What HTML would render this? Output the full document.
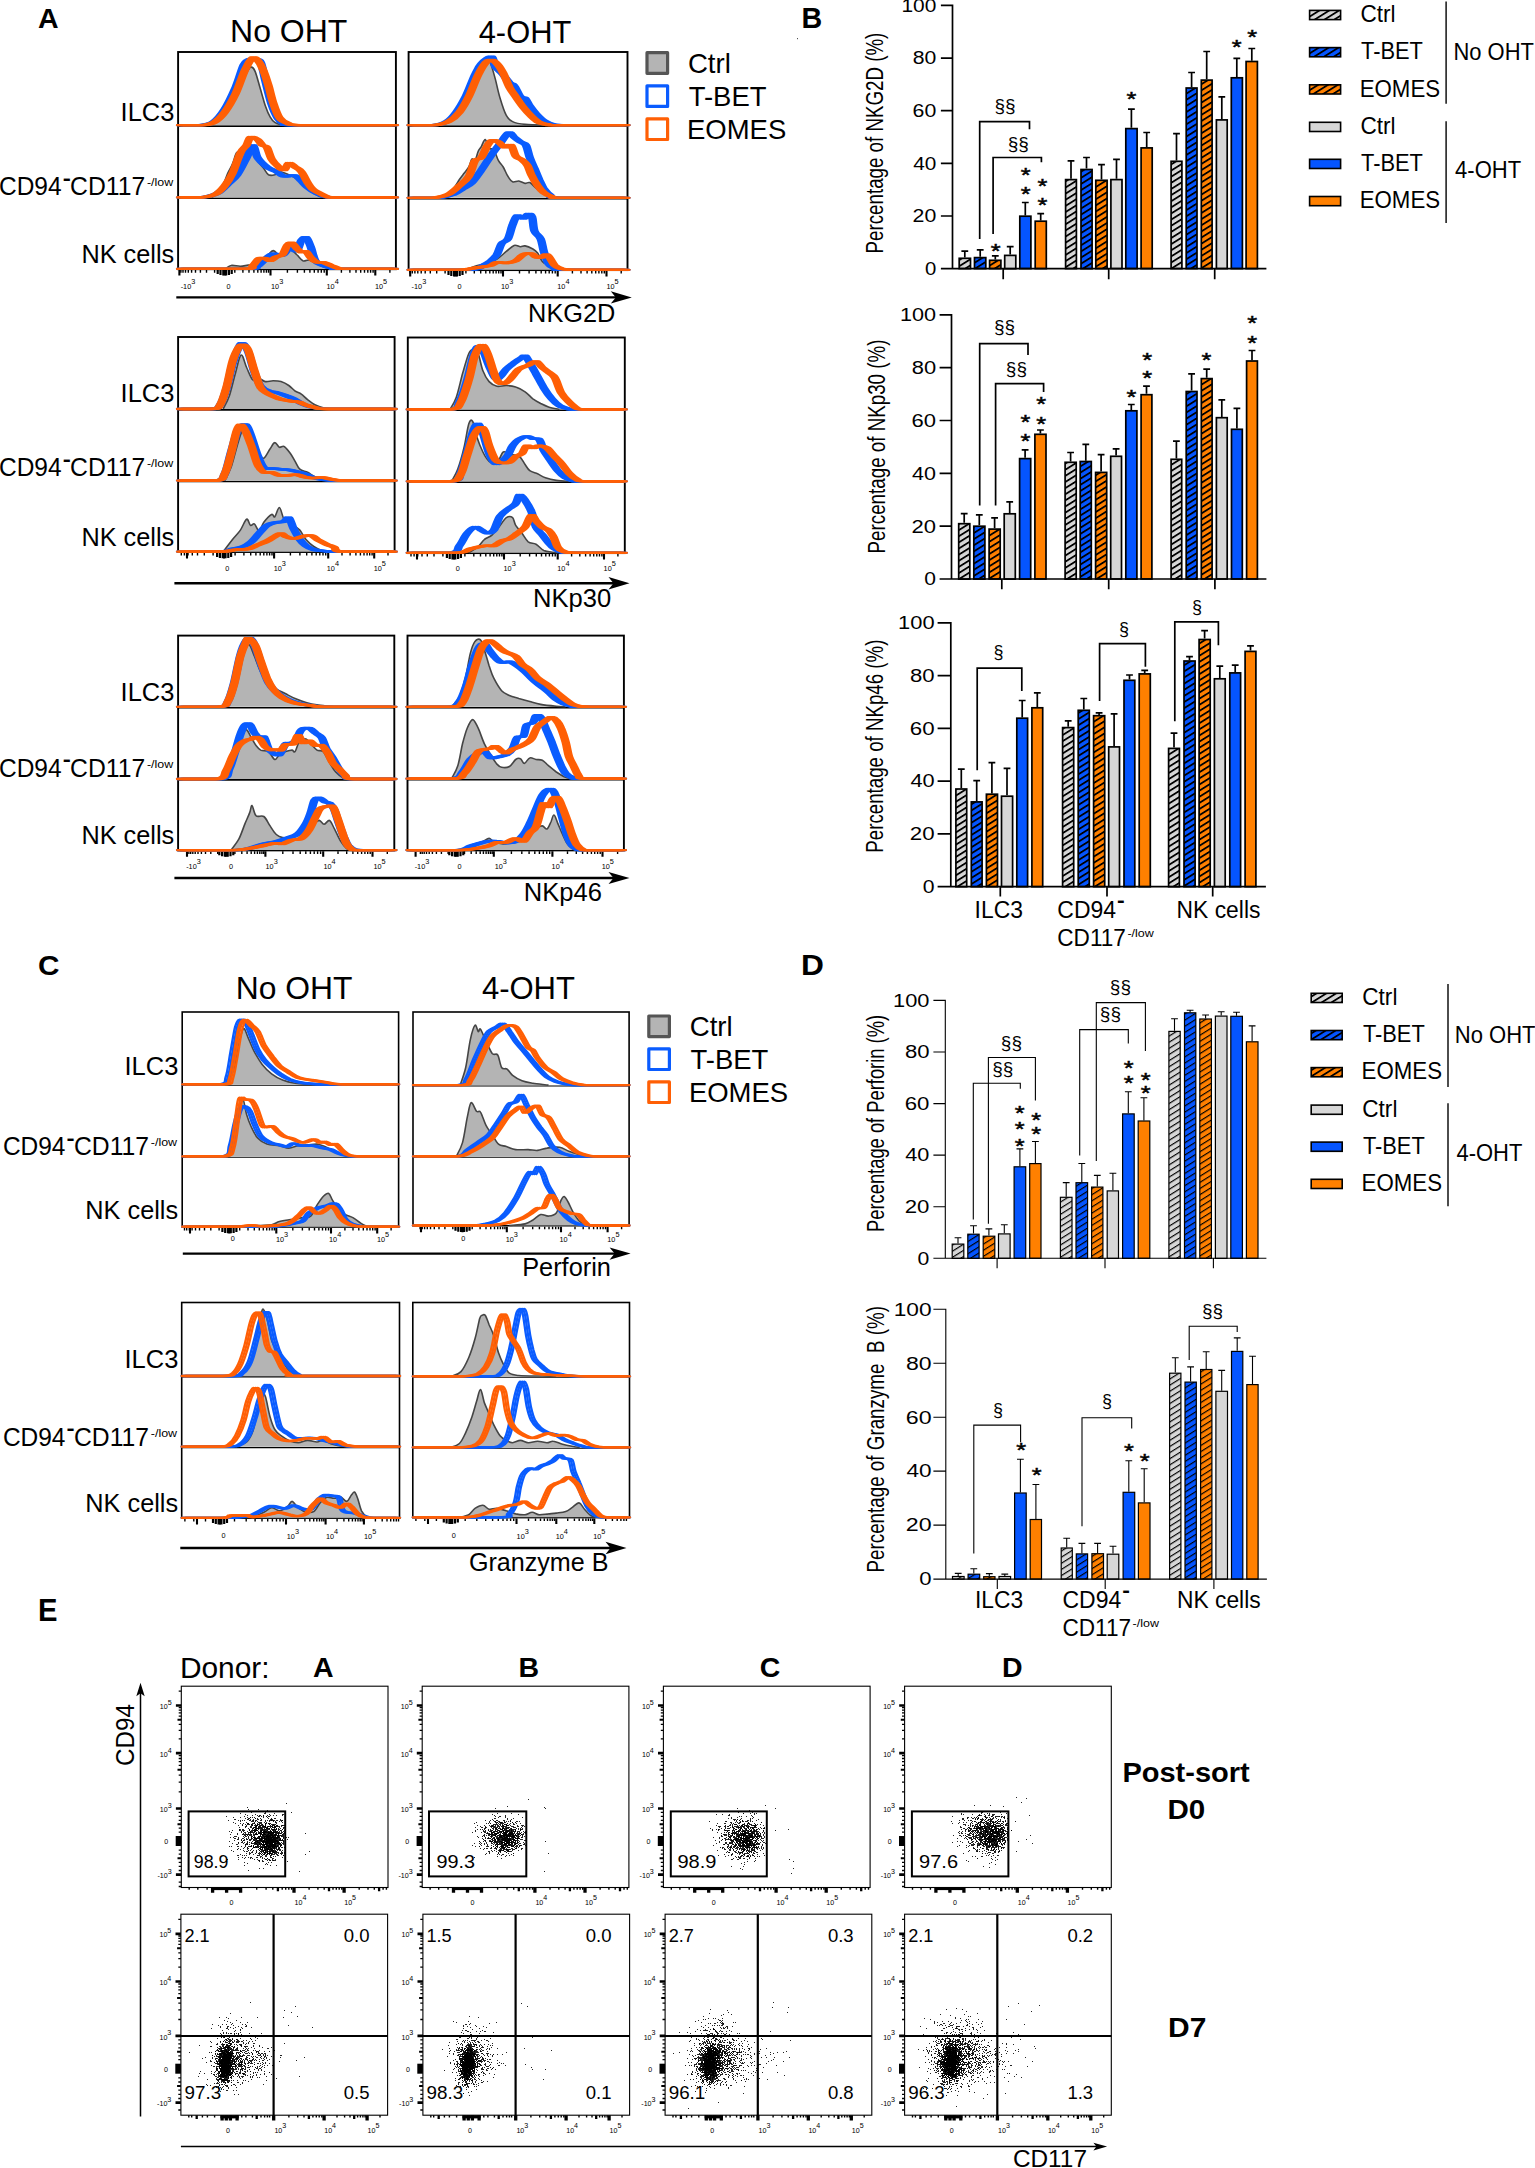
<!DOCTYPE html>
<html><head><meta charset="utf-8"><title>Figure</title>
<style>html,body{margin:0;padding:0;background:#fff}svg{display:block}text{font-family:'Liberation Sans', sans-serif;fill:#000}</style>
</head><body>
<svg width="1535" height="2168" viewBox="0 0 1535 2168">
<defs>
<pattern id="hB" patternUnits="userSpaceOnUse" width="5.2" height="5.2" patternTransform="rotate(-32)"><rect x="0" y="0" width="5.2" height="1.8" fill="#000"/></pattern>
<pattern id="hD" patternUnits="userSpaceOnUse" width="5.2" height="5.2" patternTransform="rotate(-32)"><rect x="0" y="0" width="5.2" height="1.15" fill="#000"/></pattern>
</defs>
<rect width="1535" height="2168" fill="#fff"/>
<text x="37.9" y="27.9" font-size="28.1" font-weight="bold" textLength="20.6" lengthAdjust="spacingAndGlyphs">A</text>
<text x="230.1" y="42.3" font-size="31.2" textLength="117.3" lengthAdjust="spacingAndGlyphs">No OHT</text>
<text x="478.7" y="42.6" font-size="31.2" textLength="92.6" lengthAdjust="spacingAndGlyphs">4-OHT</text>
<rect x="178.1" y="52" width="217.8" height="217.2" fill="#fff" stroke="#000" stroke-width="1.9"/>
<path d="M178.1 126.1L395.9 126.1" stroke="#000" stroke-width="1.5999999999999999" fill="none" />
<path d="M178.1 198.3L395.9 198.3" stroke="#000" stroke-width="1.5999999999999999" fill="none" />
<path d="M224.7 270.1v5.5M270.5 270.1v5.5M326.8 270.1v5.5M375.3 270.1v5.5M179.4 270.1v5.5" stroke="#000" stroke-width="2.1" fill="none"/>
<path d="M287.4 270.1v2.6M297.4 270.1v2.6M304.4 270.1v2.6M309.9 270.1v2.6M314.3 270.1v2.6M318.1 270.1v2.6M321.3 270.1v2.6M324.2 270.1v2.6M341.4 270.1v2.6M349.9 270.1v2.6M356 270.1v2.6M360.7 270.1v2.6M364.5 270.1v2.6M367.8 270.1v2.6M370.6 270.1v2.6M373.1 270.1v2.6M389.9 270.1v2.6M234.8 270.1v2.6M214.6 270.1v2.6M242.9 270.1v2.6M206.5 270.1v2.6M249 270.1v2.6M200.4 270.1v2.6M253.9 270.1v2.6M195.5 270.1v2.6M257.8 270.1v2.6M191.6 270.1v2.6M261.1 270.1v2.6M188.3 270.1v2.6M263.9 270.1v2.6M185.5 270.1v2.6M266.4 270.1v2.6M183 270.1v2.6M268.5 270.1v2.6M180.9 270.1v2.6" stroke="#000" stroke-width="1.4" fill="none"/>
<path d="M217.7 270.1v4.0M220.5 270.1v5.0M223.3 270.1v5.4M226.1 270.1v5.4M228.9 270.1v5.0M231.7 270.1v4.0" stroke="#000" stroke-width="2.2" fill="none"/>
<text x="180.7" y="289.3" font-size="7.3" fill="#222">-10<tspan dy="-5" font-size="7.3">3</tspan></text>
<text x="228.6" y="288.8" font-size="7.3" text-anchor="middle" fill="#222">0</text>
<text x="271" y="289.3" font-size="7.3" fill="#222">10<tspan dy="-5" font-size="7.3">3</tspan></text>
<text x="326.5" y="289.3" font-size="7.3" fill="#222">10<tspan dy="-5" font-size="7.3">4</tspan></text>
<text x="374.9" y="289.3" font-size="7.3" fill="#222">10<tspan dy="-5" font-size="7.3">5</tspan></text>
<path d="M206 125.2C207.8 124.3 213 123.5 216.9 120C220.8 116.6 225.5 110.4 229.4 104.4C233.3 98.4 237.2 89.8 240.4 84.1C243.5 78.4 246.3 72.9 248.2 70C250 67.1 250.1 66.6 251.3 66.9C252.5 67.1 253.8 68.2 255.2 71.6C256.6 75 258.2 81.5 259.9 87.2C261.6 92.9 263.7 101 265.4 106C267.1 110.9 268.5 114.2 270.1 116.9C271.6 119.7 272.7 121 274.8 122.4C276.8 123.8 281.3 124.7 282.6 125.2L282.6 125.2L206 125.2Z" fill="#b4b4b4" stroke="none"/>
<path d="M206 125.2C207.8 124.3 213 123.5 216.9 120C220.8 116.6 225.5 110.4 229.4 104.4C233.3 98.4 237.2 89.8 240.4 84.1C243.5 78.4 246.3 72.9 248.2 70C250 67.1 250.1 66.6 251.3 66.9C252.5 67.1 253.8 68.2 255.2 71.6C256.6 75 258.2 81.5 259.9 87.2C261.6 92.9 263.7 101 265.4 106C267.1 110.9 268.5 114.2 270.1 116.9C271.6 119.7 272.7 121 274.8 122.4C276.8 123.8 281.3 124.7 282.6 125.2" fill="none" stroke="#454545" stroke-width="1.6" stroke-linejoin="round"/>
<g fill="none" stroke="#0a5cff" stroke-width="2.3" stroke-linejoin="round" stroke-linecap="round"><path id="p1" d="M180.1 125.2C183.7 125.2 195.7 125.2 201.3 125.2C206.9 124.6 209.9 124.3 213.8 121.6C217.7 118.9 221.1 114.8 224.7 109.1C228.4 103.4 232.5 94.5 235.7 87.2C238.8 79.9 241.4 69.9 243.5 65.3C245.6 60.8 246.3 60.9 248.2 59.9C250 58.8 252.3 58.7 254.4 59.1C256.5 59.5 258.9 58.6 260.7 62.2C262.5 65.8 263.5 73.9 265.4 81C267.2 88 269.5 98.2 271.6 104.4C273.7 110.7 275.8 115.3 277.9 118.5C280 121.7 281.3 122.5 284.1 123.6C287 124.8 276.6 124.9 295.1 125.2C313.5 125.2 378.3 125.2 394.9 125.2"/><use href="#p1" x="-3.1"/><use href="#p1" x="-1.55"/><use href="#p1" x="1.55"/><use href="#p1" x="3.1"/></g>
<g fill="none" stroke="#ff5f05" stroke-width="2.3" stroke-linejoin="round" stroke-linecap="round"><path id="p2" d="M180.1 125.2C183.7 125.2 195.7 125.2 201.3 125.2C206.9 124.7 209.9 124.6 213.8 122.4C217.7 120.2 221.1 117.1 224.7 112.2C228.4 107.4 232.3 100.5 235.7 93.5C239.1 86.4 242.2 76 245 70C247.9 64 250.5 58.8 252.9 57.5C255.2 56.2 257.3 59.9 259.1 62.2C260.9 64.5 262.2 67.7 263.8 71.6C265.4 75.5 266.9 80.4 268.5 85.7C270.1 90.9 271.4 97.5 273.2 102.8C275 108.2 277.1 114.3 279.4 117.7C281.8 121.1 283.4 121.9 287.3 123.2C291.2 124.4 285 124.9 302.9 125.2C320.8 125.2 379.6 125.2 394.9 125.2"/><use href="#p2" x="-3.1"/><use href="#p2" x="-1.55"/><use href="#p2" x="1.55"/><use href="#p2" x="3.1"/></g>
<path d="M212.2 197.4C213.8 195.7 219 191.3 221.6 187.3C224.2 183.2 226 177.1 227.8 173.2C229.7 169.3 231.1 167.2 232.5 163.8C234 160.4 235.1 155 236.4 152.9C237.8 150.8 238.9 151.3 240.4 151.3C241.8 151.3 243.2 153.7 245 152.9C246.9 152.1 249.2 145.3 251.3 146.6C253.4 147.9 255.5 157 257.6 160.7C259.6 164.3 262 166.2 263.8 168.5C265.6 170.9 266.7 173.7 268.5 174.8C270.3 175.8 272.9 175.3 274.8 174.8C276.6 174.2 277.1 171.6 279.4 171.6C281.8 171.6 285.7 173.5 288.8 174.8C292 176.1 295.1 177.1 298.2 179.5C301.3 181.8 304.2 186.1 307.6 188.8C311 191.6 315.4 194.4 318.5 195.9C321.7 197.3 325 197.2 326.3 197.4L326.3 197.4L212.2 197.4Z" fill="#b4b4b4" stroke="none"/>
<path d="M212.2 197.4C213.8 195.7 219 191.3 221.6 187.3C224.2 183.2 226 177.1 227.8 173.2C229.7 169.3 231.1 167.2 232.5 163.8C234 160.4 235.1 155 236.4 152.9C237.8 150.8 238.9 151.3 240.4 151.3C241.8 151.3 243.2 153.7 245 152.9C246.9 152.1 249.2 145.3 251.3 146.6C253.4 147.9 255.5 157 257.6 160.7C259.6 164.3 262 166.2 263.8 168.5C265.6 170.9 266.7 173.7 268.5 174.8C270.3 175.8 272.9 175.3 274.8 174.8C276.6 174.2 277.1 171.6 279.4 171.6C281.8 171.6 285.7 173.5 288.8 174.8C292 176.1 295.1 177.1 298.2 179.5C301.3 181.8 304.2 186.1 307.6 188.8C311 191.6 315.4 194.4 318.5 195.9C321.7 197.3 325 197.2 326.3 197.4" fill="none" stroke="#454545" stroke-width="1.6" stroke-linejoin="round"/>
<g fill="none" stroke="#0a5cff" stroke-width="2.3" stroke-linejoin="round" stroke-linecap="round"><path id="p3" d="M180.1 197.4C183.7 197.4 195.1 197.4 201.3 197.4C207.4 196.8 212.5 195.7 216.9 193.5C221.3 191.3 224.5 187.3 227.8 184.1C231.2 181 234.1 179.2 237.2 174.8C240.4 170.3 244 162.5 246.6 157.6C249.2 152.6 251 145.1 252.9 145.1C254.7 145.1 255.2 153.9 257.6 157.6C259.9 161.2 263.8 164.6 266.9 167C270.1 169.3 273.5 170.1 276.3 171.6C279.2 173.2 281 175.7 284.1 176.3C287.3 177 292.2 174.8 295.1 175.6C297.9 176.3 299.2 179.1 301.3 181C303.4 183 305 185.2 307.6 187.3C310.2 189.4 313.8 191.9 317 193.5C320.1 195.1 323.2 196.3 326.3 197C329.5 197.4 324.3 197.4 335.7 197.4C347.2 197.4 385.1 197.4 394.9 197.4"/><use href="#p3" x="-3.1"/><use href="#p3" x="-1.55"/><use href="#p3" x="1.55"/><use href="#p3" x="3.1"/></g>
<g fill="none" stroke="#ff5f05" stroke-width="2.3" stroke-linejoin="round" stroke-linecap="round"><path id="p4" d="M180.1 197.4C183.7 197.4 195.4 197.4 201.3 197.4C207.1 196.9 211.4 196.3 215.3 194.3C219.2 192.4 221.9 189.2 224.7 185.7C227.6 182.2 229.9 178.7 232.5 173.2C235.1 167.7 238 157.6 240.4 152.9C242.7 148.2 244.9 147.7 246.6 145.1C248.3 142.5 248.7 138.2 250.5 137.2C252.3 136.3 255.6 138.3 257.6 139.6C259.5 140.9 260.7 143.8 262.2 145.1C263.8 146.4 265.4 145.1 266.9 147.4C268.5 149.8 269.8 156 271.6 159.1C273.5 162.3 275.8 164.3 277.9 166.2C280 168 282.3 170.6 284.1 170.1C286 169.6 287 163.6 288.8 163C290.6 162.5 293 165.5 295.1 167C297.2 168.4 299.2 169 301.3 171.6C303.4 174.2 305.8 179.7 307.6 182.6C309.4 185.5 310.2 187 312.3 188.8C314.4 190.7 317.5 192.2 320.1 193.5C322.7 194.9 325.3 196.3 327.9 197C330.5 197.4 324.6 197.4 335.7 197.4C346.9 197.4 385.1 197.4 394.9 197.4"/><use href="#p4" x="-3.1"/><use href="#p4" x="-1.55"/><use href="#p4" x="1.55"/><use href="#p4" x="3.1"/></g>
<path d="M225.5 268.9C226.4 268.3 228.5 265.9 231 265.5C233.5 265 237.5 266.3 240.4 266.2C243.2 266.2 245.3 265.5 248.2 265.1C251 264.7 254.4 265.4 257.6 263.9C260.7 262.4 264.3 258.3 266.9 256.1C269.5 253.9 271.1 250.6 273.2 250.6C275.3 250.6 277.6 255.3 279.4 256.1C281.3 256.9 282.3 256.3 284.1 255.3C286 254.2 288.3 249.9 290.4 249.8C292.5 249.7 294.6 252.7 296.6 254.5C298.7 256.3 300.8 259.8 302.9 260.8C305 261.7 306.8 259.5 309.1 260C311.5 260.5 314.1 262.6 317 263.9C319.8 265.2 323.7 267 326.3 267.8C329 268.6 331.6 268.7 332.6 268.9L332.6 268.9L225.5 268.9Z" fill="#b4b4b4" stroke="none"/>
<path d="M225.5 268.9C226.4 268.3 228.5 265.9 231 265.5C233.5 265 237.5 266.3 240.4 266.2C243.2 266.2 245.3 265.5 248.2 265.1C251 264.7 254.4 265.4 257.6 263.9C260.7 262.4 264.3 258.3 266.9 256.1C269.5 253.9 271.1 250.6 273.2 250.6C275.3 250.6 277.6 255.3 279.4 256.1C281.3 256.9 282.3 256.3 284.1 255.3C286 254.2 288.3 249.9 290.4 249.8C292.5 249.7 294.6 252.7 296.6 254.5C298.7 256.3 300.8 259.8 302.9 260.8C305 261.7 306.8 259.5 309.1 260C311.5 260.5 314.1 262.6 317 263.9C319.8 265.2 323.7 267 326.3 267.8C329 268.6 331.6 268.7 332.6 268.9" fill="none" stroke="#454545" stroke-width="1.6" stroke-linejoin="round"/>
<g fill="none" stroke="#0a5cff" stroke-width="2.3" stroke-linejoin="round" stroke-linecap="round"><path id="p5" d="M180.1 268.9C191.5 268.9 235.3 268.9 248.2 268.9C261.1 268.4 254.4 268.1 257.6 266.2C260.7 264.4 264.3 259.7 266.9 257.6C269.5 255.5 270.6 254.1 273.2 253.7C275.8 253.3 279.7 256.5 282.6 255.3C285.4 254.1 288 247.3 290.4 246.7C292.7 246 294.8 252.4 296.6 251.4C298.5 250.3 299.8 242.8 301.3 240.4C302.9 238.1 304.5 236.3 306 237.3C307.6 238.4 309.1 242.8 310.7 246.7C312.3 250.6 313.3 257.6 315.4 260.8C317.5 263.9 320.4 264.2 323.2 265.5C326.1 266.7 330 267.7 332.6 268.3C335.2 268.8 328.5 268.8 338.9 268.9C349.2 268.9 385.6 268.9 394.9 268.9"/><use href="#p5" x="-3.1"/><use href="#p5" x="-1.55"/><use href="#p5" x="1.55"/><use href="#p5" x="3.1"/></g>
<g fill="none" stroke="#ff5f05" stroke-width="2.3" stroke-linejoin="round" stroke-linecap="round"><path id="p6" d="M180.1 268.9C190.9 268.9 232.9 268.9 245 268.9C257.2 268.3 250.5 267.2 252.9 265.5C255.2 263.7 257 259.6 259.1 258.4C261.2 257.2 263.5 258 265.4 258.4C267.2 258.8 268.2 261 270.1 260.8C271.9 260.5 274.2 257.9 276.3 256.9C278.4 255.8 280.7 256.5 282.6 254.5C284.4 252.6 285.7 247.1 287.3 245.1C288.8 243.2 290.4 242.3 292 242.8C293.5 243.3 295.1 246.7 296.6 248.3C298.2 249.8 299.8 251.6 301.3 252.2C302.9 252.7 304.5 250.5 306 251.4C307.6 252.3 308.9 255.8 310.7 257.6C312.5 259.5 314.9 261.5 317 262.3C319.1 263.1 320.9 261.8 323.2 262.3C325.6 262.8 328.4 264.4 331 265.5C333.6 266.5 336.5 268 338.9 268.6C341.2 268.9 335.8 268.8 345.1 268.9C354.5 268.9 386.6 268.9 394.9 268.9"/><use href="#p6" x="-3.1"/><use href="#p6" x="-1.55"/><use href="#p6" x="1.55"/><use href="#p6" x="3.1"/></g>
<rect x="408.6" y="52" width="218.9" height="218.1" fill="#fff" stroke="#000" stroke-width="1.9"/>
<path d="M408.6 126.1L627.5 126.1" stroke="#000" stroke-width="1.5999999999999999" fill="none" />
<path d="M408.6 198.7L627.5 198.7" stroke="#000" stroke-width="1.5999999999999999" fill="none" />
<path d="M455.5 271v5.5M503 271v5.5M557.7 271v5.5M606.5 271v5.5M410.2 271v5.5" stroke="#000" stroke-width="2.1" fill="none"/>
<path d="M519.5 271v2.6M529.1 271v2.6M535.9 271v2.6M541.2 271v2.6M545.6 271v2.6M549.2 271v2.6M552.4 271v2.6M555.2 271v2.6M572.4 271v2.6M581 271v2.6M587.1 271v2.6M591.8 271v2.6M595.7 271v2.6M598.9 271v2.6M601.8 271v2.6M604.3 271v2.6M621.2 271v2.6M465.9 271v2.6M445.1 271v2.6M474.3 271v2.6M436.7 271v2.6M480.7 271v2.6M430.3 271v2.6M485.8 271v2.6M425.2 271v2.6M489.8 271v2.6M421.2 271v2.6M493.2 271v2.6M417.8 271v2.6M496.1 271v2.6M414.9 271v2.6M498.7 271v2.6M412.3 271v2.6M501 271v2.6M410 271v2.6" stroke="#000" stroke-width="1.4" fill="none"/>
<path d="M448.5 271v4.0M451.3 271v5.0M454.1 271v5.4M456.9 271v5.4M459.7 271v5.0M462.5 271v4.0" stroke="#000" stroke-width="2.2" fill="none"/>
<text x="411.6" y="289.3" font-size="7.3" fill="#222">-10<tspan dy="-5" font-size="7.3">3</tspan></text>
<text x="459.6" y="288.8" font-size="7.3" text-anchor="middle" fill="#222">0</text>
<text x="501" y="289.3" font-size="7.3" fill="#222">10<tspan dy="-5" font-size="7.3">3</tspan></text>
<text x="557.3" y="289.3" font-size="7.3" fill="#222">10<tspan dy="-5" font-size="7.3">4</tspan></text>
<text x="606.4" y="289.3" font-size="7.3" fill="#222">10<tspan dy="-5" font-size="7.3">5</tspan></text>
<path d="M439.1 125.2C441.2 124.1 447.7 122.2 451.6 118.5C455.5 114.8 459.4 108.3 462.5 102.8C465.7 97.4 467.8 91.9 470.4 85.7C473 79.4 475.6 69.9 478.2 65.3C480.8 60.8 483.9 58.6 486 58.3C488.1 58 489.1 60.2 490.7 63.8C492.2 67.3 493.8 73.7 495.4 79.4C496.9 85.1 498.2 92.2 500.1 98.2C501.9 104.2 504.2 111.4 506.3 115.4C508.4 119.3 509.4 120.1 512.6 121.6C515.7 123.1 519.1 123.8 525.1 124.4C531.1 125 544.6 125.1 548.5 125.2L548.5 125.2L439.1 125.2Z" fill="#b4b4b4" stroke="none"/>
<path d="M439.1 125.2C441.2 124.1 447.7 122.2 451.6 118.5C455.5 114.8 459.4 108.3 462.5 102.8C465.7 97.4 467.8 91.9 470.4 85.7C473 79.4 475.6 69.9 478.2 65.3C480.8 60.8 483.9 58.6 486 58.3C488.1 58 489.1 60.2 490.7 63.8C492.2 67.3 493.8 73.7 495.4 79.4C496.9 85.1 498.2 92.2 500.1 98.2C501.9 104.2 504.2 111.4 506.3 115.4C508.4 119.3 509.4 120.1 512.6 121.6C515.7 123.1 519.1 123.8 525.1 124.4C531.1 125 544.6 125.1 548.5 125.2" fill="none" stroke="#454545" stroke-width="1.6" stroke-linejoin="round"/>
<g fill="none" stroke="#0a5cff" stroke-width="2.3" stroke-linejoin="round" stroke-linecap="round"><path id="p7" d="M410.6 125.2C414.6 125.2 428.3 125.2 434.4 125.2C440.4 124.6 443.3 123.8 446.9 121.6C450.6 119.4 453.2 116.4 456.3 112.2C459.4 108.1 462.5 102.8 465.7 96.6C468.8 90.3 472.4 80.2 475 74.7C477.7 69.2 478.6 66.8 481.3 63.8C484 60.8 489.1 56.2 491.5 56.7C493.8 57.2 493.7 64.2 495.4 66.9C497.1 69.6 499.3 70.5 501.6 73.1C504 75.7 507.4 80.4 509.4 82.5C511.5 84.6 512.3 83.3 514.1 85.7C516 88 518.6 94.5 520.4 96.6C522.2 98.7 523.5 96.6 525.1 98.2C526.6 99.7 527.9 103.4 529.8 106C531.6 108.6 533.7 111.3 536 113.8C538.4 116.3 541 119 543.8 120.8C546.7 122.7 549.8 124 553.2 124.7C556.6 125.2 552 125.1 564.2 125.2C576.4 125.2 616.1 125.2 626.5 125.2"/><use href="#p7" x="-3.1"/><use href="#p7" x="-1.55"/><use href="#p7" x="1.55"/><use href="#p7" x="3.1"/></g>
<g fill="none" stroke="#ff5f05" stroke-width="2.3" stroke-linejoin="round" stroke-linecap="round"><path id="p8" d="M410.6 125.2C414.6 125.2 428.1 125.2 434.4 125.2C440.7 124.6 444.3 123.8 448.5 121.6C452.6 119.4 456 116.4 459.4 112.2C462.8 108.1 465.7 102.8 468.8 96.6C471.9 90.3 475.3 80.4 478.2 74.7C481 69 483.8 64.7 486 62.2C488.2 59.7 489.5 59.5 491.5 59.9C493.4 60.2 495.8 62.3 497.7 64.5C499.7 66.8 501.2 69.4 503.2 73.1C505.1 76.9 507.4 83.3 509.4 87.2C511.5 91.1 513.4 93.2 515.7 96.6C518 100 520.9 104.3 523.5 107.5C526.1 110.8 528.7 113.7 531.3 116.1C533.9 118.6 536.3 121 539.1 122.4C542 123.8 545.7 124.3 548.5 124.7C551.4 125.2 543.4 125.1 556.3 125.2C569.3 125.2 614.8 125.2 626.5 125.2"/><use href="#p8" x="-3.1"/><use href="#p8" x="-1.55"/><use href="#p8" x="1.55"/><use href="#p8" x="3.1"/></g>
<path d="M443.8 197.8C445.3 196.3 450.6 191.9 453.2 188.8C455.8 185.8 457.6 182.1 459.4 179.5C461.2 176.9 462.5 175.3 464.1 173.2C465.7 171.1 467.5 169.3 468.8 167C470.1 164.6 470.9 160.2 471.9 159.1C473 158.1 474 162 475 160.7C476.1 159.4 477.1 153.7 478.2 151.3C479.2 149 480.1 148.6 481.3 146.6C482.5 144.7 483.9 139.3 485.2 139.6C486.5 139.9 487.7 146.5 489.1 148.2C490.6 149.9 492.2 147.7 493.8 149.8C495.4 151.8 496.9 157.8 498.5 160.7C500.1 163.6 501.6 164.3 503.2 167C504.8 169.6 506.3 173.9 507.9 176.3C509.4 178.8 510.7 181 512.6 181.8C514.4 182.6 516.7 180.8 518.8 181C520.9 181.3 523.3 183.1 525.1 183.4C526.9 183.6 527.9 181.8 529.8 182.6C531.6 183.4 533.7 186.2 536 188.1C538.4 189.9 541 192 543.8 193.5C546.7 195.1 551.7 196.8 553.2 197.4L553.2 197.8L443.8 197.8Z" fill="#b4b4b4" stroke="none"/>
<path d="M443.8 197.8C445.3 196.3 450.6 191.9 453.2 188.8C455.8 185.8 457.6 182.1 459.4 179.5C461.2 176.9 462.5 175.3 464.1 173.2C465.7 171.1 467.5 169.3 468.8 167C470.1 164.6 470.9 160.2 471.9 159.1C473 158.1 474 162 475 160.7C476.1 159.4 477.1 153.7 478.2 151.3C479.2 149 480.1 148.6 481.3 146.6C482.5 144.7 483.9 139.3 485.2 139.6C486.5 139.9 487.7 146.5 489.1 148.2C490.6 149.9 492.2 147.7 493.8 149.8C495.4 151.8 496.9 157.8 498.5 160.7C500.1 163.6 501.6 164.3 503.2 167C504.8 169.6 506.3 173.9 507.9 176.3C509.4 178.8 510.7 181 512.6 181.8C514.4 182.6 516.7 180.8 518.8 181C520.9 181.3 523.3 183.1 525.1 183.4C526.9 183.6 527.9 181.8 529.8 182.6C531.6 183.4 533.7 186.2 536 188.1C538.4 189.9 541 192 543.8 193.5C546.7 195.1 551.7 196.8 553.2 197.4" fill="none" stroke="#454545" stroke-width="1.6" stroke-linejoin="round"/>
<g fill="none" stroke="#0a5cff" stroke-width="2.3" stroke-linejoin="round" stroke-linecap="round"><path id="p9" d="M410.6 197.8C415.3 197.8 432 197.8 439.1 197.8C446.2 197.2 449.2 195.8 453.2 194.3C457.1 192.8 459.4 190.8 462.5 188.8C465.7 186.9 468.8 185.7 471.9 182.6C475 179.5 478.2 174.5 481.3 170.1C484.4 165.6 487.6 160.4 490.7 156C493.8 151.6 497.1 147.4 500.1 143.5C503.1 139.6 506.3 133.6 508.7 132.6C511 131.5 512.2 135.7 514.1 137.2C516.1 138.8 518.4 140.6 520.4 141.9C522.3 143.2 524.3 142.5 525.9 145.1C527.4 147.7 528.3 153.7 529.8 157.6C531.2 161.5 532.9 164.9 534.5 168.5C536 172.2 537.6 176.1 539.1 179.5C540.7 182.8 542 186.2 543.8 188.8C545.7 191.4 547.7 193.6 550.1 195.1C552.4 196.6 545.2 197.3 557.9 197.8C570.6 197.8 615.1 197.8 626.5 197.8"/><use href="#p9" x="-3.1"/><use href="#p9" x="-1.55"/><use href="#p9" x="1.55"/><use href="#p9" x="3.1"/></g>
<g fill="none" stroke="#ff5f05" stroke-width="2.3" stroke-linejoin="round" stroke-linecap="round"><path id="p10" d="M410.6 197.8C414.6 197.8 428.1 197.8 434.4 197.8C440.7 197.2 444.3 196.3 448.5 194.3C452.6 192.3 456 188.7 459.4 185.7C462.8 182.7 466.2 180.5 468.8 176.3C471.4 172.2 473 163.8 475 160.7C477.1 157.6 479.2 160.2 481.3 157.6C483.4 155 485.7 147.9 487.6 145.1C489.4 142.2 490.4 140.9 492.2 140.4C494.1 139.9 496.4 140.8 498.5 141.9C500.6 143.1 502.7 146.9 504.8 147.4C506.8 147.9 509.2 143.6 511 145.1C512.8 146.5 513.9 153.5 515.7 156C517.5 158.5 520 158.4 522 159.9C523.9 161.5 525.9 162.9 527.4 165.4C529 167.9 529.6 171.4 531.3 174.8C533 178.2 535.5 182.7 537.6 185.7C539.7 188.7 541.5 190.9 543.8 192.7C546.2 194.6 549.1 195.8 551.7 196.7C554.3 197.5 547 197.6 559.5 197.8C571.9 197.8 615.3 197.8 626.5 197.8"/><use href="#p10" x="-3.1"/><use href="#p10" x="-1.55"/><use href="#p10" x="1.55"/><use href="#p10" x="3.1"/></g>
<path d="M465.7 269.8C467.2 269.2 471.4 267.4 475 266.2C478.7 265.1 483.9 264.3 487.6 263.1C491.2 261.9 493.8 261.2 496.9 259.2C500.1 257.2 503.5 253.7 506.3 251.4C509.2 249.1 511.8 246.2 514.1 245.4C516.5 244.7 518.6 246.6 520.4 246.7C522.2 246.8 523 245.5 525.1 245.9C527.2 246.3 530.8 247.9 532.9 249C535 250.2 536 250.9 537.6 252.9C539.1 255 540.7 259.7 542.3 261.5C543.8 263.4 545.1 263.5 547 263.9C548.8 264.3 551.1 263.4 553.2 263.9C555.3 264.4 557.4 266 559.5 267C561.6 268 564.7 269.4 565.7 269.8L565.7 269.8L465.7 269.8Z" fill="#b4b4b4" stroke="none"/>
<path d="M465.7 269.8C467.2 269.2 471.4 267.4 475 266.2C478.7 265.1 483.9 264.3 487.6 263.1C491.2 261.9 493.8 261.2 496.9 259.2C500.1 257.2 503.5 253.7 506.3 251.4C509.2 249.1 511.8 246.2 514.1 245.4C516.5 244.7 518.6 246.6 520.4 246.7C522.2 246.8 523 245.5 525.1 245.9C527.2 246.3 530.8 247.9 532.9 249C535 250.2 536 250.9 537.6 252.9C539.1 255 540.7 259.7 542.3 261.5C543.8 263.4 545.1 263.5 547 263.9C548.8 264.3 551.1 263.4 553.2 263.9C555.3 264.4 557.4 266 559.5 267C561.6 268 564.7 269.4 565.7 269.8" fill="none" stroke="#454545" stroke-width="1.6" stroke-linejoin="round"/>
<g fill="none" stroke="#0a5cff" stroke-width="2.3" stroke-linejoin="round" stroke-linecap="round"><path id="p11" d="M410.6 269.8C420.6 269.8 458.3 269.8 470.4 269.8C482.4 269.1 479.5 267 482.9 265.5C486.3 263.9 488.3 262.6 490.7 260.8C493 258.9 495.1 257.4 496.9 254.5C498.8 251.6 499.8 246.2 501.6 243.6C503.5 241 506.1 242 507.9 238.9C509.7 235.7 511 228.7 512.6 224.8C514.1 220.9 515.4 216.5 517.3 215.4C519.1 214.4 521.7 218.8 523.5 218.5C525.3 218.3 526.8 214.1 528.2 213.9C529.6 213.6 531.1 214.1 532.1 217C533.2 219.8 533 227.4 534.5 231.1C535.9 234.7 539.1 235.5 540.7 238.9C542.3 242.3 542.5 247.2 543.8 251.4C545.1 255.5 546.7 261 548.5 263.9C550.4 266.8 552.4 267.6 554.8 268.6C557.1 269.6 550.7 269.6 562.6 269.8C574.6 269.8 615.8 269.8 626.5 269.8"/><use href="#p11" x="-3.1"/><use href="#p11" x="-1.55"/><use href="#p11" x="1.55"/><use href="#p11" x="3.1"/></g>
<g fill="none" stroke="#ff5f05" stroke-width="2.3" stroke-linejoin="round" stroke-linecap="round"><path id="p12" d="M410.6 269.8C418.7 269.8 449.5 269.8 459.4 269.8C469.4 269.6 466.7 269 470.4 268.6C474 268.1 477.9 267.5 481.3 267C484.7 266.5 488.1 266.2 490.7 265.5C493.3 264.7 494.3 262.7 496.9 262.3C499.5 261.9 503.2 263.4 506.3 263.1C509.4 262.8 512.8 262.2 515.7 260.8C518.6 259.3 520.9 255.7 523.5 254.5C526.1 253.3 529.2 253.3 531.3 253.7C533.4 254.1 534.5 256.2 536 256.9C537.6 257.5 539 258 540.7 257.6C542.4 257.2 544.6 254.4 546.2 254.5C547.7 254.6 548.7 256.6 550.1 258.4C551.5 260.2 553 263.8 554.8 265.5C556.6 267.1 558.2 267.8 561 268.6C563.9 269.3 561.1 269.6 572 269.8C582.9 269.8 617.4 269.8 626.5 269.8"/><use href="#p12" x="-3.1"/><use href="#p12" x="-1.55"/><use href="#p12" x="1.55"/><use href="#p12" x="3.1"/></g>
<rect x="178.1" y="337" width="216.5" height="215" fill="#fff" stroke="#000" stroke-width="1.9"/>
<path d="M178.1 409.9L394.7 409.9" stroke="#000" stroke-width="1.5999999999999999" fill="none" />
<path d="M178.1 481.5L394.7 481.5" stroke="#000" stroke-width="1.5999999999999999" fill="none" />
<path d="M224.1 552.9v5.5M274.1 552.9v5.5M328.2 552.9v5.5M374.2 552.9v5.5M187 552.9v5.5" stroke="#000" stroke-width="2.1" fill="none"/>
<path d="M290.4 552.9v2.6M299.9 552.9v2.6M306.7 552.9v2.6M311.9 552.9v2.6M316.2 552.9v2.6M319.8 552.9v2.6M323 552.9v2.6M325.7 552.9v2.6M342 552.9v2.6M350.1 552.9v2.6M355.9 552.9v2.6M360.4 552.9v2.6M364 552.9v2.6M367.1 552.9v2.6M369.7 552.9v2.6M372.1 552.9v2.6M388 552.9v2.6M235.1 552.9v2.6M213.1 552.9v2.6M243.9 552.9v2.6M204.3 552.9v2.6M250.7 552.9v2.6M197.5 552.9v2.6M255.9 552.9v2.6M192.3 552.9v2.6M260.2 552.9v2.6M188 552.9v2.6M263.8 552.9v2.6M184.4 552.9v2.6M266.9 552.9v2.6M181.3 552.9v2.6M269.6 552.9v2.6M272 552.9v2.6" stroke="#000" stroke-width="1.4" fill="none"/>
<path d="M217.1 552.9v4.0M219.9 552.9v5.0M222.7 552.9v5.4M225.5 552.9v5.4M228.3 552.9v5.0M231.1 552.9v4.0" stroke="#000" stroke-width="2.2" fill="none"/>
<text x="227.2" y="570.5" font-size="7.3" text-anchor="middle" fill="#222">0</text>
<text x="273.7" y="571" font-size="7.3" fill="#222">10<tspan dy="-5" font-size="7.3">3</tspan></text>
<text x="326.8" y="571" font-size="7.3" fill="#222">10<tspan dy="-5" font-size="7.3">4</tspan></text>
<text x="373.7" y="571" font-size="7.3" fill="#222">10<tspan dy="-5" font-size="7.3">5</tspan></text>
<path d="M223.2 409C224.2 406.7 227.3 401.8 229.4 395.7C231.5 389.5 233.7 379 235.7 372.2C237.6 365.4 239.3 355.8 241.1 355C243 354.2 244.7 363.4 246.6 367.5C248.6 371.7 250.8 378.2 252.9 380C254.9 381.9 257 378.2 259.1 378.5C261.2 378.7 263 381.2 265.4 381.6C267.7 382 270.6 380.8 273.2 380.8C275.8 380.8 278.4 380.8 281 381.6C283.6 382.4 286.5 383.9 288.8 385.5C291.2 387.1 293 389.5 295.1 391C297.2 392.4 299.2 392.7 301.3 394.1C303.4 395.5 305.2 397.8 307.6 399.6C309.9 401.4 312.8 403.7 315.4 405C318 406.4 320.4 407.2 323.2 407.9C326.1 408.5 331 408.8 332.6 409L332.6 409L223.2 409Z" fill="#b4b4b4" stroke="none"/>
<path d="M223.2 409C224.2 406.7 227.3 401.8 229.4 395.7C231.5 389.5 233.7 379 235.7 372.2C237.6 365.4 239.3 355.8 241.1 355C243 354.2 244.7 363.4 246.6 367.5C248.6 371.7 250.8 378.2 252.9 380C254.9 381.9 257 378.2 259.1 378.5C261.2 378.7 263 381.2 265.4 381.6C267.7 382 270.6 380.8 273.2 380.8C275.8 380.8 278.4 380.8 281 381.6C283.6 382.4 286.5 383.9 288.8 385.5C291.2 387.1 293 389.5 295.1 391C297.2 392.4 299.2 392.7 301.3 394.1C303.4 395.5 305.2 397.8 307.6 399.6C309.9 401.4 312.8 403.7 315.4 405C318 406.4 320.4 407.2 323.2 407.9C326.1 408.5 331 408.8 332.6 409" fill="none" stroke="#454545" stroke-width="1.6" stroke-linejoin="round"/>
<g fill="none" stroke="#0a5cff" stroke-width="2.3" stroke-linejoin="round" stroke-linecap="round"><path id="p13" d="M180.1 409C185.5 409 205.6 409 212.2 409C218.9 408.3 217.7 408.3 220 405C222.4 401.8 224.2 396.2 226.3 389.4C228.4 382.6 230.5 371.4 232.5 364.4C234.6 357.4 237.1 350.7 238.8 347.2C240.5 343.7 241.1 342.5 242.7 343.3C244.3 344.1 246.2 347.1 248.2 351.9C250.1 356.7 252.3 366.5 254.4 372.2C256.5 377.9 258.3 383.2 260.7 386.3C263 389.4 265.9 389.9 268.5 391C271.1 392 273.5 391.8 276.3 392.5C279.2 393.3 282.8 394.6 285.7 395.7C288.6 396.7 290.9 397.5 293.5 398.8C296.1 400.1 298.5 402.1 301.3 403.5C304.2 404.8 307.6 406.1 310.7 406.9C313.8 407.8 316.4 408.3 320.1 408.6C323.7 409 320.3 408.9 332.6 409C344.9 409 383.5 409 393.7 409"/><use href="#p13" x="-3.1"/><use href="#p13" x="-1.55"/><use href="#p13" x="1.55"/><use href="#p13" x="3.1"/></g>
<g fill="none" stroke="#ff5f05" stroke-width="2.3" stroke-linejoin="round" stroke-linecap="round"><path id="p14" d="M180.1 409C185.5 409 205.6 409 212.2 409C218.9 408.3 217.7 408.6 220 405C222.4 401.5 224.2 395.1 226.3 387.8C228.4 380.6 230.5 368 232.5 361.3C234.6 354.5 237 349.9 238.8 347.2C240.6 344.5 241.9 344.3 243.5 344.9C245 345.4 246.3 346 248.2 350.3C250 354.6 252.3 364.4 254.4 370.7C256.5 376.9 258.3 383.9 260.7 387.8C263 391.8 265.4 392.3 268.5 394.1C271.6 395.9 275.8 397.6 279.4 398.8C283.1 400 287.3 400.6 290.4 401.1C293.5 401.7 295.6 401.3 298.2 401.9C300.8 402.6 303.2 404.1 306 405C308.9 406 312 407.1 315.4 407.7C318.8 408.4 313.3 408.7 326.3 409C339.4 409 382.5 409 393.7 409"/><use href="#p14" x="-3.1"/><use href="#p14" x="-1.55"/><use href="#p14" x="1.55"/><use href="#p14" x="3.1"/></g>
<path d="M224.7 480.6C225.8 478.4 228.9 473.4 231 467.6C233.1 461.8 235.3 452 237.2 445.7C239.2 439.4 240.9 432.4 242.7 430.1C244.5 427.7 246.5 430.1 248.2 431.6C249.9 433.2 251 435.8 252.9 439.4C254.7 443.1 257.3 450.4 259.1 453.5C260.9 456.6 262 459 263.8 458.2C265.6 457.4 268.2 451.4 270.1 448.8C271.9 446.2 273.2 442.8 274.8 442.6C276.3 442.3 277.9 446.6 279.4 447.3C281 447.9 282.3 445.4 284.1 446.5C286 447.5 288.6 451 290.4 453.5C292.2 456 293.5 458.7 295.1 461.3C296.6 463.9 297.7 467.3 299.8 469.1C301.9 471 305 471 307.6 472.3C310.2 473.6 312.3 475.7 315.4 477C318.5 478.2 322.4 479.2 326.3 479.8C330.3 480.4 336.8 480.4 338.9 480.6L338.9 480.6L224.7 480.6Z" fill="#b4b4b4" stroke="none"/>
<path d="M224.7 480.6C225.8 478.4 228.9 473.4 231 467.6C233.1 461.8 235.3 452 237.2 445.7C239.2 439.4 240.9 432.4 242.7 430.1C244.5 427.7 246.5 430.1 248.2 431.6C249.9 433.2 251 435.8 252.9 439.4C254.7 443.1 257.3 450.4 259.1 453.5C260.9 456.6 262 459 263.8 458.2C265.6 457.4 268.2 451.4 270.1 448.8C271.9 446.2 273.2 442.8 274.8 442.6C276.3 442.3 277.9 446.6 279.4 447.3C281 447.9 282.3 445.4 284.1 446.5C286 447.5 288.6 451 290.4 453.5C292.2 456 293.5 458.7 295.1 461.3C296.6 463.9 297.7 467.3 299.8 469.1C301.9 471 305 471 307.6 472.3C310.2 473.6 312.3 475.7 315.4 477C318.5 478.2 322.4 479.2 326.3 479.8C330.3 480.4 336.8 480.4 338.9 480.6" fill="none" stroke="#454545" stroke-width="1.6" stroke-linejoin="round"/>
<g fill="none" stroke="#0a5cff" stroke-width="2.3" stroke-linejoin="round" stroke-linecap="round"><path id="p15" d="M180.1 480.6C186.3 480.6 209.5 480.6 216.9 480.6C224.3 479.4 222.4 478.6 224.7 473.8C227.1 469.1 228.9 459 231 452C233.1 444.9 235.4 436.1 237.2 431.6C239.1 427.2 240.4 426.4 241.9 425.4C243.5 424.3 245 423.5 246.6 425.4C248.2 427.2 249.5 431.4 251.3 436.3C253.1 441.3 255.5 449.9 257.6 455.1C259.6 460.3 261.5 465.4 263.8 467.6C266.2 469.8 269 468.1 271.6 468.4C274.2 468.6 276.6 468.9 279.4 469.1C282.3 469.4 286 469.5 288.8 469.9C291.7 470.3 294 470.8 296.6 471.5C299.2 472.1 301.6 472.8 304.5 473.8C307.3 474.9 310.2 476.7 313.8 477.7C317.5 478.8 321.7 479.6 326.3 480.1C331 480.6 330.8 480.5 342 480.6C353.2 480.6 385.1 480.6 393.7 480.6"/><use href="#p15" x="-3.1"/><use href="#p15" x="-1.55"/><use href="#p15" x="1.55"/><use href="#p15" x="3.1"/></g>
<g fill="none" stroke="#ff5f05" stroke-width="2.3" stroke-linejoin="round" stroke-linecap="round"><path id="p16" d="M180.1 480.6C186.3 480.6 209.5 480.6 216.9 480.6C224.3 479.4 222.4 478.3 224.7 473.8C227.1 469.3 229 460.6 231 453.5C232.9 446.5 234.9 436.4 236.4 431.6C238 426.8 238.9 424.9 240.4 424.6C241.8 424.3 243.2 426.5 245 430.1C246.9 433.6 249.2 440 251.3 445.7C253.4 451.4 255.5 460 257.6 464.5C259.6 468.9 261.5 471 263.8 472.3C266.2 473.6 269 471.8 271.6 472.3C274.2 472.8 276.6 474.9 279.4 475.4C282.3 475.9 286 475.5 288.8 475.4C291.7 475.3 294 474.4 296.6 474.6C299.2 474.9 301.9 476.4 304.5 477C307.1 477.6 309.4 478.2 312.3 478.2C315.1 478.3 318.3 477.1 321.7 477.3C325 477.5 328.7 478.8 332.6 479.3C336.5 479.9 334.9 480.4 345.1 480.6C355.3 480.6 385.6 480.6 393.7 480.6"/><use href="#p16" x="-3.1"/><use href="#p16" x="-1.55"/><use href="#p16" x="1.55"/><use href="#p16" x="3.1"/></g>
<path d="M223.2 551.7C224.7 549.7 229.7 543.1 232.5 539.5C235.4 535.9 238 533.5 240.4 530.1C242.7 526.7 244.9 520 246.6 519.2C248.3 518.4 249.2 524.7 250.5 525.4C251.8 526.2 253 523 254.4 523.9C255.9 524.8 257.6 531.2 259.1 530.9C260.7 530.6 261.7 525 263.8 522.3C265.9 519.6 269.8 515.4 271.6 514.5C273.5 513.6 273.5 518 274.8 516.8C276.1 515.7 277.9 507.1 279.4 507.5C281 507.8 282.3 517.1 284.1 519.2C286 521.3 288.6 518.8 290.4 520C292.2 521.1 293.5 524.5 295.1 526.2C296.6 527.9 297.9 527.9 299.8 530.1C301.6 532.3 303.7 536.8 306 539.5C308.4 542.2 311.2 544.7 313.8 546.5C316.4 548.4 319.3 549.6 321.7 550.5C324 551.3 326.9 551.5 327.9 551.7L327.9 551.7L223.2 551.7Z" fill="#b4b4b4" stroke="none"/>
<path d="M223.2 551.7C224.7 549.7 229.7 543.1 232.5 539.5C235.4 535.9 238 533.5 240.4 530.1C242.7 526.7 244.9 520 246.6 519.2C248.3 518.4 249.2 524.7 250.5 525.4C251.8 526.2 253 523 254.4 523.9C255.9 524.8 257.6 531.2 259.1 530.9C260.7 530.6 261.7 525 263.8 522.3C265.9 519.6 269.8 515.4 271.6 514.5C273.5 513.6 273.5 518 274.8 516.8C276.1 515.7 277.9 507.1 279.4 507.5C281 507.8 282.3 517.1 284.1 519.2C286 521.3 288.6 518.8 290.4 520C292.2 521.1 293.5 524.5 295.1 526.2C296.6 527.9 297.9 527.9 299.8 530.1C301.6 532.3 303.7 536.8 306 539.5C308.4 542.2 311.2 544.7 313.8 546.5C316.4 548.4 319.3 549.6 321.7 550.5C324 551.3 326.9 551.5 327.9 551.7" fill="none" stroke="#454545" stroke-width="1.6" stroke-linejoin="round"/>
<g fill="none" stroke="#0a5cff" stroke-width="2.3" stroke-linejoin="round" stroke-linecap="round"><path id="p17" d="M180.1 551.7C187 551.7 212.9 551.7 221.6 551.7C230.3 551.2 228.9 549.7 232.5 548.9C236.2 548 240.4 547.7 243.5 546.5C246.6 545.4 248.7 544.1 251.3 541.9C253.9 539.6 256.5 536 259.1 533.3C261.7 530.5 264.1 527.3 266.9 525.4C269.8 523.6 273.5 523 276.3 522.3C279.2 521.7 282 522.3 284.1 521.5C286.2 520.7 287.3 516.4 288.8 517.6C290.4 518.8 291.7 524.9 293.5 528.6C295.3 532.2 297.7 536.6 299.8 539.5C301.9 542.4 303.7 544.1 306 545.8C308.4 547.5 310.5 548.8 313.8 549.7C317.2 550.6 322.7 550.9 326.3 551.2C330 551.6 324.5 551.6 335.7 551.7C346.9 551.7 384 551.7 393.7 551.7"/><use href="#p17" x="-3.1"/><use href="#p17" x="-1.55"/><use href="#p17" x="1.55"/><use href="#p17" x="3.1"/></g>
<g fill="none" stroke="#ff5f05" stroke-width="2.3" stroke-linejoin="round" stroke-linecap="round"><path id="p18" d="M180.1 551.7C187 551.7 212.3 551.7 221.6 551.7C230.9 551.4 231.2 550.1 235.7 549.7C240.1 549.2 244.5 549.7 248.2 548.9C251.8 548.1 254.4 546.3 257.6 545C260.7 543.7 264.1 542.5 266.9 541.1C269.8 539.6 272.4 537.7 274.8 536.4C277.1 535.1 279.2 533.3 281 533.3C282.8 533.3 283.6 535.5 285.7 536.4C287.8 537.3 290.6 538.7 293.5 538.7C296.4 538.7 299.9 536.9 302.9 536.4C305.9 535.9 308.9 534.9 311.5 535.6C314.1 536.2 316.1 538.9 318.5 540.3C321 541.7 323.7 543 326.3 544.2C329 545.4 331.6 546.1 334.2 547.3C336.8 548.6 332.1 551 342 551.7C351.9 551.7 385.1 551.7 393.7 551.7"/><use href="#p18" x="-3.1"/><use href="#p18" x="-1.55"/><use href="#p18" x="1.55"/><use href="#p18" x="3.1"/></g>
<rect x="407.8" y="337.5" width="217" height="215.6" fill="#fff" stroke="#000" stroke-width="1.9"/>
<path d="M407.8 410.3L624.8 410.3" stroke="#000" stroke-width="1.5999999999999999" fill="none" />
<path d="M407.8 482.2L624.8 482.2" stroke="#000" stroke-width="1.5999999999999999" fill="none" />
<path d="M453.9 554v5.5M504 554v5.5M557.7 554v5.5M604 554v5.5M417 554v5.5" stroke="#000" stroke-width="2.1" fill="none"/>
<path d="M520.2 554v2.6M529.6 554v2.6M536.3 554v2.6M541.5 554v2.6M545.8 554v2.6M549.4 554v2.6M552.5 554v2.6M555.2 554v2.6M571.6 554v2.6M579.8 554v2.6M585.6 554v2.6M590.1 554v2.6M593.7 554v2.6M596.8 554v2.6M599.5 554v2.6M601.9 554v2.6M617.9 554v2.6M464.9 554v2.6M442.9 554v2.6M473.8 554v2.6M434 554v2.6M480.5 554v2.6M427.3 554v2.6M485.8 554v2.6M422 554v2.6M490.1 554v2.6M417.7 554v2.6M493.7 554v2.6M414.1 554v2.6M496.8 554v2.6M411 554v2.6M499.5 554v2.6M501.9 554v2.6" stroke="#000" stroke-width="1.4" fill="none"/>
<path d="M446.9 554v4.0M449.7 554v5.0M452.5 554v5.4M455.3 554v5.4M458.1 554v5.0M460.9 554v4.0" stroke="#000" stroke-width="2.2" fill="none"/>
<text x="457.7" y="570.5" font-size="7.3" text-anchor="middle" fill="#222">0</text>
<text x="503.5" y="571" font-size="7.3" fill="#222">10<tspan dy="-5" font-size="7.3">3</tspan></text>
<text x="557.3" y="571" font-size="7.3" fill="#222">10<tspan dy="-5" font-size="7.3">4</tspan></text>
<text x="603.6" y="571" font-size="7.3" fill="#222">10<tspan dy="-5" font-size="7.3">5</tspan></text>
<path d="M450 409.4C451.1 407.4 454.2 403.2 456.3 397.2C458.4 391.3 460.5 381.1 462.5 373.8C464.6 366.5 467 357.5 468.8 353.5C470.6 349.4 471.9 349.5 473.5 349.5C475 349.5 476.6 349.9 478.2 353.5C479.7 357 481 366 482.9 370.7C484.7 375.3 486.8 379 489.1 381.6C491.5 384.2 494.1 385.6 496.9 386.3C499.8 386.9 503.2 385.4 506.3 385.5C509.4 385.6 512.6 386 515.7 387.1C518.8 388.1 522.2 389.8 525.1 391.8C527.9 393.7 530.3 396.8 532.9 398.8C535.5 400.7 538.1 402.1 540.7 403.5C543.3 404.8 545.4 405.9 548.5 406.9C551.7 407.9 557.7 409 559.5 409.4L559.5 409.4L450 409.4Z" fill="#b4b4b4" stroke="none"/>
<path d="M450 409.4C451.1 407.4 454.2 403.2 456.3 397.2C458.4 391.3 460.5 381.1 462.5 373.8C464.6 366.5 467 357.5 468.8 353.5C470.6 349.4 471.9 349.5 473.5 349.5C475 349.5 476.6 349.9 478.2 353.5C479.7 357 481 366 482.9 370.7C484.7 375.3 486.8 379 489.1 381.6C491.5 384.2 494.1 385.6 496.9 386.3C499.8 386.9 503.2 385.4 506.3 385.5C509.4 385.6 512.6 386 515.7 387.1C518.8 388.1 522.2 389.8 525.1 391.8C527.9 393.7 530.3 396.8 532.9 398.8C535.5 400.7 538.1 402.1 540.7 403.5C543.3 404.8 545.4 405.9 548.5 406.9C551.7 407.9 557.7 409 559.5 409.4" fill="none" stroke="#454545" stroke-width="1.6" stroke-linejoin="round"/>
<g fill="none" stroke="#0a5cff" stroke-width="2.3" stroke-linejoin="round" stroke-linecap="round"><path id="p19" d="M409.8 409.4C416.8 409.4 443.3 409.4 451.6 409.4C459.9 408.2 456.8 406.8 459.4 401.9C462 397 464.9 387.8 467.2 380C469.6 372.2 471.7 360.6 473.5 355C475.3 349.4 476.6 347.2 478.2 346.4C479.7 345.6 481 347.1 482.9 350.3C484.7 353.6 487 361.3 489.1 366C491.2 370.7 493.5 376.6 495.4 378.5C497.2 380.3 498.2 378.5 500.1 376.9C501.9 375.3 504 371.4 506.3 369.1C508.7 366.7 511.5 364.8 514.1 362.8C516.7 360.9 520.1 358.5 522 357.4C523.8 356.2 523.8 354.9 525.1 355.8C526.4 356.7 527.9 359.8 529.8 362.8C531.6 365.8 533.7 369.6 536 373.8C538.4 377.9 541.2 383.7 543.8 387.8C546.4 392 549.1 395.8 551.7 398.8C554.3 401.8 556.6 404.1 559.5 405.8C562.3 407.5 566.2 408.4 568.9 409C571.5 409.4 565.9 409.3 575.1 409.4C584.3 409.4 615.7 409.4 623.8 409.4"/><use href="#p19" x="-3.1"/><use href="#p19" x="-1.55"/><use href="#p19" x="1.55"/><use href="#p19" x="3.1"/></g>
<g fill="none" stroke="#ff5f05" stroke-width="2.3" stroke-linejoin="round" stroke-linecap="round"><path id="p20" d="M409.8 409.4C416.8 409.4 443.1 409.4 451.6 409.4C460.1 408.2 458.1 406.8 461 401.9C463.8 397 466.4 387.8 468.8 380C471.1 372.2 472.8 360.9 475 355C477.3 349.2 480 345.1 482.1 344.9C484.2 344.6 485.9 349.7 487.6 353.5C489.2 357.2 490.7 363.1 492.2 367.5C493.8 372 495.1 377.3 496.9 380C498.8 382.8 501.1 383.9 503.2 383.9C505.3 383.9 506.8 382.5 509.4 380C512 377.6 515.7 371.6 518.8 369.1C522 366.6 525.3 366.5 528.2 365.2C531.1 363.9 533.7 360.9 536 361.3C538.4 361.7 540.2 365.7 542.3 367.5C544.4 369.3 546.4 370.5 548.5 372.2C550.6 373.9 552.7 374.3 554.8 377.7C556.9 381.1 558.7 388.5 561 392.5C563.4 396.6 566.2 399.3 568.9 401.9C571.5 404.5 574.1 406.9 576.7 408.2C579.3 409.4 576.6 409.2 584.5 409.4C592.3 409.4 617.3 409.4 623.8 409.4"/><use href="#p20" x="-3.1"/><use href="#p20" x="-1.55"/><use href="#p20" x="1.55"/><use href="#p20" x="3.1"/></g>
<path d="M451.6 481.3C452.6 479.3 455.8 474.8 457.8 469.1C459.9 463.5 462.3 454.8 464.1 447.3C465.9 439.7 467.4 428.1 468.8 423.8C470.2 419.5 471.4 419.4 472.7 421.5C474 423.5 474.9 431.2 476.6 436.3C478.3 441.4 480.8 447.8 482.9 452C484.9 456.1 486.8 459.5 489.1 461.3C491.5 463.2 494.6 464.5 496.9 462.9C499.3 461.3 501.1 453.4 503.2 452C505.3 450.5 507.4 453.8 509.4 454.3C511.5 454.8 513.9 454.6 515.7 455.1C517.5 455.6 518.8 455.9 520.4 457.4C522 459 523.5 462.2 525.1 464.5C526.6 466.7 527.7 469.1 529.8 470.7C531.9 472.3 535 472.7 537.6 473.8C540.2 475 542.3 476.7 545.4 477.7C548.5 478.8 552.4 479.8 556.3 480.4C560.3 481 566.8 481.2 568.9 481.3L568.9 481.3L451.6 481.3Z" fill="#b4b4b4" stroke="none"/>
<path d="M451.6 481.3C452.6 479.3 455.8 474.8 457.8 469.1C459.9 463.5 462.3 454.8 464.1 447.3C465.9 439.7 467.4 428.1 468.8 423.8C470.2 419.5 471.4 419.4 472.7 421.5C474 423.5 474.9 431.2 476.6 436.3C478.3 441.4 480.8 447.8 482.9 452C484.9 456.1 486.8 459.5 489.1 461.3C491.5 463.2 494.6 464.5 496.9 462.9C499.3 461.3 501.1 453.4 503.2 452C505.3 450.5 507.4 453.8 509.4 454.3C511.5 454.8 513.9 454.6 515.7 455.1C517.5 455.6 518.8 455.9 520.4 457.4C522 459 523.5 462.2 525.1 464.5C526.6 466.7 527.7 469.1 529.8 470.7C531.9 472.3 535 472.7 537.6 473.8C540.2 475 542.3 476.7 545.4 477.7C548.5 478.8 552.4 479.8 556.3 480.4C560.3 481 566.8 481.2 568.9 481.3" fill="none" stroke="#454545" stroke-width="1.6" stroke-linejoin="round"/>
<g fill="none" stroke="#0a5cff" stroke-width="2.3" stroke-linejoin="round" stroke-linecap="round"><path id="p21" d="M409.8 481.3C417 481.3 444.6 481.3 453.2 481.3C461.7 479.8 458.6 477.2 461 472.3C463.3 467.4 465.1 459 467.2 452C469.3 444.9 471.7 434.8 473.5 430.1C475.3 425.4 476.6 423.3 478.2 423.8C479.7 424.3 481 428.2 482.9 433.2C484.7 438.1 487 448.4 489.1 453.5C491.2 458.6 493.3 462.4 495.4 463.7C497.5 465 499.5 462.8 501.6 461.3C503.7 459.9 506.1 457.7 507.9 455.1C509.7 452.5 510.7 448.3 512.6 445.7C514.4 443.1 516.5 441 518.8 439.4C521.2 437.9 524.3 436.4 526.6 436.3C529 436.2 530.8 438.1 532.9 438.7C535 439.2 537.3 437.5 539.1 439.4C541 441.4 542 447 543.8 450.4C545.7 453.8 547.7 456.4 550.1 459.8C552.4 463.2 555.3 467.7 557.9 470.7C560.5 473.7 563.1 476.1 565.7 477.7C568.3 479.4 571.2 480.3 573.5 480.9C575.9 481.3 571.4 481.3 579.8 481.3C588.2 481.3 616.5 481.3 623.8 481.3"/><use href="#p21" x="-3.1"/><use href="#p21" x="-1.55"/><use href="#p21" x="1.55"/><use href="#p21" x="3.1"/></g>
<g fill="none" stroke="#ff5f05" stroke-width="2.3" stroke-linejoin="round" stroke-linecap="round"><path id="p22" d="M409.8 481.3C416.8 481.3 443.1 481.3 451.6 481.3C460.1 480.1 458.4 478.2 461 473.8C463.6 469.5 465.1 461.3 467.2 455.1C469.3 448.8 471.4 440.9 473.5 436.3C475.6 431.8 477.9 428.8 479.7 427.7C481.6 426.7 482.9 427.1 484.4 430.1C486 433.1 487.3 440.7 489.1 445.7C490.9 450.6 493.3 456.9 495.4 459.8C497.5 462.6 499.3 462.5 501.6 462.9C504 463.3 507.1 463.2 509.4 462.1C511.8 461.1 513.6 458.1 515.7 456.6C517.8 455.2 520.1 455.3 522 453.5C523.8 451.7 524.8 446.6 526.6 445.7C528.5 444.8 530.8 448 532.9 448C535 448 536.8 445.7 539.1 445.7C541.5 445.7 544.4 446.2 547 448C549.6 449.9 552.4 454.2 554.8 456.6C557.1 459.1 558.7 460.2 561 462.9C563.4 465.6 566.2 470.3 568.9 473.1C571.5 475.8 574.1 477.9 576.7 479.3C579.3 480.7 576.6 481 584.5 481.3C592.3 481.3 617.3 481.3 623.8 481.3"/><use href="#p22" x="-3.1"/><use href="#p22" x="-1.55"/><use href="#p22" x="1.55"/><use href="#p22" x="3.1"/></g>
<path d="M468.8 552.8C470.4 551.8 475.6 548.8 478.2 546.5C480.8 544.3 482.1 541.5 484.4 539.5C486.8 537.6 489.6 537.2 492.2 534.8C494.9 532.5 497.7 528.3 500.1 525.4C502.4 522.6 504.2 518.9 506.3 517.6C508.4 516.3 511 516.3 512.6 517.6C514.1 518.9 514.1 522.8 515.7 525.4C517.3 528 519.9 530.5 522 533.3C524 536 525.9 540 528.2 541.9C530.6 543.7 533.4 542.8 536 544.2C538.6 545.6 541 549.1 543.8 550.5C546.7 551.8 550.9 551.9 553.2 552.3C555.6 552.7 557.1 552.7 557.9 552.8L557.9 552.8L468.8 552.8Z" fill="#b4b4b4" stroke="none"/>
<path d="M468.8 552.8C470.4 551.8 475.6 548.8 478.2 546.5C480.8 544.3 482.1 541.5 484.4 539.5C486.8 537.6 489.6 537.2 492.2 534.8C494.9 532.5 497.7 528.3 500.1 525.4C502.4 522.6 504.2 518.9 506.3 517.6C508.4 516.3 511 516.3 512.6 517.6C514.1 518.9 514.1 522.8 515.7 525.4C517.3 528 519.9 530.5 522 533.3C524 536 525.9 540 528.2 541.9C530.6 543.7 533.4 542.8 536 544.2C538.6 545.6 541 549.1 543.8 550.5C546.7 551.8 550.9 551.9 553.2 552.3C555.6 552.7 557.1 552.7 557.9 552.8" fill="none" stroke="#454545" stroke-width="1.6" stroke-linejoin="round"/>
<g fill="none" stroke="#0a5cff" stroke-width="2.3" stroke-linejoin="round" stroke-linecap="round"><path id="p23" d="M409.8 552.8C416.8 552.8 443.3 552.8 451.6 552.8C459.9 551.6 456.8 549 459.4 545.8C462 542.5 464.6 536.4 467.2 533.3C469.8 530.1 472.7 527.5 475 527C477.4 526.5 479.2 529.1 481.3 530.1C483.4 531.2 485.5 533.3 487.6 533.3C489.6 533.3 491.7 533 493.8 530.1C495.9 527.3 497.5 519.7 500.1 516.1C502.7 512.4 506.8 510.3 509.4 508.2C512 506.2 514 505.8 515.7 503.5C517.4 501.3 518 495.5 519.6 494.9C521.2 494.4 523.1 497.7 525.1 500.4C527 503.2 529.5 506.9 531.3 511.4C533.2 515.8 534.2 523.1 536 527C537.8 530.9 540.2 532.2 542.3 534.8C544.4 537.4 546.4 540.3 548.5 542.6C550.6 545 552.4 547.3 554.8 548.9C557.1 550.5 559.7 551.7 562.6 552.3C565.5 552.8 561.8 552.7 572 552.8C582.2 552.8 615.2 552.8 623.8 552.8"/><use href="#p23" x="-3.1"/><use href="#p23" x="-1.55"/><use href="#p23" x="1.55"/><use href="#p23" x="3.1"/></g>
<g fill="none" stroke="#ff5f05" stroke-width="2.3" stroke-linejoin="round" stroke-linecap="round"><path id="p24" d="M409.8 552.8C417.8 552.8 447.8 552.8 457.8 552.8C467.9 552.1 465.9 550.1 470.4 548.9C474.8 547.7 480.5 546.3 484.4 545.8C488.3 545.2 490.9 546.5 493.8 545.8C496.7 545 499 542.2 501.6 541.1C504.2 539.9 506.8 540 509.4 538.7C512 537.4 514.7 535.2 517.3 533.3C519.9 531.3 522.7 530 525.1 527C527.4 524 529.5 516.3 531.3 515.3C533.2 514.2 534.2 518.8 536 520.7C537.8 522.7 540.2 525.4 542.3 527C544.4 528.6 546.7 528.6 548.5 530.1C550.4 531.7 551.7 533.5 553.2 536.4C554.8 539.2 556.1 544.8 557.9 547.3C559.7 549.9 561.3 550.8 564.2 551.7C567 552.6 565.2 552.6 575.1 552.8C585.1 552.8 615.7 552.8 623.8 552.8"/><use href="#p24" x="-3.1"/><use href="#p24" x="-1.55"/><use href="#p24" x="1.55"/><use href="#p24" x="3.1"/></g>
<rect x="178.1" y="635.6" width="216.2" height="214.8" fill="#fff" stroke="#000" stroke-width="1.9"/>
<path d="M178.1 707.7L394.4 707.7" stroke="#000" stroke-width="1.5999999999999999" fill="none" />
<path d="M178.1 779.9L394.4 779.9" stroke="#000" stroke-width="1.5999999999999999" fill="none" />
<path d="M226.3 851.3v5.5M265.4 851.3v5.5M323.2 851.3v5.5M372.5 851.3v5.5M187 851.3v5.5" stroke="#000" stroke-width="2.1" fill="none"/>
<path d="M282.8 851.3v2.6M293 851.3v2.6M300.2 851.3v2.6M305.8 851.3v2.6M310.4 851.3v2.6M314.2 851.3v2.6M317.6 851.3v2.6M320.6 851.3v2.6M338 851.3v2.6M346.7 851.3v2.6M352.9 851.3v2.6M357.7 851.3v2.6M361.6 851.3v2.6M364.9 851.3v2.6M367.7 851.3v2.6M370.2 851.3v2.6M387.3 851.3v2.6M234.9 851.3v2.6M217.7 851.3v2.6M241.8 851.3v2.6M210.8 851.3v2.6M247.1 851.3v2.6M205.5 851.3v2.6M251.2 851.3v2.6M201.4 851.3v2.6M254.6 851.3v2.6M198 851.3v2.6M257.4 851.3v2.6M195.2 851.3v2.6M259.8 851.3v2.6M192.8 851.3v2.6M261.9 851.3v2.6M190.7 851.3v2.6M263.7 851.3v2.6M188.9 851.3v2.6" stroke="#000" stroke-width="1.4" fill="none"/>
<path d="M219.3 851.3v4.0M222.1 851.3v5.0M224.9 851.3v5.4M227.7 851.3v5.4M230.5 851.3v5.0M233.3 851.3v4.0" stroke="#000" stroke-width="2.2" fill="none"/>
<text x="186.2" y="869" font-size="7.3" fill="#222">-10<tspan dy="-5" font-size="7.3">3</tspan></text>
<text x="231" y="868.5" font-size="7.3" text-anchor="middle" fill="#222">0</text>
<text x="265.5" y="869" font-size="7.3" fill="#222">10<tspan dy="-5" font-size="7.3">3</tspan></text>
<text x="323.4" y="869" font-size="7.3" fill="#222">10<tspan dy="-5" font-size="7.3">4</tspan></text>
<text x="373.4" y="869" font-size="7.3" fill="#222">10<tspan dy="-5" font-size="7.3">5</tspan></text>
<path d="M224.7 706.8C226 704.1 229.9 697.8 232.5 690.7C235.1 683.6 238 671.4 240.4 664.1C242.7 656.8 245 650 246.6 646.9C248.2 643.8 248.4 643.8 249.7 645.3C251 646.9 252.6 651.8 254.4 656.3C256.3 660.7 258.3 667.5 260.7 671.9C263 676.3 265.9 680 268.5 682.8C271.1 685.7 273.5 687.3 276.3 689.1C279.2 690.9 282.6 692.2 285.7 693.8C288.8 695.4 291.7 697.1 295.1 698.5C298.5 699.9 302.1 701.3 306 702.4C309.9 703.5 313.8 704.3 318.5 705.1C323.2 705.8 331.6 706.5 334.2 706.8L334.2 706.8L224.7 706.8Z" fill="#b4b4b4" stroke="none"/>
<path d="M224.7 706.8C226 704.1 229.9 697.8 232.5 690.7C235.1 683.6 238 671.4 240.4 664.1C242.7 656.8 245 650 246.6 646.9C248.2 643.8 248.4 643.8 249.7 645.3C251 646.9 252.6 651.8 254.4 656.3C256.3 660.7 258.3 667.5 260.7 671.9C263 676.3 265.9 680 268.5 682.8C271.1 685.7 273.5 687.3 276.3 689.1C279.2 690.9 282.6 692.2 285.7 693.8C288.8 695.4 291.7 697.1 295.1 698.5C298.5 699.9 302.1 701.3 306 702.4C309.9 703.5 313.8 704.3 318.5 705.1C323.2 705.8 331.6 706.5 334.2 706.8" fill="none" stroke="#454545" stroke-width="1.6" stroke-linejoin="round"/>
<g fill="none" stroke="#0a5cff" stroke-width="2.3" stroke-linejoin="round" stroke-linecap="round"><path id="p25" d="M180.1 706.8C186.8 706.8 212.1 706.8 220 706.8C228 705.9 225.5 705.6 227.8 701.6C230.2 697.6 232 690.7 234.1 682.8C236.2 675 238.3 661.9 240.4 654.7C242.4 647.5 244.8 642.5 246.6 639.9C248.4 637.2 249.7 637.6 251.3 639.1C252.9 640.5 254.2 643.8 256 648.5C257.8 653.1 260.2 661.5 262.2 667.2C264.3 672.9 266.2 678.7 268.5 682.8C270.8 687 273.5 689.6 276.3 692.2C279.2 694.8 282 696.7 285.7 698.5C289.3 700.3 294 702 298.2 703.2C302.4 704.3 306 704.9 310.7 705.5C315.4 706.1 312.6 706.6 326.3 706.8C340.1 706.8 382.2 706.8 393.4 706.8"/><use href="#p25" x="-3.1"/><use href="#p25" x="-1.55"/><use href="#p25" x="1.55"/><use href="#p25" x="3.1"/></g>
<g fill="none" stroke="#ff5f05" stroke-width="2.3" stroke-linejoin="round" stroke-linecap="round"><path id="p26" d="M180.1 706.8C186.8 706.8 212.1 706.8 220 706.8C228 705.9 225.5 705.3 227.8 701.6C230.2 697.9 232 692 234.1 684.4C236.2 676.9 238.3 663.6 240.4 656.3C242.4 649 245.2 643.6 246.6 640.6C248 637.6 247.5 637.5 249 638.3C250.4 639.1 253.3 641.5 255.2 645.3C257.2 649.1 258.7 655.5 260.7 661C262.6 666.4 264.9 673.5 266.9 678.2C269 682.8 270.6 685.8 273.2 689.1C275.8 692.4 278.9 695.4 282.6 697.7C286.2 700 290.4 701.9 295.1 703.2C299.8 704.5 305.5 704.9 310.7 705.5C315.9 706.1 312.6 706.6 326.3 706.8C340.1 706.8 382.2 706.8 393.4 706.8"/><use href="#p26" x="-3.1"/><use href="#p26" x="-1.55"/><use href="#p26" x="1.55"/><use href="#p26" x="3.1"/></g>
<path d="M226.3 779C227.3 776.3 230.5 768.4 232.5 762.6C234.6 756.7 237 748.8 238.8 743.8C240.6 738.9 242.2 735.2 243.5 732.9C244.8 730.5 245.3 729 246.6 729.8C247.9 730.5 249.7 735 251.3 737.6C252.9 740.2 254.4 743.3 256 745.4C257.6 747.5 258.6 749 260.7 750.1C262.8 751.1 266.2 750.1 268.5 751.6C270.8 753.2 272.9 758.9 274.8 759.5C276.6 760 277.6 756.1 279.4 754.8C281.3 753.5 283.6 752.4 285.7 751.6C287.8 750.9 290.4 750.1 292 750.1C293.5 750.1 293.8 753.2 295.1 751.6C296.4 750.1 297.9 742.8 299.8 740.7C301.6 738.6 304.2 738.6 306 739.1C307.8 739.7 308.9 742 310.7 743.8C312.5 745.6 314.9 748.8 317 750.1C319.1 751.4 321.1 749.6 323.2 751.6C325.3 753.7 327.4 759.2 329.5 762.6C331.6 766 333.4 769.4 335.7 772C338.1 774.6 341.2 777 343.5 778.2C345.9 779 348.8 778.9 349.8 779L349.8 779L226.3 779Z" fill="#b4b4b4" stroke="none"/>
<path d="M226.3 779C227.3 776.3 230.5 768.4 232.5 762.6C234.6 756.7 237 748.8 238.8 743.8C240.6 738.9 242.2 735.2 243.5 732.9C244.8 730.5 245.3 729 246.6 729.8C247.9 730.5 249.7 735 251.3 737.6C252.9 740.2 254.4 743.3 256 745.4C257.6 747.5 258.6 749 260.7 750.1C262.8 751.1 266.2 750.1 268.5 751.6C270.8 753.2 272.9 758.9 274.8 759.5C276.6 760 277.6 756.1 279.4 754.8C281.3 753.5 283.6 752.4 285.7 751.6C287.8 750.9 290.4 750.1 292 750.1C293.5 750.1 293.8 753.2 295.1 751.6C296.4 750.1 297.9 742.8 299.8 740.7C301.6 738.6 304.2 738.6 306 739.1C307.8 739.7 308.9 742 310.7 743.8C312.5 745.6 314.9 748.8 317 750.1C319.1 751.4 321.1 749.6 323.2 751.6C325.3 753.7 327.4 759.2 329.5 762.6C331.6 766 333.4 769.4 335.7 772C338.1 774.6 341.2 777 343.5 778.2C345.9 779 348.8 778.9 349.8 779" fill="none" stroke="#454545" stroke-width="1.6" stroke-linejoin="round"/>
<g fill="none" stroke="#0a5cff" stroke-width="2.3" stroke-linejoin="round" stroke-linecap="round"><path id="p27" d="M180.1 779C187 779 213.4 779 221.6 779C229.8 777.3 227.1 773.7 229.4 768.8C231.8 764 233.8 755.8 235.7 750.1C237.5 744.3 238.8 738.6 240.4 734.4C241.9 730.3 243.5 726.8 245 725.1C246.6 723.4 248.2 723 249.7 724.3C251.3 725.6 252.9 730.7 254.4 732.9C256 735.1 257.6 736.9 259.1 737.6C260.7 738.2 262.2 735 263.8 736.8C265.4 738.6 266.9 745.8 268.5 748.5C270.1 751.3 271.4 752.2 273.2 753.2C275 754.2 277.4 756.3 279.4 754.8C281.5 753.2 283.6 745.8 285.7 743.8C287.8 741.9 290.1 743.8 292 743C293.8 742.3 295.1 741.3 296.6 739.1C298.2 736.9 299.2 731.6 301.3 729.8C303.4 727.9 306.8 727.7 309.1 728.2C311.5 728.7 313.3 731.3 315.4 732.9C317.5 734.4 319.8 735 321.7 737.6C323.5 740.2 324.5 745.1 326.3 748.5C328.2 751.9 330.5 754.5 332.6 757.9C334.7 761.3 336.8 765.8 338.9 768.8C340.9 771.8 343 774.2 345.1 775.9C347.2 777.6 343.3 778.5 351.4 779C359.4 779 386.4 779 393.4 779"/><use href="#p27" x="-3.1"/><use href="#p27" x="-1.55"/><use href="#p27" x="1.55"/><use href="#p27" x="3.1"/></g>
<g fill="none" stroke="#ff5f05" stroke-width="2.3" stroke-linejoin="round" stroke-linecap="round"><path id="p28" d="M180.1 779C186.5 779 210.8 779 218.5 779C226.2 777.6 223.9 774.2 226.3 770.4C228.6 766.6 230.5 760.5 232.5 756.3C234.6 752.2 236.7 748 238.8 745.4C240.9 742.8 243 741.7 245 740.7C247.1 739.7 249.5 739.8 251.3 739.1C253.1 738.5 254.4 736.7 256 736.8C257.6 736.9 259.1 738.2 260.7 739.9C262.2 741.6 263.5 745.3 265.4 747C267.2 748.6 269.8 749.7 271.6 750.1C273.5 750.5 274.8 749.3 276.3 749.3C277.9 749.3 279.4 750.9 281 750.1C282.6 749.3 283.6 745.6 285.7 744.6C287.8 743.6 291.4 745.4 293.5 743.8C295.6 742.3 296.6 735.4 298.2 735.2C299.8 735.1 301.1 742.1 302.9 743C304.7 744 307.1 740.3 309.1 740.7C311.2 741.1 313.3 744.6 315.4 745.4C317.5 746.2 319.6 744.1 321.7 745.4C323.7 746.7 326.1 750.3 327.9 753.2C329.7 756.1 330.8 760 332.6 762.6C334.4 765.2 336.8 766.8 338.9 768.8C340.9 770.9 343 773.4 345.1 775.1C347.2 776.8 343.3 778.4 351.4 779C359.4 779 386.4 779 393.4 779"/><use href="#p28" x="-3.1"/><use href="#p28" x="-1.55"/><use href="#p28" x="1.55"/><use href="#p28" x="3.1"/></g>
<path d="M231 850.1C232.3 848.3 236.4 843.6 238.8 839.2C241.1 834.8 243.2 828 245 823.6C246.9 819.1 248.6 815.6 249.7 812.6C250.9 809.6 251 805.1 252.1 805.6C253.1 806.1 254 813.9 256 815.7C257.9 817.6 261.5 814.8 263.8 816.5C266.2 818.2 268 822.9 270.1 825.9C272.1 828.9 274.2 832.6 276.3 834.5C278.4 836.5 280 837.1 282.6 837.6C285.2 838.2 289.1 838.2 292 837.6C294.8 837.1 297.2 836.1 299.8 834.5C302.4 832.9 305.2 830.1 307.6 828.3C309.9 826.4 311.9 824.9 313.8 823.6C315.8 822.3 317.6 820.3 319.3 820.4C321 820.6 322.3 824.3 324 824.3C325.7 824.3 327.8 819.8 329.5 820.4C331.2 821.1 332.3 824.9 334.2 828.3C336 831.6 338.3 837.4 340.4 840.8C342.5 844.1 344.8 847 346.7 848.6C348.5 850.1 350.6 849.9 351.4 850.1L351.4 850.1L231 850.1Z" fill="#b4b4b4" stroke="none"/>
<path d="M231 850.1C232.3 848.3 236.4 843.6 238.8 839.2C241.1 834.8 243.2 828 245 823.6C246.9 819.1 248.6 815.6 249.7 812.6C250.9 809.6 251 805.1 252.1 805.6C253.1 806.1 254 813.9 256 815.7C257.9 817.6 261.5 814.8 263.8 816.5C266.2 818.2 268 822.9 270.1 825.9C272.1 828.9 274.2 832.6 276.3 834.5C278.4 836.5 280 837.1 282.6 837.6C285.2 838.2 289.1 838.2 292 837.6C294.8 837.1 297.2 836.1 299.8 834.5C302.4 832.9 305.2 830.1 307.6 828.3C309.9 826.4 311.9 824.9 313.8 823.6C315.8 822.3 317.6 820.3 319.3 820.4C321 820.6 322.3 824.3 324 824.3C325.7 824.3 327.8 819.8 329.5 820.4C331.2 821.1 332.3 824.9 334.2 828.3C336 831.6 338.3 837.4 340.4 840.8C342.5 844.1 344.8 847 346.7 848.6C348.5 850.1 350.6 849.9 351.4 850.1" fill="none" stroke="#454545" stroke-width="1.6" stroke-linejoin="round"/>
<g fill="none" stroke="#0a5cff" stroke-width="2.3" stroke-linejoin="round" stroke-linecap="round"><path id="p29" d="M180.1 850.1C189.4 850.1 223.8 850.1 235.7 850.1C247.5 849.7 246.6 848.8 251.3 847.8C256 846.8 259.6 844.9 263.8 843.9C268 842.8 272.1 842.6 276.3 841.5C280.5 840.5 285.2 838.9 288.8 837.6C292.5 836.3 295.3 836.1 298.2 833.7C301.1 831.4 303.9 827.1 306 823.6C308.1 820 309.3 816.5 310.7 812.6C312.1 808.7 313.2 802.6 314.6 800.1C316.1 797.6 317.6 797.5 319.3 797.8C321 798 323.1 800.8 324.8 801.7C326.5 802.6 327.9 801.9 329.5 803.2C331 804.5 332.6 806.1 334.2 809.5C335.7 812.9 337.3 819.1 338.9 823.6C340.4 828 342 832.4 343.5 836.1C345.1 839.7 346.4 843.2 348.2 845.5C350.1 847.7 352.4 849 354.5 849.8C356.6 850.1 354.3 850.1 360.7 850.1C367.2 850.1 387.9 850.1 393.4 850.1"/><use href="#p29" x="-3.1"/><use href="#p29" x="-1.55"/><use href="#p29" x="1.55"/><use href="#p29" x="3.1"/></g>
<g fill="none" stroke="#ff5f05" stroke-width="2.3" stroke-linejoin="round" stroke-linecap="round"><path id="p30" d="M180.1 850.1C188.9 850.1 221.2 850.1 232.5 850.1C243.9 849.9 243 849.4 248.2 848.6C253.4 847.8 259.1 846.4 263.8 845.5C268.5 844.5 273.2 843.4 276.3 843.1C279.4 842.8 280 844.4 282.6 843.9C285.2 843.4 288.8 840.9 292 840C295.1 839.1 298.5 840.1 301.3 838.4C304.2 836.7 306.8 833.3 309.1 829.8C311.5 826.3 313.6 820.8 315.4 817.3C317.2 813.8 318.3 810.5 320.1 808.7C321.9 806.9 324.3 806.8 326.3 806.4C328.4 806 330.8 804.5 332.6 806.4C334.4 808.2 335.7 813.1 337.3 817.3C338.9 821.5 340.4 826.9 342 831.4C343.5 835.8 345.1 841 346.7 843.9C348.2 846.8 349.5 847.8 351.4 848.9C353.2 849.9 350.6 849.9 357.6 850.1C364.6 850.1 387.4 850.1 393.4 850.1"/><use href="#p30" x="-3.1"/><use href="#p30" x="-1.55"/><use href="#p30" x="1.55"/><use href="#p30" x="3.1"/></g>
<rect x="407.5" y="635.6" width="216.4" height="214.8" fill="#fff" stroke="#000" stroke-width="1.9"/>
<path d="M407.5 707.7L623.9 707.7" stroke="#000" stroke-width="1.5999999999999999" fill="none" />
<path d="M407.5 779.6L623.9 779.6" stroke="#000" stroke-width="1.5999999999999999" fill="none" />
<path d="M456.3 851.3v5.5M493.8 851.3v5.5M552.4 851.3v5.5M602.5 851.3v5.5M415.6 851.3v5.5" stroke="#000" stroke-width="2.1" fill="none"/>
<path d="M511.4 851.3v2.6M521.8 851.3v2.6M529.1 851.3v2.6M534.8 851.3v2.6M539.4 851.3v2.6M543.3 851.3v2.6M546.7 851.3v2.6M549.7 851.3v2.6M567.5 851.3v2.6M576.3 851.3v2.6M582.6 851.3v2.6M587.4 851.3v2.6M591.4 851.3v2.6M594.7 851.3v2.6M597.6 851.3v2.6M600.2 851.3v2.6M617.6 851.3v2.6M464.5 851.3v2.6M448.1 851.3v2.6M471.2 851.3v2.6M441.4 851.3v2.6M476.2 851.3v2.6M436.4 851.3v2.6M480.2 851.3v2.6M432.4 851.3v2.6M483.4 851.3v2.6M429.2 851.3v2.6M486.1 851.3v2.6M426.5 851.3v2.6M488.4 851.3v2.6M424.2 851.3v2.6M490.4 851.3v2.6M422.2 851.3v2.6M492.2 851.3v2.6M420.4 851.3v2.6" stroke="#000" stroke-width="1.4" fill="none"/>
<path d="M449.3 851.3v4.0M452.1 851.3v5.0M454.9 851.3v5.4M457.7 851.3v5.4M460.5 851.3v5.0M463.3 851.3v4.0" stroke="#000" stroke-width="2.2" fill="none"/>
<text x="414.7" y="869" font-size="7.3" fill="#222">-10<tspan dy="-5" font-size="7.3">3</tspan></text>
<text x="459.6" y="868.5" font-size="7.3" text-anchor="middle" fill="#222">0</text>
<text x="494.7" y="869" font-size="7.3" fill="#222">10<tspan dy="-5" font-size="7.3">3</tspan></text>
<text x="551.6" y="869" font-size="7.3" fill="#222">10<tspan dy="-5" font-size="7.3">4</tspan></text>
<text x="601.7" y="869" font-size="7.3" fill="#222">10<tspan dy="-5" font-size="7.3">5</tspan></text>
<path d="M451.6 706.8C452.9 705.1 457.1 701.9 459.4 696.9C461.8 691.9 463.8 683.9 465.7 676.6C467.5 669.3 468.8 659 470.4 653.1C471.9 647.3 473.4 643.6 475 641.4C476.7 639.2 479 638.4 480.5 639.9C482.1 641.3 483 645.7 484.4 650C485.9 654.3 487.6 661 489.1 665.7C490.7 670.3 491.7 674 493.8 678.2C495.9 682.3 499 687.8 501.6 690.7C504.2 693.5 506.6 694.1 509.4 695.4C512.3 696.7 515.4 697.4 518.8 698.5C522.2 699.5 526.1 700.6 529.8 701.6C533.4 702.6 536.3 703.6 540.7 704.4C545.1 705.2 552.2 705.9 556.3 706.3C560.5 706.7 564.2 706.7 565.7 706.8L565.7 706.8L451.6 706.8Z" fill="#b4b4b4" stroke="none"/>
<path d="M451.6 706.8C452.9 705.1 457.1 701.9 459.4 696.9C461.8 691.9 463.8 683.9 465.7 676.6C467.5 669.3 468.8 659 470.4 653.1C471.9 647.3 473.4 643.6 475 641.4C476.7 639.2 479 638.4 480.5 639.9C482.1 641.3 483 645.7 484.4 650C485.9 654.3 487.6 661 489.1 665.7C490.7 670.3 491.7 674 493.8 678.2C495.9 682.3 499 687.8 501.6 690.7C504.2 693.5 506.6 694.1 509.4 695.4C512.3 696.7 515.4 697.4 518.8 698.5C522.2 699.5 526.1 700.6 529.8 701.6C533.4 702.6 536.3 703.6 540.7 704.4C545.1 705.2 552.2 705.9 556.3 706.3C560.5 706.7 564.2 706.7 565.7 706.8" fill="none" stroke="#454545" stroke-width="1.6" stroke-linejoin="round"/>
<g fill="none" stroke="#0a5cff" stroke-width="2.3" stroke-linejoin="round" stroke-linecap="round"><path id="p31" d="M409.5 706.8C416.3 706.8 441.7 706.8 450 706.8C458.3 705.9 456.8 704.8 459.4 701.6C462 698.4 463.6 693.5 465.7 687.5C467.8 681.5 469.8 672.2 471.9 665.7C474 659.1 476.1 652.1 478.2 648.5C480.3 644.8 482.6 643.5 484.4 643.8C486.3 644 487.3 647.7 489.1 650C490.9 652.4 493.3 655.7 495.4 657.8C497.5 659.9 499.3 661.9 501.6 662.5C504 663.2 506.8 661.2 509.4 661.7C512 662.3 514.7 664 517.3 665.7C519.9 667.3 522.5 669.6 525.1 671.9C527.7 674.2 530.3 677.4 532.9 679.7C535.5 682.1 538.1 683.9 540.7 686C543.3 688.1 545.9 690 548.5 692.2C551.1 694.4 553.7 697.3 556.3 699.3C559 701.2 561.6 702.8 564.2 704C566.8 705.1 569.4 705.8 572 706.3C574.6 706.8 571.3 706.7 579.8 706.8C588.3 706.8 615.7 706.8 622.9 706.8"/><use href="#p31" x="-3.1"/><use href="#p31" x="-1.55"/><use href="#p31" x="1.55"/><use href="#p31" x="3.1"/></g>
<g fill="none" stroke="#ff5f05" stroke-width="2.3" stroke-linejoin="round" stroke-linecap="round"><path id="p32" d="M409.5 706.8C416.8 706.8 444.3 706.8 453.2 706.8C462 706 459.9 705.6 462.5 702.4C465.1 699.2 466.7 693.4 468.8 687.5C470.9 681.7 473 673.7 475 667.2C477.1 660.7 479.1 652.9 481.3 648.5C483.5 644 486.3 641.5 488.3 640.6C490.4 639.7 491.9 641.7 493.8 643C495.8 644.3 498 646.9 500.1 648.5C502.1 650 503.7 651.1 506.3 652.4C508.9 653.7 513.1 654.3 515.7 656.3C518.3 658.2 519.6 661.9 522 664.1C524.3 666.3 527.2 667.2 529.8 669.6C532.4 671.9 534.7 675.7 537.6 678.2C540.5 680.6 543.8 682.1 547 684.4C550.1 686.8 553.5 689.9 556.3 692.2C559.2 694.6 561.6 696.5 564.2 698.5C566.8 700.4 569.4 702.7 572 704C574.6 705.3 577.2 705.8 579.8 706.3C582.4 706.8 580.4 706.7 587.6 706.8C594.8 706.8 617 706.8 622.9 706.8"/><use href="#p32" x="-3.1"/><use href="#p32" x="-1.55"/><use href="#p32" x="1.55"/><use href="#p32" x="3.1"/></g>
<path d="M451.6 778.7C452.6 776.5 456 771.5 457.8 765.7C459.7 759.9 461 750.1 462.5 743.8C464.1 737.6 465.5 732.2 467.2 728.2C468.9 724.2 470.9 719.6 472.7 719.6C474.5 719.6 476.2 724.2 478.2 728.2C480.1 732.2 482.3 739.4 484.4 743.8C486.5 748.3 488.6 751.4 490.7 754.8C492.8 758.2 495.1 762.1 496.9 764.1C498.8 766.2 499.5 766.9 501.6 767.3C503.7 767.7 507.1 767.8 509.4 766.5C511.8 765.2 513.9 760.8 515.7 759.5C517.5 758.2 519 758 520.4 758.7C521.8 759.3 522.7 763.5 524.3 763.4C525.9 763.2 527.8 758.5 529.8 757.9C531.7 757.2 533.9 759.1 536 759.5C538.1 759.8 540.2 759.2 542.3 760.2C544.4 761.3 546.2 763.8 548.5 765.7C550.9 767.7 553.7 770.1 556.3 772C559 773.8 561.6 775.5 564.2 776.7C566.8 777.8 570.7 778.4 572 778.7L572 778.7L451.6 778.7Z" fill="#b4b4b4" stroke="none"/>
<path d="M451.6 778.7C452.6 776.5 456 771.5 457.8 765.7C459.7 759.9 461 750.1 462.5 743.8C464.1 737.6 465.5 732.2 467.2 728.2C468.9 724.2 470.9 719.6 472.7 719.6C474.5 719.6 476.2 724.2 478.2 728.2C480.1 732.2 482.3 739.4 484.4 743.8C486.5 748.3 488.6 751.4 490.7 754.8C492.8 758.2 495.1 762.1 496.9 764.1C498.8 766.2 499.5 766.9 501.6 767.3C503.7 767.7 507.1 767.8 509.4 766.5C511.8 765.2 513.9 760.8 515.7 759.5C517.5 758.2 519 758 520.4 758.7C521.8 759.3 522.7 763.5 524.3 763.4C525.9 763.2 527.8 758.5 529.8 757.9C531.7 757.2 533.9 759.1 536 759.5C538.1 759.8 540.2 759.2 542.3 760.2C544.4 761.3 546.2 763.8 548.5 765.7C550.9 767.7 553.7 770.1 556.3 772C559 773.8 561.6 775.5 564.2 776.7C566.8 777.8 570.7 778.4 572 778.7" fill="none" stroke="#454545" stroke-width="1.6" stroke-linejoin="round"/>
<g fill="none" stroke="#0a5cff" stroke-width="2.3" stroke-linejoin="round" stroke-linecap="round"><path id="p33" d="M409.5 778.7C416.8 778.7 444.3 778.7 453.2 778.7C462 777.6 459.7 775.2 462.5 772C465.4 768.8 467.8 762.6 470.4 759.5C473 756.3 475.8 754.5 478.2 753.2C480.5 751.9 482.3 750.9 484.4 751.6C486.5 752.4 488.6 757 490.7 757.9C492.8 758.8 494.3 757.6 496.9 757.1C499.5 756.6 503.7 756.2 506.3 754.8C508.9 753.3 510.7 751.4 512.6 748.5C514.4 745.6 515.4 739.7 517.3 737.6C519.1 735.5 522 738.1 523.5 736C525.1 733.9 525.1 727.3 526.6 725.1C528.2 722.8 531.3 724.3 532.9 722.7C534.5 721.2 534.7 716.6 536 715.7C537.3 714.8 538.9 714.6 540.7 717.2C542.5 719.9 545.1 727.1 547 731.3C548.8 735.5 550.1 738.4 551.7 742.3C553.2 746.2 554.8 750.9 556.3 754.8C557.9 758.7 559.5 762.6 561 765.7C562.6 768.8 563.9 771.6 565.7 773.5C567.6 775.5 569.9 776.6 572 777.4C574.1 778.3 569.8 778.5 578.2 778.7C586.7 778.7 615.4 778.7 622.9 778.7"/><use href="#p33" x="-3.1"/><use href="#p33" x="-1.55"/><use href="#p33" x="1.55"/><use href="#p33" x="3.1"/></g>
<g fill="none" stroke="#ff5f05" stroke-width="2.3" stroke-linejoin="round" stroke-linecap="round"><path id="p34" d="M409.5 778.7C417 778.7 445.6 778.7 454.7 778.7C463.8 777.8 461.2 776.2 464.1 773.5C467 770.8 469.6 766.2 471.9 762.6C474.3 758.9 476.1 753.9 478.2 751.6C480.3 749.4 482.3 749.8 484.4 749.3C486.5 748.8 488.9 749 490.7 748.5C492.5 748 493.5 745.8 495.4 746.2C497.2 746.6 499.8 749.7 501.6 750.9C503.5 752 504.5 753.5 506.3 753.2C508.1 752.9 510.5 750.3 512.6 749.3C514.7 748.3 516.7 747.9 518.8 747C520.9 746 523 745.1 525.1 743.8C527.2 742.5 529.2 742 531.3 739.1C533.4 736.3 535.5 729.5 537.6 726.6C539.7 723.8 541.6 723.5 543.8 721.9C546.1 720.4 548.8 717.5 550.9 717.2C553 717 554.7 718.5 556.3 720.4C558 722.2 559.5 724.5 561 728.2C562.6 731.8 564.4 737.6 565.7 742.3C567 747 567.6 752.4 568.9 756.3C570.2 760.2 572 762.6 573.5 765.7C575.1 768.8 576.4 772.9 578.2 775.1C580.1 777.3 577 778.1 584.5 778.7C591.9 778.7 616.5 778.7 622.9 778.7"/><use href="#p34" x="-3.1"/><use href="#p34" x="-1.55"/><use href="#p34" x="1.55"/><use href="#p34" x="3.1"/></g>
<path d="M462.5 850.1C464.4 849.6 470.1 848.4 473.5 847C476.9 845.6 480.3 843 482.9 841.5C485.5 840.1 487.3 838.4 489.1 838.4C490.9 838.4 491.5 840.6 493.8 841.5C496.2 842.5 500.1 843.9 503.2 843.9C506.3 843.9 509.7 842.3 512.6 841.5C515.4 840.8 517.8 840.4 520.4 839.2C523 838 525.6 836.3 528.2 834.5C530.8 832.7 533.7 829.7 536 828.3C538.4 826.8 540.5 825.8 542.3 825.9C544.1 826 545.5 829.7 547 829C548.4 828.4 549.7 824.3 550.9 822C552 819.7 552.8 814.7 554 815C555.2 815.2 556.5 820.3 557.9 823.6C559.3 826.8 561 831.1 562.6 834.5C564.2 837.9 565.5 841.4 567.3 843.9C569.1 846.4 571.7 848.3 573.5 849.4C575.4 850.1 577.5 850 578.2 850.1L578.2 850.1L462.5 850.1Z" fill="#b4b4b4" stroke="none"/>
<path d="M462.5 850.1C464.4 849.6 470.1 848.4 473.5 847C476.9 845.6 480.3 843 482.9 841.5C485.5 840.1 487.3 838.4 489.1 838.4C490.9 838.4 491.5 840.6 493.8 841.5C496.2 842.5 500.1 843.9 503.2 843.9C506.3 843.9 509.7 842.3 512.6 841.5C515.4 840.8 517.8 840.4 520.4 839.2C523 838 525.6 836.3 528.2 834.5C530.8 832.7 533.7 829.7 536 828.3C538.4 826.8 540.5 825.8 542.3 825.9C544.1 826 545.5 829.7 547 829C548.4 828.4 549.7 824.3 550.9 822C552 819.7 552.8 814.7 554 815C555.2 815.2 556.5 820.3 557.9 823.6C559.3 826.8 561 831.1 562.6 834.5C564.2 837.9 565.5 841.4 567.3 843.9C569.1 846.4 571.7 848.3 573.5 849.4C575.4 850.1 577.5 850 578.2 850.1" fill="none" stroke="#454545" stroke-width="1.6" stroke-linejoin="round"/>
<g fill="none" stroke="#0a5cff" stroke-width="2.3" stroke-linejoin="round" stroke-linecap="round"><path id="p35" d="M409.5 850.1C417.6 850.1 447.7 850.1 457.8 850.1C468 849.5 466.2 847.5 470.4 846.2C474.5 844.9 479 843.2 482.9 842.3C486.8 841.4 489.9 840.6 493.8 840.8C497.7 840.9 502.7 843 506.3 843.1C510 843.2 512.8 843 515.7 841.5C518.6 840.1 521.2 837.5 523.5 834.5C525.9 831.5 527.7 827.7 529.8 823.6C531.9 819.4 533.9 814.2 536 809.5C538.1 804.8 540.2 798.8 542.3 795.4C544.4 792 546.7 789.9 548.5 789.2C550.4 788.4 551.7 788.6 553.2 790.7C554.8 792.8 556.3 797 557.9 801.7C559.5 806.4 561 813.1 562.6 818.9C564.2 824.6 565.7 831.6 567.3 836.1C568.9 840.5 570.2 843.2 572 845.5C573.8 847.7 576.4 849 578.2 849.8C580.1 850.1 575.5 850.1 582.9 850.1C590.4 850.1 616.2 850.1 622.9 850.1"/><use href="#p35" x="-3.1"/><use href="#p35" x="-1.55"/><use href="#p35" x="1.55"/><use href="#p35" x="3.1"/></g>
<g fill="none" stroke="#ff5f05" stroke-width="2.3" stroke-linejoin="round" stroke-linecap="round"><path id="p36" d="M409.5 850.1C417.6 850.1 446.9 850.1 457.8 850.1C468.8 849.9 470.1 849.2 475 848.6C480 847.9 483.9 847.3 487.6 846.2C491.2 845.2 493.8 843 496.9 842.3C500.1 841.7 503.2 843 506.3 842.3C509.4 841.7 512.8 838.5 515.7 838.4C518.6 838.3 521.2 842.5 523.5 841.5C525.9 840.6 527.7 835.4 529.8 832.9C531.9 830.5 534.2 830.3 536 826.7C537.8 823 539.4 815 540.7 811.1C542 807.1 542.5 803.9 543.8 803.2C545.1 802.6 547 807.9 548.5 807.1C550.1 806.4 551.7 800.1 553.2 798.5C554.8 797 556.3 796.2 557.9 797.8C559.5 799.3 561 804.1 562.6 807.9C564.2 811.7 565.7 816 567.3 820.4C568.9 824.9 570.4 830.5 572 834.5C573.5 838.5 574.8 842.1 576.7 844.7C578.5 847.2 581.1 848.9 582.9 849.8C584.8 850.1 581 850.1 587.6 850.1C594.3 850.1 617 850.1 622.9 850.1"/><use href="#p36" x="-3.1"/><use href="#p36" x="-1.55"/><use href="#p36" x="1.55"/><use href="#p36" x="3.1"/></g>
<text x="120.6" y="120.7" font-size="25.0" textLength="53.8" lengthAdjust="spacingAndGlyphs">ILC3</text>
<text x="-1" y="194.9" font-size="25.0" textLength="62.6" lengthAdjust="spacingAndGlyphs">CD94</text>
<text x="62.7" y="184.6" font-size="20.8" font-weight="bold" textLength="8.1" lengthAdjust="spacingAndGlyphs">-</text>
<text x="70.1" y="194.9" font-size="25.0" textLength="75.1" lengthAdjust="spacingAndGlyphs">CD117</text>
<text x="146.9" y="186.1" font-size="11.4" textLength="26.3" lengthAdjust="spacingAndGlyphs">-/low</text>
<text x="81.4" y="262.7" font-size="25.0" textLength="92.8" lengthAdjust="spacingAndGlyphs">NK cells</text>
<text x="120.6" y="402" font-size="25.0" textLength="53.8" lengthAdjust="spacingAndGlyphs">ILC3</text>
<text x="-1" y="476" font-size="25.0" textLength="62.6" lengthAdjust="spacingAndGlyphs">CD94</text>
<text x="62.7" y="465.7" font-size="20.8" font-weight="bold" textLength="8.1" lengthAdjust="spacingAndGlyphs">-</text>
<text x="70.1" y="476" font-size="25.0" textLength="75.1" lengthAdjust="spacingAndGlyphs">CD117</text>
<text x="146.9" y="467.2" font-size="11.4" textLength="26.3" lengthAdjust="spacingAndGlyphs">-/low</text>
<text x="81.4" y="545.9" font-size="25.0" textLength="92.8" lengthAdjust="spacingAndGlyphs">NK cells</text>
<text x="120.6" y="701.4" font-size="25.0" textLength="53.8" lengthAdjust="spacingAndGlyphs">ILC3</text>
<text x="-1" y="776.6" font-size="25.0" textLength="62.6" lengthAdjust="spacingAndGlyphs">CD94</text>
<text x="62.7" y="766.3" font-size="20.8" font-weight="bold" textLength="8.1" lengthAdjust="spacingAndGlyphs">-</text>
<text x="70.1" y="776.6" font-size="25.0" textLength="75.1" lengthAdjust="spacingAndGlyphs">CD117</text>
<text x="146.9" y="767.8" font-size="11.4" textLength="26.3" lengthAdjust="spacingAndGlyphs">-/low</text>
<text x="81.4" y="843.7" font-size="25.0" textLength="92.8" lengthAdjust="spacingAndGlyphs">NK cells</text>
<path d="M176.3 297.4L616.8 297.4" stroke="#000" stroke-width="2.4" fill="none" />
<path d="M631.8 297.4L610.8 291.2L615.8 297.4L610.8 303.5Z" fill="#000"/>
<text x="528.1" y="322.2" font-size="26.4" textLength="87.3" lengthAdjust="spacingAndGlyphs">NKG2D</text>
<path d="M174.4 583.2L614.5 583.2" stroke="#000" stroke-width="2.4" fill="none" />
<path d="M629.5 583.2L608.5 577.1L613.5 583.2L608.5 589.4Z" fill="#000"/>
<text x="533.1" y="607" font-size="26.4" textLength="78.2" lengthAdjust="spacingAndGlyphs">NKp30</text>
<path d="M174.4 878L614.5 878" stroke="#000" stroke-width="2.4" fill="none" />
<path d="M629.5 878L608.5 871.9L613.5 878L608.5 884.1Z" fill="#000"/>
<text x="523.8" y="901.4" font-size="26.4" textLength="78.2" lengthAdjust="spacingAndGlyphs">NKp46</text>
<rect x="647" y="52.7" width="20.6" height="20.6" fill="#b4b4b4" stroke="#555" stroke-width="3.2" stroke-linejoin="round"/>
<text x="687.9" y="73" font-size="28.1" textLength="42.9" lengthAdjust="spacingAndGlyphs">Ctrl</text>
<rect x="647" y="85.8" width="20.6" height="20.6" fill="#fff" stroke="#0a5cff" stroke-width="3.2" stroke-linejoin="round"/>
<text x="688.7" y="106" font-size="28.1" textLength="77.8" lengthAdjust="spacingAndGlyphs">T-BET</text>
<rect x="647" y="118.9" width="20.6" height="20.6" fill="#fff" stroke="#ff5f05" stroke-width="3.2" stroke-linejoin="round"/>
<text x="687" y="139.2" font-size="28.1" textLength="99.3" lengthAdjust="spacingAndGlyphs">EOMES</text>
<rect x="797" y="38" width="1" height="1.2" fill="#555"/>
<text x="37.9" y="975.2" font-size="28.1" font-weight="bold" textLength="21.5" lengthAdjust="spacingAndGlyphs">C</text>
<text x="235.8" y="999.4" font-size="31.2" textLength="116.7" lengthAdjust="spacingAndGlyphs">No OHT</text>
<text x="481.9" y="999.3" font-size="31.2" textLength="93.1" lengthAdjust="spacingAndGlyphs">4-OHT</text>
<rect x="182.2" y="1012" width="216.4" height="215" fill="#fff" stroke="#000" stroke-width="1.6"/>
<path d="M182.2 1085.2L398.6 1085.2" stroke="#000" stroke-width="1.1" fill="none" />
<path d="M182.2 1157.2L398.6 1157.2" stroke="#000" stroke-width="1.1" fill="none" />
<path d="M229.4 1227.9v5.5M276.3 1227.9v5.5M331 1227.9v5.5M377.2 1227.9v5.5M190 1227.9v5.5" stroke="#000" stroke-width="2.1" fill="none"/>
<path d="M292.8 1227.9v2.6M302.4 1227.9v2.6M309.2 1227.9v2.6M314.5 1227.9v2.6M318.9 1227.9v2.6M322.5 1227.9v2.6M325.7 1227.9v2.6M328.5 1227.9v2.6M344.9 1227.9v2.6M353 1227.9v2.6M358.8 1227.9v2.6M363.3 1227.9v2.6M367 1227.9v2.6M370 1227.9v2.6M372.7 1227.9v2.6M375.1 1227.9v2.6M391.1 1227.9v2.6M239.7 1227.9v2.6M219.1 1227.9v2.6M248 1227.9v2.6M210.8 1227.9v2.6M254.3 1227.9v2.6M204.5 1227.9v2.6M259.3 1227.9v2.6M199.5 1227.9v2.6M263.3 1227.9v2.6M195.5 1227.9v2.6M266.7 1227.9v2.6M192.1 1227.9v2.6M269.5 1227.9v2.6M189.3 1227.9v2.6M272.1 1227.9v2.6M186.7 1227.9v2.6M274.3 1227.9v2.6M184.5 1227.9v2.6" stroke="#000" stroke-width="1.4" fill="none"/>
<path d="M222.4 1227.9v4.0M225.2 1227.9v5.0M228 1227.9v5.4M230.8 1227.9v5.4M233.6 1227.9v5.0M236.4 1227.9v4.0" stroke="#000" stroke-width="2.2" fill="none"/>
<text x="232.9" y="1241.1" font-size="7.3" text-anchor="middle" fill="#222">0</text>
<text x="275.9" y="1241.6" font-size="7.3" fill="#222">10<tspan dy="-5" font-size="7.3">3</tspan></text>
<text x="329" y="1241.6" font-size="7.3" fill="#222">10<tspan dy="-5" font-size="7.3">4</tspan></text>
<text x="376.9" y="1241.6" font-size="7.3" fill="#222">10<tspan dy="-5" font-size="7.3">5</tspan></text>
<path d="M227.8 1084.3C228.9 1081.5 232.3 1074.2 234.1 1067.5C235.9 1060.8 237.2 1050.6 238.8 1044.1C240.4 1037.6 241.9 1029.5 243.5 1028.5C245 1027.4 246.3 1033.9 248.2 1037.8C250 1041.7 252.1 1047.5 254.4 1051.9C256.8 1056.3 259.4 1060.8 262.2 1064.4C265.1 1068.1 268.2 1071.2 271.6 1073.8C275 1076.4 278.7 1078.5 282.6 1080C286.5 1081.6 290.4 1082.5 295.1 1083.2C299.8 1083.9 308.1 1084.1 310.7 1084.3L310.7 1084.3L227.8 1084.3Z" fill="#b4b4b4" stroke="none"/>
<path d="M227.8 1084.3C228.9 1081.5 232.3 1074.2 234.1 1067.5C235.9 1060.8 237.2 1050.6 238.8 1044.1C240.4 1037.6 241.9 1029.5 243.5 1028.5C245 1027.4 246.3 1033.9 248.2 1037.8C250 1041.7 252.1 1047.5 254.4 1051.9C256.8 1056.3 259.4 1060.8 262.2 1064.4C265.1 1068.1 268.2 1071.2 271.6 1073.8C275 1076.4 278.7 1078.5 282.6 1080C286.5 1081.6 290.4 1082.5 295.1 1083.2C299.8 1083.9 308.1 1084.1 310.7 1084.3" fill="none" stroke="#454545" stroke-width="1.6" stroke-linejoin="round"/>
<g fill="none" stroke="#0a5cff" stroke-width="2.3" stroke-linejoin="round" stroke-linecap="round"><path id="p37" d="M184.2 1084.3C190.4 1084.3 214.3 1084.3 221.6 1084.3C228.9 1083 226 1082.3 227.8 1076.9C229.7 1071.5 231 1060.2 232.5 1051.9C234.1 1043.6 235.8 1032.2 237.2 1026.9C238.7 1021.5 239.6 1020.4 241.1 1019.9C242.7 1019.3 244.9 1021.3 246.6 1023.8C248.3 1026.2 249.5 1030.3 251.3 1034.7C253.1 1039.1 255.5 1046.2 257.6 1050.3C259.6 1054.5 261.5 1056.9 263.8 1059.7C266.2 1062.6 269 1065.2 271.6 1067.5C274.2 1069.9 276.6 1071.8 279.4 1073.8C282.3 1075.7 285.4 1077.8 288.8 1079.3C292.2 1080.7 295.6 1081.6 299.8 1082.4C303.9 1083.2 308.1 1083.6 313.8 1084C319.6 1084.3 320.3 1084.2 334.2 1084.3C348 1084.3 386.6 1084.3 397.1 1084.3"/><use href="#p37" x="-2.1"/><use href="#p37" x="2.1"/></g>
<g fill="none" stroke="#ff5f05" stroke-width="2.3" stroke-linejoin="round" stroke-linecap="round"><path id="p38" d="M184.2 1084.3C190.9 1084.3 216.9 1084.3 224.7 1084.3C232.5 1083.3 229.2 1083.4 231 1078.5C232.8 1073.6 234.1 1063.4 235.7 1055C237.2 1046.7 238.8 1034.3 240.4 1028.5C241.9 1022.6 243.2 1020.4 245 1019.9C246.9 1019.3 249.2 1023.4 251.3 1025.3C253.4 1027.3 255.5 1028.2 257.6 1031.6C259.6 1035 261.5 1041.5 263.8 1045.7C266.2 1049.8 269 1053.2 271.6 1056.6C274.2 1060 276.6 1063.4 279.4 1066C282.3 1068.6 285.7 1070.3 288.8 1072.2C292 1074.2 294.6 1076.4 298.2 1077.7C301.9 1079 306 1079.3 310.7 1080C315.4 1080.8 321.1 1081.7 326.3 1082.4C331.6 1083.1 330.2 1084 342 1084.3C353.8 1084.3 387.9 1084.3 397.1 1084.3"/><use href="#p38" x="-2.1"/><use href="#p38" x="2.1"/></g>
<path d="M227.8 1156.3C228.9 1153.5 232.3 1146.4 234.1 1139.5C235.9 1132.5 237.4 1121.2 238.8 1114.4C240.2 1107.7 241.4 1098.8 242.7 1098.8C244 1098.8 245.2 1109.8 246.6 1114.4C248 1119.1 249.5 1123 251.3 1127C253.1 1130.9 254.9 1135 257.6 1137.9C260.2 1140.8 263.3 1142.8 266.9 1144.1C270.6 1145.5 275.8 1145.1 279.4 1145.7C283.1 1146.4 285.7 1148.1 288.8 1148.1C292 1148.1 295.1 1146.2 298.2 1145.7C301.3 1145.2 304.5 1145.2 307.6 1144.9C310.7 1144.7 314.1 1143.9 317 1144.1C319.8 1144.4 322.2 1145.5 324.8 1146.5C327.4 1147.5 330 1149.1 332.6 1150.4C335.2 1151.7 337.6 1153.3 340.4 1154.3C343.3 1155.3 348.2 1156 349.8 1156.3L349.8 1156.3L227.8 1156.3Z" fill="#b4b4b4" stroke="none"/>
<path d="M227.8 1156.3C228.9 1153.5 232.3 1146.4 234.1 1139.5C235.9 1132.5 237.4 1121.2 238.8 1114.4C240.2 1107.7 241.4 1098.8 242.7 1098.8C244 1098.8 245.2 1109.8 246.6 1114.4C248 1119.1 249.5 1123 251.3 1127C253.1 1130.9 254.9 1135 257.6 1137.9C260.2 1140.8 263.3 1142.8 266.9 1144.1C270.6 1145.5 275.8 1145.1 279.4 1145.7C283.1 1146.4 285.7 1148.1 288.8 1148.1C292 1148.1 295.1 1146.2 298.2 1145.7C301.3 1145.2 304.5 1145.2 307.6 1144.9C310.7 1144.7 314.1 1143.9 317 1144.1C319.8 1144.4 322.2 1145.5 324.8 1146.5C327.4 1147.5 330 1149.1 332.6 1150.4C335.2 1151.7 337.6 1153.3 340.4 1154.3C343.3 1155.3 348.2 1156 349.8 1156.3" fill="none" stroke="#454545" stroke-width="1.6" stroke-linejoin="round"/>
<g fill="none" stroke="#0a5cff" stroke-width="2.3" stroke-linejoin="round" stroke-linecap="round"><path id="p39" d="M184.2 1156.3C190.9 1156.3 216.9 1156.3 224.7 1156.3C232.5 1154.6 229.2 1151.1 231 1145.7C232.8 1140.3 234.1 1130.1 235.7 1123.8C237.2 1117.6 238.8 1111.1 240.4 1108.2C241.9 1105.3 243.5 1106.1 245 1106.6C246.6 1107.1 248.2 1108.5 249.7 1111.3C251.3 1114.2 252.6 1119.7 254.4 1123.8C256.3 1128 258.1 1133.2 260.7 1136.3C263.3 1139.5 266.9 1141.2 270.1 1142.6C273.2 1144 276.6 1144.3 279.4 1144.9C282.3 1145.6 284.9 1146.8 287.3 1146.5C289.6 1146.2 291.2 1143.5 293.5 1143.4C295.9 1143.2 298.2 1145.3 301.3 1145.7C304.5 1146.1 308.6 1145.3 312.3 1145.7C315.9 1146.1 320.1 1147.4 323.2 1148.1C326.3 1148.7 328.4 1148.7 331 1149.6C333.6 1150.5 336 1152.5 338.9 1153.5C341.7 1154.6 345.1 1155.4 348.2 1155.9C351.4 1156.3 349.5 1156.3 357.6 1156.3C365.8 1156.3 390.5 1156.3 397.1 1156.3"/><use href="#p39" x="-2.1"/><use href="#p39" x="2.1"/></g>
<g fill="none" stroke="#ff5f05" stroke-width="2.3" stroke-linejoin="round" stroke-linecap="round"><path id="p40" d="M184.2 1156.3C190.9 1156.3 216.7 1156.3 224.7 1156.3C232.8 1154.8 230.5 1153.7 232.5 1147.3C234.6 1140.8 235.9 1125.6 237.2 1117.6C238.5 1109.5 239.1 1101.8 240.4 1098.8C241.7 1095.8 243.2 1099.3 245 1099.6C246.9 1099.9 249.5 1098.9 251.3 1100.4C253.1 1101.8 254.2 1104 256 1108.2C257.8 1112.4 260.4 1122.3 262.2 1125.4C264.1 1128.5 265.2 1126.8 266.9 1127C268.6 1127.1 270.6 1125.4 272.4 1126.2C274.2 1127 275.9 1129.9 277.9 1131.6C279.8 1133.3 281.8 1135.2 284.1 1136.3C286.5 1137.5 288.8 1137.6 292 1138.7C295.1 1139.7 299.2 1142.5 302.9 1142.6C306.5 1142.7 311 1139.5 313.8 1139.5C316.7 1139.5 318.3 1142.2 320.1 1142.6C321.9 1143 323 1141.4 324.8 1141.8C326.6 1142.2 329.2 1144.5 331 1144.9C332.9 1145.3 333.9 1143.2 335.7 1144.1C337.6 1145.1 339.9 1148.6 342 1150.4C344.1 1152.2 345.6 1153.8 348.2 1154.8C350.8 1155.8 349.5 1156.1 357.6 1156.3C365.8 1156.3 390.5 1156.3 397.1 1156.3"/><use href="#p40" x="-2.1"/><use href="#p40" x="2.1"/></g>
<path d="M232.5 1226.7C236.7 1226.5 251 1225.8 257.6 1225.5C264.1 1225.1 268 1225.3 271.6 1224.7C275.3 1224 276.1 1222.5 279.4 1221.5C282.8 1220.6 288 1219.8 292 1219.2C295.9 1218.5 299.8 1218.2 302.9 1217.6C306 1217.1 308.4 1218.2 310.7 1216.1C313.1 1214 314.9 1208.4 317 1205.1C319.1 1201.9 321.3 1198.5 323.2 1196.5C325.2 1194.6 327.1 1192.7 328.7 1193.4C330.3 1194.1 330.9 1197.7 332.6 1200.4C334.3 1203.2 336.8 1207.5 338.9 1209.8C340.9 1212.2 342.8 1213.2 345.1 1214.5C347.5 1215.8 350.3 1216.2 352.9 1217.6C355.5 1219.1 358.4 1221.6 360.7 1223.1C363.1 1224.6 366 1226.1 367 1226.7L367 1226.7L232.5 1226.7Z" fill="#b4b4b4" stroke="none"/>
<path d="M232.5 1226.7C236.7 1226.5 251 1225.8 257.6 1225.5C264.1 1225.1 268 1225.3 271.6 1224.7C275.3 1224 276.1 1222.5 279.4 1221.5C282.8 1220.6 288 1219.8 292 1219.2C295.9 1218.5 299.8 1218.2 302.9 1217.6C306 1217.1 308.4 1218.2 310.7 1216.1C313.1 1214 314.9 1208.4 317 1205.1C319.1 1201.9 321.3 1198.5 323.2 1196.5C325.2 1194.6 327.1 1192.7 328.7 1193.4C330.3 1194.1 330.9 1197.7 332.6 1200.4C334.3 1203.2 336.8 1207.5 338.9 1209.8C340.9 1212.2 342.8 1213.2 345.1 1214.5C347.5 1215.8 350.3 1216.2 352.9 1217.6C355.5 1219.1 358.4 1221.6 360.7 1223.1C363.1 1224.6 366 1226.1 367 1226.7" fill="none" stroke="#454545" stroke-width="1.6" stroke-linejoin="round"/>
<g fill="none" stroke="#0a5cff" stroke-width="2.3" stroke-linejoin="round" stroke-linecap="round"><path id="p41" d="M184.2 1226.7C198 1226.7 250.5 1226.7 266.9 1226.7C283.3 1226.5 277.9 1226 282.6 1225.5C287.3 1224.9 291.7 1223.9 295.1 1223.1C298.5 1222.3 300.6 1222.5 302.9 1220.8C305.2 1219.1 306.8 1215 309.1 1212.9C311.5 1210.9 314.1 1209.4 317 1208.3C319.8 1207.1 323.4 1206.7 326.3 1205.9C329.3 1205.1 332.6 1202.9 334.9 1203.6C337.3 1204.2 338.7 1207.2 340.4 1209.8C342.1 1212.4 343.3 1216.9 345.1 1219.2C346.9 1221.5 348.8 1222.7 351.4 1223.9C354 1225 357.1 1225.6 360.7 1226.1C364.4 1226.5 367.2 1226.6 373.3 1226.7C379.3 1226.7 393.1 1226.7 397.1 1226.7"/><use href="#p41" x="-2.1"/><use href="#p41" x="2.1"/></g>
<g fill="none" stroke="#ff5f05" stroke-width="2.3" stroke-linejoin="round" stroke-linecap="round"><path id="p42" d="M184.2 1226.7C192.3 1226.7 222.7 1226.7 232.5 1226.7C242.4 1226.6 240.4 1226.5 243.5 1226.2C246.6 1226 248.4 1225.1 251.3 1225.1C254.2 1225.1 256.5 1226.2 260.7 1226.2C264.9 1226.3 271.6 1226 276.3 1225.5C281 1224.9 285.2 1224.7 288.8 1223.1C292.5 1221.5 295.6 1218.3 298.2 1216.1C300.8 1213.9 302.6 1211.2 304.5 1209.8C306.3 1208.4 307.6 1207.2 309.1 1207.5C310.7 1207.7 312.3 1210.3 313.8 1211.4C315.4 1212.4 316.7 1213.9 318.5 1213.7C320.4 1213.6 322.7 1211.9 324.8 1210.6C326.9 1209.3 329.2 1206 331 1205.9C332.9 1205.8 334.2 1207.9 335.7 1209.8C337.3 1211.8 338.6 1215.4 340.4 1217.6C342.2 1219.8 344.3 1221.8 346.7 1223.1C349 1224.5 351.1 1225.2 354.5 1225.8C357.9 1226.4 359.9 1226.5 367 1226.7C374.1 1226.7 392.1 1226.7 397.1 1226.7"/><use href="#p42" x="-2.1"/><use href="#p42" x="2.1"/></g>
<rect x="413" y="1012" width="216.1" height="213.7" fill="#fff" stroke="#000" stroke-width="1.6"/>
<path d="M413 1086L629 1086" stroke="#000" stroke-width="1.1" fill="none" />
<path d="M413 1157.2L629 1157.2" stroke="#000" stroke-width="1.1" fill="none" />
<path d="M462.5 1226.7v5.5M506.8 1226.7v5.5M561 1226.7v5.5M607.6 1226.7v5.5M421 1226.7v5.5" stroke="#000" stroke-width="2.1" fill="none"/>
<path d="M523.1 1226.7v2.6M532.7 1226.7v2.6M539.4 1226.7v2.6M544.7 1226.7v2.6M549 1226.7v2.6M552.6 1226.7v2.6M555.7 1226.7v2.6M558.5 1226.7v2.6M575 1226.7v2.6M583.2 1226.7v2.6M589.1 1226.7v2.6M593.6 1226.7v2.6M597.3 1226.7v2.6M600.4 1226.7v2.6M603.1 1226.7v2.6M605.5 1226.7v2.6M621.6 1226.7v2.6M472.2 1226.7v2.6M452.8 1226.7v2.6M480.1 1226.7v2.6M444.9 1226.7v2.6M486 1226.7v2.6M439 1226.7v2.6M490.7 1226.7v2.6M434.3 1226.7v2.6M494.5 1226.7v2.6M430.5 1226.7v2.6M497.7 1226.7v2.6M427.3 1226.7v2.6M500.4 1226.7v2.6M424.6 1226.7v2.6M502.8 1226.7v2.6M422.2 1226.7v2.6M504.9 1226.7v2.6M420.1 1226.7v2.6" stroke="#000" stroke-width="1.4" fill="none"/>
<path d="M455.5 1226.7v4.0M458.3 1226.7v5.0M461.1 1226.7v5.4M463.9 1226.7v5.4M466.7 1226.7v5.0M469.5 1226.7v4.0" stroke="#000" stroke-width="2.2" fill="none"/>
<text x="463.3" y="1241.1" font-size="7.3" text-anchor="middle" fill="#222">0</text>
<text x="505.7" y="1241.6" font-size="7.3" fill="#222">10<tspan dy="-5" font-size="7.3">3</tspan></text>
<text x="559.5" y="1241.6" font-size="7.3" fill="#222">10<tspan dy="-5" font-size="7.3">4</tspan></text>
<text x="607.3" y="1241.6" font-size="7.3" fill="#222">10<tspan dy="-5" font-size="7.3">5</tspan></text>
<path d="M460.2 1085.1C461.1 1082.1 464 1075.1 465.7 1067.5C467.4 1059.9 468.8 1046.4 470.4 1039.4C471.9 1032.4 473.7 1026.6 475 1025.3C476.3 1024 477.3 1030.9 478.2 1031.6C479.1 1032.2 479.2 1027.7 480.5 1029.2C481.8 1030.8 484 1036.9 486 1041C487.9 1045 490.3 1051.1 492.2 1053.5C494.2 1055.8 496.2 1052.7 497.7 1055C499.3 1057.4 500.1 1065.2 501.6 1067.5C503.2 1069.9 505.3 1067.8 507.1 1069.1C508.9 1070.4 510.1 1073.4 512.6 1075.4C515 1077.3 518.6 1079.5 522 1080.8C525.3 1082.1 528.5 1082.5 532.9 1083.2C537.3 1083.9 545.9 1084.7 548.5 1085.1L548.5 1085.1L460.2 1085.1Z" fill="#b4b4b4" stroke="none"/>
<path d="M460.2 1085.1C461.1 1082.1 464 1075.1 465.7 1067.5C467.4 1059.9 468.8 1046.4 470.4 1039.4C471.9 1032.4 473.7 1026.6 475 1025.3C476.3 1024 477.3 1030.9 478.2 1031.6C479.1 1032.2 479.2 1027.7 480.5 1029.2C481.8 1030.8 484 1036.9 486 1041C487.9 1045 490.3 1051.1 492.2 1053.5C494.2 1055.8 496.2 1052.7 497.7 1055C499.3 1057.4 500.1 1065.2 501.6 1067.5C503.2 1069.9 505.3 1067.8 507.1 1069.1C508.9 1070.4 510.1 1073.4 512.6 1075.4C515 1077.3 518.6 1079.5 522 1080.8C525.3 1082.1 528.5 1082.5 532.9 1083.2C537.3 1083.9 545.9 1084.7 548.5 1085.1" fill="none" stroke="#454545" stroke-width="1.6" stroke-linejoin="round"/>
<g fill="none" stroke="#0a5cff" stroke-width="2.3" stroke-linejoin="round" stroke-linecap="round"><path id="p43" d="M415 1085.1C422.4 1085.1 450.7 1085.1 459.4 1085.1C468.1 1084 464.6 1082.7 467.2 1078.5C469.8 1074.3 472.4 1065.7 475 1059.7C477.7 1053.7 480.5 1047.2 482.9 1042.5C485.2 1037.8 486.8 1034.2 489.1 1031.6C491.5 1029 494.6 1028.2 496.9 1026.9C499.3 1025.6 501.1 1023 503.2 1023.8C505.3 1024.5 507.4 1028.7 509.4 1031.6C511.5 1034.4 513.4 1037.8 515.7 1041C518 1044.1 520.9 1047.2 523.5 1050.3C526.1 1053.5 528.7 1056.6 531.3 1059.7C533.9 1062.8 536.5 1066.2 539.1 1069.1C541.8 1072 544.1 1074.8 547 1076.9C549.8 1079 553.2 1080.4 556.3 1081.6C559.5 1082.8 562.3 1083.4 565.7 1084C569.1 1084.5 566.4 1084.9 576.7 1085.1C587 1085.1 619.1 1085.1 627.5 1085.1"/><use href="#p43" x="-2.1"/><use href="#p43" x="2.1"/></g>
<g fill="none" stroke="#ff5f05" stroke-width="2.3" stroke-linejoin="round" stroke-linecap="round"><path id="p44" d="M415 1085.1C422.9 1085.1 453.3 1085.1 462.5 1085.1C471.8 1084.2 467.8 1083.5 470.4 1080C473 1076.6 475.6 1069.9 478.2 1064.4C480.8 1058.9 483.6 1051.9 486 1047.2C488.3 1042.5 489.9 1039.1 492.2 1036.3C494.6 1033.4 497.5 1031.8 500.1 1030C502.7 1028.2 505.3 1025.8 507.9 1025.3C510.5 1024.8 513.4 1025.1 515.7 1026.9C518 1028.7 519.9 1032.9 522 1036.3C524 1039.7 526.4 1044.9 528.2 1047.2C530 1049.6 531.3 1048.5 532.9 1050.3C534.5 1052.2 535.5 1055.3 537.6 1058.2C539.7 1061 542.8 1065.2 545.4 1067.5C548 1069.9 550.6 1070.4 553.2 1072.2C555.8 1074.1 558.2 1076.8 561 1078.5C563.9 1080.2 567 1081.3 570.4 1082.4C573.8 1083.4 578 1084.3 581.4 1084.7C584.8 1085.1 583 1085 590.7 1085.1C598.4 1085.1 621.4 1085.1 627.5 1085.1"/><use href="#p44" x="-2.1"/><use href="#p44" x="2.1"/></g>
<path d="M456.3 1156.3C457.3 1154.1 460.7 1149 462.5 1142.6C464.4 1136.1 465.8 1124.2 467.2 1117.6C468.7 1110.9 469.6 1103.8 471.1 1102.7C472.7 1101.7 475 1109.8 476.6 1111.3C478.2 1112.9 479 1109.8 480.5 1112.1C482.1 1114.4 484 1121.6 486 1125.4C487.9 1129.2 490.2 1131.6 492.2 1134.8C494.3 1137.9 496.2 1142.2 498.5 1144.1C500.8 1146.1 503.5 1145.6 506.3 1146.5C509.2 1147.4 512 1149.1 515.7 1149.6C519.3 1150.1 524.6 1149.5 528.2 1149.6C531.9 1149.8 534.5 1150.7 537.6 1150.4C540.7 1150.1 543.3 1148.6 547 1148.1C550.6 1147.5 555.8 1146.8 559.5 1147.3C563.1 1147.8 565.7 1150 568.9 1151.2C572 1152.4 575.1 1153.5 578.2 1154.3C581.4 1155.2 586.1 1156 587.6 1156.3L587.6 1156.3L456.3 1156.3Z" fill="#b4b4b4" stroke="none"/>
<path d="M456.3 1156.3C457.3 1154.1 460.7 1149 462.5 1142.6C464.4 1136.1 465.8 1124.2 467.2 1117.6C468.7 1110.9 469.6 1103.8 471.1 1102.7C472.7 1101.7 475 1109.8 476.6 1111.3C478.2 1112.9 479 1109.8 480.5 1112.1C482.1 1114.4 484 1121.6 486 1125.4C487.9 1129.2 490.2 1131.6 492.2 1134.8C494.3 1137.9 496.2 1142.2 498.5 1144.1C500.8 1146.1 503.5 1145.6 506.3 1146.5C509.2 1147.4 512 1149.1 515.7 1149.6C519.3 1150.1 524.6 1149.5 528.2 1149.6C531.9 1149.8 534.5 1150.7 537.6 1150.4C540.7 1150.1 543.3 1148.6 547 1148.1C550.6 1147.5 555.8 1146.8 559.5 1147.3C563.1 1147.8 565.7 1150 568.9 1151.2C572 1152.4 575.1 1153.5 578.2 1154.3C581.4 1155.2 586.1 1156 587.6 1156.3" fill="none" stroke="#454545" stroke-width="1.6" stroke-linejoin="round"/>
<g fill="none" stroke="#0a5cff" stroke-width="2.3" stroke-linejoin="round" stroke-linecap="round"><path id="p45" d="M415 1156.3C422.1 1156.3 449.1 1156.3 457.8 1156.3C466.6 1155.4 463.8 1152.7 467.2 1150.4C470.6 1148.1 474.5 1145.2 478.2 1142.6C481.8 1140 486 1137.9 489.1 1134.8C492.2 1131.6 494.6 1127.2 496.9 1123.8C499.3 1120.4 501.1 1117.7 503.2 1114.4C505.3 1111.2 507.4 1106.4 509.4 1104.3C511.5 1102.2 513.7 1103.5 515.7 1101.9C517.7 1100.4 519.3 1094.4 521.2 1094.9C523 1095.4 524.7 1101.3 526.6 1105.1C528.6 1108.8 530.8 1113.9 532.9 1117.6C535 1121.2 537.1 1124.1 539.1 1127C541.2 1129.8 543.3 1131.6 545.4 1134.8C547.5 1137.9 549.3 1142.8 551.7 1145.7C554 1148.6 556.6 1150.4 559.5 1152C562.3 1153.5 565.5 1154.4 568.9 1155.1C572.2 1155.8 570 1156.1 579.8 1156.3C589.6 1156.3 619.6 1156.3 627.5 1156.3"/><use href="#p45" x="-2.1"/><use href="#p45" x="2.1"/></g>
<g fill="none" stroke="#ff5f05" stroke-width="2.3" stroke-linejoin="round" stroke-linecap="round"><path id="p46" d="M415 1156.3C422.1 1156.3 448.6 1156.3 457.8 1156.3C467.1 1155.6 466.4 1153.7 470.4 1152C474.3 1150.2 477.7 1148.1 481.3 1145.7C484.9 1143.4 489.1 1141 492.2 1137.9C495.4 1134.8 497.5 1130.6 500.1 1127C502.7 1123.3 505.3 1118.9 507.9 1116C510.5 1113.1 513.5 1111.3 515.7 1109.8C517.9 1108.2 519.6 1106.1 521.2 1106.6C522.7 1107.1 523.4 1112.6 525.1 1112.9C526.8 1113.1 529.2 1109.4 531.3 1108.2C533.4 1107 535.8 1104.8 537.6 1105.8C539.4 1106.9 540.5 1112.5 542.3 1114.4C544.1 1116.4 546.4 1115.2 548.5 1117.6C550.6 1119.9 552.7 1124.9 554.8 1128.5C556.9 1132.2 558.7 1136.6 561 1139.5C563.4 1142.3 566.2 1143.6 568.9 1145.7C571.5 1147.8 573.8 1150.4 576.7 1152C579.5 1153.5 582.9 1154.4 586.1 1155.1C589.2 1155.8 588.5 1156.1 595.4 1156.3C602.4 1156.3 622.2 1156.3 627.5 1156.3"/><use href="#p46" x="-2.1"/><use href="#p46" x="2.1"/></g>
<path d="M509.4 1225.5C512 1225.2 521.2 1224.8 525.1 1223.9C529 1223 530.3 1221.5 532.9 1220C535.5 1218.4 538.1 1215.2 540.7 1214.5C543.3 1213.9 545.9 1216.3 548.5 1216.1C551.1 1215.8 554.3 1215.5 556.3 1212.9C558.4 1210.3 559.7 1203.2 561 1200.4C562.3 1197.7 563 1196.3 564.2 1196.5C565.3 1196.8 566.5 1199.3 568.1 1202C569.6 1204.7 571.6 1209.7 573.5 1212.9C575.5 1216.2 577.5 1219.5 579.8 1221.5C582.1 1223.6 586.3 1224.8 587.6 1225.5L587.6 1225.5L509.4 1225.5Z" fill="#b4b4b4" stroke="none"/>
<path d="M509.4 1225.5C512 1225.2 521.2 1224.8 525.1 1223.9C529 1223 530.3 1221.5 532.9 1220C535.5 1218.4 538.1 1215.2 540.7 1214.5C543.3 1213.9 545.9 1216.3 548.5 1216.1C551.1 1215.8 554.3 1215.5 556.3 1212.9C558.4 1210.3 559.7 1203.2 561 1200.4C562.3 1197.7 563 1196.3 564.2 1196.5C565.3 1196.8 566.5 1199.3 568.1 1202C569.6 1204.7 571.6 1209.7 573.5 1212.9C575.5 1216.2 577.5 1219.5 579.8 1221.5C582.1 1223.6 586.3 1224.8 587.6 1225.5" fill="none" stroke="#454545" stroke-width="1.6" stroke-linejoin="round"/>
<g fill="none" stroke="#0a5cff" stroke-width="2.3" stroke-linejoin="round" stroke-linecap="round"><path id="p47" d="M415 1225.5C424.2 1225.5 458.5 1225.5 470.4 1225.5C482.2 1225.2 481.6 1224.7 486 1223.9C490.4 1223.1 493.5 1222.6 496.9 1220.8C500.3 1218.9 503.2 1216.6 506.3 1212.9C509.4 1209.3 512.8 1203.8 515.7 1198.9C518.6 1193.9 521.2 1187.7 523.5 1183.2C525.9 1178.8 527.9 1173.9 529.8 1172.3C531.6 1170.7 533 1174.8 534.5 1173.9C535.9 1172.9 536.9 1166.8 538.4 1166.8C539.8 1166.8 541.6 1170.9 543.1 1173.9C544.5 1176.9 545.3 1181.2 547 1184.8C548.7 1188.4 551.1 1191.8 553.2 1195.7C555.3 1199.7 557.4 1204.9 559.5 1208.3C561.6 1211.6 563.4 1213.7 565.7 1216.1C568.1 1218.4 570.7 1220.8 573.5 1222.3C576.4 1223.8 580.1 1224.6 582.9 1225.1C585.8 1225.5 583.3 1225.4 590.7 1225.5C598.2 1225.5 621.4 1225.5 627.5 1225.5"/><use href="#p47" x="-2.1"/><use href="#p47" x="2.1"/></g>
<g fill="none" stroke="#ff5f05" stroke-width="2.3" stroke-linejoin="round" stroke-linecap="round"><path id="p48" d="M415 1225.5C425.5 1225.5 464.5 1225.5 478.2 1225.5C491.8 1225.3 491.7 1225.2 496.9 1224.7C502.1 1224.1 505.3 1223.4 509.4 1222.3C513.6 1221.3 518.3 1220 522 1218.4C525.6 1216.9 528.7 1214.6 531.3 1212.9C533.9 1211.2 535.5 1209.2 537.6 1208.3C539.7 1207.3 542.1 1209 543.8 1207.5C545.5 1205.9 546.6 1201 547.7 1198.9C548.9 1196.8 549.7 1195 550.9 1195C552 1195 553.4 1196.7 554.8 1198.9C556.2 1201.1 557.7 1206.2 559.5 1208.3C561.3 1210.3 563.6 1210.5 565.7 1211.4C567.8 1212.3 569.9 1213.2 572 1213.7C574.1 1214.2 576.4 1213.5 578.2 1214.5C580.1 1215.5 581.4 1218.3 582.9 1220C584.5 1221.7 585.8 1223.8 587.6 1224.7C589.4 1225.5 587.2 1225.3 593.9 1225.5C600.5 1225.5 621.9 1225.5 627.5 1225.5"/><use href="#p48" x="-2.1"/><use href="#p48" x="2.1"/></g>
<rect x="181.7" y="1302.5" width="217.8" height="215.6" fill="#fff" stroke="#000" stroke-width="1.6"/>
<path d="M181.7 1376.9L399.5 1376.9" stroke="#000" stroke-width="1.1" fill="none" />
<path d="M181.7 1447.6L399.5 1447.6" stroke="#000" stroke-width="1.1" fill="none" />
<path d="M220 1519v5.5M286 1519v5.5M325.6 1519v5.5M363.9 1519v5.5M197 1519v5.5" stroke="#000" stroke-width="2.1" fill="none"/>
<path d="M297.9 1519v2.6M304.9 1519v2.6M309.8 1519v2.6M313.7 1519v2.6M316.8 1519v2.6M319.5 1519v2.6M321.8 1519v2.6M323.8 1519v2.6M337.1 1519v2.6M343.9 1519v2.6M348.7 1519v2.6M352.4 1519v2.6M355.4 1519v2.6M358 1519v2.6M360.2 1519v2.6M362.1 1519v2.6M375.4 1519v2.6M382.2 1519v2.6M387 1519v2.6M390.7 1519v2.6M393.7 1519v2.6M396.3 1519v2.6M398.5 1519v2.6M234.5 1519v2.6M205.5 1519v2.6M246.2 1519v2.6M193.8 1519v2.6M255.1 1519v2.6M184.9 1519v2.6M262 1519v2.6M267.7 1519v2.6M272.4 1519v2.6M276.5 1519v2.6M280 1519v2.6M283.2 1519v2.6" stroke="#000" stroke-width="1.4" fill="none"/>
<path d="M213 1519v4.0M215.8 1519v5.0M218.6 1519v5.4M221.4 1519v5.4M224.2 1519v5.0M227 1519v4.0" stroke="#000" stroke-width="2.2" fill="none"/>
<text x="223.5" y="1538" font-size="7.3" text-anchor="middle" fill="#222">0</text>
<text x="286.8" y="1538.5" font-size="7.3" fill="#222">10<tspan dy="-5" font-size="7.3">3</tspan></text>
<text x="325.9" y="1538.5" font-size="7.3" fill="#222">10<tspan dy="-5" font-size="7.3">4</tspan></text>
<text x="364" y="1538.5" font-size="7.3" fill="#222">10<tspan dy="-5" font-size="7.3">5</tspan></text>
<path d="M237.2 1376C238.8 1375 244 1373.6 246.6 1370C249.2 1366.5 251 1361.2 252.9 1354.4C254.7 1347.6 256.1 1336.4 257.6 1329.4C259 1322.4 260.4 1315.5 261.5 1312.2C262.5 1308.9 262.8 1308.3 263.8 1309.9C264.9 1311.4 266.4 1316.5 267.7 1321.6C269 1326.7 270.2 1335.7 271.6 1340.3C273.1 1345 274.9 1347.4 276.3 1349.7C277.7 1352.1 278.9 1352.1 280.2 1354.4C281.5 1356.8 282.4 1360.9 284.1 1363.8C285.8 1366.7 288 1369.6 290.4 1371.6C292.7 1373.6 296.9 1375.3 298.2 1376L298.2 1376L237.2 1376Z" fill="#b4b4b4" stroke="none"/>
<path d="M237.2 1376C238.8 1375 244 1373.6 246.6 1370C249.2 1366.5 251 1361.2 252.9 1354.4C254.7 1347.6 256.1 1336.4 257.6 1329.4C259 1322.4 260.4 1315.5 261.5 1312.2C262.5 1308.9 262.8 1308.3 263.8 1309.9C264.9 1311.4 266.4 1316.5 267.7 1321.6C269 1326.7 270.2 1335.7 271.6 1340.3C273.1 1345 274.9 1347.4 276.3 1349.7C277.7 1352.1 278.9 1352.1 280.2 1354.4C281.5 1356.8 282.4 1360.9 284.1 1363.8C285.8 1366.7 288 1369.6 290.4 1371.6C292.7 1373.6 296.9 1375.3 298.2 1376" fill="none" stroke="#454545" stroke-width="1.6" stroke-linejoin="round"/>
<g fill="none" stroke="#0a5cff" stroke-width="2.3" stroke-linejoin="round" stroke-linecap="round"><path id="p49" d="M183.7 1376C191.9 1376 222.8 1376 232.5 1376C242.2 1375.5 239.1 1375.5 241.9 1373.2C244.8 1370.9 247.4 1367.7 249.7 1362.2C252.1 1356.8 254.2 1347.1 256 1340.3C257.8 1333.6 259.4 1326 260.7 1321.6C262 1317.1 262.6 1315.2 263.8 1313.8C265 1312.3 266.5 1311.2 267.7 1313C268.9 1314.8 269.7 1319.9 270.8 1324.7C272 1329.5 273.3 1337 274.8 1341.9C276.2 1346.9 277.6 1351 279.4 1354.4C281.3 1357.8 283.6 1359.6 285.7 1362.2C287.8 1364.8 289.9 1368 292 1370C294 1372.1 295.1 1373.7 298.2 1374.7C301.3 1375.7 294.1 1375.8 310.7 1376C327.3 1376 383.5 1376 398 1376"/><use href="#p49" x="-2.1"/><use href="#p49" x="2.1"/></g>
<g fill="none" stroke="#ff5f05" stroke-width="2.3" stroke-linejoin="round" stroke-linecap="round"><path id="p50" d="M183.7 1376C190.6 1376 216.3 1376 224.7 1376C233.1 1375.5 231.5 1375.2 234.1 1373.2C236.7 1371.1 238.3 1368.5 240.4 1363.8C242.4 1359.1 244.8 1351.5 246.6 1345C248.4 1338.5 249.9 1329.8 251.3 1324.7C252.7 1319.6 253.8 1316.4 255.2 1314.5C256.6 1312.7 258.5 1311.3 259.9 1313.8C261.3 1316.2 262.6 1324.2 263.8 1329.4C265 1334.6 265.9 1341.4 266.9 1345C268 1348.7 268.9 1350.1 270.1 1351.3C271.2 1352.5 272.7 1350.8 274 1352.1C275.3 1353.4 276.4 1356.4 277.9 1359.1C279.3 1361.8 280.7 1366 282.6 1368.5C284.4 1371 286.2 1372.7 288.8 1374C291.4 1375.2 280 1375.6 298.2 1376C316.4 1376 381.4 1376 398 1376"/><use href="#p50" x="-2.1"/><use href="#p50" x="2.1"/></g>
<path d="M235.7 1446.7C237.5 1445.9 243.7 1444.6 246.6 1442C249.5 1439.4 251 1436.2 252.9 1431C254.7 1425.8 256 1416.7 257.6 1410.7C259.1 1404.7 260.9 1397.4 262.2 1395.1C263.5 1392.7 264.1 1393 265.4 1396.6C266.7 1400.3 268.5 1411.5 270.1 1417C271.6 1422.4 272.9 1426.3 274.8 1429.5C276.6 1432.6 278.7 1433.9 281 1435.7C283.4 1437.5 286 1439.2 288.8 1440.4C291.7 1441.6 295.1 1442.7 298.2 1442.7C301.3 1442.7 304.5 1440.5 307.6 1440.4C310.7 1440.3 314.4 1442 317 1442C319.6 1442 320.6 1440 323.2 1440.4C325.8 1440.8 329.5 1443.3 332.6 1444.3C335.7 1445.3 338.9 1446 342 1446.3C345.1 1446.7 349.8 1446.6 351.4 1446.7L351.4 1446.7L235.7 1446.7Z" fill="#b4b4b4" stroke="none"/>
<path d="M235.7 1446.7C237.5 1445.9 243.7 1444.6 246.6 1442C249.5 1439.4 251 1436.2 252.9 1431C254.7 1425.8 256 1416.7 257.6 1410.7C259.1 1404.7 260.9 1397.4 262.2 1395.1C263.5 1392.7 264.1 1393 265.4 1396.6C266.7 1400.3 268.5 1411.5 270.1 1417C271.6 1422.4 272.9 1426.3 274.8 1429.5C276.6 1432.6 278.7 1433.9 281 1435.7C283.4 1437.5 286 1439.2 288.8 1440.4C291.7 1441.6 295.1 1442.7 298.2 1442.7C301.3 1442.7 304.5 1440.5 307.6 1440.4C310.7 1440.3 314.4 1442 317 1442C319.6 1442 320.6 1440 323.2 1440.4C325.8 1440.8 329.5 1443.3 332.6 1444.3C335.7 1445.3 338.9 1446 342 1446.3C345.1 1446.7 349.8 1446.6 351.4 1446.7" fill="none" stroke="#454545" stroke-width="1.6" stroke-linejoin="round"/>
<g fill="none" stroke="#0a5cff" stroke-width="2.3" stroke-linejoin="round" stroke-linecap="round"><path id="p51" d="M183.7 1446.7C191.3 1446.7 220 1446.7 229.4 1446.7C238.9 1446.3 237.2 1446.1 240.4 1444.3C243.5 1442.5 245.8 1440 248.2 1435.7C250.5 1431.4 252.6 1424.2 254.4 1418.5C256.3 1412.8 257.6 1406.3 259.1 1401.3C260.7 1396.4 262.5 1391.5 263.8 1388.8C265.1 1386.1 265.8 1384.9 266.9 1384.9C268.1 1384.9 269.5 1385 270.8 1388.8C272.1 1392.6 273.3 1401.3 274.8 1407.6C276.2 1413.8 277.9 1422.4 279.4 1426.3C281 1430.2 282.6 1429.7 284.1 1431C285.7 1432.3 287 1433 288.8 1434.1C290.6 1435.3 292.5 1437.4 295.1 1438.1C297.7 1438.7 301.3 1438.1 304.5 1438.1C307.6 1438.1 310.7 1437.7 313.8 1438.1C317 1438.4 320.1 1439.6 323.2 1440.4C326.3 1441.2 329.5 1442 332.6 1442.7C335.7 1443.5 338.3 1444.4 342 1445.1C345.6 1445.7 345.2 1446.4 354.5 1446.7C363.8 1446.7 390.8 1446.7 398 1446.7"/><use href="#p51" x="-2.1"/><use href="#p51" x="2.1"/></g>
<g fill="none" stroke="#ff5f05" stroke-width="2.3" stroke-linejoin="round" stroke-linecap="round"><path id="p52" d="M183.7 1446.7C190 1446.7 213.7 1446.7 221.6 1446.7C229.5 1446.1 228.4 1445.4 231 1443.5C233.6 1441.7 235.1 1439.6 237.2 1435.7C239.3 1431.8 241.7 1425.8 243.5 1420.1C245.3 1414.3 246.7 1406 248.2 1401.3C249.6 1396.6 250.9 1394.2 252.1 1391.9C253.3 1389.7 254 1388 255.2 1388C256.4 1388 257.8 1388.2 259.1 1391.9C260.4 1395.7 261.7 1404.7 263 1410.7C264.3 1416.7 265.2 1424 266.9 1427.9C268.6 1431.8 271.1 1432.3 273.2 1434.1C275.3 1436 276.8 1437.7 279.4 1438.8C282 1440 285.7 1441 288.8 1441.2C292 1441.4 295.1 1440.6 298.2 1440.1C301.3 1439.6 304.5 1438.3 307.6 1438.1C310.7 1437.8 314.2 1439 317 1438.8C319.7 1438.7 321.7 1436.4 324 1437C326.3 1437.5 328.7 1441.3 331 1442C333.4 1442.7 335.7 1440.7 338.1 1441.2C340.4 1441.7 342.4 1443.9 345.1 1444.8C347.8 1445.6 351.1 1446 354.5 1446.3C357.9 1446.7 358.2 1446.6 365.4 1446.7C372.7 1446.7 392.6 1446.7 398 1446.7"/><use href="#p52" x="-2.1"/><use href="#p52" x="2.1"/></g>
<path d="M251.3 1517.8C253.4 1516.9 260.4 1514 263.8 1512.3C267.2 1510.6 269 1507.9 271.6 1507.6C274.2 1507.4 276.8 1510.9 279.4 1510.8C282 1510.6 285.2 1508.4 287.3 1506.9C289.3 1505.3 290.4 1501.5 292 1501.4C293.5 1501.2 294.6 1504.4 296.6 1506.1C298.7 1507.8 301.6 1510.6 304.5 1511.5C307.3 1512.5 311.2 1513 313.8 1511.5C316.4 1510.1 318 1505.3 320.1 1502.9C322.2 1500.6 324 1498.3 326.3 1497.5C328.7 1496.7 331.8 1498.4 334.2 1498.3C336.5 1498.1 338.3 1496.2 340.4 1496.7C342.5 1497.2 344.8 1501.6 346.7 1501.4C348.5 1501.1 350.1 1496.7 351.4 1495.1C352.7 1493.6 353.4 1491.5 354.5 1492C355.5 1492.5 356.4 1495.1 357.6 1498.3C358.8 1501.4 360 1507.6 361.5 1510.8C363.1 1513.9 365.3 1515.8 367 1517C368.7 1517.8 370.9 1517.7 371.7 1517.8L371.7 1517.8L251.3 1517.8Z" fill="#b4b4b4" stroke="none"/>
<path d="M251.3 1517.8C253.4 1516.9 260.4 1514 263.8 1512.3C267.2 1510.6 269 1507.9 271.6 1507.6C274.2 1507.4 276.8 1510.9 279.4 1510.8C282 1510.6 285.2 1508.4 287.3 1506.9C289.3 1505.3 290.4 1501.5 292 1501.4C293.5 1501.2 294.6 1504.4 296.6 1506.1C298.7 1507.8 301.6 1510.6 304.5 1511.5C307.3 1512.5 311.2 1513 313.8 1511.5C316.4 1510.1 318 1505.3 320.1 1502.9C322.2 1500.6 324 1498.3 326.3 1497.5C328.7 1496.7 331.8 1498.4 334.2 1498.3C336.5 1498.1 338.3 1496.2 340.4 1496.7C342.5 1497.2 344.8 1501.6 346.7 1501.4C348.5 1501.1 350.1 1496.7 351.4 1495.1C352.7 1493.6 353.4 1491.5 354.5 1492C355.5 1492.5 356.4 1495.1 357.6 1498.3C358.8 1501.4 360 1507.6 361.5 1510.8C363.1 1513.9 365.3 1515.8 367 1517C368.7 1517.8 370.9 1517.7 371.7 1517.8" fill="none" stroke="#454545" stroke-width="1.6" stroke-linejoin="round"/>
<g fill="none" stroke="#0a5cff" stroke-width="2.3" stroke-linejoin="round" stroke-linecap="round"><path id="p53" d="M183.7 1517.8C191.1 1517.8 218.4 1517.8 227.8 1517.8C237.3 1517.7 236.4 1517.4 240.4 1517C244.3 1516.6 247.9 1516.5 251.3 1515.5C254.7 1514.4 257.6 1512.3 260.7 1510.8C263.8 1509.2 266.9 1506.6 270.1 1506.1C273.2 1505.5 276.8 1507.2 279.4 1507.6C282 1508 283.4 1508.8 285.7 1508.4C288 1508 290.9 1505.3 293.5 1505.3C296.1 1505.3 298.5 1507.8 301.3 1508.4C304.2 1509.1 307.8 1510.6 310.7 1509.2C313.6 1507.8 316.2 1502.2 318.5 1499.8C320.9 1497.5 322.4 1495.8 324.8 1495.1C327.1 1494.5 330.3 1495.5 332.6 1495.9C334.9 1496.3 337.3 1495.3 338.9 1497.5C340.4 1499.7 340.7 1506.7 342 1509.2C343.3 1511.7 344.6 1511.7 346.7 1512.3C348.8 1513 351.9 1512.6 354.5 1513.1C357.1 1513.6 359.4 1514.7 362.3 1515.5C365.2 1516.2 365.7 1517.4 371.7 1517.8C377.6 1517.8 393.6 1517.8 398 1517.8"/><use href="#p53" x="-2.1"/><use href="#p53" x="2.1"/></g>
<g fill="none" stroke="#ff5f05" stroke-width="2.3" stroke-linejoin="round" stroke-linecap="round"><path id="p54" d="M183.7 1517.8C190.3 1517.8 215.3 1517.8 223.2 1517.8C231 1517.4 228.1 1515.8 231 1515.5C233.8 1515.1 237.8 1515.5 240.4 1515.5C243 1515.4 244.5 1514.9 246.6 1515.1C248.7 1515.4 250 1517 252.9 1517C255.7 1517.1 260.7 1516 263.8 1515.5C266.9 1514.9 269 1514.4 271.6 1513.9C274.2 1513.4 276.6 1512.2 279.4 1512.3C282.3 1512.5 285.7 1514 288.8 1514.7C292 1515.3 295.3 1516.4 298.2 1516.2C301.1 1516.1 303.7 1515.6 306 1513.9C308.4 1512.2 310.5 1508.2 312.3 1506.1C314.1 1504 315.5 1502.7 317 1501.4C318.4 1500.1 319.3 1498 320.9 1498.3C322.4 1498.5 324.1 1501.8 326.3 1502.9C328.6 1504.1 331.8 1504.5 334.2 1505.3C336.5 1506.1 338.3 1507.9 340.4 1507.6C342.5 1507.4 344.8 1503.9 346.7 1503.7C348.5 1503.6 349.5 1505.2 351.4 1506.9C353.2 1508.5 355.5 1512.2 357.6 1513.9C359.7 1515.6 361.5 1516.4 363.9 1517C366.2 1517.7 366 1517.7 371.7 1517.8C377.4 1517.8 393.6 1517.8 398 1517.8"/><use href="#p54" x="-2.1"/><use href="#p54" x="2.1"/></g>
<rect x="412.8" y="1302.5" width="216.7" height="215.1" fill="#fff" stroke="#000" stroke-width="1.6"/>
<path d="M412.8 1377.2L629.5 1377.2" stroke="#000" stroke-width="1.1" fill="none" />
<path d="M412.8 1448.3L629.5 1448.3" stroke="#000" stroke-width="1.1" fill="none" />
<path d="M450.8 1518.5v5.5M516.5 1518.5v5.5M556.3 1518.5v5.5M594.3 1518.5v5.5M428 1518.5v5.5" stroke="#000" stroke-width="2.1" fill="none"/>
<path d="M528.5 1518.5v2.6M535.5 1518.5v2.6M540.5 1518.5v2.6M544.3 1518.5v2.6M547.5 1518.5v2.6M550.1 1518.5v2.6M552.4 1518.5v2.6M554.5 1518.5v2.6M567.7 1518.5v2.6M574.4 1518.5v2.6M579.2 1518.5v2.6M582.9 1518.5v2.6M585.9 1518.5v2.6M588.4 1518.5v2.6M590.6 1518.5v2.6M592.6 1518.5v2.6M605.7 1518.5v2.6M612.4 1518.5v2.6M617.2 1518.5v2.6M620.9 1518.5v2.6M623.9 1518.5v2.6M626.4 1518.5v2.6M465.2 1518.5v2.6M436.4 1518.5v2.6M476.8 1518.5v2.6M424.8 1518.5v2.6M485.7 1518.5v2.6M415.9 1518.5v2.6M492.6 1518.5v2.6M498.3 1518.5v2.6M503 1518.5v2.6M507 1518.5v2.6M510.6 1518.5v2.6M513.7 1518.5v2.6" stroke="#000" stroke-width="1.4" fill="none"/>
<path d="M443.8 1518.5v4.0M446.6 1518.5v5.0M449.4 1518.5v5.4M452.2 1518.5v5.4M455 1518.5v5.0M457.8 1518.5v4.0" stroke="#000" stroke-width="2.2" fill="none"/>
<text x="453.9" y="1538" font-size="7.3" text-anchor="middle" fill="#222">0</text>
<text x="516.6" y="1538.5" font-size="7.3" fill="#222">10<tspan dy="-5" font-size="7.3">3</tspan></text>
<text x="555.7" y="1538.5" font-size="7.3" fill="#222">10<tspan dy="-5" font-size="7.3">4</tspan></text>
<text x="593.2" y="1538.5" font-size="7.3" fill="#222">10<tspan dy="-5" font-size="7.3">5</tspan></text>
<path d="M451.6 1376.3C453.2 1375.5 458.1 1374.7 461 1371.6C463.8 1368.5 466.4 1363 468.8 1357.5C471.1 1352.1 473.2 1345.3 475 1338.8C476.9 1332.3 478.6 1322.4 479.7 1318.5C480.9 1314.5 481.2 1315.8 482.1 1315.3C483 1314.8 484 1313.8 485.2 1315.3C486.4 1316.9 487.7 1321.3 489.1 1324.7C490.6 1328.1 492.2 1331 493.8 1335.7C495.4 1340.3 496.9 1348.2 498.5 1352.8C500.1 1357.5 501.4 1360.4 503.2 1363.8C505 1367.2 506.8 1371.2 509.4 1373.2C512 1375.1 513.6 1375.1 518.8 1375.5C524 1376 534.5 1375.9 540.7 1376C547 1376.1 553.7 1376.2 556.3 1376.3L556.3 1376.3L451.6 1376.3Z" fill="#b4b4b4" stroke="none"/>
<path d="M451.6 1376.3C453.2 1375.5 458.1 1374.7 461 1371.6C463.8 1368.5 466.4 1363 468.8 1357.5C471.1 1352.1 473.2 1345.3 475 1338.8C476.9 1332.3 478.6 1322.4 479.7 1318.5C480.9 1314.5 481.2 1315.8 482.1 1315.3C483 1314.8 484 1313.8 485.2 1315.3C486.4 1316.9 487.7 1321.3 489.1 1324.7C490.6 1328.1 492.2 1331 493.8 1335.7C495.4 1340.3 496.9 1348.2 498.5 1352.8C500.1 1357.5 501.4 1360.4 503.2 1363.8C505 1367.2 506.8 1371.2 509.4 1373.2C512 1375.1 513.6 1375.1 518.8 1375.5C524 1376 534.5 1375.9 540.7 1376C547 1376.1 553.7 1376.2 556.3 1376.3" fill="none" stroke="#454545" stroke-width="1.6" stroke-linejoin="round"/>
<g fill="none" stroke="#0a5cff" stroke-width="2.3" stroke-linejoin="round" stroke-linecap="round"><path id="p55" d="M414.8 1376.3C426.9 1376.3 473.3 1376.3 487.6 1376.3C501.8 1375.9 496.9 1375.8 500.1 1374C503.2 1372.1 504.5 1369.4 506.3 1365.4C508.1 1361.3 509.4 1356.2 511 1349.7C512.6 1343.2 514.4 1332.5 515.7 1326.3C517 1320 517.7 1315.1 518.8 1312.2C520 1309.3 521.7 1308.6 522.7 1309.1C523.8 1309.6 524.2 1310.9 525.1 1315.3C526 1319.8 527.2 1329.9 528.2 1335.7C529.2 1341.4 530.3 1345.8 531.3 1349.7C532.4 1353.6 532.9 1356.5 534.5 1359.1C536 1361.7 538.4 1363.3 540.7 1365.4C543.1 1367.4 545.4 1370.2 548.5 1371.6C551.7 1373 555.6 1373.2 559.5 1374C563.4 1374.7 567.3 1375.6 572 1376C576.7 1376.3 578.3 1376.2 587.6 1376.3C597 1376.3 621.3 1376.3 628 1376.3"/><use href="#p55" x="-2.1"/><use href="#p55" x="2.1"/></g>
<g fill="none" stroke="#ff5f05" stroke-width="2.3" stroke-linejoin="round" stroke-linecap="round"><path id="p56" d="M414.8 1376.3C422.8 1376.3 452 1376.3 462.5 1376.3C473.1 1375.9 474.3 1375.5 478.2 1374C482.1 1372.4 483.6 1370.4 486 1366.9C488.3 1363.4 490.4 1358.8 492.2 1352.8C494.1 1346.9 495.5 1336.8 496.9 1331C498.4 1325.1 499.7 1320.4 500.8 1317.7C502 1314.9 502.9 1313.9 504 1314.5C505 1315.2 506.2 1318.3 507.1 1321.6C508 1324.8 508.3 1330.7 509.4 1334.1C510.6 1337.5 512.6 1339.3 514.1 1341.9C515.7 1344.5 517.3 1346.3 518.8 1349.7C520.4 1353.1 522 1359 523.5 1362.2C525.1 1365.5 526.4 1367.4 528.2 1369.3C530 1371.1 531.3 1372.3 534.5 1373.2C537.6 1374.1 542 1374.3 547 1374.7C551.9 1375.1 557.4 1375.3 564.2 1375.5C570.9 1375.8 577 1376.2 587.6 1376.3C598.3 1376.3 621.3 1376.3 628 1376.3"/><use href="#p56" x="-2.1"/><use href="#p56" x="2.1"/></g>
<path d="M450 1447.4C451.6 1446.8 456.8 1446 459.4 1443.5C462 1441.1 463.6 1437 465.7 1432.6C467.8 1428.2 470.1 1422.2 471.9 1417C473.7 1411.7 475.2 1405.9 476.6 1401.3C478 1396.8 479.2 1389.3 480.5 1389.6C481.8 1389.9 483 1398.8 484.4 1402.9C485.9 1406.9 487.6 1410.2 489.1 1413.8C490.7 1417.5 492 1421.1 493.8 1424.8C495.6 1428.4 498 1433.1 500.1 1435.7C502.1 1438.3 504.2 1439.2 506.3 1440.4C508.4 1441.6 510.2 1442.7 512.6 1442.7C514.9 1442.7 517.8 1440.4 520.4 1440.4C523 1440.4 525.3 1442.6 528.2 1442.7C531.1 1442.9 534.5 1441.2 537.6 1441.2C540.7 1441.2 544.4 1442.7 547 1442.7C549.6 1442.7 550.6 1440.9 553.2 1441.2C555.8 1441.4 559.5 1443.5 562.6 1444.3C565.7 1445.2 569.1 1445.8 572 1446.3C574.8 1446.9 578.5 1447.3 579.8 1447.4L579.8 1447.4L450 1447.4Z" fill="#b4b4b4" stroke="none"/>
<path d="M450 1447.4C451.6 1446.8 456.8 1446 459.4 1443.5C462 1441.1 463.6 1437 465.7 1432.6C467.8 1428.2 470.1 1422.2 471.9 1417C473.7 1411.7 475.2 1405.9 476.6 1401.3C478 1396.8 479.2 1389.3 480.5 1389.6C481.8 1389.9 483 1398.8 484.4 1402.9C485.9 1406.9 487.6 1410.2 489.1 1413.8C490.7 1417.5 492 1421.1 493.8 1424.8C495.6 1428.4 498 1433.1 500.1 1435.7C502.1 1438.3 504.2 1439.2 506.3 1440.4C508.4 1441.6 510.2 1442.7 512.6 1442.7C514.9 1442.7 517.8 1440.4 520.4 1440.4C523 1440.4 525.3 1442.6 528.2 1442.7C531.1 1442.9 534.5 1441.2 537.6 1441.2C540.7 1441.2 544.4 1442.7 547 1442.7C549.6 1442.7 550.6 1440.9 553.2 1441.2C555.8 1441.4 559.5 1443.5 562.6 1444.3C565.7 1445.2 569.1 1445.8 572 1446.3C574.8 1446.9 578.5 1447.3 579.8 1447.4" fill="none" stroke="#454545" stroke-width="1.6" stroke-linejoin="round"/>
<g fill="none" stroke="#0a5cff" stroke-width="2.3" stroke-linejoin="round" stroke-linecap="round"><path id="p57" d="M414.8 1447.4C426.9 1447.4 473.1 1447.4 487.6 1447.4C502 1447 498.2 1447 501.6 1445.1C505 1443.1 506.1 1440.4 507.9 1435.7C509.7 1431 511.1 1423.5 512.6 1417C514 1410.4 515.3 1401.8 516.5 1396.6C517.7 1391.4 518.6 1388.2 519.6 1385.7C520.6 1383.2 521.7 1381.3 522.7 1381.8C523.8 1382.3 524.8 1384.5 525.9 1388.8C526.9 1393.1 527.8 1402.4 529 1407.6C530.2 1412.8 531.2 1416.7 532.9 1420.1C534.6 1423.5 536.8 1425.8 539.1 1427.9C541.5 1430 544.1 1431.4 547 1432.6C549.8 1433.8 553.5 1433.8 556.3 1434.9C559.2 1436.1 561.6 1438.3 564.2 1439.6C566.8 1440.9 569.1 1441.7 572 1442.7C574.8 1443.8 578.2 1445.1 581.4 1445.9C584.5 1446.7 583 1447.2 590.7 1447.4C598.5 1447.4 621.8 1447.4 628 1447.4"/><use href="#p57" x="-2.1"/><use href="#p57" x="2.1"/></g>
<g fill="none" stroke="#ff5f05" stroke-width="2.3" stroke-linejoin="round" stroke-linecap="round"><path id="p58" d="M414.8 1447.4C422.3 1447.4 449.6 1447.4 459.4 1447.4C469.2 1447.2 469.8 1447 473.5 1445.9C477.1 1444.7 479 1443.7 481.3 1440.4C483.6 1437.1 485.7 1431.8 487.6 1426.3C489.4 1420.9 490.8 1413.6 492.2 1407.6C493.7 1401.6 494.9 1393.9 496.2 1390.4C497.5 1386.9 498.8 1386.2 500.1 1386.5C501.4 1386.7 502.8 1387.9 504 1391.9C505.1 1396 505.9 1405.5 507.1 1410.7C508.3 1415.9 509.3 1419.8 511 1423.2C512.7 1426.6 514.9 1428.9 517.3 1431C519.6 1433.1 522.5 1434.5 525.1 1435.7C527.7 1436.9 530.3 1438.1 532.9 1438.1C535.5 1438.1 538.1 1436.5 540.7 1435.7C543.3 1434.9 545.9 1433.4 548.5 1433.4C551.1 1433.4 554 1435.5 556.3 1435.7C558.7 1436 560.3 1434.8 562.6 1434.9C564.9 1435.1 568.1 1435.7 570.4 1436.5C572.8 1437.3 574.6 1439 576.7 1439.6C578.8 1440.3 580.8 1439.6 582.9 1440.4C585 1441.2 586.8 1443.3 589.2 1444.3C591.5 1445.4 594.1 1446.1 597 1446.7C599.9 1447.2 601.2 1447.3 606.4 1447.4C611.5 1447.4 624.4 1447.4 628 1447.4"/><use href="#p58" x="-2.1"/><use href="#p58" x="2.1"/></g>
<path d="M459.4 1517.3C461 1516.9 466.2 1516.2 468.8 1514.7C471.4 1513.2 472.7 1510 475 1508.4C477.4 1506.9 480.5 1505.2 482.9 1505.3C485.2 1505.4 486.8 1508.7 489.1 1509.2C491.5 1509.7 494.1 1508.2 496.9 1508.4C499.8 1508.7 503.2 1509.8 506.3 1510.8C509.4 1511.7 512.6 1513.2 515.7 1513.9C518.8 1514.5 522.3 1514.9 525.1 1514.7C527.8 1514.4 529.8 1512.3 532.1 1512.3C534.5 1512.3 536.4 1514.4 539.1 1514.7C541.9 1514.9 545.7 1514.1 548.5 1513.9C551.4 1513.6 553.5 1513.5 556.3 1513.1C559.2 1512.7 563.1 1512.5 565.7 1511.5C568.3 1510.6 569.8 1509.1 572 1507.6C574.2 1506.2 576.9 1502.7 579 1502.9C581.1 1503.2 582.5 1507.1 584.5 1509.2C586.4 1511.3 588.7 1514.1 590.7 1515.5C592.8 1516.8 596 1517 597 1517.3L597 1517.3L459.4 1517.3Z" fill="#b4b4b4" stroke="none"/>
<path d="M459.4 1517.3C461 1516.9 466.2 1516.2 468.8 1514.7C471.4 1513.2 472.7 1510 475 1508.4C477.4 1506.9 480.5 1505.2 482.9 1505.3C485.2 1505.4 486.8 1508.7 489.1 1509.2C491.5 1509.7 494.1 1508.2 496.9 1508.4C499.8 1508.7 503.2 1509.8 506.3 1510.8C509.4 1511.7 512.6 1513.2 515.7 1513.9C518.8 1514.5 522.3 1514.9 525.1 1514.7C527.8 1514.4 529.8 1512.3 532.1 1512.3C534.5 1512.3 536.4 1514.4 539.1 1514.7C541.9 1514.9 545.7 1514.1 548.5 1513.9C551.4 1513.6 553.5 1513.5 556.3 1513.1C559.2 1512.7 563.1 1512.5 565.7 1511.5C568.3 1510.6 569.8 1509.1 572 1507.6C574.2 1506.2 576.9 1502.7 579 1502.9C581.1 1503.2 582.5 1507.1 584.5 1509.2C586.4 1511.3 588.7 1514.1 590.7 1515.5C592.8 1516.8 596 1517 597 1517.3" fill="none" stroke="#454545" stroke-width="1.6" stroke-linejoin="round"/>
<g fill="none" stroke="#0a5cff" stroke-width="2.3" stroke-linejoin="round" stroke-linecap="round"><path id="p59" d="M414.8 1517.3C429 1517.3 484.3 1517.3 500.1 1517.3C515.8 1516.8 506.8 1516.3 509.4 1513.9C512 1511.5 514.1 1507.4 515.7 1502.9C517.3 1498.5 517.8 1491.7 518.8 1487.3C519.9 1482.9 520.9 1479 522 1476.4C523 1473.8 523.8 1473 525.1 1471.7C526.4 1470.4 527.9 1468.9 529.8 1468.5C531.6 1468.2 534.2 1469.7 536 1469.3C537.8 1468.9 538.9 1467.1 540.7 1466.2C542.5 1465.3 544.9 1464.8 547 1463.9C549.1 1462.9 551.1 1462.2 553.2 1460.7C555.3 1459.3 557.7 1455.6 559.5 1455.3C561.3 1454.9 562.3 1457.6 564.2 1458.4C566 1459.2 568.9 1457.7 570.4 1459.9C572 1462.2 572.2 1467.9 573.5 1471.7C574.8 1475.5 576.7 1478.7 578.2 1482.6C579.8 1486.5 581.4 1491.2 582.9 1495.1C584.5 1499 585.8 1502.9 587.6 1506.1C589.4 1509.2 591.5 1512 593.9 1513.9C596.2 1515.8 596 1516.8 601.7 1517.3C607.4 1517.3 623.6 1517.3 628 1517.3"/><use href="#p59" x="-2.1"/><use href="#p59" x="2.1"/></g>
<g fill="none" stroke="#ff5f05" stroke-width="2.3" stroke-linejoin="round" stroke-linecap="round"><path id="p60" d="M414.8 1517.3C422.8 1517.3 452 1517.3 462.5 1517.3C473.1 1517 473.5 1516.4 478.2 1515.5C482.9 1514.5 487 1512.7 490.7 1511.5C494.3 1510.4 496.9 1509.5 500.1 1508.4C503.2 1507.4 506.6 1505.9 509.4 1505.3C512.3 1504.6 514.8 1505.2 517.3 1504.5C519.7 1503.9 522.2 1501.2 524.3 1501.4C526.4 1501.5 527.8 1504.1 529.8 1505.3C531.7 1506.5 534.2 1508.2 536 1508.4C537.8 1508.7 539.1 1508.8 540.7 1506.9C542.3 1504.9 543.8 1499.9 545.4 1496.7C547 1493.4 548.3 1489.5 550.1 1487.3C551.9 1485.1 554.3 1484.4 556.3 1483.4C558.4 1482.4 560.6 1482.1 562.6 1481.1C564.6 1480 566.2 1477.3 568.1 1477.1C569.9 1477 571.9 1478.8 573.5 1480.3C575.2 1481.7 576.7 1483.3 578.2 1485.7C579.8 1488.2 581.4 1492.3 582.9 1495.1C584.5 1498 585.8 1500.6 587.6 1502.9C589.4 1505.3 591.8 1507.1 593.9 1509.2C596 1511.3 598 1514.1 600.1 1515.5C602.2 1516.8 601.7 1517 606.4 1517.3C611 1517.3 624.4 1517.3 628 1517.3"/><use href="#p60" x="-2.1"/><use href="#p60" x="2.1"/></g>
<text x="124.5" y="1074.7" font-size="25.0" textLength="53.8" lengthAdjust="spacingAndGlyphs">ILC3</text>
<text x="2.9" y="1155" font-size="25.0" textLength="62.6" lengthAdjust="spacingAndGlyphs">CD94</text>
<text x="66.6" y="1144.7" font-size="20.8" font-weight="bold" textLength="8.1" lengthAdjust="spacingAndGlyphs">-</text>
<text x="74" y="1155" font-size="25.0" textLength="75.1" lengthAdjust="spacingAndGlyphs">CD117</text>
<text x="150.8" y="1146.2" font-size="11.4" textLength="26.3" lengthAdjust="spacingAndGlyphs">-/low</text>
<text x="85.3" y="1218.8" font-size="25.0" textLength="92.8" lengthAdjust="spacingAndGlyphs">NK cells</text>
<text x="124.5" y="1367.8" font-size="25.0" textLength="53.8" lengthAdjust="spacingAndGlyphs">ILC3</text>
<text x="2.9" y="1445.7" font-size="25.0" textLength="62.6" lengthAdjust="spacingAndGlyphs">CD94</text>
<text x="66.6" y="1435.4" font-size="20.8" font-weight="bold" textLength="8.1" lengthAdjust="spacingAndGlyphs">-</text>
<text x="74" y="1445.7" font-size="25.0" textLength="75.1" lengthAdjust="spacingAndGlyphs">CD117</text>
<text x="150.8" y="1436.9" font-size="11.4" textLength="26.3" lengthAdjust="spacingAndGlyphs">-/low</text>
<text x="85.3" y="1511.9" font-size="25.0" textLength="92.8" lengthAdjust="spacingAndGlyphs">NK cells</text>
<path d="M182.8 1253.6L615.6 1253.6" stroke="#000" stroke-width="2.4" fill="none" />
<path d="M630.6 1253.6L609.6 1247.4L614.6 1253.6L609.6 1259.8Z" fill="#000"/>
<text x="522.2" y="1275.5" font-size="26.4" textLength="88.7" lengthAdjust="spacingAndGlyphs">Perforin</text>
<path d="M180.3 1548L611.5 1548" stroke="#000" stroke-width="2.4" fill="none" />
<path d="M626.5 1548L605.5 1541.8L610.5 1548L605.5 1554.2Z" fill="#000"/>
<text x="468.9" y="1571.4" font-size="26.4" textLength="139.6" lengthAdjust="spacingAndGlyphs">Granzyme B</text>
<rect x="648.8" y="1016" width="20.6" height="20.6" fill="#b4b4b4" stroke="#555" stroke-width="3.2" stroke-linejoin="round"/>
<text x="689.8" y="1036.3" font-size="28.1" textLength="42.9" lengthAdjust="spacingAndGlyphs">Ctrl</text>
<rect x="648.8" y="1048.9" width="20.6" height="20.6" fill="#fff" stroke="#0a5cff" stroke-width="3.2" stroke-linejoin="round"/>
<text x="690.6" y="1069.1" font-size="28.1" textLength="77.8" lengthAdjust="spacingAndGlyphs">T-BET</text>
<rect x="648.8" y="1081.9" width="20.6" height="20.6" fill="#fff" stroke="#ff5f05" stroke-width="3.2" stroke-linejoin="round"/>
<text x="688.9" y="1102.1" font-size="28.1" textLength="99.3" lengthAdjust="spacingAndGlyphs">EOMES</text>
<path d="M964.8 257.5V251.1M961.4 251.1h6.8M980.2 256.7V249.8M976.8 249.8h6.8M995.3 259.5V255.8M991.9 255.8h6.8M1010.2 254.5V246.6M1006.8 246.6h6.8M1025.3 215.4V202.5M1021.9 202.5h6.8M1040.7 220.4V213.7M1037.3 213.7h6.8M1071 178.8V160.9M1067.6 160.9h6.8M1086.5 168.6V157.5M1083.1 157.5h6.8M1101.5 179.5V164.6M1098.1 164.6h6.8M1116.5 178.8V159.4M1113.1 159.4h6.8M1131.4 127.8V109.2M1128 109.2h6.8M1146.7 147.1V132.5M1143.3 132.5h6.8M1176.5 160.4V133.7M1173.1 133.7h6.8M1191.6 87.2V72.5M1188.2 72.5h6.8M1206.7 79.2V51.5M1203.3 51.5h6.8M1221.8 119.1V96.8M1218.4 96.8h6.8M1236.8 77V58.4M1233.4 58.4h6.8M1251.8 60.7V48.5M1248.4 48.5h6.8" stroke="#000" stroke-width="1.7" fill="none"/>
<rect x="959.2" y="258.3" width="11.3" height="10.3" fill="#d7d7d7"/>
<rect x="959.2" y="258.3" width="11.3" height="10.3" fill="url(#hB)"/>
<rect x="959.2" y="258.3" width="11.3" height="10.3" fill="none" stroke="#000" stroke-width="1.70"/>
<rect x="974.5" y="257.6" width="11.3" height="11" fill="#0555ff"/>
<rect x="974.5" y="257.6" width="11.3" height="11" fill="url(#hB)"/>
<rect x="974.5" y="257.6" width="11.3" height="11" fill="none" stroke="#000" stroke-width="1.70"/>
<rect x="989.6" y="260.3" width="11.3" height="8.3" fill="#ff8000"/>
<rect x="989.6" y="260.3" width="11.3" height="8.3" fill="url(#hB)"/>
<rect x="989.6" y="260.3" width="11.3" height="8.3" fill="none" stroke="#000" stroke-width="1.70"/>
<rect x="1004.7" y="255.4" width="11.1" height="13.3" fill="#d7d7d7"/>
<rect x="1004.7" y="255.4" width="11.1" height="13.3" fill="none" stroke="#000" stroke-width="1.70"/>
<rect x="1019.8" y="216.2" width="11.1" height="52.4" fill="#0555ff"/>
<rect x="1019.8" y="216.2" width="11.1" height="52.4" fill="none" stroke="#000" stroke-width="1.70"/>
<rect x="1035.2" y="221.2" width="11.1" height="47.4" fill="#ff8000"/>
<rect x="1035.2" y="221.2" width="11.1" height="47.4" fill="none" stroke="#000" stroke-width="1.70"/>
<rect x="1065.6" y="179.6" width="10.8" height="89" fill="#d7d7d7"/>
<rect x="1065.6" y="179.6" width="10.8" height="89" fill="url(#hB)"/>
<rect x="1065.6" y="179.6" width="10.8" height="89" fill="none" stroke="#000" stroke-width="1.70"/>
<rect x="1081" y="169.5" width="11.1" height="99.2" fill="#0555ff"/>
<rect x="1081" y="169.5" width="11.1" height="99.2" fill="url(#hB)"/>
<rect x="1081" y="169.5" width="11.1" height="99.2" fill="none" stroke="#000" stroke-width="1.70"/>
<rect x="1095.8" y="180.3" width="11.3" height="88.3" fill="#ff8000"/>
<rect x="1095.8" y="180.3" width="11.3" height="88.3" fill="url(#hB)"/>
<rect x="1095.8" y="180.3" width="11.3" height="88.3" fill="none" stroke="#000" stroke-width="1.70"/>
<rect x="1110.9" y="179.6" width="11.1" height="89" fill="#d7d7d7"/>
<rect x="1110.9" y="179.6" width="11.1" height="89" fill="none" stroke="#000" stroke-width="1.70"/>
<rect x="1125.8" y="128.6" width="11.3" height="140" fill="#0555ff"/>
<rect x="1125.8" y="128.6" width="11.3" height="140" fill="none" stroke="#000" stroke-width="1.70"/>
<rect x="1141.1" y="147.9" width="11.1" height="120.7" fill="#ff8000"/>
<rect x="1141.1" y="147.9" width="11.1" height="120.7" fill="none" stroke="#000" stroke-width="1.70"/>
<rect x="1171.1" y="161.3" width="10.8" height="107.3" fill="#d7d7d7"/>
<rect x="1171.1" y="161.3" width="10.8" height="107.3" fill="url(#hB)"/>
<rect x="1171.1" y="161.3" width="10.8" height="107.3" fill="none" stroke="#000" stroke-width="1.70"/>
<rect x="1186.2" y="88" width="10.8" height="180.6" fill="#0555ff"/>
<rect x="1186.2" y="88" width="10.8" height="180.6" fill="url(#hB)"/>
<rect x="1186.2" y="88" width="10.8" height="180.6" fill="none" stroke="#000" stroke-width="1.70"/>
<rect x="1201.3" y="80.1" width="10.8" height="188.6" fill="#ff8000"/>
<rect x="1201.3" y="80.1" width="10.8" height="188.6" fill="url(#hB)"/>
<rect x="1201.3" y="80.1" width="10.8" height="188.6" fill="none" stroke="#000" stroke-width="1.70"/>
<rect x="1216.4" y="119.9" width="10.8" height="148.7" fill="#d7d7d7"/>
<rect x="1216.4" y="119.9" width="10.8" height="148.7" fill="none" stroke="#000" stroke-width="1.70"/>
<rect x="1231.3" y="77.8" width="11.1" height="190.8" fill="#0555ff"/>
<rect x="1231.3" y="77.8" width="11.1" height="190.8" fill="none" stroke="#000" stroke-width="1.70"/>
<rect x="1246.1" y="61.5" width="11.3" height="207.1" fill="#ff8000"/>
<rect x="1246.1" y="61.5" width="11.3" height="207.1" fill="none" stroke="#000" stroke-width="1.70"/>
<path d="M952.5 4.6V268.6M940.9 268.6H1266.4M940.9 5.4H952.5M940.9 58.1H952.5M940.9 110.7H952.5M940.9 163.4H952.5M940.9 216H952.5M1003.2 268.6V279.3M1108.7 268.6V279.3M1214.7 268.6V279.3" stroke="#000" stroke-width="1.7" fill="none"/>
<text x="901.4" y="11.7" font-size="18.0" textLength="34.9" lengthAdjust="spacingAndGlyphs">100</text>
<text x="912.7" y="64.4" font-size="18.0" textLength="23.6" lengthAdjust="spacingAndGlyphs">80</text>
<text x="912.6" y="117" font-size="18.0" textLength="23.7" lengthAdjust="spacingAndGlyphs">60</text>
<text x="913.2" y="169.7" font-size="18.0" textLength="23.1" lengthAdjust="spacingAndGlyphs">40</text>
<text x="912.6" y="222.3" font-size="18.0" textLength="23.7" lengthAdjust="spacingAndGlyphs">20</text>
<text x="925" y="274.9" font-size="18.0" textLength="11.3" lengthAdjust="spacingAndGlyphs">0</text>
<text transform="translate(883.2 253.4) rotate(-90)" font-size="23.5" textLength="220.7" lengthAdjust="spacingAndGlyphs">Percentage of NKG2D (%)</text>
<path d="M979.7 238.9V121.6H1029.5V129.2" stroke="#000" stroke-width="1.7" fill="none"/>
<text x="1005" y="112.1" font-size="17.8" text-anchor="middle" textLength="21.1" lengthAdjust="spacingAndGlyphs">§§</text>
<path d="M993.1 234V157.5H1041.4V162.2" stroke="#000" stroke-width="1.7" fill="none"/>
<text x="1018.3" y="150.4" font-size="17.8" text-anchor="middle" textLength="21.1" lengthAdjust="spacingAndGlyphs">§§</text>
<text transform="translate(995.6 257.7) scale(1.3 1)" text-anchor="middle" font-family="'DejaVu Sans', 'Liberation Sans', sans-serif" font-size="19.5" stroke="#000" stroke-width="0.45">*</text>
<text transform="translate(1025.8 181.7) scale(1.3 1)" text-anchor="middle" font-family="'DejaVu Sans', 'Liberation Sans', sans-serif" font-size="19.5" stroke="#000" stroke-width="0.45">*</text>
<text transform="translate(1025.8 201.2) scale(1.3 1)" text-anchor="middle" font-family="'DejaVu Sans', 'Liberation Sans', sans-serif" font-size="19.5" stroke="#000" stroke-width="0.45">*</text>
<text transform="translate(1042.4 192.8) scale(1.3 1)" text-anchor="middle" font-family="'DejaVu Sans', 'Liberation Sans', sans-serif" font-size="19.5" stroke="#000" stroke-width="0.45">*</text>
<text transform="translate(1042.4 211.9) scale(1.3 1)" text-anchor="middle" font-family="'DejaVu Sans', 'Liberation Sans', sans-serif" font-size="19.5" stroke="#000" stroke-width="0.45">*</text>
<text transform="translate(1131.5 106.2) scale(1.3 1)" text-anchor="middle" font-family="'DejaVu Sans', 'Liberation Sans', sans-serif" font-size="19.5" stroke="#000" stroke-width="0.45">*</text>
<text transform="translate(1236.7 54.2) scale(1.3 1)" text-anchor="middle" font-family="'DejaVu Sans', 'Liberation Sans', sans-serif" font-size="19.5" stroke="#000" stroke-width="0.45">*</text>
<text transform="translate(1252.1 44) scale(1.3 1)" text-anchor="middle" font-family="'DejaVu Sans', 'Liberation Sans', sans-serif" font-size="19.5" stroke="#000" stroke-width="0.45">*</text>
<path d="M964.2 522.8V513.7M960.8 513.7h6.8M979.3 525.3V514.9M975.9 514.9h6.8M994.6 528.3V517.9M991.2 517.9h6.8M1009.7 512.9V501.8M1006.3 501.8h6.8M1025.1 457.7V449.8M1021.7 449.8h6.8M1040.4 433.4V430M1037 430h6.8M1070.6 461.4V452.5M1067.2 452.5h6.8M1085.8 460.7V444.3M1082.4 444.3h6.8M1101.1 471.6V454.7M1097.7 454.7h6.8M1116.1 455.5V448.8M1112.7 448.8h6.8M1131.3 409.9V404.5M1127.9 404.5h6.8M1146.5 393.8V386.2M1143.1 386.2h6.8M1176.4 458.5V441.1M1173 441.1h6.8M1191.6 390.6V373.8M1188.2 373.8h6.8M1206.7 377.7V369.1M1203.3 369.1h6.8M1221.8 416.9V399.8M1218.4 399.8h6.8M1236.9 428.5V408.4M1233.5 408.4h6.8M1252 360.2V350.5M1248.6 350.5h6.8" stroke="#000" stroke-width="1.7" fill="none"/>
<rect x="958.7" y="523.7" width="11.1" height="55.4" fill="#d7d7d7"/>
<rect x="958.7" y="523.7" width="11.1" height="55.4" fill="url(#hB)"/>
<rect x="958.7" y="523.7" width="11.1" height="55.4" fill="none" stroke="#000" stroke-width="1.70"/>
<rect x="973.8" y="526.2" width="11.1" height="52.9" fill="#0555ff"/>
<rect x="973.8" y="526.2" width="11.1" height="52.9" fill="url(#hB)"/>
<rect x="973.8" y="526.2" width="11.1" height="52.9" fill="none" stroke="#000" stroke-width="1.70"/>
<rect x="989.1" y="529.1" width="11.1" height="49.9" fill="#ff8000"/>
<rect x="989.1" y="529.1" width="11.1" height="49.9" fill="url(#hB)"/>
<rect x="989.1" y="529.1" width="11.1" height="49.9" fill="none" stroke="#000" stroke-width="1.70"/>
<rect x="1004.2" y="513.8" width="11.1" height="65.3" fill="#d7d7d7"/>
<rect x="1004.2" y="513.8" width="11.1" height="65.3" fill="none" stroke="#000" stroke-width="1.70"/>
<rect x="1019.6" y="458.6" width="11.1" height="120.5" fill="#0555ff"/>
<rect x="1019.6" y="458.6" width="11.1" height="120.5" fill="none" stroke="#000" stroke-width="1.70"/>
<rect x="1034.9" y="434.3" width="11.1" height="144.7" fill="#ff8000"/>
<rect x="1034.9" y="434.3" width="11.1" height="144.7" fill="none" stroke="#000" stroke-width="1.70"/>
<rect x="1065.1" y="462.3" width="11.1" height="116.8" fill="#d7d7d7"/>
<rect x="1065.1" y="462.3" width="11.1" height="116.8" fill="url(#hB)"/>
<rect x="1065.1" y="462.3" width="11.1" height="116.8" fill="none" stroke="#000" stroke-width="1.70"/>
<rect x="1080.2" y="461.5" width="11.1" height="117.5" fill="#0555ff"/>
<rect x="1080.2" y="461.5" width="11.1" height="117.5" fill="url(#hB)"/>
<rect x="1080.2" y="461.5" width="11.1" height="117.5" fill="none" stroke="#000" stroke-width="1.70"/>
<rect x="1095.6" y="472.4" width="11.1" height="106.6" fill="#ff8000"/>
<rect x="1095.6" y="472.4" width="11.1" height="106.6" fill="url(#hB)"/>
<rect x="1095.6" y="472.4" width="11.1" height="106.6" fill="none" stroke="#000" stroke-width="1.70"/>
<rect x="1110.7" y="456.3" width="10.8" height="122.7" fill="#d7d7d7"/>
<rect x="1110.7" y="456.3" width="10.8" height="122.7" fill="none" stroke="#000" stroke-width="1.70"/>
<rect x="1125.8" y="410.8" width="11.1" height="168.3" fill="#0555ff"/>
<rect x="1125.8" y="410.8" width="11.1" height="168.3" fill="none" stroke="#000" stroke-width="1.70"/>
<rect x="1141.1" y="394.7" width="10.8" height="184.3" fill="#ff8000"/>
<rect x="1141.1" y="394.7" width="10.8" height="184.3" fill="none" stroke="#000" stroke-width="1.70"/>
<rect x="1171.1" y="459.3" width="10.6" height="119.7" fill="#d7d7d7"/>
<rect x="1171.1" y="459.3" width="10.6" height="119.7" fill="url(#hB)"/>
<rect x="1171.1" y="459.3" width="10.6" height="119.7" fill="none" stroke="#000" stroke-width="1.70"/>
<rect x="1186.2" y="391.5" width="10.8" height="187.6" fill="#0555ff"/>
<rect x="1186.2" y="391.5" width="10.8" height="187.6" fill="url(#hB)"/>
<rect x="1186.2" y="391.5" width="10.8" height="187.6" fill="none" stroke="#000" stroke-width="1.70"/>
<rect x="1201.3" y="378.6" width="10.8" height="200.4" fill="#ff8000"/>
<rect x="1201.3" y="378.6" width="10.8" height="200.4" fill="url(#hB)"/>
<rect x="1201.3" y="378.6" width="10.8" height="200.4" fill="none" stroke="#000" stroke-width="1.70"/>
<rect x="1216.4" y="417.7" width="10.8" height="161.3" fill="#d7d7d7"/>
<rect x="1216.4" y="417.7" width="10.8" height="161.3" fill="none" stroke="#000" stroke-width="1.70"/>
<rect x="1231.5" y="429.3" width="10.8" height="149.7" fill="#0555ff"/>
<rect x="1231.5" y="429.3" width="10.8" height="149.7" fill="none" stroke="#000" stroke-width="1.70"/>
<rect x="1246.6" y="361" width="10.8" height="218" fill="#ff8000"/>
<rect x="1246.6" y="361" width="10.8" height="218" fill="none" stroke="#000" stroke-width="1.70"/>
<path d="M951.5 314V579M939.6 579H1266.4M939.6 314.9H951.5M939.6 367.7H951.5M939.6 420.5H951.5M939.6 473.4H951.5M939.6 526.2H951.5M1001.8 579V589.2M1108.7 579V589.2M1214.9 579V589.2" stroke="#000" stroke-width="1.7" fill="none"/>
<text x="900" y="321.2" font-size="18.0" textLength="36.1" lengthAdjust="spacingAndGlyphs">100</text>
<text x="911.7" y="374" font-size="18.0" textLength="24.4" lengthAdjust="spacingAndGlyphs">80</text>
<text x="911.5" y="426.8" font-size="18.0" textLength="24.5" lengthAdjust="spacingAndGlyphs">60</text>
<text x="912.1" y="479.7" font-size="18.0" textLength="23.9" lengthAdjust="spacingAndGlyphs">40</text>
<text x="911.5" y="532.5" font-size="18.0" textLength="24.5" lengthAdjust="spacingAndGlyphs">20</text>
<text x="924.3" y="585.3" font-size="18.0" textLength="11.7" lengthAdjust="spacingAndGlyphs">0</text>
<text transform="translate(885 553.4) rotate(-90)" font-size="23.5" textLength="213.8" lengthAdjust="spacingAndGlyphs">Percentage of NKp30 (%)</text>
<path d="M979.7 505.5V343.6H1028V355" stroke="#000" stroke-width="1.7" fill="none"/>
<text x="1004.5" y="332.8" font-size="17.8" text-anchor="middle" textLength="21.1" lengthAdjust="spacingAndGlyphs">§§</text>
<path d="M995.6 505.5V383.7H1043.6V392.1" stroke="#000" stroke-width="1.7" fill="none"/>
<text x="1016.4" y="374.9" font-size="17.8" text-anchor="middle" textLength="21.1" lengthAdjust="spacingAndGlyphs">§§</text>
<text transform="translate(1025.5 428.9) scale(1.3 1)" text-anchor="middle" font-family="'DejaVu Sans', 'Liberation Sans', sans-serif" font-size="19.5" stroke="#000" stroke-width="0.45">*</text>
<text transform="translate(1025.5 447.5) scale(1.3 1)" text-anchor="middle" font-family="'DejaVu Sans', 'Liberation Sans', sans-serif" font-size="19.5" stroke="#000" stroke-width="0.45">*</text>
<text transform="translate(1041.1 411.1) scale(1.3 1)" text-anchor="middle" font-family="'DejaVu Sans', 'Liberation Sans', sans-serif" font-size="19.5" stroke="#000" stroke-width="0.45">*</text>
<text transform="translate(1041.1 431.4) scale(1.3 1)" text-anchor="middle" font-family="'DejaVu Sans', 'Liberation Sans', sans-serif" font-size="19.5" stroke="#000" stroke-width="0.45">*</text>
<text transform="translate(1131.5 404.2) scale(1.3 1)" text-anchor="middle" font-family="'DejaVu Sans', 'Liberation Sans', sans-serif" font-size="19.5" stroke="#000" stroke-width="0.45">*</text>
<text transform="translate(1147.1 366.5) scale(1.3 1)" text-anchor="middle" font-family="'DejaVu Sans', 'Liberation Sans', sans-serif" font-size="19.5" stroke="#000" stroke-width="0.45">*</text>
<text transform="translate(1147.1 385.1) scale(1.3 1)" text-anchor="middle" font-family="'DejaVu Sans', 'Liberation Sans', sans-serif" font-size="19.5" stroke="#000" stroke-width="0.45">*</text>
<text transform="translate(1206.5 367) scale(1.3 1)" text-anchor="middle" font-family="'DejaVu Sans', 'Liberation Sans', sans-serif" font-size="19.5" stroke="#000" stroke-width="0.45">*</text>
<text transform="translate(1252.1 330.4) scale(1.3 1)" text-anchor="middle" font-family="'DejaVu Sans', 'Liberation Sans', sans-serif" font-size="19.5" stroke="#000" stroke-width="0.45">*</text>
<text transform="translate(1252.1 349.7) scale(1.3 1)" text-anchor="middle" font-family="'DejaVu Sans', 'Liberation Sans', sans-serif" font-size="19.5" stroke="#000" stroke-width="0.45">*</text>
<path d="M961.3 788.2V769.1M957.9 769.1h6.8M976.7 801V780.7M973.3 780.7h6.8M991.9 793.4V762.7M988.5 762.7h6.8M1007 795.3V768.4M1003.6 768.4h6.8M1022.2 717.4V700.5M1018.8 700.5h6.8M1037.3 707V692.8M1033.9 692.8h6.8M1068.2 726.8V720.8M1064.8 720.8h6.8M1083.8 709.4V698.5M1080.4 698.5h6.8M1099.1 714.9V712.9M1095.7 712.9h6.8M1114.1 746.1V713.9M1110.7 713.9h6.8M1129.5 679.5V675M1126.1 675h6.8M1144.7 673V670.3M1141.3 670.3h6.8M1174 747.6V733.2M1170.6 733.2h6.8M1189.5 660.2V656.7M1186.1 656.7h6.8M1204.6 638.6V630.7M1201.2 630.7h6.8M1219.8 678V666.1M1216.4 666.1h6.8M1235.2 672V665.1M1231.8 665.1h6.8M1250.5 650.5V645.8M1247.1 645.8h6.8" stroke="#000" stroke-width="1.7" fill="none"/>
<rect x="955.9" y="789" width="10.8" height="97.7" fill="#d7d7d7"/>
<rect x="955.9" y="789" width="10.8" height="97.7" fill="url(#hB)"/>
<rect x="955.9" y="789" width="10.8" height="97.7" fill="none" stroke="#000" stroke-width="1.70"/>
<rect x="971.3" y="801.9" width="10.8" height="84.8" fill="#0555ff"/>
<rect x="971.3" y="801.9" width="10.8" height="84.8" fill="url(#hB)"/>
<rect x="971.3" y="801.9" width="10.8" height="84.8" fill="none" stroke="#000" stroke-width="1.70"/>
<rect x="986.4" y="794.2" width="11.1" height="92.5" fill="#ff8000"/>
<rect x="986.4" y="794.2" width="11.1" height="92.5" fill="url(#hB)"/>
<rect x="986.4" y="794.2" width="11.1" height="92.5" fill="none" stroke="#000" stroke-width="1.70"/>
<rect x="1001.5" y="796.2" width="11.1" height="90.5" fill="#d7d7d7"/>
<rect x="1001.5" y="796.2" width="11.1" height="90.5" fill="none" stroke="#000" stroke-width="1.70"/>
<rect x="1016.8" y="718.2" width="10.8" height="168.5" fill="#0555ff"/>
<rect x="1016.8" y="718.2" width="10.8" height="168.5" fill="none" stroke="#000" stroke-width="1.70"/>
<rect x="1031.9" y="707.8" width="10.8" height="178.9" fill="#ff8000"/>
<rect x="1031.9" y="707.8" width="10.8" height="178.9" fill="none" stroke="#000" stroke-width="1.70"/>
<rect x="1062.6" y="727.6" width="11.1" height="159.1" fill="#d7d7d7"/>
<rect x="1062.6" y="727.6" width="11.1" height="159.1" fill="url(#hB)"/>
<rect x="1062.6" y="727.6" width="11.1" height="159.1" fill="none" stroke="#000" stroke-width="1.70"/>
<rect x="1078.2" y="710.3" width="11.1" height="176.4" fill="#0555ff"/>
<rect x="1078.2" y="710.3" width="11.1" height="176.4" fill="url(#hB)"/>
<rect x="1078.2" y="710.3" width="11.1" height="176.4" fill="none" stroke="#000" stroke-width="1.70"/>
<rect x="1093.6" y="715.7" width="11.1" height="171" fill="#ff8000"/>
<rect x="1093.6" y="715.7" width="11.1" height="171" fill="url(#hB)"/>
<rect x="1093.6" y="715.7" width="11.1" height="171" fill="none" stroke="#000" stroke-width="1.70"/>
<rect x="1108.7" y="746.9" width="10.8" height="139.8" fill="#d7d7d7"/>
<rect x="1108.7" y="746.9" width="10.8" height="139.8" fill="none" stroke="#000" stroke-width="1.70"/>
<rect x="1124" y="680.3" width="10.8" height="206.4" fill="#0555ff"/>
<rect x="1124" y="680.3" width="10.8" height="206.4" fill="none" stroke="#000" stroke-width="1.70"/>
<rect x="1139.2" y="673.9" width="11.1" height="212.8" fill="#ff8000"/>
<rect x="1139.2" y="673.9" width="11.1" height="212.8" fill="none" stroke="#000" stroke-width="1.70"/>
<rect x="1168.6" y="748.4" width="10.8" height="138.3" fill="#d7d7d7"/>
<rect x="1168.6" y="748.4" width="10.8" height="138.3" fill="url(#hB)"/>
<rect x="1168.6" y="748.4" width="10.8" height="138.3" fill="none" stroke="#000" stroke-width="1.70"/>
<rect x="1184" y="661" width="11.1" height="225.7" fill="#0555ff"/>
<rect x="1184" y="661" width="11.1" height="225.7" fill="url(#hB)"/>
<rect x="1184" y="661" width="11.1" height="225.7" fill="none" stroke="#000" stroke-width="1.70"/>
<rect x="1199.1" y="639.5" width="11.1" height="247.2" fill="#ff8000"/>
<rect x="1199.1" y="639.5" width="11.1" height="247.2" fill="url(#hB)"/>
<rect x="1199.1" y="639.5" width="11.1" height="247.2" fill="none" stroke="#000" stroke-width="1.70"/>
<rect x="1214.4" y="678.8" width="10.8" height="207.9" fill="#d7d7d7"/>
<rect x="1214.4" y="678.8" width="10.8" height="207.9" fill="none" stroke="#000" stroke-width="1.70"/>
<rect x="1229.8" y="672.9" width="10.8" height="213.8" fill="#0555ff"/>
<rect x="1229.8" y="672.9" width="10.8" height="213.8" fill="none" stroke="#000" stroke-width="1.70"/>
<rect x="1245.1" y="651.4" width="10.8" height="235.3" fill="#ff8000"/>
<rect x="1245.1" y="651.4" width="10.8" height="235.3" fill="none" stroke="#000" stroke-width="1.70"/>
<path d="M950.8 621.9V886.7M937.6 886.7H1265.9M937.6 622.8H950.8M937.6 675.6H950.8M937.6 728.3H950.8M937.6 781.1H950.8M937.6 833.9H950.8M1000.3 886.7V896.6M1107 886.7V896.6M1212.7 886.7V896.6" stroke="#000" stroke-width="1.7" fill="none"/>
<text x="898.1" y="629.1" font-size="18.0" textLength="36.5" lengthAdjust="spacingAndGlyphs">100</text>
<text x="910" y="681.9" font-size="18.0" textLength="24.6" lengthAdjust="spacingAndGlyphs">80</text>
<text x="909.8" y="734.6" font-size="18.0" textLength="24.8" lengthAdjust="spacingAndGlyphs">60</text>
<text x="910.5" y="787.4" font-size="18.0" textLength="24.2" lengthAdjust="spacingAndGlyphs">40</text>
<text x="909.8" y="840.2" font-size="18.0" textLength="24.8" lengthAdjust="spacingAndGlyphs">20</text>
<text x="922.8" y="893" font-size="18.0" textLength="11.8" lengthAdjust="spacingAndGlyphs">0</text>
<text transform="translate(883.2 852.7) rotate(-90)" font-size="23.5" textLength="213.1" lengthAdjust="spacingAndGlyphs">Percentage of NKp46 (%)</text>
<path d="M977.2 770.3V668.1H1021.8V691.1" stroke="#000" stroke-width="1.7" fill="none"/>
<text x="998.5" y="658.3" font-size="17.8" text-anchor="middle" textLength="10" lengthAdjust="spacingAndGlyphs">§</text>
<path d="M1099.6 701V643.6H1145.4V666.8" stroke="#000" stroke-width="1.7" fill="none"/>
<text x="1124.1" y="634.8" font-size="17.8" text-anchor="middle" textLength="10" lengthAdjust="spacingAndGlyphs">§</text>
<path d="M1174.8 721.3V621.8H1218.4V645.3" stroke="#000" stroke-width="1.7" fill="none"/>
<text x="1197.1" y="612.5" font-size="17.8" text-anchor="middle" textLength="10" lengthAdjust="spacingAndGlyphs">§</text>
<text x="974.6" y="917.7" font-size="24.2" textLength="48.3" lengthAdjust="spacingAndGlyphs">ILC3</text>
<text x="1057.3" y="917.7" font-size="24.2" textLength="58.7" lengthAdjust="spacingAndGlyphs">CD94</text>
<text x="1117" y="907.1" font-size="20.8" font-weight="bold" textLength="7.7" lengthAdjust="spacingAndGlyphs">-</text>
<text x="1057.3" y="945.9" font-size="24.2" textLength="68.6" lengthAdjust="spacingAndGlyphs">CD117</text>
<text x="1127.4" y="936.6" font-size="11.2" textLength="26.4" lengthAdjust="spacingAndGlyphs">-/low</text>
<text x="1176.6" y="917.7" font-size="24.2" textLength="83.8" lengthAdjust="spacingAndGlyphs">NK cells</text>
<path d="M958 1243.5V1237.8M954.6 1237.8h6.8M973.5 1233.6V1225.7M970.1 1225.7h6.8M988.9 1235.6V1228.9M985.5 1228.9h6.8M1004.3 1233.3V1224.7M1000.9 1224.7h6.8M1019.9 1166.2V1148.9M1016.5 1148.9h6.8M1035.4 1163V1141.5M1032 1141.5h6.8M1066.2 1196.7V1182.6M1062.8 1182.6h6.8M1081.8 1182.1V1163.5M1078.4 1163.5h6.8M1097.3 1186.5V1175.4M1093.9 1175.4h6.8M1112.9 1190.3V1173.2M1109.5 1173.2h6.8M1128.3 1113.3V1091.7M1124.9 1091.7h6.8M1143.9 1120.4V1097.7M1140.5 1097.7h6.8M1174.5 1030.8V1018.7M1171.1 1018.7h6.8M1190.1 1012.2V1010.3M1186.7 1010.3h6.8M1205.6 1018.4V1015M1202.2 1015h6.8M1221.2 1015.5V1011.7M1217.8 1011.7h6.8M1236.5 1015.7V1012.2M1233.1 1012.2h6.8M1252.1 1041.2V1025.9M1248.7 1025.9h6.8" stroke="#000" stroke-width="1.1" fill="none"/>
<rect x="952.2" y="1244.1" width="11.6" height="14.3" fill="#d7d7d7"/>
<rect x="952.2" y="1244.1" width="11.6" height="14.3" fill="url(#hD)"/>
<rect x="952.2" y="1244.1" width="11.6" height="14.3" fill="none" stroke="#000" stroke-width="1.20"/>
<rect x="967.8" y="1234.2" width="11.3" height="24.2" fill="#0555ff"/>
<rect x="967.8" y="1234.2" width="11.3" height="24.2" fill="url(#hD)"/>
<rect x="967.8" y="1234.2" width="11.3" height="24.2" fill="none" stroke="#000" stroke-width="1.20"/>
<rect x="983.2" y="1236.2" width="11.6" height="22.2" fill="#ff8000"/>
<rect x="983.2" y="1236.2" width="11.6" height="22.2" fill="url(#hD)"/>
<rect x="983.2" y="1236.2" width="11.6" height="22.2" fill="none" stroke="#000" stroke-width="1.20"/>
<rect x="998.5" y="1233.9" width="11.6" height="24.4" fill="#d7d7d7"/>
<rect x="998.5" y="1233.9" width="11.6" height="24.4" fill="none" stroke="#000" stroke-width="1.20"/>
<rect x="1014.1" y="1166.8" width="11.6" height="91.5" fill="#0555ff"/>
<rect x="1014.1" y="1166.8" width="11.6" height="91.5" fill="none" stroke="#000" stroke-width="1.20"/>
<rect x="1029.7" y="1163.6" width="11.3" height="94.7" fill="#ff8000"/>
<rect x="1029.7" y="1163.6" width="11.3" height="94.7" fill="none" stroke="#000" stroke-width="1.20"/>
<rect x="1060.4" y="1197.3" width="11.6" height="61" fill="#d7d7d7"/>
<rect x="1060.4" y="1197.3" width="11.6" height="61" fill="url(#hD)"/>
<rect x="1060.4" y="1197.3" width="11.6" height="61" fill="none" stroke="#000" stroke-width="1.20"/>
<rect x="1076" y="1182.7" width="11.6" height="75.7" fill="#0555ff"/>
<rect x="1076" y="1182.7" width="11.6" height="75.7" fill="url(#hD)"/>
<rect x="1076" y="1182.7" width="11.6" height="75.7" fill="none" stroke="#000" stroke-width="1.20"/>
<rect x="1091.6" y="1187.1" width="11.3" height="71.2" fill="#ff8000"/>
<rect x="1091.6" y="1187.1" width="11.3" height="71.2" fill="url(#hD)"/>
<rect x="1091.6" y="1187.1" width="11.3" height="71.2" fill="none" stroke="#000" stroke-width="1.20"/>
<rect x="1107.2" y="1190.9" width="11.3" height="67.5" fill="#d7d7d7"/>
<rect x="1107.2" y="1190.9" width="11.3" height="67.5" fill="none" stroke="#000" stroke-width="1.20"/>
<rect x="1122.6" y="1113.9" width="11.6" height="144.5" fill="#0555ff"/>
<rect x="1122.6" y="1113.9" width="11.6" height="144.5" fill="none" stroke="#000" stroke-width="1.20"/>
<rect x="1138.2" y="1121" width="11.6" height="137.3" fill="#ff8000"/>
<rect x="1138.2" y="1121" width="11.6" height="137.3" fill="none" stroke="#000" stroke-width="1.20"/>
<rect x="1168.9" y="1031.4" width="11.3" height="226.9" fill="#d7d7d7"/>
<rect x="1168.9" y="1031.4" width="11.3" height="226.9" fill="url(#hD)"/>
<rect x="1168.9" y="1031.4" width="11.3" height="226.9" fill="none" stroke="#000" stroke-width="1.20"/>
<rect x="1184.5" y="1012.8" width="11.3" height="245.5" fill="#0555ff"/>
<rect x="1184.5" y="1012.8" width="11.3" height="245.5" fill="url(#hD)"/>
<rect x="1184.5" y="1012.8" width="11.3" height="245.5" fill="none" stroke="#000" stroke-width="1.20"/>
<rect x="1199.8" y="1019" width="11.6" height="239.3" fill="#ff8000"/>
<rect x="1199.8" y="1019" width="11.6" height="239.3" fill="url(#hD)"/>
<rect x="1199.8" y="1019" width="11.6" height="239.3" fill="none" stroke="#000" stroke-width="1.20"/>
<rect x="1215.4" y="1016.1" width="11.6" height="242.3" fill="#d7d7d7"/>
<rect x="1215.4" y="1016.1" width="11.6" height="242.3" fill="none" stroke="#000" stroke-width="1.20"/>
<rect x="1230.8" y="1016.3" width="11.6" height="242" fill="#0555ff"/>
<rect x="1230.8" y="1016.3" width="11.6" height="242" fill="none" stroke="#000" stroke-width="1.20"/>
<rect x="1246.4" y="1041.8" width="11.6" height="216.5" fill="#ff8000"/>
<rect x="1246.4" y="1041.8" width="11.6" height="216.5" fill="none" stroke="#000" stroke-width="1.20"/>
<path d="M945.3 999.8V1258.3M933.4 1258.3H1266.4M933.4 1000.4H945.3M933.4 1052H945.3M933.4 1103.6H945.3M933.4 1155.1H945.3M933.4 1206.7H945.3M997.1 1258.3V1268.2M1105 1258.3V1268.2M1213.4 1258.3V1268.2" stroke="#000" stroke-width="1.1" fill="none"/>
<text x="893" y="1006.7" font-size="18.0" textLength="36.4" lengthAdjust="spacingAndGlyphs">100</text>
<text x="904.9" y="1058.3" font-size="18.0" textLength="24.6" lengthAdjust="spacingAndGlyphs">80</text>
<text x="904.7" y="1109.9" font-size="18.0" textLength="24.7" lengthAdjust="spacingAndGlyphs">60</text>
<text x="905.3" y="1161.4" font-size="18.0" textLength="24.1" lengthAdjust="spacingAndGlyphs">40</text>
<text x="904.7" y="1213" font-size="18.0" textLength="24.7" lengthAdjust="spacingAndGlyphs">20</text>
<text x="917.6" y="1264.6" font-size="18.0" textLength="11.8" lengthAdjust="spacingAndGlyphs">0</text>
<text transform="translate(884.3 1232) rotate(-90)" font-size="23.5" textLength="217.1" lengthAdjust="spacingAndGlyphs">Percentage of Perforin (%)</text>
<path d="M973.3 1219.5V1083.3H1020.3V1088.7" stroke="#000" stroke-width="1.1" fill="none"/>
<text x="1002.7" y="1074.5" font-size="17.8" text-anchor="middle" textLength="21.1" lengthAdjust="spacingAndGlyphs">§§</text>
<path d="M988.4 1223.7V1057.5H1035.4V1100.4" stroke="#000" stroke-width="1.1" fill="none"/>
<text x="1011.4" y="1048.5" font-size="17.8" text-anchor="middle" textLength="21.1" lengthAdjust="spacingAndGlyphs">§§</text>
<path d="M1079.7 1155.6V1029.6H1128.3V1043.4" stroke="#000" stroke-width="1.1" fill="none"/>
<text x="1110.4" y="1020.1" font-size="17.8" text-anchor="middle" textLength="21.1" lengthAdjust="spacingAndGlyphs">§§</text>
<path d="M1096.3 1161V1002.6H1145.4V1051.1" stroke="#000" stroke-width="1.1" fill="none"/>
<text x="1120.4" y="993.3" font-size="17.8" text-anchor="middle" textLength="21.1" lengthAdjust="spacingAndGlyphs">§§</text>
<text transform="translate(1019.6 1120.4) scale(1.3 1)" text-anchor="middle" font-family="'DejaVu Sans', 'Liberation Sans', sans-serif" font-size="19.5" stroke="#000" stroke-width="0.45">*</text>
<text transform="translate(1019.6 1136) scale(1.3 1)" text-anchor="middle" font-family="'DejaVu Sans', 'Liberation Sans', sans-serif" font-size="19.5" stroke="#000" stroke-width="0.45">*</text>
<text transform="translate(1019.6 1152.6) scale(1.3 1)" text-anchor="middle" font-family="'DejaVu Sans', 'Liberation Sans', sans-serif" font-size="19.5" stroke="#000" stroke-width="0.45">*</text>
<text transform="translate(1036.2 1126.8) scale(1.3 1)" text-anchor="middle" font-family="'DejaVu Sans', 'Liberation Sans', sans-serif" font-size="19.5" stroke="#000" stroke-width="0.45">*</text>
<text transform="translate(1036.2 1140.9) scale(1.3 1)" text-anchor="middle" font-family="'DejaVu Sans', 'Liberation Sans', sans-serif" font-size="19.5" stroke="#000" stroke-width="0.45">*</text>
<text transform="translate(1128.8 1075.3) scale(1.3 1)" text-anchor="middle" font-family="'DejaVu Sans', 'Liberation Sans', sans-serif" font-size="19.5" stroke="#000" stroke-width="0.45">*</text>
<text transform="translate(1128.8 1089.9) scale(1.3 1)" text-anchor="middle" font-family="'DejaVu Sans', 'Liberation Sans', sans-serif" font-size="19.5" stroke="#000" stroke-width="0.45">*</text>
<text transform="translate(1145.6 1086.5) scale(1.3 1)" text-anchor="middle" font-family="'DejaVu Sans', 'Liberation Sans', sans-serif" font-size="19.5" stroke="#000" stroke-width="0.45">*</text>
<text transform="translate(1145.6 1099.6) scale(1.3 1)" text-anchor="middle" font-family="'DejaVu Sans', 'Liberation Sans', sans-serif" font-size="19.5" stroke="#000" stroke-width="0.45">*</text>
<path d="M958.2 1575.9V1573.4M954.8 1573.4h6.8M973.8 1573.6V1568.7M970.4 1568.7h6.8M989.3 1576.1V1573.6M985.9 1573.6h6.8M1004.8 1575.9V1574.1M1001.4 1574.1h6.8M1020.4 1492.4V1459.3M1017 1459.3h6.8M1035.9 1518.9V1484.5M1032.5 1484.5h6.8M1066.7 1547.4V1538.2M1063.3 1538.2h6.8M1081.9 1553.3V1543.4M1078.5 1543.4h6.8M1097.6 1553.1V1543.4M1094.2 1543.4h6.8M1113 1553.6V1546.2M1109.6 1546.2h6.8M1128.8 1491.7V1460.7M1125.4 1460.7h6.8M1144.2 1502.3V1468.7M1140.8 1468.7h6.8M1175.3 1372.6V1357.7M1171.9 1357.7h6.8M1190.6 1381.5V1366.9M1187.2 1366.9h6.8M1206.2 1368.9V1351.8M1202.8 1351.8h6.8M1221.7 1390.7V1370.4M1218.3 1370.4h6.8M1237.2 1350.8V1337.9M1233.8 1337.9h6.8M1252.5 1384V1356.3M1249.1 1356.3h6.8" stroke="#000" stroke-width="1.1" fill="none"/>
<rect x="952.5" y="1576.5" width="11.6" height="2.6" fill="#d7d7d7"/>
<rect x="952.5" y="1576.5" width="11.6" height="2.6" fill="url(#hD)"/>
<rect x="952.5" y="1576.5" width="11.6" height="2.6" fill="none" stroke="#000" stroke-width="1.20"/>
<rect x="968.1" y="1574.2" width="11.6" height="4.8" fill="#0555ff"/>
<rect x="968.1" y="1574.2" width="11.6" height="4.8" fill="url(#hD)"/>
<rect x="968.1" y="1574.2" width="11.6" height="4.8" fill="none" stroke="#000" stroke-width="1.20"/>
<rect x="983.7" y="1576.7" width="11.3" height="2.4" fill="#ff8000"/>
<rect x="983.7" y="1576.7" width="11.3" height="2.4" fill="url(#hD)"/>
<rect x="983.7" y="1576.7" width="11.3" height="2.4" fill="none" stroke="#000" stroke-width="1.20"/>
<rect x="999" y="1576.5" width="11.6" height="2.6" fill="#d7d7d7"/>
<rect x="999" y="1576.5" width="11.6" height="2.6" fill="none" stroke="#000" stroke-width="1.20"/>
<rect x="1014.6" y="1493" width="11.6" height="86.1" fill="#0555ff"/>
<rect x="1014.6" y="1493" width="11.6" height="86.1" fill="none" stroke="#000" stroke-width="1.20"/>
<rect x="1030.2" y="1519.5" width="11.3" height="59.6" fill="#ff8000"/>
<rect x="1030.2" y="1519.5" width="11.3" height="59.6" fill="none" stroke="#000" stroke-width="1.20"/>
<rect x="1061.2" y="1548" width="11.1" height="31.1" fill="#d7d7d7"/>
<rect x="1061.2" y="1548" width="11.1" height="31.1" fill="url(#hD)"/>
<rect x="1061.2" y="1548" width="11.1" height="31.1" fill="none" stroke="#000" stroke-width="1.20"/>
<rect x="1076.3" y="1553.9" width="11.3" height="25.1" fill="#0555ff"/>
<rect x="1076.3" y="1553.9" width="11.3" height="25.1" fill="url(#hD)"/>
<rect x="1076.3" y="1553.9" width="11.3" height="25.1" fill="none" stroke="#000" stroke-width="1.20"/>
<rect x="1091.9" y="1553.7" width="11.6" height="25.4" fill="#ff8000"/>
<rect x="1091.9" y="1553.7" width="11.6" height="25.4" fill="url(#hD)"/>
<rect x="1091.9" y="1553.7" width="11.6" height="25.4" fill="none" stroke="#000" stroke-width="1.20"/>
<rect x="1107.2" y="1554.2" width="11.6" height="24.9" fill="#d7d7d7"/>
<rect x="1107.2" y="1554.2" width="11.6" height="24.9" fill="none" stroke="#000" stroke-width="1.20"/>
<rect x="1123.1" y="1492.3" width="11.6" height="86.8" fill="#0555ff"/>
<rect x="1123.1" y="1492.3" width="11.6" height="86.8" fill="none" stroke="#000" stroke-width="1.20"/>
<rect x="1138.4" y="1502.9" width="11.6" height="76.2" fill="#ff8000"/>
<rect x="1138.4" y="1502.9" width="11.6" height="76.2" fill="none" stroke="#000" stroke-width="1.20"/>
<rect x="1169.6" y="1373.2" width="11.3" height="205.9" fill="#d7d7d7"/>
<rect x="1169.6" y="1373.2" width="11.3" height="205.9" fill="url(#hD)"/>
<rect x="1169.6" y="1373.2" width="11.3" height="205.9" fill="none" stroke="#000" stroke-width="1.20"/>
<rect x="1185" y="1382.1" width="11.3" height="197" fill="#0555ff"/>
<rect x="1185" y="1382.1" width="11.3" height="197" fill="url(#hD)"/>
<rect x="1185" y="1382.1" width="11.3" height="197" fill="none" stroke="#000" stroke-width="1.20"/>
<rect x="1200.6" y="1369.5" width="11.3" height="209.6" fill="#ff8000"/>
<rect x="1200.6" y="1369.5" width="11.3" height="209.6" fill="url(#hD)"/>
<rect x="1200.6" y="1369.5" width="11.3" height="209.6" fill="none" stroke="#000" stroke-width="1.20"/>
<rect x="1215.9" y="1391.3" width="11.6" height="187.8" fill="#d7d7d7"/>
<rect x="1215.9" y="1391.3" width="11.6" height="187.8" fill="none" stroke="#000" stroke-width="1.20"/>
<rect x="1231.5" y="1351.4" width="11.3" height="227.7" fill="#0555ff"/>
<rect x="1231.5" y="1351.4" width="11.3" height="227.7" fill="none" stroke="#000" stroke-width="1.20"/>
<rect x="1246.8" y="1384.6" width="11.3" height="194.5" fill="#ff8000"/>
<rect x="1246.8" y="1384.6" width="11.3" height="194.5" fill="none" stroke="#000" stroke-width="1.20"/>
<path d="M945.8 1308.7V1579.1M933.4 1579.1H1266.9M933.4 1309.2H945.8M933.4 1363.2H945.8M933.4 1417.2H945.8M933.4 1471.1H945.8M933.4 1525.1H945.8M997.3 1579.1V1589M1105.2 1579.1V1589M1213.9 1579.1V1589" stroke="#000" stroke-width="1.1" fill="none"/>
<text x="893.7" y="1315.5" font-size="18.0" textLength="37.9" lengthAdjust="spacingAndGlyphs">100</text>
<text x="906" y="1369.5" font-size="18.0" textLength="25.6" lengthAdjust="spacingAndGlyphs">80</text>
<text x="905.8" y="1423.5" font-size="18.0" textLength="25.8" lengthAdjust="spacingAndGlyphs">60</text>
<text x="906.5" y="1477.4" font-size="18.0" textLength="25.1" lengthAdjust="spacingAndGlyphs">40</text>
<text x="905.8" y="1531.4" font-size="18.0" textLength="25.8" lengthAdjust="spacingAndGlyphs">20</text>
<text x="919.2" y="1585.4" font-size="18.0" textLength="12.3" lengthAdjust="spacingAndGlyphs">0</text>
<text transform="translate(883.6 1572.5) rotate(-90)" font-size="23.5" textLength="266.4" lengthAdjust="spacingAndGlyphs">Percentage of Granzyme  B (%)</text>
<path d="M973.8 1553.6V1425.1H1020.6V1442.2" stroke="#000" stroke-width="1.1" fill="none"/>
<text x="998" y="1415.6" font-size="17.8" text-anchor="middle" textLength="10" lengthAdjust="spacingAndGlyphs">§</text>
<path d="M1082 1526.3V1417.7H1131.7V1428.6" stroke="#000" stroke-width="1.1" fill="none"/>
<text x="1107" y="1407.4" font-size="17.8" text-anchor="middle" textLength="10" lengthAdjust="spacingAndGlyphs">§</text>
<path d="M1189.2 1360V1326.3H1237.2V1332" stroke="#000" stroke-width="1.1" fill="none"/>
<text x="1212.5" y="1317.3" font-size="17.8" text-anchor="middle" textLength="21.1" lengthAdjust="spacingAndGlyphs">§§</text>
<text transform="translate(1021.3 1456.5) scale(1.3 1)" text-anchor="middle" font-family="'DejaVu Sans', 'Liberation Sans', sans-serif" font-size="19.5" stroke="#000" stroke-width="0.45">*</text>
<text transform="translate(1036.7 1482) scale(1.3 1)" text-anchor="middle" font-family="'DejaVu Sans', 'Liberation Sans', sans-serif" font-size="19.5" stroke="#000" stroke-width="0.45">*</text>
<text transform="translate(1129 1457.7) scale(1.3 1)" text-anchor="middle" font-family="'DejaVu Sans', 'Liberation Sans', sans-serif" font-size="19.5" stroke="#000" stroke-width="0.45">*</text>
<text transform="translate(1144.6 1467.9) scale(1.3 1)" text-anchor="middle" font-family="'DejaVu Sans', 'Liberation Sans', sans-serif" font-size="19.5" stroke="#000" stroke-width="0.45">*</text>
<text x="975" y="1607.5" font-size="24.2" textLength="48.1" lengthAdjust="spacingAndGlyphs">ILC3</text>
<text x="1062.5" y="1607.5" font-size="24.2" textLength="58.7" lengthAdjust="spacingAndGlyphs">CD94</text>
<text x="1122.2" y="1596.9" font-size="20.8" font-weight="bold" textLength="7.7" lengthAdjust="spacingAndGlyphs">-</text>
<text x="1062.5" y="1635.9" font-size="24.2" textLength="68.6" lengthAdjust="spacingAndGlyphs">CD117</text>
<text x="1132.6" y="1626.6" font-size="11.2" textLength="26.4" lengthAdjust="spacingAndGlyphs">-/low</text>
<text x="1177" y="1607.5" font-size="24.2" textLength="83.6" lengthAdjust="spacingAndGlyphs">NK cells</text>
<text x="801.6" y="28.1" font-size="28.6" font-weight="bold" textLength="20.7" lengthAdjust="spacingAndGlyphs">B</text>
<text x="801.1" y="974.5" font-size="28.6" font-weight="bold" textLength="22.9" lengthAdjust="spacingAndGlyphs">D</text>
<rect x="1309.6" y="10.4" width="31" height="9.2" fill="#d7d7d7"/>
<rect x="1309.6" y="10.4" width="31" height="9.2" fill="url(#hB)"/>
<rect x="1309.6" y="10.4" width="31" height="9.2" fill="none" stroke="#000" stroke-width="1.6"/>
<text x="1360.4" y="22.1" font-size="23.2" textLength="35.1" lengthAdjust="spacingAndGlyphs">Ctrl</text>
<rect x="1309.6" y="47.6" width="31" height="9.2" fill="#0555ff"/>
<rect x="1309.6" y="47.6" width="31" height="9.2" fill="url(#hB)"/>
<rect x="1309.6" y="47.6" width="31" height="9.2" fill="none" stroke="#000" stroke-width="1.6"/>
<text x="1361" y="59.3" font-size="23.2" textLength="61.9" lengthAdjust="spacingAndGlyphs">T-BET</text>
<rect x="1309.6" y="84.8" width="31" height="9.2" fill="#ff8000"/>
<rect x="1309.6" y="84.8" width="31" height="9.2" fill="url(#hB)"/>
<rect x="1309.6" y="84.8" width="31" height="9.2" fill="none" stroke="#000" stroke-width="1.6"/>
<text x="1359.7" y="96.5" font-size="23.2" textLength="80.4" lengthAdjust="spacingAndGlyphs">EOMES</text>
<rect x="1309.6" y="122.3" width="31" height="9.2" fill="#d7d7d7"/>
<rect x="1309.6" y="122.3" width="31" height="9.2" fill="none" stroke="#000" stroke-width="1.6"/>
<text x="1360.4" y="134" font-size="23.2" textLength="35.1" lengthAdjust="spacingAndGlyphs">Ctrl</text>
<rect x="1309.6" y="159.3" width="31" height="9.2" fill="#0555ff"/>
<rect x="1309.6" y="159.3" width="31" height="9.2" fill="none" stroke="#000" stroke-width="1.6"/>
<text x="1361" y="171" font-size="23.2" textLength="61.9" lengthAdjust="spacingAndGlyphs">T-BET</text>
<rect x="1309.6" y="196.5" width="31" height="9.2" fill="#ff8000"/>
<rect x="1309.6" y="196.5" width="31" height="9.2" fill="none" stroke="#000" stroke-width="1.6"/>
<text x="1359.7" y="208.2" font-size="23.2" textLength="80.4" lengthAdjust="spacingAndGlyphs">EOMES</text>
<path d="M1446.1 1.6L1446.1 103.8" stroke="#000" stroke-width="1.4" fill="none" />
<path d="M1446.1 121.3L1446.1 223.1" stroke="#000" stroke-width="1.4" fill="none" />
<text x="1453.4" y="59.9" font-size="23.2" textLength="80.5" lengthAdjust="spacingAndGlyphs">No OHT</text>
<text x="1455.1" y="178.4" font-size="23.2" textLength="66" lengthAdjust="spacingAndGlyphs">4-OHT</text>
<rect x="1311.2" y="993.3" width="31" height="9.2" fill="#d7d7d7"/>
<rect x="1311.2" y="993.3" width="31" height="9.2" fill="url(#hB)"/>
<rect x="1311.2" y="993.3" width="31" height="9.2" fill="none" stroke="#000" stroke-width="1.6"/>
<text x="1362.3" y="1005" font-size="23.2" textLength="35.1" lengthAdjust="spacingAndGlyphs">Ctrl</text>
<rect x="1311.2" y="1030.5" width="31" height="9.2" fill="#0555ff"/>
<rect x="1311.2" y="1030.5" width="31" height="9.2" fill="url(#hB)"/>
<rect x="1311.2" y="1030.5" width="31" height="9.2" fill="none" stroke="#000" stroke-width="1.6"/>
<text x="1362.9" y="1042.2" font-size="23.2" textLength="61.9" lengthAdjust="spacingAndGlyphs">T-BET</text>
<rect x="1311.2" y="1067.6" width="31" height="9.2" fill="#ff8000"/>
<rect x="1311.2" y="1067.6" width="31" height="9.2" fill="url(#hB)"/>
<rect x="1311.2" y="1067.6" width="31" height="9.2" fill="none" stroke="#000" stroke-width="1.6"/>
<text x="1361.6" y="1079.3" font-size="23.2" textLength="80.4" lengthAdjust="spacingAndGlyphs">EOMES</text>
<rect x="1311.2" y="1105.1" width="31" height="9.2" fill="#d7d7d7"/>
<rect x="1311.2" y="1105.1" width="31" height="9.2" fill="none" stroke="#000" stroke-width="1.6"/>
<text x="1362.3" y="1116.8" font-size="23.2" textLength="35.1" lengthAdjust="spacingAndGlyphs">Ctrl</text>
<rect x="1311.2" y="1142.1" width="31" height="9.2" fill="#0555ff"/>
<rect x="1311.2" y="1142.1" width="31" height="9.2" fill="none" stroke="#000" stroke-width="1.6"/>
<text x="1362.9" y="1153.8" font-size="23.2" textLength="61.9" lengthAdjust="spacingAndGlyphs">T-BET</text>
<rect x="1311.2" y="1179.3" width="31" height="9.2" fill="#ff8000"/>
<rect x="1311.2" y="1179.3" width="31" height="9.2" fill="none" stroke="#000" stroke-width="1.6"/>
<text x="1361.6" y="1191" font-size="23.2" textLength="80.4" lengthAdjust="spacingAndGlyphs">EOMES</text>
<path d="M1448 984L1448 1087" stroke="#000" stroke-width="1.4" fill="none" />
<path d="M1448 1103.3L1448 1206.2" stroke="#000" stroke-width="1.4" fill="none" />
<text x="1454.8" y="1042.6" font-size="23.2" textLength="80.7" lengthAdjust="spacingAndGlyphs">No OHT</text>
<text x="1456.5" y="1160.9" font-size="23.2" textLength="65.8" lengthAdjust="spacingAndGlyphs">4-OHT</text>
<text x="37.9" y="1620.6" font-size="31.2" font-weight="bold" textLength="19.5" lengthAdjust="spacingAndGlyphs">E</text>
<text x="179.9" y="1677.5" font-size="28.7" textLength="89.7" lengthAdjust="spacingAndGlyphs">Donor:</text>
<text x="323.2" y="1677" font-size="28.5" text-anchor="middle" font-weight="bold">A</text>
<text x="528.7" y="1677" font-size="28.5" text-anchor="middle" font-weight="bold">B</text>
<text x="770" y="1677" font-size="28.5" text-anchor="middle" font-weight="bold">C</text>
<text x="1012.4" y="1677" font-size="28.5" text-anchor="middle" font-weight="bold">D</text>
<text x="1122.4" y="1782.3" font-size="28.1" font-weight="bold" textLength="127.4" lengthAdjust="spacingAndGlyphs">Post-sort</text>
<text x="1167.5" y="1819.2" font-size="28.1" font-weight="bold" textLength="37.8" lengthAdjust="spacingAndGlyphs">D0</text>
<text x="1168" y="2036.7" font-size="28.1" font-weight="bold" textLength="38.3" lengthAdjust="spacingAndGlyphs">D7</text>
<path d="M140.5 2116.5L140.5 1692.3" stroke="#000" stroke-width="1.5" fill="none" />
<path d="M140.5 1682.8L136.3 1696.3L140.5 1693.3L144.7 1696.3Z" fill="#000"/>
<text transform="translate(133.6 1766) rotate(-90)" font-size="26.4" textLength="62" lengthAdjust="spacingAndGlyphs">CD94</text>
<path d="M180.9 2146.6L1097.4 2146.6" stroke="#000" stroke-width="1.5" fill="none" />
<path d="M1107.1 2146.6L1093.4 2142.8L1096.4 2146.6L1093.4 2150.4Z" fill="#000"/>
<text x="1012.9" y="2167.3" font-size="24.1" textLength="74.1" lengthAdjust="spacingAndGlyphs">CD117</text>
<rect x="181.3" y="1686.2" width="206.7" height="201.3" fill="#fff" stroke="#000" stroke-width="1.1"/>
<path d="M181.3 1705.5h-5.4M181.3 1753.1h-5.4M181.3 1808.5h-5.4M181.3 1874.6h-5.4" stroke="#000" stroke-width="2.7" fill="none"/>
<rect x="175.7" y="1836" width="5.6" height="10" fill="#000"/>
<path d="M181.3 1791.8h-2.6M181.3 1782.1h-2.6M181.3 1775.1h-2.6M181.3 1765.4h-2.6M181.3 1761.7h-2.6M181.3 1758.5h-2.6M181.3 1755.6h-2.6M181.3 1738.8h-2.6M181.3 1730.4h-2.6M181.3 1724.4h-2.6M181.3 1716.1h-2.6M181.3 1712.9h-2.6M181.3 1710.1h-2.6M181.3 1707.7h-2.6M181.3 1691.2h-2.6M181.3 1832.1h-2.6M181.3 1828.1h-2.6M181.3 1820.3h-2.6M181.3 1816.4h-2.6M181.3 1812.4h-2.6M181.3 1850.1h-2.6M181.3 1854.2h-2.6M181.3 1862.3h-2.6M181.3 1866.4h-2.6M181.3 1870.5h-2.6M181.3 1882.1h-2.6M181.3 1886.5h-2.6" stroke="#000" stroke-width="1.3" fill="none"/>
<path d="M181.3 1769.8h-3.8M181.3 1719.8h-3.8M181.3 1824.2h-3.8M181.3 1858.3h-3.8" stroke="#000" stroke-width="2" fill="none"/>
<text x="171.7" y="1709.1" font-size="7.1" text-anchor="end" fill="#222">10<tspan dy="-4.2">5</tspan></text>
<text x="171.7" y="1756.7" font-size="7.1" text-anchor="end" fill="#222">10<tspan dy="-4.2">4</tspan></text>
<text x="171.7" y="1812.1" font-size="7.1" text-anchor="end" fill="#222">10<tspan dy="-4.2">3</tspan></text>
<text x="168.3" y="1843.8" font-size="7.1" text-anchor="end" fill="#222">0</text>
<text x="171.7" y="1878.2" font-size="7.1" text-anchor="end" fill="#222">-10<tspan dy="-4.2">3</tspan></text>
<rect x="212.6" y="1887.5" width="28" height="2.6" fill="#000"/>
<path d="M212.6 1887.5v5.3M226.6 1887.5v5.3M240.6 1887.5v5.3M294 1887.5v5.3M344.1 1887.5v5.3" stroke="#000" stroke-width="3.3" fill="none"/>
<path d="M277.9 1887.5v3.8M329 1887.5v3.8M379.1 1887.5v3.8" stroke="#000" stroke-width="2.3" fill="none"/>
<path d="M189.2 1887.5v2.3M197.8 1887.5v2.3M207.1 1887.5v2.3M256.7 1887.5v2.3M266.1 1887.5v2.3M272.8 1887.5v2.3M282.2 1887.5v2.3M285.7 1887.5v2.3M288.8 1887.5v2.3M291.6 1887.5v2.3M309.1 1887.5v2.3M317.9 1887.5v2.3M324.2 1887.5v2.3M333 1887.5v2.3M336.3 1887.5v2.3M339.2 1887.5v2.3M341.8 1887.5v2.3M359.2 1887.5v2.3M368 1887.5v2.3M374.3 1887.5v2.3M383.1 1887.5v2.3M386.4 1887.5v2.3" stroke="#000" stroke-width="1.4" fill="none"/>
<text x="231.6" y="1904.8" font-size="7.1" text-anchor="middle" fill="#222">0</text>
<text x="294.5" y="1905.3" font-size="7.1" fill="#222">10<tspan dy="-5" font-size="7.1">4</tspan></text>
<text x="344.2" y="1905.3" font-size="7.1" fill="#222">10<tspan dy="-5" font-size="7.1">5</tspan></text>
<path d="M268 1845.5h1m-4 -5h1m10 2h1m-16 7h1m-1 -20h1m10 11h1m-1 4h1m0 6h1m-6 -10h1m-2 -6h1m-3 9h1m4 8h1m-2 -16h1m-8 13h1m15 -5h1m-6 -7h1m-9 2h1m-4 6h1m-4 -20h1m4 25h1m6 -5h1m1 1h1m1 -1h1m-1 -17h1m-13 27h1m8 -8h1m-7 -8h1m-2 11h1m-4 -8h1m15 -9h1m-13 14h1m5 -4h1m-4 1h1m4 2h1m-7 -6h1m-1 5h1m-5 0h1m3 2h1m14 -4h1m-15 -1h1m5 -9h1m-1 19h1m-8 -5h1m7 -17h1m-6 21h1m2 -9h1m1 -3h1m-2 0h1m-5 8h1m1 -13h1m3 13h1m-8 -14h1m-6 21h1m-7 0h1m12 -9h1m3 7h1m-11 -2h1m11 -11h1m-19 11h1m9 -2h1m-1 2h1m-5 -1h1m-8 2h1m9 -9h1m10 -1h1m-12 -8h1m-9 6h1m8 9h1m-10 -10h1m3 -1h1m-3 9h1m2 -18h1m-9 9h1m15 10h1m2 -1h1m-3 5h1m5 -24h1m-17 21h1m7 0h1m-2 0h1m-9 -8h1m0 -4h1m7 -14h1m5 22h1m-21 7h1m17 4h1m-6 -12h1m9 5h1m-4 0h1m-15 -3h1m4 1h1m1 -2h1m-5 4h1m-3 -6h1m3 1h1m1 7h1m-1 -16h1m-8 14h1m-2 7h1m1 -9h1m11 0h1m0 2h1m-11 0h1m3 0h1m3 -9h1m-10 10h1m-6 -5h1m10 -2h1m-4 0h1m-8 -4h1m3 -11h1m4 14h1m6 3h1m-12 -15h1m-11 14h1m0 -8h1m9 9h1m7 6h1m-15 -15h1m8 -5h1m-5 10h1m4 4h1m-6 -22h1m-8 23h1m6 -5h1m0 -4h1m3 8h1m-7 -7h1m-2 6h1m15 -5h1m-8 -15h1m-4 36h1m0 -11h1m-2 -14h1m-3 24h1m4 -17h1m-4 6h1m5 -6h1m-2 -5h1m-13 12h1m-1 1h1m11 0h1m-9 -1h1m-11 9h1m1 -26h1m7 9h1m-1 -9h1m1 9h1m-6 14h1m-1 -17h1m4 9h1m-7 -3h1m0 1h1m1 1h1m-11 -8h1m4 10h1m9 -3h1m-13 -1h1m6 5h1m10 -12h1m-3 7h1m-9 -1h1m4 -14h1m-4 16h1m5 -7h1m-16 8h1m7 13h1m1 -12h1m-2 -2h1m-6 2h1m0 4h1m6 -14h1m2 2h1m-17 5h1m1 -15h1m2 21h1m5 -19h1m1 10h1m-4 14h1m-7 -11h1m-4 -16h1m9 34h1m1 -17h1m-8 -27h1m6 40h1m-9 -21h1m2 6h1m2 -1h1m-10 13h1m11 -10h1m-5 4h1m-12 2h1m10 -8h1m-3 -16h1m6 12h1m-10 10h1m8 -12h1m-7 14h1m-5 -4h1m5 -6h1m0 -10h1m-7 19h1m4 4h1m3 -10h1m4 -17h1m-8 20h1m-6 4h1m-1 -22h1m1 8h1m-3 1h1m5 17h1m-21 4h1m16 -27h1m-14 15h1m13 -3h1m2 -4h1m-4 -4h1m-3 5h1m-2 9h1m-2 3h1m4 -10h1m-8 5h1m3 -4h1m-5 -3h1m-3 6h1m0 5h1m14 -30h1m-14 16h1m-9 13h1m5 -6h1m-6 -14h1m2 19h1m-9 -8h1m17 -18h1m8 10h1m-10 5h1m-5 0h1m-11 13h1m9 -2h1m1 -3h1m3 -2h1m-7 -5h1m-5 -1h1m-5 10h1m13 -6h1m-7 -13h1m-5 14h1m7 3h1m-8 -6h1m-1 2h1m4 -2h1m-5 -11h1m-14 16h1m16 -20h1m-4 13h1m0 0h1m-1 9h1m1 -4h1m-9 -15h1m9 19h1m-1 -12h1m8 19h1m-14 -18h1m-8 17h1m5 -13h1m-11 -13h1m9 15h1m-5 -5h1m6 9h1m1 -5h1m-5 11h1m-7 -15h1m4 9h1m6 -14h1m0 10h1m-13 -6h1m3 22h1m-4 -12h1m9 -4h1m-6 9h1m-2 -13h1m9 7h1m-1 -4h1m-12 -7h1m-1 10h1m-5 -15h1m-3 11h1m4 13h1m1 -12h1m-3 -17h1m3 13h1m-10 -3h1m-5 12h1m1 2h1m9 4h1m-2 -9h1m-4 3h1m-2 -14h1m9 13h1m-3 -18h1m5 4h1m-11 12h1m-9 -10h1m8 11h1m-6 5h1m0 5h1m7 -15h1m-2 4h1m-11 9h1m5 -13h1m2 3h1m1 -1h1m-5 9h1m-4 10h1m-2 -26h1m9 13h1m-13 -10h1m5 3h1m-2 7h1m-10 7h1m-2 -13h1m5 7h1m-3 -16h1m5 0h1m1 6h1m-7 -9h1m2 20h1m-3 -3h1m12 6h1m-2 -13h1m-8 13h1m-5 -9h1m-2 -9h1m6 15h1m-1 -12h1m-10 8h1m4 -15h1m-6 6h1m8 10h1m-9 -8h1m-2 -1h1m6 14h1m-19 -6h1m19 7h1m0 -5h1m-15 -5h1m-4 11h1m3 -2h1m5 -7h1m6 -2h1m-10 5h1m8 -9h1m-10 8h1m5 -14h1m-2 29h1m1 -32h1m-8 12h1m4 -4h1m-6 8h1m1 3h1m-7 0h1m16 -14h1m-3 0h1m-10 7h1m-2 -3h1m2 17h1m6 -22h1m-17 2h1m9 -7h1m-12 13h1m4 0h1m1 1h1m-6 1h1m16 -2h1m-16 -11h1m6 11h1m4 2h1m-16 18h1m8 -20h1m-8 14h1m-4 -14h1m2 6h1m8 -12h1m-19 8h1m12 5h1m-5 -15h1m10 2h1m-3 7h1m-9 -10h1m-2 4h1m3 2h1m1 1h1m1 -14h1m1 5h1m-7 20h1m-7 -20h1m10 13h1m1 -6h1m-17 -3h1m8 10h1m1 -1h1m9 11h1m-10 -11h1m-2 -6h1m-4 -9h1m-4 6h1m5 27h1m7 -19h1m-12 12h1m0 -12h1m-7 5h1m2 4h1m-3 1h1m2 -12h1m0 -11h1m12 10h1m-21 11h1m0 -16h1m12 7h1m0 -14h1m-2 1h1m1 2h1m-8 15h1m3 8h1m-11 -17h1m6 18h1m7 -6h1m-19 -12h1m2 8h1m10 8h1m-11 -4h1m10 -7h1m-5 -3h1m-3 4h1m4 -7h1m-4 -1h1m4 -10h1m-6 22h1m-13 -8h1m12 2h1m7 14h1m-20 -25h1m5 15h1m2 0h1m9 -13h1m-9 -1h1m0 13h1m-6 -6h1m5 9h1m-8 -3h1m2 -2h1m11 3h1m-5 -15h1m1 21h1m-16 -5h1m2 -6h1m-1 -6h1m0 17h1m3 -14h1m-9 21h1m15 -11h1m-17 -3h1m-7 18h1m14 -16h1m-6 -9h1m2 -1h1m0 -1h1m-1 5h1m0 14h1m-3 -10h1m-4 4h1m3 -15h1m-5 2h1m2 1h1m-4 7h1m3 -5h1m-6 9h1m8 -5h1m-2 8h1m-11 4h1m13 -7h1m-18 -4h1m10 -2h1m-5 16h1m-2 -19h1m-6 2h1m11 -6h1m-14 10h1m3 2h1m6 4h1m1 -23h1m-4 8h1m-3 1h1m-16 17h1m17 -24h1m7 8h1m-17 1h1m-3 9h1m14 -8h1m-6 -11h1m-8 11h1m-10 1h1m5 3h1m2 10h1m8 -13h1m-10 3h1m0 8h1m7 -4h1m-14 -8h1m-1 7h1m4 2h1m-5 2h1m8 -12h1m-8 27h1m4 -20h1m3 0h1m-3 1h1m-1 2h1m-12 -14h1m6 -3h1m2 0h1m-3 11h1m-15 3h1m15 -17h1m-9 18h1m-1 4h1m7 -21h1m-1 20h1m-5 -7h1m7 -12h1m-18 22h1m4 -12h1m-14 -1h1m16 -3h1m-7 23h1m11 -12h1m-15 -10h1m2 11h1m-4 -6h1m19 -2h1m-4 -5h1m-4 2h1m-12 6h1m1 -7h1m3 5h1m-3 13h1m6 -20h1m-12 10h1m-13 -4h1m20 6h1m-7 -4h1m-24 -17h1m18 3h1m2 18h1m-16 -13h1m29 13h1m-37 -2h1m38 -15h1m-19 0h1m-36 10h1m28 -9h1m-22 10h1m16 3h1m-1 -7h1m1 4h1m-3 5h1m5 -4h1m9 11h1m-8 -19h1m-2 -1h1m-26 25h1m12 -19h1m6 -8h1m-5 14h1m10 -10h1m-8 23h1m-9 -23h1m20 23h1m1 -10h1m-15 -5h1m14 8h1m3 -22h1m-12 17h1m-14 -16h1m2 1h1m-3 3h1m2 -12h1m6 23h1m5 -4h1m-3 -14h1m-27 19h1m27 -23h1m-1 4h1m5 25h1m-18 -18h1m-1 -16h1m12 17h1m-15 -17h1m19 27h1m-14 -9h1m-13 -16h1m23 16h1m-8 7h1m-14 2h1m2 2h1m9 -12h1m-2 15h1m-31 -17h1m8 -1h1m18 13h1m1 -3h1m-16 -1h1m-1 3h1m25 -6h1m-6 -1h1m-24 5h1m22 -11h1m-22 1h1m26 10h1m-16 11h1m3 3h1m-15 -11h1m-8 4h1m10 -7h1m7 -19h1m-24 16h1m9 -2h1m-28 12h1m23 -7h1m20 -21h1m-19 34h1m-4 -6h1m12 -14h1m-17 0h1m3 15h1m28 -33h1m-22 18h1m-7 18h1m-3 -21h1m13 8h1m7 7h1m-30 -1h1m18 -2h1m12 9h1m-29 -16h1m11 16h1m-8 -16h1m-20 10h1m23 -13h1m17 17h1m-4 -16h1m-16 0h1m15 5h1m-21 -12h1m13 1h1m-2 26h1m-21 -35h1m7 -8h1m-3 24h1m25 19h1m-18 -5h1m-4 -10h1m4 12h1m-13 -9h1m-4 -23h1m3 24h1m4 -8h1m-7 -7h1m11 1h1m2 14h1m-14 -7h1m-14 5h1m32 -2h1m-11 1h1m-10 11h1m-30 -18h1m10 -2h1m7 -5h1m18 -9h1m-15 39h1m-1 -26h1m17 12h1m-24 -3h1m7 4h1m-10 -2h1m15 1h1m-6 -18h1m16 7h1m-48 -9h1m9 26h1m29 -15h1m-4 12h1m-12 -3h1m0 -10h1m0 3h1m0 8h1m15 -16h1m-23 27h1m3 -25h1m21 13h1m-26 -9h1m22 -1h1m-31 -6h1m18 17h1m0 -16h1m-23 6h1m16 -3h1m1 -1h1m-12 12h1m9 -2h1m0 -11h1m-2 5h1m12 10h1m-4 -9h1m-14 -21h1m3 17h1m-10 0h1m-6 29h1m28 -15h1m-3 -1h1m1 -10h1m-19 17h1m1 -28h1m2 30h1m2 -20h1m-10 16h1m11 4h1m-33 -25h1m7 26h1m35 -37h1m0 41h1m-12 -4h1m-15 -19h1m-4 -18h1m6 41h1m-12 -19h1m29 4h1m-11 5h1m-3 6h1m-16 -15h1m15 -5h1m4 -7h1m-16 16h1m-14 4h1m5 -23h1m-7 -14h1m3 35h1m-1 1h1m10 -7h1m-3 15h1m1 -10h1m1 -7h1m-14 -9h1m29 11h1m-56 -20h1m33 9h1m-18 9h1m6 -8h1m7 34h1m-13 -26h1m27 -4h1m-11 -1h1m-22 11h1m19 -6h1m-1 -3h1m6 11h1m-16 -5h1m0 -12h1m4 5h1m-11 5h1m7 2h1m8 1h1m-13 5h1m-13 -23h1m20 1h1m-17 19h1m-5 5h1m2 1h1m31 -13h1m-23 7h1m-13 -6h1m30 4h1m-11 -12h1m-21 15h1m2 -21h1m3 3h1m12 18h1m-3 -2h1m12 3h1m-1 0h1m4 -6h1m-31 11h1m5 -3h1m10 -19h1m-1 14h1m-5 -10h1m-18 5h1m0 -3h1m23 -2h1m-27 5h1m8 21h1m8 -33h1m-31 22h1m21 -11h1m-5 -1h1m10 -8h1m-8 19h1m9 -11h1m-2 -22h1m-9 50h1m18 -18h1m-21 2h1m-5 -10h1m9 -3h1m-7 7h1m4 12h1m-6 -26h1m4 7h1m10 0h1m-15 -8h1m-26 15h1m30 1h1m-2 -10h1m-32 -10h1m23 14h1m2 21h1m-3 -14h1m-21 -10h1m35 9h1m-5 8h1m-16 -17h1m-8 24h1m14 -14h1m-20 -4h1m22 12h1m-5 -1h1m-3 11h1m20 -20h1m-41 -9h1m22 14h1m-17 -8h1m1 -3h1m6 0h1m4 4h1m0 -9h1m-4 8h1m-7 4h1m0 -9h1m5 13h1m18 -7h1m-18 -24h1m0 39h1m10 -5h1m1 -14h1m-6 -19h1m-4 6h1m-2 0h1m4 14h1m6 -1h1m-22 11h1m-29 -6h1m9 11h1m38 -19h1m-36 -10h1m24 0h1m-7 18h1m-18 -8h1m-4 24h1m22 -12h1m-22 -22h1m34 22h1m-12 -8h1m-33 -12h1m34 11h1m-12 -2h1m9 30h1m-15 -14h1m9 -20h1m4 0h1m-45 20h1m20 -18h1m20 1h1m9 14h1m-43 -1h1m18 -9h1m21 -4h1m-26 5h1m-4 -5h1m-7 4h1m18 -13h1m-12 0h1m-18 7h1m30 19h1m-11 -17h1m-4 17h1m6 -1h1m-10 2h1m-5 -4h1m16 16h1m-23 -37h1m14 2h1m-2 3h1m-11 7h1m10 -1h1m-20 24h1m32 -15h1m-35 4h1m-2 -33h1m21 12h1m-10 20h1m16 11h1m-24 -41h1m24 26h1m-21 -18h1m4 34h1m13 -8h1m10 -27h1m-38 -4h1m9 3h1m-14 3h1m18 17h1m2 -15h1m1 2h1m0 15h1m-29 -14h1m27 12h1m-16 7h1m13 8h1m15 -16h1m-27 -2h1m-8 -8h1m14 28h1m6 -24h1m-18 3h1m2 -13h1m-6 17h1m-6 -6h1m16 9h1m16 -11h1m-25 -14h1m22 19h1m-22 8h1m11 -11h1m-28 20h1m20 -16h1m13 -13h1m-16 14h1m-2 4h1m-11 -25h1m5 6h1m2 12h1m-4 0h1m-3 0h1m12 3h1m-28 -2h1m26 -8h1m-5 11h1m-20 -18h1m12 9h1m-10 -11h1m3 3h1m1 10h1m4 13h1m-16 -24h1m35 10h1m-22 28h1m13 -32h1m-15 9h1m17 -5h1m-13 14h1m13 -27h1m-44 9h1m2 -4h1m7 8h1m9 1h1m-7 3h1m0 1h1m1 2h1m6 -8h1m-4 -2h1m-2 5h1m-7 -13h1m-9 22h1m11 -28h1m1 17h1m-24 13h1m4 -4h1m11 2h1m23 -10h1m2 -23h1m-22 36h1m21 -27h1m-19 -7h1m14 36h1m-30 -3h1m-8 -13h1m-7 16h1m30 -9h1m1 -3h1m-5 10h1m-7 -29h1m18 21h1m-2 -7h1m-34 -6h1m16 11h1m8 7h1m-15 11h1m-2 -8h1m3 -16h1m1 3h1m11 -14h1m-7 16h1m-18 -12h1m12 16h1m-14 -16h1m33 14h1m-39 11h1m12 -2h1m0 9h1m-1 -28h1m-11 15h1m11 -10h1m-3 6h1m-21 1h1m11 -3h1m10 2h1m10 -8h1m-16 -9h1m3 10h1m-4 11h1m7 -3h1m-10 -8h1m4 20h1m9 -17h1m-24 -10h1m6 -3h1m-14 4h1m33 4h1m-14 2h1m-3 1h1m-12 5h1m-20 -15h1m44 15h1m-51 -4h1m34 -4h1m-1 34h1m-16 -14h1m22 4h1m-14 -6h1m5 -6h1m-3 -1h1m-1 -7h1m-16 -4h1m-3 -13h1m24 15h1m-11 5h1m20 -6h1m-11 -11h1m-7 21h1m1 -27h1m14 33h1m-28 -19h1m-16 6h1m7 -7h1m23 10h1m-19 -7h1m5 18h1m-30 3h1m25 -25h1m6 16h1m0 -5h1m7 6h1m-28 7h1m9 -14h1m-21 21h1m10 -33h1m17 30h1m0 -31h1m-16 9h1m5 -5h1m9 24h1m-12 2h1m23 0h1m-30 -6h1m-3 -10h1m11 3h1m-5 15h1m-8 -19h1m14 2h1m-10 -10h1m15 16h1m-7 -26h1m-17 6h1m2 9h1m4 15h1m19 -9h1m-33 -16h1m14 22h1m1 -2h1m-12 -32h1m-3 41h1m11 -14h1m19 -11h1m-14 18h1m-15 -22h1m13 18h1m-16 -12h1m-2 -11h1m27 7h1m-41 15h1m40 -7h1m-32 -3h1m8 -6h1m21 28h1m-24 -22h1m6 18h1m1 5h1m-4 -11h1m-9 12h1m-31 -13h1m11 -1h1m29 22h1m-17 -19h1m11 -7h1m31 35h1m5 -38h1m-36 32h1m16 -4h1m-12 4h1m-4 -41h1m-15 44h1" stroke="#000" stroke-width="1.0" fill="none" opacity="0.86"/>
<path d="M269 1839.5h1m6 4h1m-5 -1h1m0 2h1m-9 -6h1m7 -2h1m-8 18h1m-1 -18h1m6 6h1m-7 9h1m4 -21h1m-14 10h1m13 0h1m0 8h1m-4 -17h1m-5 1h1m9 -7h1m0 19h1m-7 -9h1m3 6h1m2 3h1m-19 8h1m-3 -14h1m9 11h1m3 -10h1m-3 10h1m4 -9h1m1 -3h1m-10 2h1m7 -8h1m-2 16h1m-6 -2h1m1 -4h1m7 1h1m-12 6h1m9 -28h1m-9 22h1m-2 -5h1m-5 4h1m-13 -2h1m14 9h1m-10 -8h1m14 -20h1m-3 9h1m-6 14h1m-1 10h1m15 -23h1m-15 16h1m-11 -15h1m2 0h1m13 2h1m-5 19h1m0 -13h1m-7 -2h1m8 -5h1m-1 7h1m-8 3h1m-15 -2h1m14 -4h1m-3 15h1m7 1h1m-19 -18h1m2 8h1m3 1h1m5 5h1m-7 1h1m7 -3h1m-5 -14h1m3 4h1m-15 5h1m-5 4h1m16 -7h1m-3 -1h1m1 6h1m-3 -18h1m-5 13h1m3 21h1m7 -20h1m-16 2h1m4 -1h1m4 1h1m9 7h1m-13 -4h1m-4 1h1m1 -9h1m-11 1h1m5 -3h1m-6 -2h1m16 14h1m-23 -9h1m7 4h1m6 1h1m-4 -7h1m-2 7h1m-1 -10h1m2 7h1m-14 4h1m4 -21h1m3 9h1m4 11h1m-4 3h1m5 -13h1m-9 17h1m0 11h1m0 0h1m4 -20h1m-4 9h1m2 -5h1m-7 2h1m0 -16h1m-5 16h1m2 -15h1m6 3h1m-3 13h1m-2 -20h1m-8 4h1m6 15h1m-11 -8h1m5 3h1m-7 1h1m6 -7h1m-2 1h1m-5 6h1m5 -11h1m0 14h1m-4 -4h1m-4 -10h1m-3 10h1m8 -3h1m2 3h1m-11 2h1m5 7h1m0 -11h1m2 -6h1m-8 8h1m-5 3h1m0 11h1m4 -17h1m2 -1h1m2 3h1m-8 3h1m-4 15h1m-2 -17h1m10 -10h1m-2 6h1m-8 -4h1m0 10h1m-6 0h1m8 -3h1m-10 -1h1m7 17h1m10 -31h1m-14 19h1m-2 3h1m-1 -14h1m-5 13h1m6 -6h1m-2 -3h1m-8 9h1m5 -6h1m3 -5h1m-16 18h1m13 -14h1m-13 2h1m1 -9h1m14 11h1m-13 -7h1m-4 -3h1m-2 7h1m5 0h1m8 -3h1m-9 10h1m-2 -4h1m-4 1h1m3 -1h1m-3 -6h1m-3 4h1m5 -5h1m-7 23h1m4 -10h1m1 -3h1m-3 -3h1m7 -12h1m-6 7h1m-5 1h1m-5 7h1m2 2h1m4 -9h1m-3 -5h1m-12 20h1m9 -14h1m-2 -1h1m3 -1h1m-7 8h1m0 7h1m9 -13h1m-9 0h1m11 -6h1m-20 12h1m8 -17h1m-8 8h1m3 1h1m-1 6h1m-8 17h1m6 -17h1m-3 -11h1m-5 1h1m3 4h1m-4 1h1m4 8h1m-5 -9h1m-1 3h1m5 -1h1m3 -14h1m-4 18h1m1 -7h1m-7 17h1m-6 -18h1m7 9h1m-5 -8h1m-1 0h1m3 -5h1m-9 16h1m9 2h1m-10 9h1m0 -11h1m1 -3h1m13 -5h1m-23 11h1m16 -10h1m-2 5h1m-4 -1h1m1 1h1m-5 -1h1m-4 -3h1m7 -8h1m-6 2h1m0 1h1m-8 4h1m2 -15h1m1 13h1m-7 -3h1m-1 11h1m-1 -3h1m1 -2h1m0 1h1m6 3h1m-7 -5h1m0 -13h1m-5 14h1m15 -22h1m-7 40h1m-3 -22h1m1 5h1m-3 -6h1m-16 5h1m6 -1h1m11 14h1m-3 -3h1m-10 -16h1m-7 -1h1m5 1h1m10 3h1m-11 4h1m4 -7h1m-10 0h1m9 5h1m-16 0h1m10 -1h1m4 5h1m-8 -6h1m10 14h1m-3 -7h1m-11 -1h1m-2 -6h1m12 -4h1m-3 8h1m2 1h1m-7 -5h1m-12 3h1m5 5h1m3 -18h1m-3 4h1m-1 11h1m-6 8h1m3 -17h1m2 -3h1m1 7h1m-5 8h1m-1 -13h1m0 23h1m-10 -33h1m3 4h1m-1 11h1m14 8h1m-2 3h1m-10 -9h1m-5 -11h1m-5 22h1m16 -6h1m-8 -2h1m2 -15h1m-10 8h1m2 -1h1m3 5h1m-8 5h1m6 -14h1m-14 15h1m4 -7h1m4 -3h1m-1 -17h1m-12 23h1m3 10h1m4 -7h1m6 1h1m-10 -18h1m-3 17h1m5 -6h1m3 -5h1m-5 14h1m-2 -19h1m5 22h1m-4 -4h1m0 -2h1m-3 1h1m-1 -3h1m-6 -3h1m11 -3h1m-6 7h1m-6 -12h1m3 11h1m-12 6h1m3 -15h1m-5 14h1m-1 -12h1m5 -11h1m6 5h1m-9 20h1m4 -22h1m-8 17h1m-2 -20h1m6 8h1m5 8h1m-2 -5h1m-16 2h1m11 -6h1m-2 19h1m8 2h1m-13 -5h1m-8 -1h1m8 5h1m0 1h1m3 -5h1m-14 -5h1m1 6h1m-1 -7h1m6 -8h1m-6 10h1m11 -5h1m-12 9h1m-2 -14h1m12 10h1m-5 6h1m6 -11h1m-12 3h1m-5 2h1m7 9h1m-13 -26h1m8 23h1m-15 -3h1m10 -3h1m-4 -3h1m-9 -3h1m3 5h1m2 3h1m-2 -13h1m-1 -8h1m-2 15h1m3 -10h1m-3 17h1m4 1h1m0 -14h1m-7 6h1m-3 -10h1m3 20h1m9 -8h1m-5 -1h1m2 -7h1m-2 0h1m-10 -3h1m-1 2h1m3 9h1m-5 -8h1m-2 4h1m0 10h1m9 -6h1m-5 -11h1m1 9h1m0 -2h1m-9 -2h1m9 3h1m0 8h1m-11 -12h1m9 8h1m-10 -6h1m-13 9h1m11 -7h1m0 -2h1m3 15h1m-11 -4h1m10 2h1m-11 -15h1m12 -1h1m4 12h1m-19 3h1m-1 -12h1m-3 12h1m6 -15h1m-9 12h1m16 -4h1m-15 -4h1m-2 -12h1m-5 11h1m12 0h1m-9 5h1m4 -10h1m-2 3h1m4 -2h1m-5 11h1m-7 4h1m5 -6h1m4 4h1m-11 -9h1m16 6h1m-18 -5h1m12 -3h1m-10 7h1m0 -1h1m-15 5h1m7 -10h1m4 14h1m-4 -16h1m14 -1h1m-13 14h1m0 -9h1m-12 -14h1m9 -2h1m-9 12h1m7 10h1m-1 0h1m-2 -9h1m2 22h1m1 -11h1m-1 -15h1m-2 1h1m-4 10h1m6 9h1m-6 -6h1m0 2h1m7 5h1m-14 -16h1m1 9h1m11 -7h1m-12 0h1m-1 2h1m-2 0h1m1 7h1m-6 -8h1m1 -4h1m-5 0h1m-3 -2h1m6 10h1m-1 -5h1m5 -11h1m-2 8h1m-2 17h1m-10 -4h1m-2 -4h1m9 -18h1m-12 23h1m12 -12h1m-8 3h1m1 3h1m0 -3h1m4 0h1m-9 -3h1m3 4h1m-5 3h1m-9 -11h1m8 3h1m-5 10h1m-7 6h1m9 -5h1m3 -23h1m1 18h1m-7 6h1m-3 -8h1m4 0h1m3 -5h1m-7 4h1m-4 -4h1m-2 1h1m6 2h1m0 8h1m-7 2h1m2 -6h1m-4 4h1m4 -15h1m-2 20h1m-9 -16h1m5 14h1m3 -9h1m-12 -2h1m2 15h1m6 -19h1m-13 12h1m16 -10h1m-15 14h1m7 -19h1m-4 0h1m1 7h1m-2 -8h1m-7 7h1m0 -1h1m2 -2h1m-4 11h1m-3 -4h1m9 6h1m-1 -11h1m-2 2h1m-2 2h1m5 -7h1m-16 7h1m1 8h1m1 -16h1m-4 14h1m11 -9h1m-2 2h1m-4 6h1m-6 -5h1m9 -21h1m-6 26h1m-2 -1h1m-13 16h1m2 -12h1m12 -8h1m-8 -4h1m0 15h1m-5 -14h1m4 -1h1m-34 -4h1m24 4h1m-5 -11h1m23 24h1m-34 -11h1m-17 -17h1m26 17h1m-11 19h1m-16 -39h1m25 28h1m-11 10h1m9 -14h1m8 -9h1m-23 0h1m28 16h1m-14 -6h1m-11 -17h1m14 14h1m-32 2h1m9 7h1m19 12h1m-15 -24h1m19 -11h1m-21 4h1m-10 4h1m1 12h1m8 -8h1m-5 12h1m-2 -5h1m5 -3h1m0 4h1m20 -26h1m-1 18h1m-35 5h1m21 -16h1m13 24h1m-18 -15h1m-9 9h1m-2 -15h1m2 -3h1m1 8h1m-2 3h1m9 -1h1m-3 22h1m-12 -34h1m2 15h1m18 -12h1m-28 -2h1m-5 15h1m13 -9h1m-3 17h1m-9 -16h1m1 6h1m1 -20h1m-9 15h1m4 23h1m-4 -5h1m19 -3h1m-7 -35h1m-9 27h1m11 10h1m-14 -5h1m7 -10h1m14 8h1m-6 -1h1m-14 -8h1m-20 -19h1m19 25h1m5 -14h1m9 -13h1m-7 5h1m-6 7h1m-22 24h1m-1 -21h1m40 -9h1m-20 23h1m-10 -14h1m5 8h1m-4 -3h1m2 -10h1m-17 10h1m1 -17h1m6 29h1m5 -7h1m18 -8h1m-5 0h1m-25 -9h1m20 9h1m-29 23h1m7 -30h1m-6 21h1m-1 -14h1m22 -5h1m-13 14h1m-17 -4h1m27 8h1m-17 -7h1m-16 -7h1m38 4h1m-27 5h1m6 -10h1m-1 17h1m1 -2h1m10 -19h1m7 -1h1m-34 27h1m19 -9h1m-10 -10h1m-22 -3h1m16 -2h1m12 -4h1m8 25h1m-23 3h1m14 -26h1m-10 9h1m-28 1h1m34 19h1m-18 -18h1m18 -12h1m-7 34h1m-1 -14h1m-16 -2h1m7 -5h1m-4 -10h1m2 22h1m4 -14h1m10 -14h1m-22 21h1m23 -13h1m-20 -7h1m-12 9h1m-5 33h1m16 -21h1m24 -7h1m-36 -5h1m5 13h1m13 -13h1m-5 7h1m-21 12h1m25 -10h1m-14 -3h1m-3 -9h1m-19 -6h1m16 -5h1m12 -3h1m-5 34h1m1 -17h1m-16 -5h1m18 13h1m-20 7h1m4 -11h1m6 0h1m-8 4h1m2 -9h1m-18 1h1m6 -2h1m3 -12h1m9 -5h1m-35 19h1m10 6h1m26 -3h1m-3 2h1m-15 -3h1m11 8h1m-4 -4h1m12 -3h1m-11 -11h1m10 23h1m-37 2h1m-4 0h1m24 -5h1m-2 -1h1m-14 27h1m25 -16h1m-14 -38h1m-28 22h1m14 -9h1m17 29h1m-3 -27h1m-7 7h1m28 -1h1m-22 3h1m-23 17h1m18 -21h1m-6 -3h1m-5 5h1m-6 19h1m18 -12h1m3 5h1m-23 -4h1m15 18h1m-9 -21h1m15 -3h1m-17 -3h1m-15 -5h1m28 -8h1m-44 26h1m22 -11h1m-17 -19h1m15 22h1m17 -22h1m-17 7h1m-10 36h1m21 -37h1m-8 25h1m-6 -26h1m-3 2h1m7 24h1m-23 -12h1m20 3h1m-18 -8h1m25 20h1m1 -39h1m-31 35h1m22 -7h1m-2 -20h1m-39 36h1m10 -20h1m16 -13h1m-4 17h1m12 7h1m-8 -23h1m4 5h1m0 15h1m-7 -9h1m-1 -11h1m6 -1h1m2 7h1m-22 15h1m13 -23h1m15 0h1m-31 14h1m-14 1h1m2 -6h1m19 4h1m5 -21h1m17 28h1m-21 -23h1m-5 2h1m-12 19h1m18 -11h1m17 5h1m-27 7h1m-11 -9h1m27 -14h1m-14 18h1m-17 0h1m16 -10h1m7 10h1m-22 -7h1m4 21h1m-24 -10h1m40 -3h1m-11 -7h1m10 -4h1m-23 -8h1m11 10h1m0 8h1m-21 5h1m11 -14h1m25 11h1m-33 -10h1m18 0h1m0 -12h1m-25 28h1m24 -4h1m-15 -12h1m21 -12h1m-24 27h1m7 -12h1m-18 -6h1m8 31h1m5 -24h1m-20 23h1m8 -12h1m16 7h1m-16 -19h1m-7 -5h1m25 16h1m-23 0h1m21 14h1m-6 -32h1m-6 5h1m5 12h1m-24 -8h1m13 5h1m-29 -5h1m3 1h1m24 17h1m9 -16h1m-10 -5h1m-23 -8h1m18 26h1m-16 -26h1m18 0h1m6 7h1m-12 22h1m-6 -13h1m-13 21h1m1 -24h1m13 -18h1m12 0h1m-18 21h1m3 -11h1m16 -4h1m-29 4h1m18 -1h1m-3 5h1m-7 23h1m-10 -19h1m1 -18h1m11 0h1m-10 19h1m-6 10h1m23 -13h1m-11 -11h1m-10 18h1m-4 -13h1m2 -5h1m17 22h1m-11 -3h1m0 15h1m-17 -15h1m18 -9h1m-9 1h1m-23 6h1m34 2h1m-34 10h1m35 -11h1m-29 5h1m-7 -14h1m-5 25h1m15 -36h1m21 2h1m-20 16h1m13 7h1m-28 -1h1m16 -20h1m16 7h1m-42 21h1m21 -13h1m3 -16h1m2 5h1m-8 8h1m24 -9h1m-17 3h1m-1 8h1m1 -7h1m-33 8h1m18 0h1m-15 -12h1m-2 25h1m11 -25h1m13 -7h1m-10 21h1m1 -25h1m6 23h1m-21 -19h1m30 6h1m-16 -3h1m-20 7h1m22 10h1m-33 -7h1m10 8h1m18 -28h1m-6 7h1m-3 -7h1m14 33h1m-15 -9h1m-2 4h1m-15 -30h1m13 18h1m18 4h1m-6 4h1m9 1h1m-32 -12h1m12 26h1m0 -32h1m8 15h1m-29 -15h1m-4 12h1m38 0h1m-19 1h1m-24 5h1m13 1h1m10 11h1m-1 -1h1m-26 -22h1m40 -2h1m-16 11h1m-12 -18h1m11 28h1m-2 -11h1m-4 -13h1m7 27h1m-37 -13h1m9 -8h1m39 8h1m-14 -4h1m-6 -19h1m-6 34h1m6 -31h1m0 8h1m-31 -7h1m20 24h1m10 1h1m-31 -5h1m11 -2h1m-9 0h1m12 14h1m16 3h1m-16 13h1m2 -52h1m-1 21h1m-3 0h1m-1 15h1m4 -20h1m-9 -1h1m7 23h1m8 -6h1m2 -12h1m-39 0h1m20 2h1m-6 -1h1m11 -19h1m-17 12h1m20 4h1m-20 -19h1m-5 28h1m-21 -26h1m32 21h1m-20 -4h1m-4 -18h1m36 9h1m-32 -8h1m22 43h1m-14 -15h1m10 -2h1m8 -15h1m-21 -1h1m8 10h1m-20 16h1m14 -30h1m-13 27h1m14 -15h1m-37 -5h1m15 -21h1m5 50h1m-3 -44h1m0 5h1m6 24h1m2 0h1m-19 -17h1m13 13h1m-4 1h1m22 -8h1m-17 8h1m-9 -16h1m15 7h1m-7 -3h1m-11 -1h1m10 4h1m-11 -2h1m16 5h1m-13 5h1m20 17h1m-8 -6h1m-22 -16h1m3 12h1m4 -4h1m-13 -17h1m-4 -8h1m6 20h1m10 1h1m-5 9h1m-12 -3h1m16 -6h1m13 -24h1m-8 16h1m-10 -1h1m6 0h1m-24 9h1m5 1h1m4 -3h1m12 1h1m-13 11h1m11 3h1m-7 -24h1m-6 23h1m-3 -12h1m6 14h1m-24 -7h1m16 2h1m-9 -17h1m19 5h1m-20 10h1m16 -8h1m4 -2h1m-36 -7h1m40 26h1m-40 -21h1m16 9h1m-24 5h1m31 -14h1m8 10h1m-22 1h1m-12 -3h1m4 -17h1m-2 -1h1m16 10h1m-16 -1h1m7 13h1m17 -2h1m-30 -25h1m1 1h1m28 11h1m-13 3h1m-2 -3h1m-20 -11h1m12 24h1m-14 -2h1m26 -11h1m-24 8h1m3 -9h1m5 -15h1m-13 -3h1m5 32h1m17 -26h1m0 19h1m-16 -1h1m7 0h1m-7 0h1m3 -1h1m-13 11h1m9 -8h1m-19 -14h1m11 2h1m15 4h1m-20 -4h1m10 -9h1m-1 35h1m-7 -11h1m4 0h1m-13 -11h1m-14 2h1m20 13h1m-23 -25h1m14 9h1m7 -13h1m-1 11h1m12 14h1m-24 -6h1m-2 3h1m-4 -3h1m11 -4h1m-11 6h1m2 10h1m-4 -2h1m4 -13h1m3 7h1m9 6h1m8 -1h1m-9 -2h1m-2 -3h1m-7 0h1m-1 -9h1m-15 10h1m15 -5h1m14 -14h1m-30 9h1m7 0h1m17 19h1m-19 -1h1m18 -21h1m-10 19h1m34 8h1m-20 -51h1m-5 31h1m8 -22h1m17 39h1" stroke="#000" stroke-width="1.0" fill="none" opacity="0.86"/>
<rect x="188.6" y="1811.4" width="96.6" height="65" fill="none" stroke="#000" stroke-width="2"/>
<text x="193.8" y="1867.6" font-size="17.8" textLength="34.6" lengthAdjust="spacingAndGlyphs" font-family="'DejaVu Sans', 'Liberation Sans', sans-serif">98.9</text>
<rect x="422.2" y="1686.2" width="206.7" height="201.3" fill="#fff" stroke="#000" stroke-width="1.1"/>
<path d="M422.2 1705.5h-5.4M422.2 1753.1h-5.4M422.2 1808.5h-5.4M422.2 1874.6h-5.4" stroke="#000" stroke-width="2.7" fill="none"/>
<rect x="416.6" y="1836" width="5.6" height="10" fill="#000"/>
<path d="M422.2 1791.8h-2.6M422.2 1782.1h-2.6M422.2 1775.1h-2.6M422.2 1765.4h-2.6M422.2 1761.7h-2.6M422.2 1758.5h-2.6M422.2 1755.6h-2.6M422.2 1738.8h-2.6M422.2 1730.4h-2.6M422.2 1724.4h-2.6M422.2 1716.1h-2.6M422.2 1712.9h-2.6M422.2 1710.1h-2.6M422.2 1707.7h-2.6M422.2 1691.2h-2.6M422.2 1832.1h-2.6M422.2 1828.1h-2.6M422.2 1820.3h-2.6M422.2 1816.4h-2.6M422.2 1812.4h-2.6M422.2 1850.1h-2.6M422.2 1854.2h-2.6M422.2 1862.3h-2.6M422.2 1866.4h-2.6M422.2 1870.5h-2.6M422.2 1882.1h-2.6M422.2 1886.5h-2.6" stroke="#000" stroke-width="1.3" fill="none"/>
<path d="M422.2 1769.8h-3.8M422.2 1719.8h-3.8M422.2 1824.2h-3.8M422.2 1858.3h-3.8" stroke="#000" stroke-width="2" fill="none"/>
<text x="412.6" y="1709.1" font-size="7.1" text-anchor="end" fill="#222">10<tspan dy="-4.2">5</tspan></text>
<text x="412.6" y="1756.7" font-size="7.1" text-anchor="end" fill="#222">10<tspan dy="-4.2">4</tspan></text>
<text x="412.6" y="1812.1" font-size="7.1" text-anchor="end" fill="#222">10<tspan dy="-4.2">3</tspan></text>
<text x="409.2" y="1843.8" font-size="7.1" text-anchor="end" fill="#222">0</text>
<text x="412.6" y="1878.2" font-size="7.1" text-anchor="end" fill="#222">-10<tspan dy="-4.2">3</tspan></text>
<rect x="453.5" y="1887.5" width="28" height="2.6" fill="#000"/>
<path d="M453.5 1887.5v5.3M467.5 1887.5v5.3M481.5 1887.5v5.3M534.9 1887.5v5.3M585 1887.5v5.3" stroke="#000" stroke-width="3.3" fill="none"/>
<path d="M518.8 1887.5v3.8M569.9 1887.5v3.8M620 1887.5v3.8" stroke="#000" stroke-width="2.3" fill="none"/>
<path d="M430.1 1887.5v2.3M438.7 1887.5v2.3M448 1887.5v2.3M497.6 1887.5v2.3M507 1887.5v2.3M513.7 1887.5v2.3M523.1 1887.5v2.3M526.6 1887.5v2.3M529.7 1887.5v2.3M532.5 1887.5v2.3M550 1887.5v2.3M558.8 1887.5v2.3M565.1 1887.5v2.3M573.9 1887.5v2.3M577.2 1887.5v2.3M580.1 1887.5v2.3M582.7 1887.5v2.3M600.1 1887.5v2.3M608.9 1887.5v2.3M615.2 1887.5v2.3M624 1887.5v2.3M627.3 1887.5v2.3" stroke="#000" stroke-width="1.4" fill="none"/>
<text x="472.5" y="1904.8" font-size="7.1" text-anchor="middle" fill="#222">0</text>
<text x="535.4" y="1905.3" font-size="7.1" fill="#222">10<tspan dy="-5" font-size="7.1">4</tspan></text>
<text x="585.1" y="1905.3" font-size="7.1" fill="#222">10<tspan dy="-5" font-size="7.1">5</tspan></text>
<path d="M516 1840.5h1m-11 0h1m3 -7h1m-1 2h1m-8 7h1m6 2h1m0 2h1m6 4h1m-10 -15h1m-1 -8h1m-1 13h1m10 -11h1m-16 9h1m-5 5h1m0 0h1m11 -4h1m-6 5h1m-12 -12h1m7 -3h1m0 21h1m6 -14h1m-4 -6h1m-17 -6h1m12 19h1m-5 -7h1m7 5h1m-2 4h1m-18 -3h1m10 -5h1m-3 -12h1m-1 17h1m11 6h1m-2 -17h1m-1 5h1m-15 1h1m11 6h1m-12 -8h1m0 3h1m14 -6h1m-17 9h1m2 4h1m-2 -5h1m5 -6h1m-10 16h1m2 -1h1m8 -10h1m-2 3h1m-5 -12h1m-13 6h1m9 5h1m0 0h1m-12 -10h1m13 9h1m1 1h1m-11 -15h1m1 16h1m18 -8h1m-13 8h1m4 -1h1m-18 3h1m15 -11h1m4 1h1m-9 8h1m7 -4h1m-1 0h1m-21 -2h1m21 -2h1m-17 9h1m5 -15h1m-8 21h1m10 -1h1m-6 -10h1m3 9h1m-12 -11h1m5 0h1m3 -2h1m-7 -3h1m-1 4h1m-9 15h1m1 -7h1m-5 0h1m7 -3h1m1 -3h1m0 -1h1m-1 14h1m9 -6h1m-17 -3h1m-3 10h1m8 -15h1m-4 6h1m2 -8h1m5 0h1m-13 0h1m15 12h1m-12 -11h1m12 -1h1m-20 4h1m-2 3h1m-3 -4h1m13 -2h1m-1 10h1m-11 -7h1m8 4h1m4 -7h1m-15 -1h1m-1 12h1m5 9h1m-6 -17h1m8 -7h1m3 7h1m-4 2h1m-8 -1h1m-9 -5h1m13 15h1m-7 2h1m6 -14h1m1 -14h1m-9 19h1m15 -10h1m-19 4h1m-7 14h1m9 -8h1m1 3h1m-11 -1h1m1 -3h1m5 -6h1m-7 8h1m-2 -13h1m11 5h1m-3 6h1m-10 1h1m3 0h1m7 -9h1m-6 7h1m1 5h1m-7 -3h1m-3 -3h1m1 -2h1m1 8h1m-9 -23h1m4 13h1m-2 6h1m16 -4h1m-19 3h1m5 -6h1m-6 6h1m-1 -9h1m11 10h1m-11 0h1m-5 6h1m1 9h1m10 -13h1m-2 5h1m-14 -2h1m-2 3h1m15 -17h1m-1 5h1m-7 9h1m-9 -1h1m3 1h1m-2 -10h1m2 -6h1m-2 23h1m-2 -8h1m-9 -4h1m5 2h1m2 -8h1m-6 -3h1m4 9h1m6 -4h1m-6 -2h1m0 -6h1m-5 17h1m7 -17h1m-14 25h1m3 -2h1m9 -24h1m-8 5h1m-7 9h1m10 -3h1m-14 8h1m3 -10h1m-2 -1h1m7 0h1m-6 5h1m-6 -6h1m3 10h1m14 4h1m-13 -2h1m1 -19h1m-21 15h1m17 4h1m-7 -9h1m4 11h1m5 -7h1m-5 -2h1m-8 -1h1m8 -1h1m-13 10h1m4 -4h1m2 -2h1m6 2h1m-13 6h1m10 -13h1m-11 -5h1m4 17h1m-9 -2h1m15 -11h1m-14 4h1m2 -5h1m-3 2h1m-1 1h1m6 5h1m-13 -10h1m-3 11h1m5 0h1m2 -7h1m15 -6h1m-14 5h1m10 3h1m-17 -7h1m7 3h1m-4 5h1m0 3h1m6 -12h1m-9 3h1m-3 1h1m-9 2h1m5 -4h1m6 20h1m-4 -18h1m-2 8h1m-9 -4h1m6 -12h1m-6 20h1m1 -8h1m-8 1h1m3 8h1m1 -14h1m4 11h1m-2 5h1m-3 -13h1m8 -7h1m-16 13h1m12 -1h1m-4 9h1m0 -5h1m-10 -8h1m19 1h1m-14 -8h1m-7 -3h1m-16 2h1m26 10h1m-31 -9h1m18 2h1m-4 6h1m-4 5h1m1 -13h1m-2 8h1m8 -4h1m-28 10h1m42 -1h1m-40 -3h1m20 2h1m-13 -17h1m7 20h1m-17 2h1m4 -22h1m15 14h1m-3 7h1m6 -11h1m-15 3h1m4 -11h1m10 16h1m3 -7h1m-28 4h1m0 -7h1m1 3h1m-6 -15h1m10 17h1m5 -8h1m-7 9h1m21 -12h1m-24 8h1m-3 10h1m8 -13h1m4 3h1m-5 -1h1m-1 3h1m-2 -11h1m-4 6h1m7 -1h1m-8 5h1m-5 -9h1m-8 10h1m5 9h1m-6 -12h1m-11 0h1m23 -4h1m17 3h1m-31 -3h1m9 -6h1m-2 16h1m-21 -3h1m25 3h1m-4 -5h1m-17 3h1m2 -11h1m15 26h1m1 -19h1m-14 -13h1m6 8h1m-11 13h1m12 -18h1m-16 8h1m15 13h1m-21 4h1m8 -14h1m21 0h1m-14 -3h1m5 10h1m-15 -1h1m21 -8h1m-6 3h1m-36 -7h1m16 14h1m-16 -16h1m32 0h1m-9 3h1m-16 -15h1m22 13h1m-17 -1h1m1 1h1m0 9h1m18 -12h1m-28 5h1m13 8h1m-33 7h1m24 -22h1m-14 11h1m3 10h1m4 -9h1m-17 7h1m23 -18h1m-14 14h1m-5 -6h1m23 10h1m-4 0h1m-12 -11h1m-5 22h1m3 -8h1m0 -23h1m10 7h1m-10 5h1m-8 -22h1m-5 14h1m16 9h1m-9 -3h1m-1 10h1m-16 -10h1m31 -2h1m-29 3h1m15 11h1m1 -9h1m2 13h1m-8 -15h1m1 6h1m7 6h1m-6 -25h1m-7 8h1m-2 3h1m-16 -9h1m24 -5h1m-21 2h1m7 26h1m5 -15h1m6 14h1m-7 -6h1m-5 -9h1m1 2h1m7 10h1m-25 -22h1m20 17h1m-15 -17h1m10 21h1m-8 -12h1m9 -3h1m11 -1h1m-18 5h1m-24 5h1m29 -1h1m-5 -4h1m-10 -14h1m-8 18h1m27 -9h1m-15 9h1m1 -5h1m2 -7h1m-8 27h1m1 0h1m1 -15h1m-28 -7h1m15 11h1m-8 -8h1m3 12h1m-6 -13h1m5 15h1m-2 -11h1m-5 14h1m11 -21h1m1 10h1m-22 12h1m28 -9h1m-1 -1h1m-19 -8h1m8 10h1m-6 -13h1m-5 1h1m21 5h1m-9 7h1m3 -4h1m-15 -8h1m-4 20h1m-13 -20h1m18 7h1m-13 -2h1m14 16h1m-9 -14h1m2 0h1m1 -12h1m-6 7h1m1 -1h1m8 10h1m-1 8h1m-6 -9h1m-7 15h1m2 -31h1m18 6h1m-23 12h1m22 -3h1m-14 -6h1m-11 7h1m-8 -7h1m12 -9h1m0 2h1m10 24h1m4 -21h1m-20 18h1m-17 -10h1m-12 11h1m33 -9h1m-15 -3h1m-10 -11h1m15 2h1m-23 23h1m26 -17h1m8 15h1m-20 -13h1m7 -11h1m-20 21h1m0 2h1m9 0h1m21 -2h1m5 -11h1m-30 -10h1m14 9h1m-11 6h1m5 -1h1m-5 4h1m-8 -7h1m15 2h1m9 13h1m-6 -10h1m-9 5h1m-1 -14h1m-23 9h1m1 -4h1m21 2h1m-13 0h1m13 -10h1m-18 22h1m-11 -21h1m23 -6h1m-9 18h1m-13 -16h1m24 6h1m-32 7h1m6 3h1m2 2h1m11 -7h1m-15 7h1m8 -5h1m-3 8h1m17 -19h1m-23 -4h1m7 29h1m8 -7h1m-17 -7h1m22 5h1m0 -18h1m-29 7h1m8 1h1m-9 1h1m14 15h1m1 -14h1m-22 8h1m16 -5h1m-11 10h1m4 0h1m4 -5h1m-2 -1h1m-10 2h1m-6 -6h1m-12 8h1m5 -11h1m29 15h1m-28 -10h1m3 8h1m4 -20h1m7 24h1m-6 -8h1m4 -21h1m-9 11h1m2 13h1m-8 -7h1m4 -1h1m4 -5h1m3 -2h1m2 -17h1m-12 29h1m14 -4h1m-37 5h1m11 -17h1m13 6h1m-17 2h1m20 -5h1m-1 7h1m-9 -5h1m-4 0h1m-4 7h1m8 1h1m-15 3h1m11 -10h1m13 -11h1m-14 3h1m14 21h1m-24 -11h1m10 -16h1m-6 4h1m9 26h1m-17 -7h1m11 -11h1m4 -6h1m-16 28h1m8 -14h1m-2 -13h1m-17 16h1m15 -3h1m0 -15h1m1 12h1m-26 -3h1m30 -5h1m-19 29h1m-2 -8h1m-10 0h1m-4 -19h1m39 7h1m-20 -5h1m0 -3h1m-1 8h1m-9 5h1m19 -15h1m-23 20h1m20 -15h1m-10 9h1m12 -6h1m-20 3h1m-11 -3h1m1 -3h1m4 -5h1m13 11h1m1 -15h1m-21 13h1m10 0h1m-14 9h1m-5 7h1m23 4h1m-1 -16h1m-8 -6h1m-32 -3h1m33 3h1m-30 -7h1m19 25h1m8 -18h1m-7 15h1m1 -15h1m-2 5h1m-22 1h1m9 -5h1m5 -12h1m-18 7h1m31 8h1m-4 -6h1m-20 -1h1m7 1h1m14 -9h1m-14 2h1m-9 14h1m7 0h1m0 6h1m-8 0h1m1 -16h1m14 14h1m1 2h1m-5 -1h1m-27 -6h1m20 7h1m8 -9h1m-27 -10h1m22 10h1m-24 -14h1m15 14h1m-5 -12h1m3 12h1m8 2h1m-7 -9h1m-17 0h1m16 7h1m-12 0h1m4 -4h1m-14 3h1m31 -8h1m-20 11h1m-9 -7h1m3 5h1m20 10h1m-9 -10h1m-5 -14h1m-3 14h1m-13 -1h1m6 1h1m2 -15h1m0 -4h1m-5 13h1m3 6h1m7 0h1m-12 -8h1m-8 -9h1m4 6h1m4 13h1m11 2h1m-12 9h1m-4 -2h1m10 3h1m-10 -8h1m-9 4h1m-10 -16h1m12 6h1m3 3h1m-3 -2h1m-3 7h1m-1 -2h1m-7 0h1m4 -16h1m10 5h1m-7 2h1m2 8h1m-18 -14h1m29 11h1m-5 5h1m-10 9h1m-26 -2h1m14 -19h1m4 0h1m-12 -4h1m8 3h1m0 11h1m10 -13h1m-24 2h1m-3 1h1m13 16h1m8 -14h1m6 -18h1m-21 9h1m3 6h1m0 21h1m-14 -14h1m29 -3h1m-26 -7h1m4 11h1m-2 2h1m7 4h1m-17 -10h1m-17 -6h1m18 21h1m12 -13h1m-15 5h1m-17 -15h1m28 3h1m-19 5h1m12 2h1m43 6h1m-25 -9h1m26 21h1m-5 18h1m0 -63h1m-23 34h1" stroke="#000" stroke-width="1.0" fill="none" opacity="0.86"/>
<path d="M500 1844.5h1m-4 -6h1m12 11h1m11 -24h1m-18 1h1m-2 22h1m-6 -8h1m16 -2h1m-2 -4h1m-17 16h1m-5 -10h1m-2 -1h1m6 -7h1m6 12h1m-3 -4h1m-1 -10h1m-3 9h1m6 7h1m-6 -16h1m3 8h1m-1 2h1m1 4h1m-10 4h1m7 -4h1m-2 -2h1m-6 4h1m-13 0h1m10 -6h1m4 1h1m-6 2h1m1 -9h1m1 5h1m-6 7h1m0 -4h1m2 -17h1m7 5h1m-16 22h1m8 -10h1m3 -3h1m-14 10h1m15 -14h1m-15 10h1m1 -1h1m-1 -6h1m8 8h1m4 -4h1m-6 -2h1m6 -10h1m-1 15h1m-13 -18h1m6 4h1m-6 8h1m-5 -8h1m5 15h1m-15 7h1m9 -10h1m-2 -7h1m-6 11h1m5 -9h1m-7 -1h1m2 7h1m9 -10h1m-15 12h1m8 -14h1m-10 12h1m-7 4h1m8 -12h1m12 -4h1m-1 6h1m-10 9h1m-6 -7h1m13 -6h1m-22 0h1m14 4h1m-4 4h1m-1 -7h1m5 7h1m-10 -7h1m14 -5h1m-9 -1h1m-17 20h1m11 -13h1m7 2h1m-13 -3h1m10 5h1m-7 -2h1m-4 -8h1m2 12h1m1 3h1m2 -9h1m-3 0h1m5 0h1m-7 -3h1m-2 -3h1m-15 13h1m15 3h1m-4 -4h1m-3 3h1m-4 -8h1m19 -4h1m-12 4h1m-3 2h1m-10 -5h1m-5 17h1m14 -19h1m-12 22h1m5 -15h1m-5 0h1m-3 -12h1m4 12h1m4 -2h1m-17 10h1m14 -8h1m6 7h1m-17 -7h1m3 -2h1m8 8h1m-15 1h1m14 -8h1m-11 -6h1m0 10h1m-10 -8h1m1 2h1m8 3h1m-3 -4h1m5 7h1m-6 -7h1m-9 7h1m7 -1h1m6 2h1m-23 -4h1m11 5h1m-2 -3h1m7 -10h1m1 10h1m-8 -11h1m-4 4h1m3 5h1m-1 2h1m-4 2h1m-6 2h1m13 -3h1m-2 1h1m-10 -10h1m12 1h1m-14 6h1m-12 -7h1m14 3h1m-10 -1h1m1 12h1m5 -8h1m5 -7h1m-7 4h1m1 3h1m2 -1h1m-1 -5h1m2 3h1m-14 4h1m1 -3h1m-4 2h1m0 0h1m6 -7h1m-9 7h1m2 -10h1m4 16h1m-9 2h1m6 2h1m-8 -16h1m4 7h1m-7 -14h1m5 16h1m-6 -2h1m2 -13h1m-4 15h1m7 0h1m0 -8h1m-7 7h1m12 6h1m-15 -10h1m3 3h1m-5 7h1m12 -8h1m-6 11h1m-12 -14h1m2 11h1m6 -5h1m-12 8h1m8 1h1m-3 -11h1m-1 9h1m6 -9h1m-5 -12h1m-2 8h1m-19 12h1m16 -9h1m-5 5h1m1 -12h1m-6 7h1m9 12h1m-10 -16h1m11 2h1m-12 1h1m1 7h1m-1 -4h1m-4 1h1m-6 1h1m14 -4h1m-8 -6h1m6 13h1m-7 -9h1m-4 2h1m-4 2h1m4 -8h1m-2 5h1m-6 -2h1m19 0h1m-13 2h1m0 -4h1m3 -2h1m-15 12h1m12 -8h1m2 3h1m-9 -2h1m-1 15h1m8 -14h1m2 -5h1m1 12h1m-11 -9h1m-1 -4h1m-5 17h1m-1 -15h1m7 3h1m3 3h1m-13 2h1m-2 -8h1m8 1h1m-4 13h1m0 -7h1m-10 4h1m15 -7h1m-20 -1h1m8 -3h1m-7 -4h1m8 7h1m-8 2h1m0 2h1m4 4h1m-15 -5h1m11 1h1m-6 -3h1m-5 -9h1m-8 13h1m5 -12h1m17 15h1m-17 -6h1m-9 -4h1m-6 11h1m12 -10h1m-7 -15h1m22 17h1m-25 2h1m-5 -6h1m16 -7h1m2 3h1m-23 8h1m15 -6h1m-2 3h1m4 -8h1m-12 -5h1m-5 3h1m1 20h1m1 -16h1m-15 2h1m40 12h1m-28 -4h1m-1 -2h1m13 -4h1m-2 1h1m-24 10h1m24 -7h1m-28 3h1m4 -6h1m11 12h1m-24 -5h1m20 -9h1m-5 16h1m13 -6h1m-9 -4h1m-7 -4h1m4 7h1m-1 -10h1m-18 -6h1m11 -1h1m-3 11h1m-1 -4h1m22 12h1m-7 -1h1m-18 -1h1m28 -8h1m-24 18h1m15 -16h1m3 8h1m-25 -12h1m17 11h1m-23 -17h1m18 8h1m-17 -11h1m-6 9h1m28 1h1m-15 -2h1m14 -1h1m-17 -3h1m2 -7h1m-4 20h1m-6 -1h1m5 13h1m-7 -10h1m-8 -3h1m8 -3h1m-1 2h1m-12 -7h1m20 3h1m4 14h1m-10 -24h1m1 21h1m-3 3h1m-17 -20h1m1 5h1m15 8h1m-18 -15h1m-3 13h1m21 5h1m-21 -24h1m-1 16h1m-9 5h1m23 -6h1m4 2h1m-30 8h1m17 -2h1m-9 -15h1m13 8h1m-5 2h1m-13 -23h1m7 20h1m-3 -1h1m-8 2h1m14 -11h1m15 -7h1m-11 9h1m-2 -7h1m-17 21h1m-1 4h1m17 -15h1m-26 9h1m4 -10h1m0 -13h1m9 18h1m-15 -10h1m13 25h1m-10 -3h1m13 -12h1m-20 15h1m14 -33h1m-29 21h1m13 5h1m6 -2h1m-2 -15h1m-3 11h1m10 20h1m15 -20h1m-20 -15h1m7 14h1m-17 13h1m-2 -15h1m20 16h1m-20 -25h1m5 5h1m0 -2h1m5 14h1m7 1h1m-10 -3h1m-17 2h1m9 10h1m-18 -18h1m13 10h1m-3 -1h1m-7 -5h1m-4 2h1m12 1h1m5 4h1m-22 3h1m25 -3h1m-17 -14h1m-7 9h1m21 -7h1m1 -2h1m-11 6h1m-18 11h1m3 -9h1m9 -6h1m-8 10h1m20 -10h1m-3 8h1m-2 -5h1m0 19h1m-20 -15h1m-21 5h1m32 -6h1m-1 -6h1m-19 2h1m3 -9h1m11 4h1m-9 2h1m20 8h1m-25 -1h1m11 -11h1m-1 -2h1m-12 9h1m-9 0h1m16 18h1m9 -27h1m-12 24h1m-13 -1h1m19 -13h1m-9 0h1m-2 -6h1m-19 3h1m17 -2h1m-3 19h1m-16 -8h1m1 -8h1m10 10h1m0 -18h1m14 20h1m-14 1h1m7 -13h1m-16 1h1m16 3h1m-31 7h1m19 -7h1m0 3h1m2 2h1m-9 4h1m-10 6h1m3 -15h1m4 -3h1m19 5h1m-12 -10h1m-1 18h1m1 1h1m-3 -9h1m-4 -7h1m2 8h1m3 -7h1m-25 21h1m-10 -24h1m26 -8h1m1 13h1m-12 13h1m29 -7h1m-44 -2h1m30 -1h1m-18 -10h1m8 7h1m-6 0h1m-16 -8h1m23 6h1m8 3h1m-5 -8h1m-36 19h1m45 -1h1m-16 -22h1m-22 12h1m13 -4h1m-4 10h1m-20 -14h1m26 8h1m-10 4h1m12 -9h1m-14 -9h1m5 24h1m0 -3h1m-1 -8h1m-9 -13h1m-11 13h1m4 -8h1m2 7h1m-8 7h1m2 -1h1m25 -3h1m-26 -5h1m25 -10h1m-20 17h1m1 4h1m-12 -5h1m23 -15h1m2 12h1m-2 6h1m-23 -13h1m2 5h1m2 23h1m0 -12h1m-20 -2h1m5 12h1m7 -21h1m-3 -3h1m-1 4h1m15 -4h1m-14 21h1m-19 -8h1m25 -3h1m-5 -13h1m2 -9h1m-5 41h1m-7 -18h1m-5 5h1m11 -5h1m-3 -5h1m7 3h1m-18 -5h1m6 10h1m-6 -25h1m12 18h1m-1 -11h1m11 8h1m-11 1h1m-14 -6h1m10 10h1m-17 -13h1m29 23h1m-25 -9h1m3 1h1m-7 -5h1m9 6h1m-21 -11h1m34 9h1m-11 5h1m-15 7h1m-3 -30h1m1 8h1m0 9h1m-7 -6h1m-3 20h1m12 -27h1m4 14h1m-11 4h1m-2 -23h1m2 19h1m-5 2h1m-13 -2h1m0 -5h1m12 -7h1m-6 5h1m11 -4h1m-1 6h1m-16 -3h1m31 14h1m-28 -21h1m9 10h1m-3 -4h1m5 14h1m-17 -3h1m11 -19h1m-23 14h1m14 -10h1m-23 5h1m22 -6h1m-6 21h1m22 -11h1m-4 5h1m-17 -4h1m-7 -4h1m-7 22h1m17 -22h1m5 9h1m-2 -8h1m-8 5h1m-7 -13h1m4 -3h1m-8 15h1m2 -6h1m16 -8h1m-15 26h1m11 -14h1m5 11h1m-21 -5h1m-13 -14h1m12 -10h1m-25 40h1m26 -20h1m-10 -5h1m29 -3h1m-11 7h1m-21 7h1m6 -11h1m-2 -4h1m21 7h1m4 -4h1m-54 1h1m34 -4h1m0 23h1m-13 -18h1m8 10h1m0 -8h1m-6 15h1m0 -14h1m-3 0h1m-25 -14h1m22 9h1m10 3h1m-4 8h1m-5 -12h1m-25 11h1m16 -13h1m5 -3h1m-10 4h1m-14 0h1m17 11h1m2 8h1m10 -16h1m-9 10h1m-8 2h1m17 -14h1m-4 7h1m-17 -6h1m14 2h1m-12 17h1m-9 1h1m4 -5h1m5 -19h1m-32 18h1m27 -23h1m8 2h1m-11 30h1m-4 -12h1m20 -16h1m-4 18h1m-12 -13h1m8 -9h1m-8 10h1m6 2h1m-39 -11h1m30 11h1m-9 8h1m-2 -5h1m0 -12h1m-12 17h1m7 8h1m-5 -9h1m8 -2h1m0 -16h1m7 2h1m-14 14h1m-11 -19h1m12 15h1m-21 2h1m6 -10h1m34 6h1m-17 14h1m-5 -12h1m0 1h1m-6 7h1m24 -6h1m-13 -2h1m-3 15h1m-20 -15h1m1 -9h1m7 11h1m17 -16h1m-11 21h1m3 -22h1m-11 26h1m-3 -8h1m8 2h1m-27 -8h1m13 2h1m14 5h1m-4 -1h1m-2 -2h1m10 6h1m-26 -8h1m-3 6h1m12 -15h1m17 4h1m-31 2h1m12 17h1m-8 -26h1m6 7h1m7 3h1m-25 5h1m8 -2h1m-4 8h1m8 -7h1m-5 7h1m-18 -7h1m21 7h1m7 -10h1m-21 -7h1m31 14h1m-8 1h1m-23 -33h1m48 -1h1m-46 9h1m23 28h1m4 -45h1m-22 7h1m12 27h1" stroke="#000" stroke-width="1.0" fill="none" opacity="0.86"/>
<rect x="429" y="1811.4" width="97.3" height="65" fill="none" stroke="#000" stroke-width="2"/>
<text x="436.5" y="1867.6" font-size="17.8" textLength="38.6" lengthAdjust="spacingAndGlyphs" font-family="'DejaVu Sans', 'Liberation Sans', sans-serif">99.3</text>
<rect x="663.4" y="1686.2" width="206.7" height="201.3" fill="#fff" stroke="#000" stroke-width="1.1"/>
<path d="M663.4 1705.5h-5.4M663.4 1753.1h-5.4M663.4 1808.5h-5.4M663.4 1874.6h-5.4" stroke="#000" stroke-width="2.7" fill="none"/>
<rect x="657.8" y="1836" width="5.6" height="10" fill="#000"/>
<path d="M663.4 1791.8h-2.6M663.4 1782.1h-2.6M663.4 1775.1h-2.6M663.4 1765.4h-2.6M663.4 1761.7h-2.6M663.4 1758.5h-2.6M663.4 1755.6h-2.6M663.4 1738.8h-2.6M663.4 1730.4h-2.6M663.4 1724.4h-2.6M663.4 1716.1h-2.6M663.4 1712.9h-2.6M663.4 1710.1h-2.6M663.4 1707.7h-2.6M663.4 1691.2h-2.6M663.4 1832.1h-2.6M663.4 1828.1h-2.6M663.4 1820.3h-2.6M663.4 1816.4h-2.6M663.4 1812.4h-2.6M663.4 1850.1h-2.6M663.4 1854.2h-2.6M663.4 1862.3h-2.6M663.4 1866.4h-2.6M663.4 1870.5h-2.6M663.4 1882.1h-2.6M663.4 1886.5h-2.6" stroke="#000" stroke-width="1.3" fill="none"/>
<path d="M663.4 1769.8h-3.8M663.4 1719.8h-3.8M663.4 1824.2h-3.8M663.4 1858.3h-3.8" stroke="#000" stroke-width="2" fill="none"/>
<text x="653.8" y="1709.1" font-size="7.1" text-anchor="end" fill="#222">10<tspan dy="-4.2">5</tspan></text>
<text x="653.8" y="1756.7" font-size="7.1" text-anchor="end" fill="#222">10<tspan dy="-4.2">4</tspan></text>
<text x="653.8" y="1812.1" font-size="7.1" text-anchor="end" fill="#222">10<tspan dy="-4.2">3</tspan></text>
<text x="650.4" y="1843.8" font-size="7.1" text-anchor="end" fill="#222">0</text>
<text x="653.8" y="1878.2" font-size="7.1" text-anchor="end" fill="#222">-10<tspan dy="-4.2">3</tspan></text>
<rect x="694.7" y="1887.5" width="28" height="2.6" fill="#000"/>
<path d="M694.7 1887.5v5.3M708.7 1887.5v5.3M722.7 1887.5v5.3M776.1 1887.5v5.3M826.2 1887.5v5.3" stroke="#000" stroke-width="3.3" fill="none"/>
<path d="M760 1887.5v3.8M811.1 1887.5v3.8M861.2 1887.5v3.8" stroke="#000" stroke-width="2.3" fill="none"/>
<path d="M671.3 1887.5v2.3M679.9 1887.5v2.3M689.2 1887.5v2.3M738.8 1887.5v2.3M748.2 1887.5v2.3M754.9 1887.5v2.3M764.3 1887.5v2.3M767.8 1887.5v2.3M770.9 1887.5v2.3M773.7 1887.5v2.3M791.2 1887.5v2.3M800 1887.5v2.3M806.3 1887.5v2.3M815.1 1887.5v2.3M818.4 1887.5v2.3M821.3 1887.5v2.3M823.9 1887.5v2.3M841.3 1887.5v2.3M850.1 1887.5v2.3M856.4 1887.5v2.3M865.2 1887.5v2.3M868.5 1887.5v2.3" stroke="#000" stroke-width="1.4" fill="none"/>
<text x="713.7" y="1904.8" font-size="7.1" text-anchor="middle" fill="#222">0</text>
<text x="776.6" y="1905.3" font-size="7.1" fill="#222">10<tspan dy="-5" font-size="7.1">4</tspan></text>
<text x="826.3" y="1905.3" font-size="7.1" fill="#222">10<tspan dy="-5" font-size="7.1">5</tspan></text>
<path d="M753 1850.5h1m1 -26h1m-3 20h1m-7 -20h1m12 12h1m-21 9h1m3 19h1m11 -17h1m-8 10h1m-1 -15h1m-8 10h1m2 -12h1m-4 15h1m6 -13h1m13 -7h1m-14 -7h1m-6 11h1m-5 -4h1m21 5h1m-15 -2h1m-10 0h1m-1 -5h1m8 19h1m-3 3h1m7 -17h1m-5 -3h1m4 4h1m-13 11h1m-3 -9h1m-4 3h1m0 -3h1m1 1h1m16 -13h1m-14 11h1m-3 9h1m-5 3h1m10 -8h1m-10 -10h1m10 2h1m-20 11h1m10 -1h1m-12 0h1m22 -4h1m-12 -1h1m-1 -1h1m-3 0h1m8 -8h1m-17 14h1m16 -15h1m-22 5h1m20 11h1m-4 1h1m-12 -20h1m12 5h1m2 13h1m-22 -8h1m6 -7h1m-4 17h1m-1 -5h1m12 -4h1m0 6h1m2 -1h1m-13 -11h1m6 12h1m-14 -4h1m7 0h1m13 -2h1m-11 -4h1m-11 -1h1m-3 5h1m4 7h1m1 -13h1m7 10h1m-11 -1h1m-4 16h1m5 -7h1m7 -7h1m-11 2h1m9 -19h1m-11 8h1m-9 5h1m21 0h1m-9 2h1m-20 5h1m23 -3h1m-8 -24h1m7 16h1m-7 -6h1m-6 17h1m-3 19h1m2 -22h1m-9 8h1m2 -7h1m-1 -5h1m-5 2h1m12 -3h1m-6 -1h1m2 -6h1m-6 9h1m8 7h1m3 -5h1m-12 6h1m0 4h1m-1 -3h1m-3 -15h1m5 10h1m-11 12h1m8 -12h1m-3 11h1m-7 -21h1m-4 22h1m17 -10h1m-15 2h1m11 0h1m4 -13h1m-9 5h1m-11 -7h1m10 14h1m0 -15h1m-11 6h1m-1 -5h1m-4 9h1m8 4h1m-4 -7h1m-3 1h1m-4 7h1m17 -4h1m-13 2h1m-6 3h1m14 -7h1m-9 -1h1m-17 -14h1m28 14h1m-5 2h1m-14 0h1m0 -7h1m-3 -13h1m-8 30h1m6 -15h1m8 0h1m-1 -10h1m-4 2h1m-3 11h1m0 -3h1m4 12h1m-14 -14h1m-1 4h1m12 8h1m-13 -8h1m-8 -1h1m11 -12h1m2 20h1m-8 -3h1m0 0h1m-3 7h1m9 -12h1m-5 5h1m3 -11h1m-9 8h1m-2 3h1m-5 -3h1m4 13h1m-1 -16h1m3 0h1m-14 8h1m12 -11h1m-9 9h1m8 -7h1m3 3h1m-3 -1h1m1 13h1m-8 -8h1m0 -12h1m6 24h1m-11 -15h1m5 10h1m-14 -15h1m1 6h1m-1 7h1m4 5h1m-7 -15h1m-1 5h1m8 8h1m1 6h1m-3 -23h1m7 0h1m-18 8h1m7 -4h1m-3 14h1m13 -7h1m-14 -13h1m17 5h1m-20 -4h1m3 13h1m-5 -17h1m2 10h1m1 9h1m-2 -10h1m2 -3h1m-19 13h1m14 -8h1m0 -6h1m1 17h1m5 -5h1m-13 -12h1m1 -4h1m-2 10h1m9 11h1m-8 -18h1m-7 2h1m8 2h1m-13 -9h1m16 10h1m-4 8h1m-9 -8h1m-4 -2h1m-7 -3h1m11 10h1m1 2h1m14 -11h1m-20 15h1m-10 -6h1m7 0h1m4 -19h1m0 6h1m-4 11h1m6 -9h1m-12 5h1m2 12h1m-8 -17h1m13 -2h1m-19 12h1m5 -2h1m10 -10h1m-14 6h1m1 -11h1m2 12h1m-4 11h1m3 -16h1m4 17h1m2 -20h1m-6 3h1m-5 -8h1m3 22h1m-6 -2h1m-2 -10h1m2 8h1m3 -7h1m5 20h1m-6 -14h1m-1 7h1m-6 -23h1m-1 17h1m1 2h1m-6 17h1m-6 -10h1m-3 -14h1m17 9h1m-7 0h1m-4 -10h1m-4 6h1m2 -7h1m0 4h1m-5 9h1m-1 -15h1m11 8h1m-12 3h1m7 -10h1m-15 6h1m16 17h1m-10 -14h1m7 -11h1m-8 4h1m-4 1h1m1 -8h1m1 0h1m-1 10h1m4 4h1m0 1h1m3 -17h1m-9 17h1m3 -9h1m-8 5h1m7 10h1m-16 -11h1m4 -6h1m-15 32h1m22 -21h1m-2 2h1m-9 -16h1m-4 9h1m-11 14h1m15 -28h1m-3 10h1m2 9h1m10 -3h1m-6 -6h1m-20 12h1m4 -17h1m-3 10h1m-24 -16h1m40 7h1m-22 5h1m15 18h1m-32 -27h1m12 10h1m8 -5h1m-14 9h1m-6 14h1m9 -23h1m7 -20h1m-8 21h1m17 27h1m-17 -24h1m5 13h1m-7 -27h1m12 14h1m-1 -1h1m-7 -11h1m1 16h1m-32 2h1m19 -7h1m15 18h1m-6 -12h1m-5 -7h1m0 -3h1m15 1h1m-19 8h1m-7 -7h1m20 -5h1m-10 6h1m-17 -9h1m-1 8h1m20 6h1m-31 4h1m5 -14h1m9 10h1m23 -15h1m-36 1h1m28 18h1m-24 -11h1m-6 -8h1m1 14h1m16 -9h1m8 7h1m0 -2h1m-14 -4h1m-6 15h1m-1 -7h1m-3 -12h1m4 10h1m-1 11h1m19 -17h1m-36 4h1m27 -4h1m-12 -3h1m13 4h1m-18 1h1m-4 -6h1m-10 19h1m-2 -12h1m9 12h1m14 -12h1m-3 4h1m2 -4h1m-14 11h1m-10 -8h1m-10 -3h1m10 -8h1m-7 26h1m31 -15h1m-31 -1h1m7 -2h1m0 10h1m23 -17h1m-18 19h1m-4 -13h1m-6 8h1m-2 -29h1m-1 20h1m7 0h1m-11 -12h1m21 18h1m-1 -2h1m-24 7h1m0 -2h1m-4 -2h1m-13 1h1m28 -27h1m1 3h1m-13 21h1m20 -1h1m-11 1h1m-16 -11h1m5 -1h1m-14 11h1m11 -9h1m-5 0h1m5 -1h1m-5 8h1m22 10h1m-24 -24h1m17 29h1m-14 -1h1m-15 -11h1m33 -4h1m-34 12h1m4 5h1m-11 -13h1m37 0h1m-13 -19h1m-25 28h1m4 -5h1m10 -8h1m-18 -2h1m21 -2h1m-9 27h1m-5 -25h1m-3 2h1m4 19h1m0 -26h1m-14 6h1m14 3h1m-22 13h1m33 -11h1m-13 -6h1m-4 8h1m-25 -7h1m13 14h1m11 -8h1m0 0h1m11 -9h1m-11 8h1m9 -10h1m-31 8h1m19 -6h1m4 5h1m-8 11h1m-12 -8h1m16 7h1m-13 -14h1m-8 25h1m0 -12h1m13 -8h1m-1 -6h1m-10 -4h1m3 3h1m23 15h1m-27 -4h1m5 0h1m-2 -13h1m-9 21h1m11 -25h1m-21 14h1m17 -10h1m-22 4h1m18 4h1m-8 -3h1m9 16h1m6 -10h1m-8 1h1m-13 -1h1m4 2h1m-10 -17h1m19 27h1m-4 -22h1m-13 14h1m20 13h1m-1 -20h1m-22 8h1m13 -7h1m7 9h1m-12 -17h1m16 1h1m-26 -6h1m2 7h1m-6 6h1m20 1h1m-30 6h1m10 -4h1m-11 -16h1m13 9h1m2 8h1m1 -6h1m0 0h1m-33 -7h1m19 9h1m14 11h1m-4 -27h1m-39 10h1m48 17h1m-24 -16h1m14 25h1m6 -21h1m-5 -4h1m-18 -3h1m9 18h1m-3 14h1m-11 -28h1m-2 1h1m-1 -1h1m16 9h1m-8 -4h1m-9 11h1m11 -26h1m-1 19h1m-30 -5h1m25 2h1m-4 -3h1m-15 9h1m5 1h1m2 -14h1m6 14h1m10 -6h1m-14 -6h1m-3 -12h1m0 1h1m5 13h1m-11 23h1m-23 -34h1m15 21h1m-12 3h1m22 -6h1m-18 -11h1m-3 2h1m21 5h1m-16 -7h1m20 -17h1m4 22h1m-39 -2h1m13 -9h1m-8 21h1m16 -12h1m2 20h1m3 -16h1m-3 0h1m-10 9h1m-3 -1h1m-14 -2h1m6 4h1m-2 -14h1m29 12h1m-32 -12h1m8 6h1m-14 -13h1m8 -2h1m-4 25h1m9 -18h1m-6 -3h1m0 -8h1m19 23h1m-30 -6h1m10 -12h1m-30 5h1m25 5h1m-5 -3h1m5 10h1m25 7h1m-28 -4h1m12 -1h1m-19 1h1m2 -9h1m-6 4h1m-1 -16h1m13 6h1m-15 3h1m-5 -15h1m-2 33h1m19 -4h1m-24 7h1m-7 -25h1m9 1h1m3 -5h1m-1 10h1m0 -16h1m29 11h1m-26 6h1m-7 -6h1m2 10h1m-12 -17h1m36 15h1m-16 -1h1m3 2h1m-7 11h1m4 -9h1m-8 -3h1m-2 -20h1m-18 8h1m-1 18h1m5 -8h1m18 -13h1m-8 8h1m-11 3h1m16 14h1m13 5h1m-16 -2h1m-11 -25h1m-14 13h1m5 15h1m3 -22h1m3 -12h1m15 20h1m-38 -11h1m28 -4h1m-11 -3h1m-19 20h1m38 -11h1m-23 7h1m-10 9h1m15 -3h1m-4 -16h1m1 27h1m0 -17h1m-28 -9h1m24 17h1m-1 -19h1m11 0h1m-10 27h1m3 -24h1m-12 18h1m-4 -20h1m4 -5h1m7 21h1m-5 -20h1m2 14h1m3 -11h1m-18 14h1m-9 -1h1m-2 -5h1m-5 12h1m16 -13h1m4 19h1m-4 -4h1m8 -23h1m-24 4h1m17 20h1m-4 -23h1m-11 0h1m28 29h1m-22 -26h1m-9 17h1m16 14h1m13 -39h1m-20 26h1m-2 -14h1m-3 -5h1m22 9h1m-12 -6h1m-29 15h1m24 -15h1m-15 -6h1m9 23h1m-3 -19h1m-12 10h1m6 -13h1m2 15h1m12 11h1m-6 -6h1m6 -18h1m-20 9h1m-2 19h1m11 -13h1m-8 -6h1m1 6h1m2 -28h1m-14 16h1m0 1h1m15 -2h1m-23 8h1m9 -4h1m10 11h1m2 -19h1m5 -8h1m-28 14h1m5 -14h1m13 14h1m-28 -1h1m15 -2h1m9 15h1m-6 -10h1m-11 -11h1m18 16h1m-31 9h1m9 -16h1m4 9h1m-2 -2h1m-12 -9h1m22 -13h1m-27 26h1m36 4h1m-4 -15h1m4 -3h1m-16 3h1m-29 -7h1m25 17h1m9 -18h1m-10 11h1m2 -2h1m-25 18h1m13 -11h1m5 7h1m2 -19h1m-11 6h1m-13 4h1m28 -26h1m-6 21h1m-9 -4h1m-34 -2h1m14 21h1m-1 -24h1m37 3h1m-33 -5h1m-3 24h1m22 -4h1m-15 2h1m-11 -11h1m17 -9h1m-3 17h1m7 -3h1m-11 -14h1m3 -4h1m-7 32h1m23 -11h1m-21 -7h1m-11 -15h1m13 20h1m-24 -19h1m26 6h1m-5 11h1m-27 -2h1m6 7h1m3 -3h1m19 -9h1m-25 6h1m20 -1h1m-4 -12h1m-16 17h1m-5 -3h1m11 -8h1m-15 9h1m12 -5h1m16 -5h1m-5 18h1m-4 -7h1m-26 8h1m23 8h1m-10 -10h1m13 -16h1m-35 -4h1m32 -1h1m40 43h1m-6 -39h1m-39 -5h1m-2 -14h1m43 51h1m-19 -31h1m-28 -7h1" stroke="#000" stroke-width="1.0" fill="none" opacity="0.86"/>
<path d="M742 1840.5h1m20 -12h1m-21 15h1m8 5h1m-8 -6h1m2 -6h1m7 5h1m-22 10h1m12 -8h1m-14 13h1m18 -14h1m-13 -4h1m3 -1h1m0 15h1m1 -14h1m-22 10h1m19 -3h1m-1 -5h1m-2 7h1m3 -23h1m4 16h1m-13 1h1m5 1h1m-9 -2h1m5 11h1m-9 -5h1m10 4h1m-5 -11h1m-10 -5h1m7 13h1m2 7h1m-3 2h1m-1 -12h1m5 -13h1m-8 6h1m-3 -5h1m2 11h1m6 -8h1m-12 6h1m3 0h1m-6 -6h1m5 3h1m-9 -3h1m-4 12h1m19 5h1m-14 -28h1m3 14h1m-3 7h1m3 -4h1m-13 -10h1m11 16h1m5 -4h1m-9 -5h1m5 -1h1m0 23h1m-14 -18h1m0 1h1m4 3h1m3 -3h1m-5 -9h1m5 -4h1m-13 5h1m8 17h1m0 -20h1m-11 10h1m3 1h1m-2 -6h1m4 -7h1m-5 26h1m3 -20h1m7 11h1m-23 -9h1m8 -6h1m3 20h1m10 -25h1m-9 18h1m4 -9h1m-9 4h1m11 7h1m-22 0h1m11 -11h1m-11 -4h1m9 4h1m-3 15h1m-4 -15h1m4 -8h1m-16 10h1m8 -1h1m7 -8h1m-6 13h1m3 -4h1m-15 2h1m12 -1h1m-3 5h1m-6 -2h1m3 -3h1m-3 10h1m-6 -3h1m8 -7h1m-10 13h1m-5 4h1m5 -6h1m-6 -1h1m-2 -11h1m11 5h1m0 8h1m-4 -4h1m-5 -15h1m0 2h1m-1 9h1m-5 7h1m9 -15h1m-5 11h1m-16 -4h1m25 -8h1m0 3h1m-18 8h1m4 0h1m3 -9h1m-3 0h1m-4 8h1m2 -8h1m-1 -1h1m6 11h1m-24 0h1m7 0h1m1 -8h1m14 -5h1m-15 7h1m6 9h1m0 1h1m-10 -17h1m-8 11h1m6 -2h1m0 -3h1m-1 -8h1m0 22h1m6 -25h1m8 0h1m-11 2h1m-10 14h1m-7 -5h1m8 3h1m5 -5h1m-7 -3h1m8 3h1m-15 11h1m16 -14h1m-8 9h1m-1 -6h1m-15 8h1m1 -4h1m12 -6h1m-14 9h1m7 -3h1m-14 -4h1m14 8h1m3 -3h1m-10 16h1m1 -19h1m8 6h1m-17 -14h1m12 21h1m-9 -7h1m-6 -8h1m4 -1h1m2 1h1m-4 19h1m5 -16h1m7 3h1m-8 -2h1m-9 2h1m16 -7h1m-6 -2h1m-9 12h1m-4 8h1m13 -6h1m-10 5h1m-4 -14h1m10 2h1m-13 8h1m9 -5h1m-8 2h1m-9 8h1m7 -13h1m5 6h1m-10 11h1m8 -33h1m1 2h1m-8 28h1m7 -23h1m-18 4h1m0 6h1m13 -15h1m-15 14h1m-8 9h1m17 -7h1m-1 -16h1m1 10h1m-15 2h1m7 6h1m8 -8h1m-13 13h1m4 -19h1m1 15h1m-2 -1h1m3 -2h1m-1 7h1m-26 -13h1m22 2h1m-10 6h1m2 -8h1m-11 5h1m13 -15h1m-8 15h1m-4 3h1m5 2h1m8 -22h1m1 6h1m-11 13h1m4 -3h1m-4 3h1m-1 -1h1m8 0h1m-15 12h1m6 -16h1m-2 3h1m-8 -11h1m6 25h1m-5 -17h1m-8 2h1m3 -1h1m11 0h1m-7 10h1m-10 -6h1m-4 -3h1m9 7h1m-6 21h1m0 -45h1m9 14h1m-8 7h1m-4 4h1m12 -16h1m-6 8h1m-8 1h1m3 11h1m4 -24h1m-7 24h1m-5 -20h1m-12 20h1m29 -4h1m-16 -13h1m-3 4h1m11 -7h1m-9 11h1m6 4h1m-11 -5h1m-10 -1h1m12 14h1m-4 -17h1m0 -11h1m7 15h1m-3 -17h1m-16 1h1m8 5h1m-6 13h1m0 9h1m4 -17h1m-1 -4h1m-9 2h1m0 3h1m5 -7h1m6 9h1m-1 7h1m-9 3h1m2 -11h1m-9 -4h1m-2 -7h1m6 9h1m-4 9h1m-7 2h1m13 -10h1m-8 4h1m4 3h1m-2 -4h1m2 4h1m-3 -3h1m5 -6h1m-21 23h1m9 -9h1m-3 -10h1m-4 7h1m4 -14h1m-1 7h1m-6 12h1m17 -2h1m-6 -26h1m2 19h1m-10 0h1m-4 -6h1m-6 18h1m-11 -15h1m17 0h1m-22 12h1m26 -26h1m-23 7h1m1 -4h1m28 3h1m-11 1h1m-11 -8h1m-15 0h1m7 12h1m-2 3h1m-3 -8h1m7 3h1m-14 2h1m1 -2h1m19 -14h1m-32 15h1m32 1h1m-4 -5h1m-10 -8h1m5 14h1m-5 -11h1m-3 18h1m-12 -28h1m21 23h1m-12 12h1m-2 -12h1m-27 0h1m25 3h1m-19 -9h1m5 -19h1m23 34h1m-25 -35h1m30 19h1m-16 1h1m-18 -19h1m6 17h1m0 6h1m3 18h1m5 -30h1m-17 24h1m9 -21h1m2 -2h1m-10 24h1m16 -21h1m-23 4h1m0 -10h1m12 11h1m-15 -3h1m14 4h1m10 6h1m-7 -18h1m-4 9h1m11 -5h1m-27 16h1m-5 -11h1m-1 -7h1m21 5h1m-5 -2h1m-9 2h1m1 -5h1m-4 8h1m1 3h1m-2 -6h1m-12 -1h1m10 3h1m4 -20h1m-1 37h1m-14 -10h1m12 11h1m-6 8h1m-7 -28h1m14 10h1m-10 10h1m7 -14h1m-15 3h1m19 -5h1m-28 -12h1m27 32h1m1 -13h1m-12 -14h1m11 8h1m-5 -24h1m-1 24h1m-16 -28h1m-6 34h1m9 -22h1m11 12h1m-23 2h1m0 24h1m11 -37h1m12 25h1m-35 -17h1m-1 9h1m18 -12h1m17 -4h1m-27 23h1m-18 -15h1m-10 -9h1m32 5h1m10 -1h1m-23 10h1m24 -1h1m-8 17h1m-24 -21h1m2 19h1m20 -13h1m-25 -2h1m-9 21h1m27 -27h1m-12 17h1m24 -10h1m-25 17h1m-3 -16h1m-1 -8h1m16 8h1m-20 -2h1m-3 15h1m30 -9h1m-26 -16h1m19 9h1m-4 -5h1m-24 15h1m15 -14h1m1 12h1m-4 2h1m-14 5h1m-6 -20h1m12 5h1m6 12h1m-19 7h1m2 -26h1m-2 10h1m-4 8h1m3 -4h1m10 -10h1m-19 -2h1m21 21h1m-6 -5h1m11 -21h1m-10 24h1m-10 -7h1m1 -4h1m8 -15h1m-7 28h1m-3 -24h1m-16 5h1m12 -4h1m25 8h1m-32 -4h1m12 -1h1m-6 6h1m12 18h1m-14 -31h1m-3 19h1m8 -4h1m-18 2h1m10 1h1m-6 0h1m2 -24h1m6 19h1m-28 3h1m40 -14h1m-40 11h1m26 2h1m-11 8h1m-2 -7h1m14 -5h1m10 9h1m-30 -11h1m20 4h1m-26 12h1m26 -9h1m-13 0h1m2 -10h1m-14 11h1m20 -19h1m-24 3h1m13 0h1m8 8h1m-21 -2h1m-8 8h1m25 -11h1m-2 -1h1m-11 25h1m-10 -6h1m5 -19h1m12 5h1m-9 7h1m-5 -16h1m14 15h1m-36 3h1m27 2h1m-4 5h1m7 -1h1m-3 0h1m-22 -18h1m-11 12h1m8 15h1m-2 -19h1m17 -8h1m-4 10h1m-2 7h1m-21 -10h1m30 2h1m-17 -5h1m23 16h1m-27 -14h1m2 -14h1m-22 22h1m-4 -27h1m12 25h1m4 -8h1m1 8h1m-12 -9h1m8 -11h1m-4 40h1m23 -35h1m-31 3h1m18 21h1m-4 -9h1m-15 8h1m21 -6h1m-5 -9h1m-15 -14h1m20 16h1m-13 11h1m18 3h1m-27 -7h1m-8 1h1m39 -3h1m-32 1h1m3 -6h1m14 -9h1m-28 19h1m6 -8h1m3 0h1m4 10h1m6 9h1m1 -12h1m-27 -22h1m21 35h1m-15 -14h1m12 -9h1m3 -3h1m-17 -1h1m9 14h1m5 -12h1m-11 21h1m7 -15h1m5 -13h1m-4 12h1m-7 -4h1m-14 12h1m0 -20h1m12 16h1m-29 -3h1m16 -6h1m18 -6h1m-27 25h1m9 -16h1m10 9h1m-19 -9h1m-5 21h1m6 -9h1m-5 1h1m7 11h1m-7 -26h1m1 -13h1m18 32h1m-20 1h1m23 -17h1m-22 -8h1m-3 0h1m20 -3h1m-16 10h1m-9 -4h1m2 9h1m-8 -1h1m33 -2h1m-37 2h1m-7 -24h1m25 27h1m-5 -13h1m-3 6h1m-11 -8h1m-1 8h1m14 16h1m4 -13h1m-28 -2h1m32 3h1m-34 -4h1m15 -18h1m-12 31h1m21 -14h1m1 20h1m-10 -13h1m-11 -2h1m3 -7h1m16 13h1m-9 -21h1m-9 16h1m-8 -12h1m3 13h1m28 -22h1m-38 19h1m11 26h1m3 -33h1m-15 12h1m32 -14h1m-40 14h1m31 -7h1m-7 5h1m-5 7h1m2 -4h1m-20 -2h1m-19 4h1m22 -16h1m11 -4h1m-11 2h1m2 11h1m-17 0h1m15 -5h1m20 -1h1m-38 11h1m33 -8h1m-32 1h1m26 -1h1m-37 -8h1m21 25h1m0 -19h1m-1 12h1m0 -6h1m-17 7h1m8 -13h1m6 18h1m-25 -22h1m20 -7h1m1 -1h1m8 9h1m-14 11h1m7 1h1m-14 -13h1m0 8h1m1 5h1m-1 -7h1m13 -15h1m-4 18h1m-18 10h1m5 -9h1m10 -19h1m-5 21h1m-12 -9h1m9 -7h1m3 17h1m-5 -8h1m4 -7h1m-8 29h1m12 -39h1m-8 12h1m-19 4h1m8 -2h1m-1 8h1m16 7h1m-13 6h1m-8 -20h1m1 17h1m11 -6h1m-21 -15h1m12 3h1m-18 -5h1m22 20h1m2 -17h1m0 8h1m-11 1h1m6 -12h1m-8 3h1m7 18h1m-3 -14h1m-14 11h1m2 7h1m9 -19h1m-13 -11h1m-3 10h1m10 5h1m2 4h1m-17 19h1m22 -18h1m-6 -10h1m-12 22h1m-13 -6h1m3 -7h1m15 -10h1m-15 2h1m20 -18h1m-3 18h1m-5 -10h1m-4 21h1m-7 -1h1m3 -6h1m-5 -1h1m-6 -1h1m16 -19h1m-21 18h1m11 14h1m-3 -10h1m10 6h1m-18 5h1m-3 -16h1m1 -10h1m1 20h1m8 1h1m-30 7h1m13 -7h1m0 -8h1m16 5h1m-13 -6h1m-5 -5h1m17 16h1m-16 -4h1m10 0h1m-16 1h1m17 -7h1m-1 1h1m-3 5h1m-11 -3h1m0 -4h1m10 2h1m-11 -15h1m-8 7h1m-6 0h1m5 -4h1m-22 13h1m25 5h1m-6 -3h1m19 6h1m-14 -6h1m-13 4h1m23 -3h1m-20 -1h1m7 -13h1m-6 -7h1m2 18h1m-1 -5h1m-2 4h1m1 3h1m-5 -22h1m53 56h1m-29 -25h1m25 11h1m-15 -51h1m-36 60h1m23 -13h1m0 -50h1" stroke="#000" stroke-width="1.0" fill="none" opacity="0.86"/>
<rect x="670.8" y="1811.4" width="96" height="65" fill="none" stroke="#000" stroke-width="2"/>
<text x="677.4" y="1867.6" font-size="17.8" textLength="39" lengthAdjust="spacingAndGlyphs" font-family="'DejaVu Sans', 'Liberation Sans', sans-serif">98.9</text>
<rect x="904.6" y="1686.2" width="206.7" height="201.3" fill="#fff" stroke="#000" stroke-width="1.1"/>
<path d="M904.6 1705.5h-5.4M904.6 1753.1h-5.4M904.6 1808.5h-5.4M904.6 1874.6h-5.4" stroke="#000" stroke-width="2.7" fill="none"/>
<rect x="899" y="1836" width="5.6" height="10" fill="#000"/>
<path d="M904.6 1791.8h-2.6M904.6 1782.1h-2.6M904.6 1775.1h-2.6M904.6 1765.4h-2.6M904.6 1761.7h-2.6M904.6 1758.5h-2.6M904.6 1755.6h-2.6M904.6 1738.8h-2.6M904.6 1730.4h-2.6M904.6 1724.4h-2.6M904.6 1716.1h-2.6M904.6 1712.9h-2.6M904.6 1710.1h-2.6M904.6 1707.7h-2.6M904.6 1691.2h-2.6M904.6 1832.1h-2.6M904.6 1828.1h-2.6M904.6 1820.3h-2.6M904.6 1816.4h-2.6M904.6 1812.4h-2.6M904.6 1850.1h-2.6M904.6 1854.2h-2.6M904.6 1862.3h-2.6M904.6 1866.4h-2.6M904.6 1870.5h-2.6M904.6 1882.1h-2.6M904.6 1886.5h-2.6" stroke="#000" stroke-width="1.3" fill="none"/>
<path d="M904.6 1769.8h-3.8M904.6 1719.8h-3.8M904.6 1824.2h-3.8M904.6 1858.3h-3.8" stroke="#000" stroke-width="2" fill="none"/>
<text x="895" y="1709.1" font-size="7.1" text-anchor="end" fill="#222">10<tspan dy="-4.2">5</tspan></text>
<text x="895" y="1756.7" font-size="7.1" text-anchor="end" fill="#222">10<tspan dy="-4.2">4</tspan></text>
<text x="895" y="1812.1" font-size="7.1" text-anchor="end" fill="#222">10<tspan dy="-4.2">3</tspan></text>
<text x="891.6" y="1843.8" font-size="7.1" text-anchor="end" fill="#222">0</text>
<text x="895" y="1878.2" font-size="7.1" text-anchor="end" fill="#222">-10<tspan dy="-4.2">3</tspan></text>
<rect x="935.9" y="1887.5" width="28" height="2.6" fill="#000"/>
<path d="M935.9 1887.5v5.3M949.9 1887.5v5.3M963.9 1887.5v5.3M1017.3 1887.5v5.3M1067.4 1887.5v5.3" stroke="#000" stroke-width="3.3" fill="none"/>
<path d="M1001.2 1887.5v3.8M1052.3 1887.5v3.8M1102.4 1887.5v3.8" stroke="#000" stroke-width="2.3" fill="none"/>
<path d="M912.5 1887.5v2.3M921.1 1887.5v2.3M930.4 1887.5v2.3M980 1887.5v2.3M989.4 1887.5v2.3M996.1 1887.5v2.3M1005.5 1887.5v2.3M1009 1887.5v2.3M1012.1 1887.5v2.3M1014.9 1887.5v2.3M1032.4 1887.5v2.3M1041.2 1887.5v2.3M1047.5 1887.5v2.3M1056.3 1887.5v2.3M1059.6 1887.5v2.3M1062.5 1887.5v2.3M1065.1 1887.5v2.3M1082.5 1887.5v2.3M1091.3 1887.5v2.3M1097.6 1887.5v2.3M1106.4 1887.5v2.3M1109.7 1887.5v2.3" stroke="#000" stroke-width="1.4" fill="none"/>
<text x="954.9" y="1904.8" font-size="7.1" text-anchor="middle" fill="#222">0</text>
<text x="1017.8" y="1905.3" font-size="7.1" fill="#222">10<tspan dy="-5" font-size="7.1">4</tspan></text>
<text x="1067.5" y="1905.3" font-size="7.1" fill="#222">10<tspan dy="-5" font-size="7.1">5</tspan></text>
<path d="M988 1846.5h1m12 -21h1m-6 19h1m-2 1h1m-2 4h1m-8 -16h1m5 -11h1m4 3h1m8 14h1m-15 -7h1m-1 -3h1m3 -4h1m0 24h1m-18 -27h1m5 9h1m9 -9h1m-10 15h1m14 -7h1m0 9h1m-5 -1h1m-8 -15h1m0 25h1m-7 -12h1m0 10h1m9 -17h1m-11 9h1m-1 3h1m2 -11h1m-16 15h1m25 -12h1m-10 7h1m4 1h1m-11 5h1m2 -8h1m2 -6h1m-7 12h1m-3 2h1m3 -11h1m5 9h1m-13 -7h1m8 0h1m-6 5h1m7 -22h1m-7 17h1m15 -4h1m-6 11h1m-5 3h1m-1 -19h1m-4 2h1m-7 8h1m3 3h1m-11 -9h1m23 -3h1m-10 -4h1m-8 2h1m10 -11h1m1 19h1m-14 2h1m2 5h1m4 -6h1m-8 9h1m-6 0h1m0 0h1m7 -13h1m1 7h1m-7 7h1m7 -4h1m-5 4h1m-4 1h1m6 -13h1m-9 11h1m1 -16h1m-3 -2h1m3 9h1m-11 8h1m11 11h1m-7 -21h1m3 -11h1m-9 19h1m11 -1h1m1 -9h1m-21 -1h1m12 15h1m-2 -4h1m-7 -2h1m4 -10h1m10 -3h1m-2 0h1m-14 7h1m10 13h1m-17 -5h1m-7 -7h1m-4 6h1m15 -8h1m-18 6h1m25 -11h1m-11 30h1m-6 -22h1m7 -10h1m1 7h1m1 -2h1m-6 13h1m-1 -8h1m0 8h1m3 -28h1m-23 35h1m19 -11h1m8 1h1m-7 0h1m-2 -1h1m-17 -3h1m9 -3h1m-3 2h1m5 -3h1m-11 7h1m6 -7h1m-4 4h1m2 -8h1m6 1h1m-17 -8h1m10 10h1m-13 -2h1m14 16h1m-6 -2h1m-2 -10h1m7 -5h1m-8 -4h1m-3 -4h1m-9 22h1m11 -2h1m2 -11h1m2 18h1m-10 -10h1m5 -9h1m1 -4h1m-9 1h1m9 1h1m-11 17h1m1 7h1m-4 -3h1m-2 -26h1m5 23h1m2 -8h1m-2 11h1m-2 -13h1m-4 -2h1m4 0h1m1 -2h1m1 9h1m-4 -12h1m-9 6h1m5 13h1m-7 3h1m-2 -16h1m-2 2h1m8 -2h1m4 4h1m1 -1h1m-10 18h1m5 -22h1m-17 -3h1m6 5h1m-4 -1h1m4 -16h1m-10 30h1m1 -2h1m2 -2h1m3 -5h1m-8 -14h1m3 11h1m-1 14h1m-2 -19h1m3 6h1m-9 -15h1m9 4h1m-5 13h1m-3 7h1m10 -20h1m-10 13h1m0 -3h1m-1 -3h1m-6 9h1m1 -2h1m2 -5h1m-3 10h1m4 -4h1m-16 -7h1m19 -5h1m-17 9h1m-1 -4h1m8 5h1m4 -5h1m-13 2h1m-5 8h1m1 -6h1m8 6h1m-3 -15h1m6 15h1m-11 -11h1m3 -8h1m9 15h1m-20 4h1m11 -11h1m-7 6h1m-1 -3h1m1 -5h1m-6 4h1m4 5h1m-7 -1h1m3 -14h1m-3 11h1m-2 2h1m-5 7h1m7 -3h1m-4 -12h1m7 -1h1m-6 24h1m-10 -18h1m14 -1h1m0 -13h1m-4 13h1m-6 10h1m6 -7h1m-19 3h1m16 -12h1m-16 2h1m10 -4h1m-9 8h1m17 8h1m-17 7h1m1 -12h1m-2 6h1m10 -14h1m1 2h1m-3 15h1m-3 -1h1m2 -10h1m-12 -16h1m5 21h1m-3 8h1m-5 -9h1m12 -4h1m-4 -7h1m-12 12h1m6 0h1m-6 -7h1m-8 5h1m9 0h1m-2 1h1m-12 1h1m12 12h1m4 -20h1m2 -11h1m-9 15h1m9 -15h1m-13 20h1m5 -8h1m-2 -14h1m-19 17h1m15 9h1m0 -23h1m-7 6h1m15 -10h1m-26 15h1m10 17h1m2 -12h1m-5 1h1m-4 0h1m6 -11h1m-3 14h1m2 -9h1m-2 10h1m-6 -9h1m0 12h1m-1 7h1m-2 -11h1m-7 -21h1m18 17h1m-17 -11h1m10 4h1m0 -5h1m-3 8h1m-1 6h1m-10 14h1m-3 -5h1m11 -11h1m-17 5h1m9 -5h1m13 -7h1m-13 1h1m6 9h1m-1 -2h1m5 6h1m-12 1h1m-3 -7h1m-2 -4h1m-5 0h1m-3 -8h1m-2 -10h1m3 24h1m4 -1h1m-22 -3h1m19 3h1m-10 -1h1m12 -5h1m-16 -7h1m11 12h1m-11 4h1m1 -10h1m9 3h1m-8 -8h1m3 36h1m-9 -29h1m-6 10h1m7 -7h1m2 -2h1m3 0h1m-5 3h1m6 3h1m-8 -7h1m7 -7h1m-7 22h1m-1 -15h1m-13 -1h1m11 2h1m-5 2h1m5 -7h1m-12 -1h1m1 25h1m-3 -37h1m13 14h1m-17 -6h1m13 5h1m-9 0h1m-9 20h1m10 -16h1m2 1h1m6 12h1m-11 -7h1m2 4h1m-1 -5h1m-5 1h1m-7 6h1m6 -16h1m4 1h1m-3 17h1m-13 -3h1m7 -14h1m-8 12h1m5 -8h1m-16 -8h1m-18 3h1m13 4h1m2 -5h1m19 -2h1m-24 3h1m2 -5h1m10 7h1m-12 -4h1m-5 10h1m10 -7h1m27 -2h1m-30 18h1m12 -7h1m-8 -3h1m15 -21h1m-40 8h1m-3 -6h1m-4 7h1m21 10h1m9 -5h1m-4 13h1m-10 -15h1m-11 3h1m-7 6h1m20 -8h1m11 -2h1m6 16h1m-18 -21h1m-14 9h1m-5 -3h1m21 7h1m-15 -5h1m28 -8h1m-26 6h1m7 4h1m11 -8h1m-5 8h1m-1 -8h1m-20 3h1m-12 -1h1m23 6h1m9 5h1m-16 -12h1m1 0h1m-5 14h1m14 -10h1m-31 -5h1m25 4h1m-19 13h1m11 -5h1m4 4h1m-17 3h1m18 -6h1m-40 -16h1m5 8h1m7 11h1m1 -15h1m-4 10h1m-6 -19h1m0 12h1m26 4h1m3 -8h1m-15 2h1m-19 9h1m9 -8h1m-4 2h1m9 7h1m-5 -1h1m22 7h1m-32 -7h1m12 17h1m-13 -5h1m0 -20h1m16 9h1m5 -4h1m-17 -7h1m9 0h1m-7 11h1m-11 2h1m27 4h1m-13 4h1m-11 -26h1m-3 17h1m-11 5h1m1 -21h1m29 -5h1m-17 19h1m10 -20h1m-32 15h1m26 8h1m-19 -9h1m7 -10h1m-14 14h1m34 -18h1m-23 20h1m2 -20h1m-4 19h1m18 -19h1m-20 4h1m5 0h1m-4 -1h1m-23 3h1m27 9h1m-11 5h1m17 -25h1m-5 25h1m3 2h1m-11 9h1m-18 -13h1m27 4h1m-29 1h1m9 -11h1m0 2h1m3 -4h1m17 -2h1m-29 11h1m23 -1h1m-27 -1h1m4 -9h1m7 3h1m-2 4h1m-26 -12h1m2 5h1m15 -3h1m-31 0h1m30 5h1m4 8h1m-3 -19h1m4 15h1m-9 18h1m-6 -4h1m-1 -13h1m6 -3h1m4 -9h1m-5 24h1m0 -20h1m10 11h1m-5 -13h1m-17 14h1m-3 -16h1m3 20h1m8 8h1m15 -30h1m-22 2h1m23 4h1m-36 7h1m7 -1h1m-18 -1h1m34 23h1m1 -14h1m-24 1h1m-7 -7h1m16 8h1m-18 -19h1m4 8h1m23 -16h1m-25 16h1m5 15h1m6 -7h1m-1 -1h1m-2 -16h1m11 23h1m-8 -13h1m-24 -1h1m7 3h1m-12 8h1m9 19h1m-1 -31h1m10 9h1m12 3h1m-16 -7h1m3 0h1m-11 6h1m-2 -10h1m15 32h1m-35 -46h1m13 5h1m9 10h1m15 -6h1m-28 3h1m3 8h1m10 -5h1m-5 -10h1m0 7h1m-23 -6h1m18 6h1m-14 0h1m16 12h1m-30 -6h1m37 4h1m-9 5h1m-8 -1h1m5 -20h1m-12 4h1m12 13h1m0 8h1m-14 -22h1m-21 23h1m3 -33h1m31 1h1m-14 27h1m14 -15h1m-15 7h1m-11 0h1m9 4h1m-17 -8h1m31 12h1m-29 -3h1m-2 -21h1m11 15h1m0 -5h1m3 -10h1m-17 10h1m7 10h1m-1 -18h1m-14 5h1m-3 7h1m33 0h1m-6 -8h1m-21 17h1m8 -8h1m10 -1h1m-14 3h1m-4 -4h1m-15 3h1m41 7h1m-15 -12h1m-10 2h1m26 -5h1m-29 2h1m8 -12h1m-19 28h1m-19 -1h1m27 -23h1m4 21h1m-16 -20h1m12 25h1m-4 -21h1m-10 15h1m30 -6h1m-20 1h1m7 -15h1m-13 5h1m0 7h1m14 8h1m-12 -23h1m14 15h1m-15 10h1m-3 3h1m19 -8h1m2 -3h1m-30 16h1m19 -33h1m-14 21h1m-3 -2h1m1 9h1m-3 -24h1m2 8h1m-8 -1h1m3 -1h1m-3 15h1m16 1h1m-2 -13h1m-16 11h1m15 2h1m-17 -11h1m0 -9h1m4 7h1m-7 -3h1m10 -12h1m-12 26h1m-6 -13h1m23 3h1m-4 1h1m-21 0h1m5 -5h1m-24 9h1m32 -18h1m-11 16h1m5 -6h1m-12 -9h1m25 15h1m-18 10h1m1 -7h1m12 9h1m-20 -10h1m-4 -10h1m-6 -1h1m15 5h1m-11 3h1m8 18h1m-4 -26h1m7 1h1m-26 5h1m4 -2h1m23 2h1m-28 -4h1m29 14h1m-9 -11h1m-6 -12h1m-2 2h1m-22 -1h1m20 19h1m11 -2h1m-20 9h1m2 -8h1m15 -12h1m-15 19h1m3 -15h1m-25 17h1m6 -2h1m5 -10h1m-3 14h1m5 -11h1m3 7h1m-8 -21h1m9 16h1m-14 -10h1m7 13h1m2 9h1m-13 -21h1m20 4h1m-28 4h1m7 -9h1m27 -4h1m-26 9h1m25 2h1m-18 -5h1m-11 10h1m0 -6h1m-2 -1h1m-3 6h1m11 -5h1m-6 -8h1m-6 0h1m-16 9h1m8 -14h1m17 20h1m-15 -18h1m1 21h1m22 -13h1m1 -11h1m-20 15h1m9 1h1m4 1h1m-34 4h1m23 -9h1m-20 -4h1m31 3h1m-25 -3h1m9 3h1m-20 -8h1m-8 14h1m2 -6h1m35 6h1m-19 -11h1m10 2h1m-7 15h1m13 -2h1m-20 7h1m-7 -9h1m-6 -9h1m6 26h1m-4 -41h1m-14 45h1m31 -28h1m-26 5h1m-7 -9h1m15 15h1m-13 -4h1m31 8h1m-15 -22h1m5 16h1m15 -11h1m-33 -5h1m11 23h1m-3 -34h1m-8 19h1m13 -7h1m-15 7h1m9 0h1m-9 0h1m16 17h1m-12 -29h1m-14 4h1m24 16h1m-22 -9h1m11 -2h1m-9 1h1m-3 -9h1m9 18h1m-25 -10h1m1 1h1m13 2h1m-4 -7h1m11 1h1m-3 7h1m5 -15h1m8 8h1m-15 16h1m1 -6h1m-28 -2h1m9 0h1m7 3h1m8 1h1m4 0h1m-2 7h1m-22 -14h1m22 11h1m0 -7h1m-40 17h1m41 -23h1m-19 -7h1m-15 -5h1m-2 23h1m13 -10h1m9 15h1m-6 -16h1m-16 4h1m5 5h1m-11 -21h1m14 23h1m-9 -27h1m6 4h1m9 11h1m-34 -5h1m-2 9h1m30 4h1m-33 -8h1m10 2h1m14 8h1m-8 -14h1m11 5h1m1 2h1m-21 -15h1m13 21h1m-4 3h1m3 11h1m-17 -14h1m10 -8h1m7 2h1m-33 -5h1m31 -11h1m-27 22h1m18 -21h1m-3 27h1m-5 -10h1m-3 9h1m4 -6h1m2 -21h1m0 20h1m7 1h1m-27 -10h1m15 9h1m4 -4h1m5 -6h1m-22 -21h1m2 36h1m7 -7h1m9 -3h1m-12 1h1m-10 -1h1m12 11h1m13 -11h1m-24 -9h1m8 20h1m10 -13h1m-25 -8h1m-13 -3h1m15 27h1m10 -27h1m-23 16h1m24 6h1m-24 3h1m30 -4h1m-26 -22h1m11 13h1m-14 0h1m6 5h1m7 -1h1m-30 -2h1m31 -1h1m-21 -6h1m33 3h1m-38 5h1m1 -8h1m18 20h1m5 -9h1m6 -2h1m-24 3h1m7 -16h1m-5 19h1m-1 -2h1m-14 -13h1m-12 11h1m45 -2h1m-16 -13h1m-14 18h1m-7 -5h1m58 9h1m-4 -28h1m-12 26h1m-4 -20h1m5 -19h1m-6 49h1m9 -53h1" stroke="#000" stroke-width="1.0" fill="none" opacity="0.86"/>
<path d="M994 1842.5h1m8 -13h1m-5 -6h1m-7 12h1m-4 -6h1m1 10h1m-9 4h1m14 -27h1m-16 25h1m6 -6h1m-2 6h1m0 8h1m-7 -20h1m5 -1h1m0 15h1m10 -11h1m-13 -7h1m-2 16h1m-3 -1h1m8 -8h1m-9 -4h1m-10 -1h1m20 2h1m-6 11h1m-2 -9h1m0 -6h1m-2 16h1m2 -1h1m-10 2h1m-2 -3h1m-4 0h1m11 6h1m-3 -17h1m0 19h1m10 -15h1m-17 -2h1m-5 8h1m1 0h1m1 -11h1m-13 22h1m5 -17h1m5 9h1m0 5h1m0 -20h1m3 6h1m3 11h1m-6 -6h1m-19 8h1m13 -16h1m1 14h1m3 -13h1m-7 2h1m3 -2h1m2 7h1m4 -7h1m-19 21h1m13 -11h1m-14 -14h1m7 0h1m2 7h1m3 -8h1m-7 11h1m-2 2h1m0 -1h1m-11 -6h1m3 15h1m16 -12h1m-12 10h1m-1 -23h1m-9 13h1m7 1h1m-7 -2h1m0 11h1m4 -10h1m10 4h1m-22 3h1m-3 -4h1m7 -5h1m10 6h1m-11 3h1m-1 -16h1m5 13h1m-17 10h1m18 -19h1m-10 3h1m0 1h1m2 3h1m-7 14h1m-1 -21h1m1 1h1m-4 11h1m6 -2h1m-4 -3h1m-1 4h1m4 -6h1m5 8h1m-4 5h1m-7 -3h1m4 -10h1m-9 -9h1m-11 16h1m15 -15h1m-6 2h1m6 19h1m-10 -15h1m6 3h1m-8 12h1m-3 -8h1m-2 5h1m1 -8h1m-1 -2h1m2 3h1m-2 3h1m-5 -16h1m-2 25h1m4 -17h1m-9 6h1m14 0h1m-15 -10h1m16 3h1m-11 18h1m0 -20h1m4 12h1m-11 -14h1m11 0h1m-16 -3h1m8 12h1m-6 4h1m3 -8h1m-2 -2h1m2 13h1m3 -7h1m-4 23h1m5 -37h1m-17 11h1m9 2h1m-15 8h1m-4 -15h1m5 -6h1m16 2h1m-15 5h1m16 2h1m-13 20h1m0 -8h1m-7 -10h1m2 -2h1m0 3h1m8 -6h1m-12 12h1m0 -1h1m1 -1h1m-3 21h1m0 -34h1m6 -6h1m-3 20h1m-7 7h1m2 -17h1m1 -6h1m-5 12h1m5 16h1m-2 -15h1m-5 3h1m0 -12h1m1 8h1m-11 18h1m5 -4h1m-2 -27h1m3 27h1m-2 -19h1m-7 15h1m5 -1h1m-6 -14h1m-4 -5h1m0 0h1m1 11h1m7 4h1m-3 -10h1m-1 16h1m-3 -5h1m3 -20h1m6 16h1m-15 -10h1m9 16h1m-7 2h1m-7 -8h1m5 -5h1m-7 2h1m9 1h1m-2 -9h1m-1 5h1m-5 9h1m1 -13h1m1 3h1m9 -16h1m-12 14h1m-6 14h1m-3 -10h1m4 -8h1m-14 13h1m8 -4h1m6 3h1m-9 -15h1m3 19h1m6 -8h1m-5 0h1m-5 8h1m-9 -8h1m2 4h1m6 3h1m-6 -13h1m9 4h1m-19 23h1m16 -10h1m-8 1h1m3 -12h1m-2 -4h1m-9 -1h1m15 4h1m-14 21h1m-3 -12h1m6 0h1m-7 3h1m2 -7h1m-8 -15h1m10 15h1m-5 4h1m-2 -3h1m-2 -17h1m0 24h1m-1 -7h1m4 -1h1m0 0h1m3 -2h1m-10 4h1m-2 -7h1m6 2h1m-4 8h1m-1 0h1m-1 3h1m-2 -2h1m1 -5h1m3 1h1m-10 6h1m5 -7h1m-6 2h1m-9 -3h1m10 -9h1m-4 2h1m6 21h1m-4 -19h1m-3 16h1m-15 0h1m11 -16h1m7 -1h1m-6 27h1m-5 5h1m-10 -23h1m8 2h1m-8 -14h1m15 3h1m-16 11h1m-3 -5h1m4 10h1m5 -1h1m-2 -10h1m-9 -5h1m0 1h1m4 10h1m0 -15h1m-5 -3h1m4 17h1m-3 -21h1m-1 20h1m-2 -3h1m-3 -7h1m5 6h1m-3 -1h1m3 9h1m-6 5h1m-6 -4h1m16 -15h1m-12 2h1m5 2h1m5 0h1m-11 3h1m-1 16h1m-7 -15h1m-10 6h1m19 -3h1m-3 -2h1m-9 -25h1m5 18h1m-2 2h1m2 10h1m-12 -5h1m5 1h1m-7 16h1m3 -22h1m12 10h1m-17 -19h1m2 13h1m9 0h1m-20 -10h1m8 -5h1m8 29h1m0 -5h1m-3 -5h1m0 -9h1m-10 9h1m1 -19h1m-3 17h1m-3 -7h1m3 12h1m4 -13h1m-1 3h1m-11 5h1m-1 -2h1m3 6h1m3 2h1m-11 -8h1m12 -12h1m-5 2h1m3 4h1m-2 13h1m0 -10h1m1 -3h1m-12 7h1m-4 -6h1m10 4h1m-2 -5h1m-11 1h1m11 -1h1m-7 1h1m9 2h1m-2 10h1m-11 -7h1m-3 -8h1m-4 3h1m6 6h1m-8 8h1m-2 -11h1m12 6h1m-5 2h1m8 -4h1m-12 6h1m8 -18h1m-5 7h1m6 -1h1m-12 6h1m-12 3h1m4 2h1m2 -2h1m-3 -1h1m-11 2h1m3 -9h1m10 6h1m-12 -22h1m-15 12h1m4 15h1m12 1h1m-3 -32h1m-5 7h1m-6 15h1m3 -21h1m0 13h1m-3 -2h1m-5 18h1m11 -27h1m-17 6h1m5 6h1m15 -2h1m-25 34h1m13 -24h1m-6 9h1m2 -21h1m3 9h1m18 -28h1m-3 28h1m-3 -13h1m-14 14h1m2 8h1m-10 -16h1m8 0h1m3 3h1m7 -1h1m-10 9h1m-19 10h1m5 -13h1m19 -3h1m-42 3h1m13 -1h1m12 2h1m14 -4h1m-12 -8h1m-12 20h1m1 -29h1m-6 26h1m20 -15h1m-17 7h1m14 0h1m6 -16h1m-24 15h1m-11 6h1m7 -10h1m17 -5h1m-31 13h1m15 -17h1m-9 25h1m2 -6h1m11 8h1m-12 -23h1m-11 7h1m8 -6h1m16 0h1m-8 10h1m1 33h1m-12 -30h1m23 -7h1m4 -1h1m-56 -6h1m46 10h1m-12 19h1m-11 -37h1m4 24h1m-9 10h1m1 -17h1m5 -6h1m5 9h1m-18 21h1m11 -28h1m-5 9h1m14 -6h1m-10 9h1m-2 -12h1m16 9h1m-17 1h1m18 -4h1m-27 -5h1m2 8h1m18 -1h1m-16 0h1m18 -15h1m-29 4h1m-5 12h1m8 -25h1m3 32h1m14 -21h1m-29 10h1m-10 -5h1m-8 13h1m32 -9h1m-10 5h1m13 14h1m-25 -23h1m9 28h1m-12 -24h1m-19 -16h1m54 24h1m-30 -13h1m10 14h1m8 -11h1m-4 15h1m-17 -9h1m6 -7h1m-21 0h1m27 16h1m-38 -7h1m3 -11h1m25 1h1m2 6h1m-2 -5h1m-14 -7h1m12 41h1m-7 3h1m4 -14h1m9 -31h1m-7 -3h1m-3 18h1m-11 -13h1m4 20h1m7 -25h1m-16 26h1m16 -27h1m-10 32h1m8 -21h1m-16 13h1m-1 -22h1m14 2h1m-9 11h1m-4 -8h1m14 9h1m-26 -12h1m12 13h1m17 -13h1m-36 9h1m5 5h1m16 -20h1m-16 16h1m-1 -9h1m14 2h1m-20 14h1m19 5h1m-11 -23h1m-17 7h1m2 18h1m23 -3h1m-4 -27h1m-16 36h1m4 -20h1m6 -16h1m0 16h1m6 -11h1m-15 9h1m-14 6h1m33 5h1m-29 -8h1m7 -6h1m-6 1h1m19 12h1m-29 -22h1m14 18h1m-6 -22h1m13 22h1m-10 -7h1m-7 0h1m1 15h1m-5 -13h1m-5 -3h1m-5 1h1m13 14h1m19 2h1m-20 -11h1m-28 -10h1m21 24h1m4 -5h1m-10 -14h1m8 5h1m-17 2h1m4 -8h1m-10 8h1m25 -1h1m6 18h1m-5 -16h1m1 -13h1m-7 0h1m-6 6h1m-8 -7h1m2 8h1m-8 -2h1m-3 6h1m13 13h1m0 -24h1m0 5h1m10 -12h1m-5 14h1m6 -7h1m-11 -4h1m0 5h1m-7 15h1m8 3h1m-8 -3h1m-18 3h1m15 -16h1m-20 2h1m2 -14h1m19 16h1m-10 2h1m3 10h1m-19 -14h1m28 -5h1m-17 12h1m-6 15h1m11 -10h1m-4 -13h1m-7 1h1m10 5h1m-12 -8h1m-16 8h1m25 1h1m-10 1h1m21 -17h1m-18 -5h1m13 20h1m-16 -12h1m-4 10h1m-8 -14h1m2 11h1m4 -6h1m-4 16h1m22 9h1m-37 4h1m11 -28h1m-13 14h1m20 9h1m0 -5h1m-15 -4h1m21 1h1m-7 -7h1m-9 7h1m6 -22h1m-14 10h1m10 12h1m18 -13h1m-29 8h1m7 3h1m-12 15h1m7 -20h1m21 5h1m-10 -7h1m2 6h1m-4 0h1m-5 -13h1m-14 -3h1m-1 10h1m-11 8h1m20 -2h1m-19 13h1m18 -2h1m-23 -8h1m19 -18h1m-15 -2h1m-9 27h1m25 -20h1m-13 -2h1m-6 0h1m-3 17h1m12 6h1m6 -13h1m-22 9h1m15 -6h1m-12 8h1m-1 -3h1m-4 -3h1m12 1h1m-18 -9h1m21 6h1m-16 6h1m-15 5h1m21 2h1m1 -25h1m-7 15h1m8 -10h1m-17 0h1m-12 -7h1m13 -1h1m7 17h1m2 -5h1m11 -2h1m-1 -1h1m-32 -9h1m15 3h1m4 6h1m-9 -13h1m-9 28h1m11 -9h1m-12 -18h1m14 4h1m-3 17h1m-13 12h1m27 -19h1m-7 -5h1m-17 -4h1m9 24h1m-29 -8h1m11 -14h1m-21 8h1m9 4h1m-8 -19h1m41 10h1m-2 8h1m-24 -21h1m18 20h1m-15 -8h1m2 10h1m-1 1h1m6 2h1m-13 6h1m-3 -5h1m10 -1h1m-34 -20h1m8 26h1m15 -7h1m-10 -21h1m18 -4h1m-13 14h1m12 -12h1m10 9h1m-34 19h1m14 -10h1m2 22h1m-16 -24h1m14 -5h1m-2 3h1m8 10h1m-28 5h1m20 -15h1m-18 20h1m0 -17h1m24 -4h1m-14 -6h1m-21 27h1m2 -18h1m9 21h1m-5 -38h1m6 10h1m-9 -9h1m17 6h1m-10 7h1m-9 -6h1m26 18h1m-29 -13h1m-3 2h1m21 13h1m-22 -7h1m-6 8h1m11 -9h1m-7 -9h1m1 11h1m27 -2h1m-21 12h1m-16 -8h1m1 -3h1m12 -14h1m-6 17h1m-20 -4h1m30 7h1m-18 -14h1m-25 7h1m19 -1h1m16 -3h1m10 6h1m-42 4h1m17 -24h1m22 -3h1m-20 13h1m-5 12h1m5 -8h1m-8 -1h1m-3 1h1m5 8h1m8 -14h1m-2 10h1m-5 3h1m-19 -4h1m34 5h1m-24 1h1m3 -12h1m-8 -4h1m-14 -10h1m29 23h1m-15 -5h1m-5 -7h1m2 -8h1m7 13h1m-17 -6h1m-3 1h1m13 17h1m-15 -22h1m11 14h1m14 -2h1m-9 0h1m-4 9h1m-14 1h1m23 -10h1m-23 4h1m29 -1h1m-10 -3h1m-2 -9h1m-7 18h1m12 -17h1m-20 18h1m6 -11h1m7 -2h1m-24 5h1m19 -2h1m1 -11h1m-4 15h1m-2 12h1m-26 -12h1m13 -13h1m9 3h1m-7 24h1m-23 -8h1m24 -11h1m-2 0h1m3 -11h1m14 5h1m-30 1h1m19 15h1m0 -21h1m-7 -4h1m-11 -4h1m9 24h1m-6 9h1m-11 -8h1m-5 7h1m15 -4h1m-9 1h1m21 -20h1m1 22h1m-12 -17h1m-26 16h1m22 -7h1m1 -6h1m-9 5h1m-15 -5h1m17 6h1m-6 -10h1m-10 10h1m30 -22h1m-26 13h1m-9 21h1m-5 -14h1m25 -6h1m5 21h1m-12 -2h1m0 -6h1m-24 -9h1m13 8h1m10 -15h1m3 11h1m-8 1h1m-2 -5h1m-6 -1h1m-8 5h1m-9 -4h1m5 7h1m10 -17h1m6 8h1m6 -9h1m-18 14h1m-3 -14h1m-2 19h1m12 1h1m-27 -22h1m13 8h1m-2 17h1m12 -4h1m7 4h1m-27 13h1m3 -31h1m2 20h1m8 -9h1m-19 1h1m3 -18h1m11 19h1m2 -13h1m13 -2h1m-48 22h1m66 -6h1m-37 -34h1m-6 32h1m-9 21h1m52 -23h1m-38 20h1m22 -58h1" stroke="#000" stroke-width="1.0" fill="none" opacity="0.86"/>
<rect x="911.9" y="1811.4" width="96.5" height="65" fill="none" stroke="#000" stroke-width="2"/>
<text x="919.1" y="1867.6" font-size="17.8" textLength="38.9" lengthAdjust="spacingAndGlyphs" font-family="'DejaVu Sans', 'Liberation Sans', sans-serif">97.6</text>
<rect x="180.9" y="1914.2" width="206.7" height="201" fill="#fff" stroke="#000" stroke-width="1.1"/>
<path d="M180.9 1933.8h-5.4M180.9 1981.5h-5.4M180.9 2035.9h-5.4M180.9 2102.6h-5.4" stroke="#000" stroke-width="2.7" fill="none"/>
<rect x="175.3" y="2063.7" width="5.6" height="10" fill="#000"/>
<path d="M180.9 2019.5h-2.6M180.9 2009.9h-2.6M180.9 2003.1h-2.6M180.9 1993.6h-2.6M180.9 1989.9h-2.6M180.9 1986.8h-2.6M180.9 1984h-2.6M180.9 1967.1h-2.6M180.9 1958.7h-2.6M180.9 1952.8h-2.6M180.9 1944.4h-2.6M180.9 1941.2h-2.6M180.9 1938.4h-2.6M180.9 1936h-2.6M180.9 1919.4h-2.6M180.9 2059.7h-2.6M180.9 2055.8h-2.6M180.9 2047.8h-2.6M180.9 2043.8h-2.6M180.9 2039.9h-2.6M180.9 2077.8h-2.6M180.9 2082h-2.6M180.9 2090.2h-2.6M180.9 2094.3h-2.6M180.9 2098.5h-2.6M180.9 2110h-2.6" stroke="#000" stroke-width="1.3" fill="none"/>
<path d="M180.9 1997.9h-3.8M180.9 1948.2h-3.8M180.9 2051.8h-3.8M180.9 2086.1h-3.8" stroke="#000" stroke-width="2" fill="none"/>
<text x="171.3" y="1937.4" font-size="7.1" text-anchor="end" fill="#222">10<tspan dy="-4.2">5</tspan></text>
<text x="171.3" y="1985.1" font-size="7.1" text-anchor="end" fill="#222">10<tspan dy="-4.2">4</tspan></text>
<text x="171.3" y="2039.5" font-size="7.1" text-anchor="end" fill="#222">10<tspan dy="-4.2">3</tspan></text>
<text x="167.9" y="2071.5" font-size="7.1" text-anchor="end" fill="#222">0</text>
<text x="171.3" y="2106.2" font-size="7.1" text-anchor="end" fill="#222">-10<tspan dy="-4.2">3</tspan></text>
<rect x="220.4" y="2115.2" width="18.4" height="3.2" fill="#000"/>
<path d="M222.1 2115.2v5.3M226.3 2115.2v5.3M230.4 2115.2v5.3M237.1 2115.2v5.3M273.7 2115.2v5.3M324.1 2115.2v5.3M367.1 2115.2v5.3" stroke="#000" stroke-width="3.3" fill="none"/>
<path d="M196.7 2115.2v3.8M256.7 2115.2v3.8M308.9 2115.2v3.8M354.2 2115.2v3.8" stroke="#000" stroke-width="2.3" fill="none"/>
<path d="M188.8 2115.2v2.3M191.7 2115.2v2.3M202.4 2115.2v2.3M207.4 2115.2v2.3M214.6 2115.2v2.3M241.8 2115.2v2.3M245.9 2115.2v2.3M252.4 2115.2v2.3M261 2115.2v2.3M264.6 2115.2v2.3M267.4 2115.2v2.3M269.6 2115.2v2.3M288.9 2115.2v2.3M297.7 2115.2v2.3M304 2115.2v2.3M312.9 2115.2v2.3M316.3 2115.2v2.3M319.2 2115.2v2.3M321.8 2115.2v2.3M337 2115.2v2.3M344.6 2115.2v2.3M350 2115.2v2.3M357.6 2115.2v2.3M360.4 2115.2v2.3M362.9 2115.2v2.3M365.1 2115.2v2.3M380 2115.2v2.3" stroke="#000" stroke-width="1.4" fill="none"/>
<text x="228" y="2132.5" font-size="7.1" text-anchor="middle" fill="#222">0</text>
<text x="274.4" y="2133" font-size="7.1" fill="#222">10<tspan dy="-5" font-size="7.1">3</tspan></text>
<text x="324.2" y="2133" font-size="7.1" fill="#222">10<tspan dy="-5" font-size="7.1">4</tspan></text>
<text x="367.6" y="2133" font-size="7.1" fill="#222">10<tspan dy="-5" font-size="7.1">5</tspan></text>
<path d="M225 2071.5h1m-3 -5h1m6 7h1m-3 -17h1m-9 8h1m-1 11h1m9 -31h1m-6 8h1m1 19h1m-2 -17h1m-3 4h1m3 4h1m-4 18h1m-1 -24h1m0 -6h1m-1 7h1m-7 -6h1m4 11h1m-5 7h1m3 -13h1m2 14h1m4 14h1m-13 -27h1m2 10h1m-4 10h1m9 -23h1m-11 9h1m5 4h1m-10 16h1m10 -28h1m-3 -11h1m2 20h1m-8 2h1m4 -9h1m-4 -2h1m-2 13h1m-1 -9h1m-1 2h1m-7 -10h1m8 12h1m-2 -3h1m-8 22h1m3 -21h1m1 10h1m-5 -12h1m8 5h1m-14 15h1m12 -14h1m-6 -5h1m0 -7h1m-2 7h1m-3 6h1m-1 -3h1m0 13h1m4 -34h1m4 18h1m-8 6h1m-1 -8h1m-8 7h1m10 0h1m-6 15h1m-1 -33h1m-1 16h1m-3 -2h1m-1 -3h1m-7 6h1m6 2h1m-2 -4h1m0 -26h1m1 22h1m1 -1h1m-10 -1h1m9 12h1m-7 3h1m2 -3h1m-4 -11h1m-3 22h1m7 -25h1m-8 11h1m-7 5h1m9 5h1m0 -9h1m-6 -16h1m1 -3h1m-7 11h1m10 4h1m-5 6h1m4 -11h1m-11 -6h1m3 19h1m3 -12h1m-6 14h1m-5 -6h1m3 -1h1m-2 -5h1m1 4h1m2 -5h1m-5 3h1m-4 8h1m7 -7h1m2 0h1m-9 0h1m0 14h1m-4 -4h1m2 -25h1m1 20h1m0 -3h1m-2 14h1m-3 -33h1m3 8h1m-5 7h1m1 14h1m1 0h1m-5 -12h1m-1 5h1m-3 -12h1m6 8h1m-4 3h1m-1 0h1m-2 -2h1m-4 -8h1m-7 20h1m4 -11h1m3 -15h1m-7 14h1m1 -1h1m-1 1h1m5 15h1m-10 -16h1m4 0h1m1 8h1m-3 5h1m-5 -6h1m9 -8h1m-4 -9h1m1 -1h1m-7 15h1m4 4h1m-6 -1h1m8 -13h1m-1 17h1m-11 -16h1m3 8h1m0 -14h1m-1 -5h1m0 9h1m-7 1h1m1 0h1m-1 10h1m-6 -15h1m-2 19h1m1 6h1m9 -42h1m-8 16h1m3 4h1m1 -6h1m3 3h1m-7 8h1m-12 -1h1m13 17h1m-6 -15h1m0 11h1m-2 -15h1m-7 20h1m6 -24h1m-1 4h1m4 -2h1m-10 10h1m3 10h1m-2 -37h1m-5 24h1m1 11h1m-4 -33h1m2 35h1m-2 -10h1m4 -13h1m0 6h1m-6 -5h1m7 10h1m-8 15h1m2 -9h1m2 -29h1m-8 16h1m-1 12h1m-2 4h1m0 -3h1m-4 -4h1m3 3h1m1 -8h1m-1 -12h1m3 0h1m-6 36h1m-3 -4h1m-2 -18h1m0 -22h1m-2 19h1m-4 7h1m9 5h1m3 -9h1m-4 -12h1m-4 14h1m-6 -22h1m6 6h1m-1 10h1m-11 3h1m12 10h1m-13 -12h1m4 -4h1m1 2h1m-1 6h1m-5 1h1m-2 -1h1m-2 6h1m4 -10h1m-2 8h1m0 -16h1m3 1h1m-1 5h1m-6 5h1m4 4h1m-4 2h1m-4 15h1m-3 -27h1m1 23h1m-2 -25h1m3 12h1m-1 -6h1m1 -16h1m-8 31h1m0 -18h1m1 5h1m-6 -6h1m2 10h1m5 -15h1m-5 23h1m-1 4h1m3 -10h1m-4 -15h1m-12 4h1m8 8h1m-1 -15h1m-3 15h1m4 -12h1m-8 7h1m4 15h1m-8 4h1m9 -24h1m-5 15h1m-4 -6h1m2 7h1m-2 -6h1m0 4h1m3 -14h1m1 2h1m6 1h1m-20 16h1m4 -14h1m2 5h1m-4 10h1m4 -19h1m-11 17h1m11 -1h1m-8 -18h1m-3 5h1m6 14h1m-7 -14h1m8 5h1m-9 -1h1m2 13h1m-5 2h1m5 -15h1m2 8h1m-7 3h1m-4 -8h1m6 6h1m-4 -31h1m0 4h1m-3 8h1m2 4h1m-5 -2h1m-2 -2h1m2 3h1m2 8h1m-9 -4h1m8 -18h1m-4 2h1m-1 14h1m-8 -9h1m7 19h1m-7 -2h1m1 7h1m-3 -15h1m7 -14h1m-7 24h1m1 -27h1m3 32h1m0 -14h1m-5 -18h1m-6 32h1m1 6h1m7 -27h1m-12 21h1m7 -2h1m-1 -7h1m-11 10h1m6 -9h1m-1 -4h1m-8 11h1m0 3h1m4 -11h1m-2 7h1m2 -6h1m3 -11h1m-14 6h1m0 23h1m7 -33h1m1 5h1m1 8h1m-2 -2h1m-10 -8h1m5 13h1m-5 1h1m7 1h1m-4 -1h1m-9 2h1m0 5h1m1 -1h1m2 -10h1m-3 -3h1m3 3h1m-1 -12h1m2 16h1m-12 10h1m2 -25h1m-3 17h1m1 5h1m1 -12h1m2 13h1m-13 -8h1m11 -8h1m-2 -13h1m-2 23h1m3 -12h1m-13 21h1m8 -8h1m0 -26h1m-1 24h1m-3 3h1m5 -26h1m-10 22h1m-2 -15h1m2 6h1m1 19h1m1 -20h1m-4 19h1m5 -25h1m-3 -3h1m-3 12h1m-8 1h1m-1 9h1m5 -4h1m-4 12h1m2 -21h1m1 6h1m-8 8h1m-4 7h1m8 -6h1m2 -7h1m-9 16h1m-2 -19h1m1 -9h1m4 -4h1m-8 16h1m2 -3h1m-4 5h1m-6 0h1m3 -20h1m5 12h1m-1 9h1m3 3h1m-7 -8h1m2 8h1m-9 -15h1m5 2h1m-1 -5h1m-3 10h1m-3 4h1m4 -1h1m-7 14h1m5 -12h1m-4 -13h1m2 6h1m-7 7h1m0 -8h1m3 -3h1m-1 5h1m-3 -6h1m2 8h1m-11 15h1m4 -27h1m1 6h1m-3 10h1m0 7h1m-4 -5h1m1 -21h1m0 32h1m4 -21h1m-13 15h1m7 -20h1m3 8h1m3 -4h1m-12 -7h1m6 6h1m0 12h1m2 -12h1m-4 6h1m-3 5h1m-4 -3h1m-2 -8h1m-2 3h1m-2 9h1m10 0h1m-7 5h1m-4 -8h1m4 -3h1m-3 6h1m-4 -23h1m1 15h1m-2 -7h1m3 5h1m-5 8h1m9 -7h1m-5 -1h1m-4 18h1m-3 -12h1m-4 7h1m2 -11h1m1 8h1m-2 -16h1m-1 -3h1m0 21h1m-2 -16h1m-1 -8h1m-5 24h1m5 -13h1m-9 8h1m5 -13h1m-1 -3h1m0 7h1m-9 3h1m-5 14h1m10 -2h1m-4 -13h1m1 4h1m4 -6h1m0 -4h1m-8 18h1m-2 -7h1m6 -17h1m-15 21h1m8 -8h1m-1 1h1m-2 -3h1m1 7h1m1 -7h1m-6 5h1m-1 -13h1m-1 -6h1m3 -6h1m2 35h1m-4 -15h1m-2 1h1m-5 -4h1m1 11h1m0 15h1m2 -22h1m-3 17h1m-2 -5h1m1 -16h1m-8 11h1m2 4h1m2 -16h1m-5 4h1m2 -6h1m-3 17h1m1 6h1m-4 -14h1m0 4h1m9 -14h1m-4 6h1m-12 -13h1m0 25h1m9 -24h1m-10 32h1m6 -31h1m-4 34h1m-1 -21h1m0 4h1m-10 -3h1m14 6h1m-7 -10h1m-2 3h1m1 -8h1m-6 8h1m-1 1h1m0 2h1m-2 6h1m0 9h1m-2 -3h1m1 -16h1m-2 -3h1m1 18h1m-7 -17h1m1 -8h1m7 25h1m3 -16h1m-8 -4h1m0 1h1m-4 6h1m-6 -5h1m9 18h1m-7 -3h1m3 -25h1m-4 15h1m-3 -6h1m1 6h1m-5 6h1m-2 -2h1m15 -7h1m-13 2h1m5 -1h1m-3 7h1m0 -1h1m-4 3h1m-1 -2h1m-4 -2h1m6 -18h1m-12 39h1m8 -1h1m-9 -18h1m1 -16h1m4 7h1m2 8h1m-8 18h1m6 -25h1m-4 15h1m0 -9h1m0 -10h1m-11 31h1m7 -12h1m-8 -21h1m2 12h1m-3 11h1m7 -8h1m-1 5h1m-7 -10h1m5 10h1m0 -8h1m-7 -7h1m-7 4h1m11 1h1m-9 6h1m-4 -5h1m1 2h1m15 -18h1m-13 23h1m-1 -8h1m1 8h1m-2 -2h1m-4 -2h1m2 -17h1m-3 18h1m-7 5h1m5 7h1m1 -9h1m-4 -19h1m8 12h1m-12 -6h1m8 -15h1m-5 12h1m-2 7h1m6 10h1m-12 -3h1m5 -6h1m-4 13h1m-6 -12h1m-1 -8h1m7 7h1m-1 5h1m-6 -7h1m2 3h1m-1 -20h1m0 25h1m2 -17h1m3 0h1m-1 4h1m-5 11h1m-3 -15h1m-5 32h1m4 2h1m-2 -24h1m-1 14h1m-2 -22h1m0 15h1m1 -3h1m-4 19h1m-2 -22h1m3 4h1m-3 3h1m-4 -12h1m-8 8h1m7 -2h1m4 -4h1m-7 19h1m1 -13h1m-4 -2h1m4 5h1m3 -20h1m-11 0h1m3 17h1m-6 9h1m8 -12h1m-6 18h1m-2 -1h1m3 -13h1m-7 -17h1m-2 13h1m0 -1h1m1 8h1m4 -2h1m-4 -10h1m1 1h1m-5 2h1m3 -2h1m-9 4h1m9 4h1m-5 -9h1m1 17h1m-5 -20h1m-1 11h1m-7 -10h1m10 22h1m-5 0h1m-3 -13h1m5 -7h1m-5 -11h1m-6 26h1m2 -15h1m2 2h1m2 5h1m-3 4h1m-4 -17h1m3 28h1m-4 -16h1m3 -3h1m-1 -7h1m-8 6h1m-4 6h1m8 -4h1m1 -1h1m-4 19h1m3 -23h1m-5 -1h1m3 15h1m-2 -8h1m-2 5h1m-7 -1h1m5 -3h1m-6 6h1m2 16h1m-3 -36h1m-1 5h1m3 19h1m0 -20h1m-6 21h1m0 -5h1m-1 -3h1m-2 15h1m-2 -8h1m3 -7h1m0 -7h1m-5 19h1m-4 -11h1m0 2h1m3 -3h1m0 -10h1m-1 8h1m-3 -5h1m-4 -3h1m1 14h1m1 -14h1m-10 25h1m15 -26h1m-8 -11h1m4 8h1m-4 16h1m1 -7h1m-5 4h1m1 -2h1m-5 -5h1m3 23h1m-4 -16h1m-3 5h1m-4 -14h1m-2 3h1m9 -4h1m-4 5h1m5 -19h1m-8 34h1m1 -22h1m-4 11h1m-1 7h1m7 0h1m-8 -4h1m-6 -6h1m3 -4h1m2 -1h1m-3 2h1m-1 6h1m2 -16h1m-1 10h1m-9 0h1m9 6h1m-11 -12h1m2 33h1m-4 -8h1m-1 -23h1m7 6h1m-3 -6h1m-6 11h1m6 -7h1m-2 8h1m2 4h1m-12 -7h1m5 2h1m2 -4h1m-5 -5h1m3 -5h1m-4 14h1m-2 6h1m-2 -28h1m-3 45h1m2 -33h1m2 13h1m-5 -3h1m7 0h1m-6 -11h1m-3 0h1m7 -9h1m-9 21h1m-6 -11h1m2 9h1m7 -9h1m-11 -7h1m5 17h1m-2 -9h1m3 17h1m2 -8h1m-4 1h1m-14 12h1m4 0h1m-4 -29h1m3 16h1m8 -9h1m-1 8h1m-2 -11h1m-3 4h1m3 15h1m-5 -4h1m-5 -12h1m-3 6h1m1 11h1m-5 -5h1m6 5h1m-5 -18h1m8 2h1m-18 13h1m6 -17h1m-3 12h1m-3 -10h1m6 7h1m5 -15h1m-9 13h1m0 -1h1m2 3h1m0 -1h1m-4 -3h1m0 0h1m0 10h1m-2 -6h1m-3 2h1m1 9h1m2 -24h1m-14 19h1m12 0h1m-6 1h1m2 -9h1m-2 4h1m-6 -16h1m4 8h1m2 13h1m-9 -17h1m3 9h1m-3 1h1m0 -3h1m1 -10h1m-6 23h1m1 -3h1m5 2h1m-8 -15h1m6 17h1m-6 4h1m1 -22h1m-3 -2h1m4 14h1m-6 -1h1m1 -3h1m-1 2h1m3 -1h1m-6 -1h1m-5 0h1m4 3h1m-5 -7h1m-1 -2h1m8 -18h1m-11 36h1m3 -12h1m-5 24h1m10 -49h1m-5 32h1m-5 -8h1m5 -18h1m-8 9h1m2 -12h1m0 14h1m1 -2h1m-8 17h1m3 -16h1m-3 3h1m1 4h1m-1 -4h1m-3 -3h1m6 -5h1m-2 5h1m-2 15h1m-2 -4h1m6 -10h1m-12 11h1m-2 -5h1m5 -4h1m0 -19h1m-2 23h1m22 14h1m-17 -15h1m-18 -10h1m16 6h1m-13 -20h1m4 22h1m-18 -1h1m18 -12h1m-34 30h1m29 -12h1m-6 -6h1m3 -10h1m-21 31h1m29 -30h1m21 12h1m-5 -2h1m-28 8h1m-1 -2h1m6 0h1m-9 -9h1m21 -15h1m-19 36h1m6 -16h1m-12 9h1m-3 -3h1m4 -27h1m-11 2h1m-2 6h1m4 19h1m15 -11h1m-6 -7h1m-22 7h1m15 -13h1m-20 22h1m17 -13h1m7 0h1m-14 21h1m-15 -27h1m23 26h1m7 -4h1m-8 0h1m3 -5h1m-22 -4h1m17 12h1m-23 3h1m15 -9h1m-15 -9h1m39 -4h1m-25 1h1m4 3h1m5 17h1m-7 -15h1m-7 18h1m10 -48h1m-13 37h1m-4 -29h1m7 33h1m-13 -11h1m25 11h1m-14 -17h1m5 18h1m-4 -18h1m-1 25h1m5 3h1m-9 -33h1m-4 -3h1m-2 14h1m2 -5h1m-14 10h1m11 11h1m-20 -19h1m4 15h1m20 -14h1m-20 8h1m19 12h1m-5 -22h1m-14 -9h1m5 16h1m15 -18h1m-22 17h1m9 4h1m8 -16h1m-14 18h1m-6 8h1m-7 -16h1m19 -17h1m-3 37h1m-15 -13h1m-8 -14h1m19 5h1m-4 10h1m-11 14h1m-10 -27h1m3 27h1m11 -33h1m2 22h1m5 4h1m-3 -4h1m-24 -8h1m23 1h1m-11 -29h1m1 37h1m-13 -2h1m4 -29h1m1 25h1m7 -25h1m5 23h1m-11 -21h1m-7 -13h1m-5 18h1m22 0h1m-5 17h1m-23 -4h1m3 11h1m14 4h1m-18 -18h1m0 0h1m5 4h1m-12 -17h1m13 29h1m-5 -44h1m15 46h1m-12 -1h1m-21 -18h1m9 1h1m14 11h1m-8 -15h1m4 12h1m10 -24h1m-47 31h1m31 -32h1m14 10h1m-16 11h1m0 -18h1m-14 -1h1m1 27h1m4 -16h1m3 -12h1m28 17h1m-30 -14h1m10 34h1m-5 17h1m-5 -33h1m-9 -10h1m25 15h1m-34 6h1m20 -43h1m-8 24h1m-15 26h1m4 -7h1m15 -8h1m15 -13h1m-23 10h1m-7 -18h1m12 24h1m-12 -14h1m3 7h1m3 9h1m-6 2h1m6 -33h1m-42 7h1m38 -4h1m-22 3h1m20 -4h1m-1 13h1m-8 -9h1m-10 7h1m-1 16h1m20 -25h1m9 4h1m-27 3h1m0 16h1m-7 -3h1m-3 -29h1m26 34h1m-19 -5h1m1 16h1m-3 -18h1m-2 -13h1m22 -8h1m-16 -6h1m2 31h1m-29 -36h1m18 37h1m-5 4h1m-14 5h1m7 -26h1m6 3h1m10 13h1m2 6h1m-33 -9h1m17 -8h1m6 2h1m-1 12h1m2 -17h1m-28 -4h1m18 11h1m-19 -2h1m40 1h1m-14 2h1m-1 15h1m-8 -16h1m7 9h1m-25 -12h1m29 1h1m-33 4h1m17 4h1m9 -4h1m-14 11h1m6 10h1m-6 -31h1m-4 32h1m1 -30h1m-16 36h1m9 -2h1m0 -17h1m-11 -19h1m-2 -5h1m12 14h1m15 -32h1m-24 33h1m-3 1h1m-7 15h1m19 -13h1m5 0h1m-26 -11h1m9 13h1m11 -16h1m3 14h1m5 1h1m-35 3h1m23 -7h1m-2 -17h1m-9 15h1m-12 -19h1m15 -3h1m-10 36h1m13 -29h1m-5 -8h1m2 14h1m-8 7h1m6 16h1m-14 4h1m4 -5h1m-2 2h1m17 -21h1m-15 10h1m31 -2h1m-47 -34h1m20 41h1m9 -13h1m-39 8h1m17 -21h1m24 22h1m-35 12h1m-15 10h1m41 -32h1m-1 15h1m-13 -10h1m-17 -2h1m6 -10h1m7 40h1m-1 -21h1m-18 7h1m38 -20h1m-13 12h1m11 0h1m-29 -20h1m15 32h1m-28 -27h1m10 19h1m8 15h1m3 1h1m-20 -33h1m3 6h1m-2 14h1m13 -6h1m0 -18h1m-19 22h1m23 -15h1m-27 12h1m1 -28h1m20 36h1m-1 -21h1m1 -27h1m-26 35h1m14 -1h1m-3 -18h1m24 14h1m-10 16h1m-10 -20h1m-19 -10h1m2 26h1m7 17h1m-8 -16h1m23 11h1m-22 -15h1m9 -20h1m-8 36h1m5 -25h1m2 -5h1m20 34h1m-16 -19h1m-4 1h1m2 -3h1m-7 13h1m0 -17h1m6 7h1m9 2h1m-21 -8h1m13 -17h1m-10 29h1m3 -10h1m-14 -9h1m12 7h1m-10 12h1m16 -15h1m22 -2h1m-18 3h1m-12 -4h1m-12 -10h1m22 9h1m-32 16h1m16 -8h1m5 -1h1m4 -2h1m-16 -1h1m17 8h1m-33 -12h1m24 13h1m-17 3h1m21 -14h1m3 -7h1m-27 16h1m13 -14h1m20 28h1m-11 -21h1m-15 3h1m-6 -10h1m17 12h1m-2 -5h1m-6 4h1m4 -10h1m-20 7h1m-10 10h1m27 -12h1m-8 -2h1m-16 1h1m-2 4h1m0 1h1m26 -9h1m-27 3h1m28 11h1m-25 -3h1m-34 -8h1m44 20h1m-8 -29h1m1 -8h1m2 16h1m-6 19h1m-5 -3h1m17 -9h1m-11 8h1m0 -5h1m6 -10h1m-20 3h1m22 16h1m-3 -7h1m-9 1h1m-25 -1h1m0 -2h1m13 8h1m1 6h1m2 -21h1m7 7h1m-8 12h1m-18 -10h1m4 -19h1m-1 28h1m26 -27h1m-29 -7h1m15 28h1m-1 9h1m-32 -28h1m13 17h1m1 3h1m20 -6h1m-16 14h1m-1 -39h1m15 42h1m-22 -17h1m12 7h1m-1 -18h1m-21 4h1m6 18h1m3 -16h1m19 5h1m-42 -24h1m16 20h1m-2 2h1m13 8h1m-12 -12h1m-2 2h1m3 17h1m18 -4h1m-26 -22h1m-19 16h1m24 -14h1m-3 6h1m5 14h1m2 -17h1m21 2h1m-10 17h1m-21 -11h1m-9 5h1m13 4h1m-19 -10h1m23 -2h1m-6 -9h1m9 -3h1m-20 14h1m-6 4h1m10 1h1m-7 -9h1m10 7h1m-18 -22h1m18 19h1m-40 -4h1m18 -23h1m-3 -5h1m6 -8h1m-21 -1h1m-2 11h1m9 -12h1m-7 7h1m-7 -7h1m5 13h1m-10 4h1m-10 -13h1m28 3h1m-15 -1h1m0 -8h1m17 8h1m-12 4h1m-10 10h1m-1 -23h1m7 14h1m16 -4h1m-2 11h1m-19 -15h1m-7 1h1m56 -7h1m12 43h1m-9 -35h1m23 2h1m-18 -21h1" stroke="#000" stroke-width="1.0" fill="none" opacity="0.86"/>
<path d="M223 2064.5h1m-1 8h1m4 -8h1m-1 -4h1m-13 23h1m5 -19h1m7 -1h1m-11 11h1m6 6h1m-2 -28h1m-1 -2h1m-7 25h1m5 -17h1m-2 14h1m-5 3h1m6 -21h1m-3 19h1m-6 -1h1m4 -13h1m2 8h1m-3 5h1m-2 1h1m3 2h1m-11 -4h1m1 9h1m6 -14h1m-3 8h1m-14 9h1m8 -31h1m1 1h1m8 7h1m-4 8h1m-5 -11h1m-7 4h1m0 3h1m2 7h1m5 11h1m-3 -32h1m-7 13h1m-4 5h1m6 -3h1m-3 -4h1m0 10h1m-1 1h1m-2 -16h1m-2 14h1m-5 -13h1m2 -10h1m2 16h1m6 -13h1m-10 10h1m0 7h1m-1 13h1m3 -28h1m-5 17h1m-5 15h1m4 -24h1m-2 -1h1m-8 0h1m9 -6h1m-7 15h1m4 -15h1m-4 10h1m0 -1h1m3 0h1m-7 27h1m0 -16h1m6 -21h1m-1 14h1m-9 2h1m2 -11h1m-4 13h1m-1 -2h1m5 3h1m-12 17h1m11 -45h1m-9 13h1m-3 -8h1m10 14h1m-4 -1h1m-2 2h1m-5 4h1m3 -15h1m-3 4h1m-1 16h1m2 -3h1m-1 -12h1m-8 2h1m5 15h1m-2 5h1m-1 -11h1m2 -13h1m-3 16h1m-5 5h1m6 -9h1m0 -9h1m-6 -13h1m-2 28h1m0 -4h1m0 -2h1m-2 7h1m-8 -13h1m4 -9h1m-2 4h1m1 -3h1m-2 23h1m3 -4h1m-1 -6h1m-11 14h1m5 -11h1m-2 -10h1m0 7h1m-5 10h1m1 -1h1m5 -13h1m-1 0h1m-6 -14h1m-2 18h1m6 -1h1m0 5h1m-6 -9h1m1 3h1m4 4h1m-12 3h1m0 9h1m-4 -23h1m0 5h1m1 8h1m3 -2h1m-4 -2h1m5 -12h1m-5 10h1m3 -25h1m-8 33h1m-4 -10h1m3 1h1m2 -14h1m3 0h1m-10 14h1m16 -30h1m-16 37h1m4 17h1m-9 -10h1m2 -10h1m2 10h1m-1 2h1m1 -17h1m-10 6h1m3 -16h1m-2 21h1m1 -3h1m0 -13h1m-4 22h1m2 -15h1m2 -18h1m-5 1h1m3 10h1m-1 23h1m-5 -13h1m2 -13h1m0 5h1m-8 8h1m4 -12h1m-2 -6h1m-4 25h1m1 -20h1m4 4h1m-4 13h1m-8 -12h1m0 4h1m2 8h1m-3 -2h1m-7 -16h1m5 7h1m5 3h1m-5 8h1m-2 -11h1m0 3h1m6 -1h1m-6 4h1m-5 -13h1m2 10h1m-2 -2h1m-3 -17h1m-1 9h1m1 5h1m-8 0h1m1 19h1m7 -8h1m1 8h1m-8 2h1m6 -9h1m-3 -18h1m-3 10h1m-4 6h1m5 -8h1m-3 -5h1m4 19h1m-4 -21h1m-4 5h1m5 12h1m-9 0h1m3 -7h1m-1 -6h1m-3 -7h1m7 17h1m-7 12h1m2 -21h1m-7 11h1m4 3h1m1 -17h1m-13 21h1m9 -18h1m-4 1h1m5 -11h1m-3 22h1m6 -10h1m-6 3h1m-8 1h1m0 -9h1m0 20h1m1 -12h1m-1 4h1m-4 10h1m4 -12h1m-4 -5h1m-2 4h1m-2 8h1m-2 2h1m4 -2h1m-12 1h1m9 -11h1m0 -7h1m-8 22h1m-2 -23h1m-2 8h1m9 7h1m-11 2h1m7 -21h1m-5 8h1m1 3h1m-3 9h1m-2 -7h1m4 6h1m6 4h1m-5 -8h1m-11 9h1m8 -19h1m-4 -7h1m-4 18h1m-2 -9h1m1 13h1m-4 -8h1m5 13h1m-4 -18h1m0 -10h1m-5 8h1m-6 8h1m13 10h1m-8 -24h1m3 16h1m-4 -8h1m-4 4h1m1 11h1m1 -15h1m-1 9h1m0 2h1m-7 -8h1m-3 -12h1m2 8h1m1 9h1m4 5h1m-7 -1h1m5 -11h1m-2 18h1m-10 -12h1m-1 -10h1m0 25h1m10 -25h1m-7 17h1m-1 -2h1m1 4h1m-1 7h1m-4 -16h1m5 -2h1m2 -7h1m2 3h1m-12 16h1m5 -14h1m-6 13h1m-5 -12h1m-2 4h1m-2 -7h1m3 11h1m-2 -10h1m-1 3h1m12 -9h1m-10 8h1m-4 -1h1m4 0h1m-3 -1h1m0 -13h1m-1 18h1m0 8h1m-10 19h1m0 -26h1m4 4h1m-3 -11h1m-2 5h1m-2 3h1m3 -6h1m-6 9h1m3 0h1m0 10h1m0 -18h1m-6 11h1m-2 -11h1m10 12h1m-8 5h1m4 -42h1m-15 33h1m5 -6h1m-5 8h1m12 3h1m-3 -9h1m-4 25h1m-5 -24h1m11 -19h1m-9 24h1m-3 1h1m3 -10h1m-5 -15h1m5 23h1m-9 -12h1m-4 -4h1m3 14h1m2 -7h1m-5 7h1m0 -11h1m6 13h1m-10 4h1m10 -20h1m-9 1h1m0 -14h1m7 9h1m-9 29h1m3 -16h1m-8 -11h1m1 20h1m4 -24h1m-6 23h1m2 -9h1m-1 -2h1m0 11h1m-9 -18h1m1 -2h1m-7 16h1m9 9h1m-4 -11h1m1 -16h1m-7 19h1m6 3h1m1 -18h1m-6 10h1m-7 7h1m5 9h1m1 -33h1m5 36h1m-1 3h1m-1 -32h1m-6 24h1m-2 -17h1m-6 3h1m3 8h1m1 -2h1m0 17h1m2 -35h1m-8 7h1m0 2h1m0 1h1m-12 1h1m4 9h1m13 5h1m-2 -14h1m-3 -6h1m-10 10h1m5 -11h1m-1 -2h1m1 8h1m1 13h1m-11 -24h1m-2 19h1m0 -2h1m2 6h1m-3 -7h1m-4 19h1m5 -32h1m2 11h1m0 -9h1m-3 0h1m-2 16h1m-3 -9h1m2 -15h1m6 17h1m-7 4h1m-4 -10h1m2 13h1m4 -5h1m-5 8h1m-2 -7h1m-9 -6h1m9 -20h1m-3 19h1m4 6h1m-9 9h1m0 -17h1m-4 13h1m-2 -15h1m7 -4h1m-3 3h1m0 11h1m-4 -7h1m-6 3h1m2 4h1m3 -2h1m-14 -13h1m3 9h1m4 8h1m-2 -2h1m3 4h1m-4 -15h1m6 19h1m-7 -12h1m-2 -3h1m2 -9h1m-6 15h1m0 -24h1m-4 16h1m4 -2h1m-8 2h1m5 10h1m1 0h1m-4 7h1m4 -10h1m-6 -12h1m-1 1h1m2 21h1m2 -12h1m-8 -1h1m1 8h1m3 -5h1m-3 -13h1m-8 12h1m10 -3h1m-7 9h1m-1 -6h1m4 5h1m-14 -5h1m7 7h1m0 -3h1m-12 -1h1m8 13h1m-3 -11h1m2 5h1m1 -11h1m1 3h1m-5 14h1m-1 -19h1m4 -8h1m-11 14h1m14 -3h1m-17 8h1m7 -8h1m3 -4h1m-2 -2h1m-9 -20h1m7 9h1m-1 24h1m-3 -12h1m1 -17h1m-5 6h1m3 3h1m-5 10h1m-1 -9h1m-3 13h1m4 18h1m-3 -12h1m-5 17h1m8 -30h1m-9 10h1m11 -17h1m-5 11h1m-14 -1h1m4 7h1m-2 -10h1m-1 -4h1m4 -8h1m-1 12h1m-1 16h1m0 -18h1m-1 -8h1m-6 30h1m-1 -22h1m3 26h1m-4 -9h1m-3 -5h1m10 -1h1m-5 -7h1m-1 -1h1m-7 16h1m1 -28h1m2 21h1m-1 11h1m0 -12h1m-6 -8h1m-2 10h1m3 -11h1m-6 3h1m0 11h1m-8 -3h1m6 0h1m-3 -2h1m-2 9h1m8 -30h1m4 1h1m-12 18h1m1 3h1m-8 -4h1m4 10h1m7 -18h1m-12 10h1m-1 -18h1m0 17h1m3 3h1m3 -14h1m-6 3h1m1 19h1m-2 -9h1m-5 -11h1m-1 15h1m8 -13h1m-3 25h1m-4 -7h1m5 -3h1m-5 -21h1m-1 17h1m1 -13h1m-6 19h1m3 -10h1m-5 3h1m-3 -5h1m5 2h1m-10 12h1m8 1h1m-10 -12h1m9 -7h1m-7 6h1m0 -9h1m-1 -8h1m-3 23h1m3 -23h1m-3 15h1m1 4h1m-5 5h1m4 -9h1m1 -7h1m-2 -17h1m3 24h1m-4 -10h1m-2 8h1m-12 23h1m7 -17h1m-1 -11h1m1 1h1m-1 -3h1m-1 -1h1m-3 30h1m-4 -34h1m3 9h1m-2 -6h1m0 17h1m1 -10h1m-4 2h1m4 12h1m-10 -11h1m-2 13h1m7 -7h1m-8 -5h1m6 19h1m-8 -20h1m8 -1h1m-5 5h1m-1 7h1m-3 -19h1m4 19h1m-9 -10h1m4 3h1m-6 11h1m3 -6h1m1 -11h1m-4 -5h1m1 21h1m5 -25h1m-4 13h1m-2 7h1m-3 -15h1m5 13h1m-8 2h1m2 -10h1m3 -8h1m-9 -8h1m7 25h1m-2 -21h1m-6 1h1m-3 22h1m-3 -2h1m1 -12h1m-3 10h1m3 -10h1m1 3h1m-5 19h1m7 -15h1m-8 -5h1m-2 -4h1m-2 18h1m-1 -20h1m2 11h1m0 -6h1m-7 -7h1m0 0h1m1 3h1m5 -10h1m-8 28h1m-2 -3h1m5 -5h1m-8 -12h1m4 11h1m-4 -6h1m0 14h1m0 -13h1m2 -11h1m-1 16h1m-1 -1h1m-4 0h1m2 16h1m-1 -23h1m-7 10h1m3 -21h1m-6 18h1m9 0h1m-5 -5h1m-4 4h1m-2 9h1m0 -22h1m-3 -4h1m7 15h1m-4 13h1m-6 -11h1m4 10h1m-9 5h1m10 -8h1m-6 2h1m3 -12h1m-5 -8h1m-9 18h1m4 7h1m-3 -9h1m4 5h1m-5 5h1m6 -10h1m-5 5h1m3 -28h1m-3 32h1m1 -18h1m-7 16h1m1 -12h1m-1 -2h1m-4 5h1m4 -9h1m-3 -1h1m-1 1h1m-1 15h1m10 4h1m-9 -7h1m-8 -6h1m6 -13h1m-1 33h1m-3 -12h1m6 -14h1m-12 10h1m6 -12h1m-8 25h1m7 -17h1m-6 13h1m-2 6h1m-2 -19h1m-2 -5h1m8 9h1m-10 0h1m-1 -1h1m12 -14h1m-13 -5h1m4 7h1m-10 12h1m10 -1h1m-7 -10h1m1 16h1m0 1h1m-3 -13h1m-4 8h1m13 1h1m-8 -5h1m-8 12h1m4 6h1m-3 -27h1m2 20h1m-2 -26h1m3 28h1m-11 -16h1m1 2h1m0 6h1m-3 -2h1m9 1h1m-10 -14h1m-2 8h1m0 -3h1m5 6h1m-10 10h1m3 3h1m1 -10h1m4 -10h1m-8 14h1m-1 -4h1m3 -11h1m-7 5h1m8 7h1m-6 4h1m-1 2h1m2 -24h1m-1 11h1m-6 21h1m3 -12h1m-10 3h1m4 -11h1m-3 -5h1m6 4h1m4 -12h1m-10 22h1m-2 -25h1m-13 29h1m11 -16h1m-6 24h1m5 -25h1m9 16h1m-6 -9h1m1 -7h1m-5 21h1m-6 -1h1m0 -8h1m11 -3h1m-9 -14h1m-9 21h1m7 -9h1m1 17h1m1 -23h1m-8 -13h1m2 27h1m-12 7h1m5 -19h1m10 5h1m-9 -5h1m2 -6h1m-1 5h1m-2 10h1m-3 -4h1m-4 -8h1m11 3h1m-7 1h1m-6 16h1m-3 -9h1m4 -3h1m-2 -8h1m-5 6h1m8 -6h1m-7 -9h1m-4 35h1m1 -22h1m0 -6h1m3 -13h1m0 12h1m-6 -1h1m8 19h1m-7 -9h1m2 -8h1m-10 7h1m2 10h1m3 17h1m-8 -16h1m4 -10h1m-7 -8h1m8 4h1m-6 9h1m4 -10h1m-9 6h1m2 12h1m9 -11h1m-3 -5h1m-12 6h1m4 -7h1m0 23h1m4 -11h1m-11 -17h1m-3 17h1m1 5h1m-3 -1h1m3 -18h1m4 2h1m-9 3h1m-2 4h1m4 -2h1m2 -9h1m-3 3h1m-3 15h1m-2 0h1m2 -25h1m-7 -6h1m-2 24h1m7 11h1m-8 -1h1m8 -1h1m-1 -14h1m-8 0h1m2 4h1m-2 -11h1m-1 27h1m-5 -17h1m9 4h1m-8 -17h1m-4 20h1m6 -4h1m-6 -3h1m1 12h1m-6 -13h1m0 -8h1m4 21h1m-8 -11h1m1 -11h1m2 24h1m2 0h1m-10 -13h1m-7 -12h1m25 -12h1m-19 21h1m17 -22h1m-19 37h1m9 4h1m8 -12h1m-14 -13h1m27 20h1m-9 -6h1m-30 -8h1m7 2h1m3 -30h1m19 32h1m-7 5h1m-19 -6h1m-11 8h1m-5 -12h1m9 1h1m12 -3h1m5 -17h1m-20 46h1m0 -15h1m-5 -18h1m10 19h1m-12 -15h1m-1 -8h1m20 16h1m7 -20h1m-18 29h1m6 15h1m-10 -32h1m8 -8h1m-26 -8h1m10 24h1m17 -6h1m-7 -14h1m-1 -13h1m0 -6h1m17 9h1m-34 10h1m22 4h1m-3 1h1m-17 4h1m0 -6h1m10 24h1m-2 0h1m3 -2h1m-12 -18h1m0 13h1m-6 -17h1m-1 9h1m6 -7h1m-4 16h1m21 -7h1m-25 -8h1m17 -1h1m-15 -27h1m-16 37h1m7 15h1m16 -11h1m-19 -8h1m16 -7h1m-20 -16h1m7 37h1m-2 0h1m-11 -21h1m18 2h1m-2 -8h1m10 26h1m-9 -26h1m-12 12h1m11 28h1m-15 -13h1m-4 -11h1m32 -9h1m-13 -5h1m2 0h1m-21 -19h1m0 27h1m8 4h1m-9 -6h1m13 28h1m-17 -35h1m7 16h1m8 4h1m-4 -1h1m-13 -17h1m11 18h1m-2 -4h1m-4 -20h1m-10 28h1m-9 -11h1m7 -29h1m-19 12h1m1 16h1m8 -7h1m18 5h1m-25 6h1m0 2h1m18 -5h1m-4 2h1m4 -2h1m-4 0h1m-2 11h1m1 -30h1m10 21h1m-26 -10h1m15 15h1m9 -23h1m-8 34h1m-2 -7h1m7 -21h1m-8 -7h1m-19 25h1m2 -12h1m-8 -3h1m20 7h1m-18 -7h1m0 19h1m15 -8h1m11 -21h1m-37 17h1m13 16h1m-18 0h1m16 -1h1m-2 -14h1m-5 -17h1m10 45h1m-18 -34h1m0 -2h1m20 17h1m5 3h1m-6 11h1m-17 -43h1m7 21h1m-15 16h1m3 -36h1m-1 -3h1m-1 16h1m5 24h1m-3 -7h1m-40 -18h1m33 -7h1m1 13h1m19 -9h1m-18 1h1m11 0h1m5 3h1m-21 -20h1m-8 45h1m7 -25h1m-11 13h1m25 7h1m6 1h1m-34 -25h1m15 7h1m-10 0h1m-21 17h1m22 -3h1m9 -13h1m-23 6h1m32 2h1m-15 -8h1m8 8h1m-28 9h1m14 8h1m29 -26h1m-30 3h1m5 4h1m-11 0h1m3 -25h1m-3 20h1m13 13h1m-11 -31h1m1 31h1m-6 -16h1m5 -13h1m13 5h1m-27 18h1m10 -16h1m-9 8h1m14 17h1m-15 -9h1m-25 -8h1m21 25h1m13 -37h1m-6 20h1m-14 -29h1m6 13h1m-10 19h1m-15 17h1m28 -44h1m18 -1h1m-23 29h1m9 -1h1m-2 -32h1m-12 40h1m7 -19h1m-15 2h1m-5 0h1m27 -4h1m-8 11h1m-41 -8h1m35 -24h1m-24 19h1m16 14h1m0 -19h1m-3 7h1m10 -31h1m-8 38h1m-9 -24h1m16 17h1m-14 5h1m20 -3h1m-34 -8h1m4 2h1m-6 34h1m11 -32h1m21 20h1m-12 -17h1m-3 4h1m-13 -14h1m4 -4h1m-35 31h1m23 -41h1m5 5h1m11 9h1m-21 33h1m12 15h1m-18 -25h1m20 -9h1m-2 16h1m-9 -13h1m7 -18h1m2 8h1m-19 12h1m17 -14h1m-24 -4h1m13 33h1m8 -14h1m-8 -5h1m-10 9h1m6 -17h1m-11 -6h1m20 5h1m-1 17h1m9 -10h1m-24 15h1m0 -15h1m6 0h1m-9 1h1m-2 16h1m4 14h1m-18 -40h1m7 9h1m8 -10h1m7 14h1m-23 -7h1m9 6h1m-16 0h1m15 -14h1m21 5h1m-32 9h1m16 -2h1m6 -13h1m-9 3h1m-28 35h1m17 -8h1m5 -44h1m16 23h1m-10 12h1m-4 -14h1m-31 -2h1m1 19h1m16 -8h1m9 -11h1m-33 10h1m11 -8h1m4 -13h1m8 23h1m14 11h1m-15 -28h1m-6 4h1m-6 -1h1m14 7h1m-5 9h1m-9 -11h1m12 11h1m-1 7h1m2 0h1m-19 1h1m4 -12h1m-1 -9h1m4 10h1m6 -18h1m-6 9h1m-10 36h1m-6 -9h1m-4 -26h1m24 8h1m-8 19h1m18 -25h1m7 14h1m2 -16h1m-23 -11h1m-6 26h1m0 -9h1m-1 -27h1m-1 22h1m14 18h1m5 -21h1m-14 14h1m-2 -12h1m8 -17h1m-19 26h1m10 7h1m5 -3h1m-7 -8h1m33 -17h1m-33 11h1m9 -7h1m-24 29h1m5 -23h1m-10 0h1m-10 9h1m31 -3h1m-6 -11h1m11 28h1m-2 -20h1m-15 -4h1m-9 3h1m-5 17h1m12 -19h1m-2 8h1m4 -1h1m-17 -9h1m20 5h1m-18 6h1m-5 2h1m19 -1h1m4 -9h1m-32 2h1m-1 7h1m-4 22h1m7 -26h1m19 -13h1m1 23h1m-9 -10h1m-13 -3h1m31 -6h1m-33 8h1m12 6h1m-1 0h1m-3 -1h1m0 -20h1m9 11h1m15 7h1m-16 12h1m-27 -9h1m1 -19h1m20 -12h1m-20 28h1m5 -11h1m12 20h1m0 -6h1m-9 0h1m-9 -6h1m-7 7h1m-10 -10h1m16 6h1m-19 -1h1m23 9h1m-14 -18h1m22 23h1m-10 -2h1m-28 -11h1m33 5h1m-25 -5h1m23 -1h1m-4 -15h1m-13 14h1m12 -5h1m-6 13h1m15 -11h1m-12 -1h1m-4 22h1m1 -27h1m1 17h1m-25 -12h1m-5 13h1m30 -1h1m-8 0h1m11 -8h1m-20 4h1m-7 -11h1m15 2h1m-36 5h1m18 3h1m0 2h1m20 -6h1m-18 2h1m-5 11h1m19 -16h1m-6 2h1m-20 4h1m19 -26h1m-9 23h1m-26 -2h1m23 3h1m-2 3h1m-17 4h1m37 3h1m-13 -16h1m-2 4h1m-19 7h1m10 -14h1m-10 10h1m3 21h1m10 -28h1m-15 15h1m28 -18h1m-32 -2h1m2 -5h1m-2 24h1m-8 8h1m42 -20h1m-42 -2h1m13 7h1m-18 7h1m19 -50h1m-36 13h1m5 -4h1m4 2h1m-11 5h1m12 3h1m-15 -12h1m10 1h1m-15 -8h1m20 12h1m-11 -16h1m7 13h1m1 6h1m-3 1h1m11 -31h1m-10 15h1m-12 5h1m-11 5h1m28 6h1m-10 -11h1m-21 4h1m24 -2h1m53 52h1m4 -19h1m-8 -41h1m-7 -4h1m-8 -2h1" stroke="#000" stroke-width="1.0" fill="none" opacity="0.86"/>
<path d="M273.6 1914.2L273.6 2116.2" stroke="#000" stroke-width="2.2" fill="none" />
<path d="M175.9 2035.9L387.6 2035.9" stroke="#000" stroke-width="2.0" fill="none" />
<text x="184.5" y="1942.4" font-size="18.2" textLength="25.2" lengthAdjust="spacingAndGlyphs">2.1</text>
<text x="369.5" y="1942.4" font-size="18.2" text-anchor="end" textLength="25.8" lengthAdjust="spacingAndGlyphs">0.0</text>
<text x="184.5" y="2098.6" font-size="18.2" textLength="36.6" lengthAdjust="spacingAndGlyphs">97.3</text>
<text x="369.5" y="2098.6" font-size="18.2" text-anchor="end" textLength="25.8" lengthAdjust="spacingAndGlyphs">0.5</text>
<rect x="422.9" y="1914.2" width="206.7" height="201" fill="#fff" stroke="#000" stroke-width="1.1"/>
<path d="M422.9 1933.8h-5.4M422.9 1981.5h-5.4M422.9 2035.9h-5.4M422.9 2102.6h-5.4" stroke="#000" stroke-width="2.7" fill="none"/>
<rect x="417.3" y="2063.7" width="5.6" height="10" fill="#000"/>
<path d="M422.9 2019.5h-2.6M422.9 2009.9h-2.6M422.9 2003.1h-2.6M422.9 1993.6h-2.6M422.9 1989.9h-2.6M422.9 1986.8h-2.6M422.9 1984h-2.6M422.9 1967.1h-2.6M422.9 1958.7h-2.6M422.9 1952.8h-2.6M422.9 1944.4h-2.6M422.9 1941.2h-2.6M422.9 1938.4h-2.6M422.9 1936h-2.6M422.9 1919.4h-2.6M422.9 2059.7h-2.6M422.9 2055.8h-2.6M422.9 2047.8h-2.6M422.9 2043.8h-2.6M422.9 2039.9h-2.6M422.9 2077.8h-2.6M422.9 2082h-2.6M422.9 2090.2h-2.6M422.9 2094.3h-2.6M422.9 2098.5h-2.6M422.9 2110h-2.6" stroke="#000" stroke-width="1.3" fill="none"/>
<path d="M422.9 1997.9h-3.8M422.9 1948.2h-3.8M422.9 2051.8h-3.8M422.9 2086.1h-3.8" stroke="#000" stroke-width="2" fill="none"/>
<text x="413.3" y="1937.4" font-size="7.1" text-anchor="end" fill="#222">10<tspan dy="-4.2">5</tspan></text>
<text x="413.3" y="1985.1" font-size="7.1" text-anchor="end" fill="#222">10<tspan dy="-4.2">4</tspan></text>
<text x="413.3" y="2039.5" font-size="7.1" text-anchor="end" fill="#222">10<tspan dy="-4.2">3</tspan></text>
<text x="409.9" y="2071.5" font-size="7.1" text-anchor="end" fill="#222">0</text>
<text x="413.3" y="2106.2" font-size="7.1" text-anchor="end" fill="#222">-10<tspan dy="-4.2">3</tspan></text>
<rect x="462.4" y="2115.2" width="18.4" height="3.2" fill="#000"/>
<path d="M464.1 2115.2v5.3M468.3 2115.2v5.3M472.4 2115.2v5.3M479.1 2115.2v5.3M515.7 2115.2v5.3M566.1 2115.2v5.3M609.1 2115.2v5.3" stroke="#000" stroke-width="3.3" fill="none"/>
<path d="M438.7 2115.2v3.8M498.7 2115.2v3.8M550.9 2115.2v3.8M596.2 2115.2v3.8" stroke="#000" stroke-width="2.3" fill="none"/>
<path d="M430.8 2115.2v2.3M433.7 2115.2v2.3M444.4 2115.2v2.3M449.4 2115.2v2.3M456.6 2115.2v2.3M483.8 2115.2v2.3M487.9 2115.2v2.3M494.4 2115.2v2.3M503 2115.2v2.3M506.6 2115.2v2.3M509.4 2115.2v2.3M511.6 2115.2v2.3M530.9 2115.2v2.3M539.7 2115.2v2.3M546 2115.2v2.3M554.9 2115.2v2.3M558.3 2115.2v2.3M561.2 2115.2v2.3M563.8 2115.2v2.3M579 2115.2v2.3M586.6 2115.2v2.3M592 2115.2v2.3M599.6 2115.2v2.3M602.4 2115.2v2.3M604.9 2115.2v2.3M607.1 2115.2v2.3M622 2115.2v2.3" stroke="#000" stroke-width="1.4" fill="none"/>
<text x="470" y="2132.5" font-size="7.1" text-anchor="middle" fill="#222">0</text>
<text x="516.4" y="2133" font-size="7.1" fill="#222">10<tspan dy="-5" font-size="7.1">3</tspan></text>
<text x="566.2" y="2133" font-size="7.1" fill="#222">10<tspan dy="-5" font-size="7.1">4</tspan></text>
<text x="609.6" y="2133" font-size="7.1" fill="#222">10<tspan dy="-5" font-size="7.1">5</tspan></text>
<path d="M465 2066.5h1m1 19h1m2 -35h1m-9 10h1m5 5h1m-2 11h1m1 -4h1m-4 -12h1m3 4h1m-3 -15h1m-6 13h1m5 -12h1m2 26h1m-10 -12h1m0 -2h1m1 1h1m-5 -3h1m-1 5h1m9 -7h1m-6 8h1m2 -5h1m1 19h1m-6 -3h1m7 -13h1m-9 -13h1m-6 16h1m5 -14h1m-2 -11h1m-5 25h1m3 -13h1m-5 39h1m2 -37h1m-3 18h1m1 -21h1m6 9h1m-4 4h1m-2 -2h1m4 -2h1m-5 -9h1m1 12h1m-6 -11h1m-4 17h1m-3 -9h1m-4 11h1m10 -14h1m-6 13h1m3 -4h1m-3 2h1m0 3h1m-3 -4h1m-9 -2h1m10 -6h1m0 9h1m-1 -7h1m-7 1h1m3 15h1m3 -21h1m-4 9h1m0 -12h1m-7 12h1m1 4h1m3 -24h1m3 20h1m-6 -10h1m-6 -2h1m4 -10h1m-6 18h1m6 -13h1m-3 12h1m-1 4h1m-2 5h1m-1 -14h1m-4 0h1m5 2h1m-4 10h1m-2 -7h1m-11 4h1m11 0h1m2 7h1m-6 -1h1m3 -7h1m-7 -2h1m-4 -19h1m4 14h1m0 -1h1m1 -6h1m-2 4h1m1 13h1m1 -14h1m-4 17h1m-3 -11h1m-6 13h1m2 -14h1m2 11h1m-4 -4h1m-2 -5h1m-3 9h1m-2 -17h1m3 9h1m-3 -2h1m5 -3h1m-7 8h1m-2 -9h1m1 -10h1m4 15h1m-4 -4h1m-2 18h1m-3 -16h1m6 8h1m-1 13h1m-6 -12h1m1 -6h1m0 7h1m-2 0h1m-3 -7h1m-1 0h1m-4 -5h1m-1 17h1m2 -8h1m-5 4h1m5 1h1m0 12h1m-7 -13h1m7 2h1m-3 -7h1m-3 6h1m2 1h1m-4 0h1m3 3h1m-4 -19h1m-3 5h1m5 -3h1m-3 -12h1m-3 24h1m-3 -8h1m-7 9h1m4 -14h1m-2 1h1m-3 15h1m5 2h1m-9 -1h1m5 -12h1m2 2h1m1 1h1m-6 -12h1m-9 -10h1m11 20h1m-8 -7h1m3 -2h1m-6 8h1m-2 -1h1m12 11h1m-8 -14h1m-4 -7h1m3 7h1m-3 25h1m3 -20h1m-5 -10h1m4 6h1m-5 25h1m6 -15h1m-11 7h1m1 -4h1m-2 10h1m2 -9h1m2 -14h1m-6 3h1m0 23h1m2 -15h1m-1 0h1m-5 -4h1m-3 4h1m0 -7h1m0 -6h1m2 10h1m2 15h1m-3 -25h1m-7 -1h1m-1 0h1m-3 10h1m7 6h1m-5 -26h1m-2 25h1m5 -22h1m0 13h1m-7 14h1m1 -10h1m-4 -5h1m2 6h1m-5 -12h1m4 -6h1m-8 -1h1m3 12h1m-1 -3h1m-2 14h1m1 -9h1m-2 -3h1m2 2h1m-1 2h1m0 0h1m4 -6h1m-13 4h1m7 -3h1m-11 -7h1m4 3h1m5 16h1m-8 -2h1m3 -15h1m-7 18h1m1 3h1m-5 -9h1m12 1h1m-10 10h1m5 -2h1m-4 -12h1m-5 4h1m3 -4h1m5 3h1m-12 -3h1m2 17h1m0 -5h1m-3 -10h1m-3 6h1m-5 -6h1m10 -16h1m-4 19h1m-2 -7h1m-2 -2h1m1 -4h1m-1 11h1m8 2h1m-8 8h1m-4 8h1m-3 -18h1m5 2h1m2 0h1m-14 -6h1m5 -3h1m3 10h1m3 -5h1m-10 -8h1m-2 15h1m5 -15h1m-9 10h1m3 -7h1m0 0h1m2 11h1m-1 -11h1m-7 16h1m2 -7h1m0 -5h1m-2 -22h1m-1 23h1m-2 7h1m1 -4h1m-8 -1h1m7 -10h1m-1 8h1m1 -7h1m-9 9h1m4 2h1m1 11h1m-7 -1h1m2 -28h1m-10 14h1m5 -5h1m5 -6h1m-13 27h1m9 -15h1m-3 -1h1m2 8h1m-3 -2h1m0 -13h1m-3 11h1m-3 -2h1m8 -4h1m-4 -5h1m0 -16h1m-1 40h1m-3 -16h1m-3 -11h1m1 2h1m-14 17h1m14 -9h1m-1 2h1m-7 12h1m3 -31h1m2 18h1m-3 -6h1m-3 -5h1m-2 12h1m-1 -17h1m1 27h1m-10 2h1m9 -7h1m-6 -5h1m3 -4h1m4 -6h1m-8 -4h1m-3 13h1m4 -1h1m-11 1h1m3 -15h1m9 2h1m-10 20h1m0 -11h1m2 -7h1m0 0h1m-7 8h1m0 5h1m0 -8h1m-4 13h1m4 -1h1m-1 -8h1m-9 1h1m2 8h1m13 -19h1m-10 0h1m0 18h1m-1 -10h1m-3 12h1m-1 -8h1m1 -4h1m-5 11h1m-4 -15h1m2 6h1m2 4h1m-5 6h1m-5 -13h1m6 4h1m-2 -9h1m9 -3h1m-5 11h1m-6 -12h1m-4 24h1m3 -26h1m-2 3h1m0 10h1m-9 2h1m6 -10h1m1 9h1m3 3h1m-7 -14h1m-1 -13h1m4 30h1m-4 -9h1m-5 -5h1m-6 24h1m-1 -3h1m8 -11h1m-5 7h1m2 -15h1m-6 3h1m8 2h1m-12 -3h1m6 11h1m-7 -7h1m-1 -26h1m2 15h1m4 15h1m-6 -9h1m-1 3h1m-8 19h1m6 -20h1m5 2h1m-3 6h1m-9 5h1m8 -13h1m-3 -6h1m-8 18h1m10 -19h1m-9 19h1m-5 -11h1m5 8h1m0 -6h1m7 1h1m-8 -2h1m2 -11h1m-6 16h1m4 0h1m-7 -6h1m0 -11h1m-3 20h1m6 -2h1m-12 -16h1m4 22h1m-4 -4h1m3 -14h1m5 1h1m-5 9h1m3 0h1m0 -7h1m-3 16h1m-6 -21h1m3 20h1m-3 -14h1m-4 16h1m-2 -18h1m1 2h1m0 -5h1m-2 7h1m1 0h1m1 0h1m-2 -11h1m-3 28h1m-7 -4h1m6 -24h1m0 19h1m1 -11h1m3 -2h1m-7 10h1m-4 -4h1m5 -12h1m-7 14h1m7 -2h1m-8 5h1m-6 -5h1m11 -18h1m-8 12h1m-14 12h1m10 -5h1m7 -4h1m-10 -3h1m2 8h1m-4 12h1m1 -13h1m-1 14h1m1 -16h1m-2 3h1m5 -10h1m-7 6h1m-1 -1h1m-5 8h1m0 4h1m1 -21h1m-2 11h1m-3 -5h1m6 8h1m-5 14h1m-2 -13h1m4 -6h1m-2 -4h1m-4 10h1m-7 -21h1m13 27h1m-11 -7h1m3 -19h1m-2 26h1m-3 -7h1m1 5h1m-3 5h1m4 -4h1m2 -14h1m-6 12h1m3 -15h1m-7 7h1m0 3h1m2 -8h1m-12 16h1m-2 11h1m8 1h1m-6 -16h1m-1 -9h1m10 15h1m-11 -11h1m3 -5h1m-4 23h1m6 -20h1m-8 6h1m11 -6h1m-8 -9h1m-5 22h1m3 -6h1m-9 -7h1m6 32h1m4 -30h1m-15 4h1m10 -12h1m-2 12h1m-8 -1h1m12 -23h1m-8 24h1m-6 5h1m-1 -8h1m4 -10h1m-6 22h1m9 -15h1m-3 -1h1m-9 4h1m-1 -6h1m1 8h1m6 -3h1m-7 -3h1m3 1h1m1 -9h1m-15 33h1m6 -17h1m2 -18h1m-3 8h1m-3 12h1m5 -3h1m-6 -12h1m2 -9h1m-2 25h1m3 21h1m-6 -15h1m-8 -17h1m6 20h1m6 -36h1m-11 19h1m3 2h1m4 -1h1m0 -14h1m3 5h1m-6 26h1m-1 -31h1m-11 28h1m4 -11h1m-1 -13h1m-5 11h1m0 3h1m10 -3h1m-12 10h1m1 -5h1m-3 -9h1m6 16h1m-5 -15h1m-6 -2h1m3 10h1m-1 -8h1m-7 10h1m3 -16h1m6 -1h1m-2 5h1m0 12h1m-6 -1h1m4 -10h1m-9 1h1m3 3h1m-5 2h1m0 1h1m-2 2h1m7 7h1m-9 -18h1m1 6h1m2 15h1m4 -30h1m-2 14h1m-10 -13h1m7 10h1m-5 19h1m-3 -14h1m0 -7h1m-3 8h1m-3 6h1m7 -2h1m6 -16h1m-10 24h1m-5 -14h1m0 6h1m3 -10h1m-2 -12h1m1 2h1m-5 11h1m-5 -4h1m7 8h1m-7 -12h1m4 6h1m-4 0h1m2 -15h1m-9 14h1m13 8h1m-12 -1h1m14 -1h1m-14 -4h1m1 15h1m3 -7h1m0 -15h1m-10 22h1m3 -23h1m-2 6h1m0 -4h1m0 -8h1m-1 22h1m2 13h1m1 -22h1m-13 17h1m2 -17h1m4 14h1m-12 -9h1m8 8h1m2 -9h1m-8 -4h1m1 13h1m0 -4h1m-7 8h1m6 -30h1m-4 10h1m-1 0h1m-2 7h1m1 10h1m-5 -10h1m11 -3h1m-10 10h1m-1 -16h1m2 33h1m-10 -28h1m8 -7h1m-4 18h1m5 -14h1m-9 17h1m2 -16h1m-1 -2h1m5 6h1m-9 -2h1m-1 12h1m7 -14h1m1 6h1m-12 12h1m-1 18h1m1 -31h1m1 3h1m-2 -13h1m4 -5h1m-2 9h1m-6 16h1m-1 -8h1m-1 5h1m2 -5h1m-2 14h1m-10 -11h1m9 -7h1m-3 -6h1m-4 11h1m3 5h1m-7 -6h1m5 0h1m0 -15h1m0 9h1m6 2h1m-10 15h1m6 -6h1m-8 -11h1m-2 8h1m-1 15h1m-1 3h1m2 -25h1m-2 3h1m-2 1h1m0 -8h1m1 -5h1m-1 21h1m-2 -14h1m-6 -2h1m2 2h1m1 3h1m-1 3h1m-1 -1h1m-1 -17h1m-6 14h1m-3 21h1m1 -17h1m0 6h1m0 0h1m0 0h1m6 0h1m-6 4h1m1 -8h1m-9 -8h1m7 3h1m-2 5h1m-9 -9h1m-1 20h1m10 -6h1m-10 2h1m5 -7h1m0 -4h1m-9 8h1m0 5h1m-4 -10h1m2 10h1m2 12h1m0 -21h1m-7 2h1m4 -7h1m0 -1h1m-8 14h1m1 -2h1m1 -3h1m-3 -9h1m-2 6h1m8 -1h1m-6 -3h1m-4 25h1m-1 -33h1m-1 23h1m9 -18h1m-3 1h1m-6 7h1m5 -4h1m-6 -2h1m-2 11h1m3 2h1m-2 1h1m1 -12h1m0 0h1m-3 9h1m-4 -15h1m-2 17h1m0 -9h1m1 -16h1m-8 15h1m4 -4h1m-8 27h1m7 -17h1m-2 11h1m-5 -6h1m6 -13h1m-1 -3h1m-4 9h1m-7 6h1m3 -11h1m-2 9h1m6 -18h1m-3 12h1m-2 -7h1m-4 -2h1m3 -6h1m-5 5h1m1 19h1m1 7h1m-1 -8h1m-2 -12h1m1 -10h1m-3 5h1m0 4h1m-3 -16h1m5 15h1m0 -6h1m-11 14h1m-2 -10h1m7 -3h1m-5 9h1m0 0h1m-7 -9h1m2 13h1m-3 -15h1m4 10h1m-3 12h1m0 -23h1m-2 3h1m-2 7h1m5 -27h1m-5 13h1m4 -1h1m0 26h1m-9 -15h1m15 12h1m3 5h1m-15 -7h1m-10 -26h1m-8 18h1m9 5h1m8 3h1m15 -3h1m-38 -4h1m7 -2h1m5 -4h1m2 5h1m-4 8h1m-8 3h1m0 -4h1m16 -10h1m-2 6h1m-19 6h1m12 -18h1m0 -4h1m0 4h1m6 -10h1m-10 31h1m-7 -11h1m23 -1h1m-23 11h1m5 9h1m12 -28h1m-23 8h1m15 -6h1m-25 22h1m8 -9h1m5 -26h1m-20 14h1m23 10h1m-7 -3h1m-8 -8h1m3 23h1m2 -24h1m3 1h1m-5 13h1m4 3h1m6 -22h1m-8 2h1m-1 11h1m-3 -15h1m14 14h1m-24 7h1m10 -9h1m-21 -18h1m19 27h1m-5 8h1m-15 -16h1m-2 -8h1m-17 -1h1m26 6h1m8 28h1m-12 -22h1m3 1h1m-6 2h1m-6 -10h1m-6 31h1m30 -30h1m-24 23h1m5 -10h1m-2 -12h1m1 -7h1m-7 3h1m9 -8h1m4 16h1m-7 13h1m-4 -8h1m4 10h1m-4 2h1m15 -4h1m-16 13h1m5 -38h1m-8 -8h1m-7 28h1m7 -3h1m-4 -9h1m-5 11h1m8 -1h1m-13 -6h1m10 -1h1m-20 6h1m-5 4h1m25 -11h1m4 -19h1m-7 15h1m-3 -9h1m-8 22h1m-12 -13h1m11 -3h1m-8 20h1m11 -31h1m-4 26h1m-17 -16h1m6 25h1m16 -10h1m-16 16h1m10 -34h1m-10 5h1m-3 -12h1m7 12h1m-4 6h1m4 1h1m-18 10h1m4 -2h1m-6 3h1m-2 -23h1m9 29h1m15 -26h1m-21 4h1m7 6h1m-9 12h1m17 0h1m-5 -7h1m-18 -4h1m20 -10h1m-21 -4h1m6 5h1m-12 -2h1m28 -1h1m-19 -5h1m-6 23h1m-15 -25h1m24 14h1m3 -4h1m-15 16h1m6 -8h1m3 -10h1m-12 5h1m21 -2h1m-26 12h1m6 -20h1m23 10h1m-22 2h1m1 -8h1m-1 -5h1m-10 16h1m6 -2h1m2 10h1m-6 8h1m-2 -12h1m-1 3h1m-5 -26h1m1 4h1m7 16h1m11 -21h1m-16 33h1m2 -20h1m1 13h1m-6 -10h1m-13 19h1m18 -1h1m-8 -23h1m-20 21h1m0 -19h1m29 28h1m-22 -10h1m6 -17h1m5 4h1m-20 3h1m19 28h1m-13 -17h1m-5 -2h1m7 7h1m-19 -15h1m29 2h1m-8 -2h1m-5 -8h1m6 30h1m-14 -33h1m23 17h1m-11 -21h1m-1 8h1m-21 7h1m6 -2h1m-1 -7h1m-1 -5h1m-9 16h1m23 0h1m-13 -17h1m12 21h1m-22 -5h1m1 -13h1m7 21h1m-12 -7h1m7 -4h1m-11 -8h1m22 -8h1m-15 16h1m-8 -13h1m12 12h1m-8 -5h1m-1 3h1m3 38h1m9 -40h1m-3 -14h1m3 15h1m-21 -13h1m6 27h1m-4 -40h1m1 47h1m-3 8h1m-3 -17h1m20 -24h1m-9 11h1m-11 -3h1m1 7h1m-5 26h1m-8 -21h1m4 -5h1m6 4h1m20 -25h1m-8 21h1m-18 -6h1m-2 15h1m17 1h1m-22 -7h1m12 2h1m4 -3h1m-2 2h1m-4 -3h1m-22 6h1m32 -10h1m-23 -26h1m3 42h1m-12 -25h1m6 12h1m-7 2h1m-3 -9h1m3 -3h1m14 12h1m-16 -14h1m11 8h1m-2 8h1m-7 16h1m3 -20h1m4 -10h1m-8 30h1m12 -8h1m0 -13h1m-10 -3h1m-3 4h1m3 -7h1m6 2h1m9 13h1m-8 3h1m-2 -5h1m1 -4h1m3 -14h1m-6 22h1m-21 -15h1m36 9h1m-15 -15h1m-18 20h1m2 -17h1m-5 0h1m16 -10h1m-8 39h1m-2 -20h1m6 6h1m-7 -7h1m-3 15h1m0 -10h1m-5 -29h1m16 42h1m-2 -32h1m-13 6h1m-14 -2h1m7 17h1m8 -2h1m20 1h1m-39 8h1m3 -11h1m5 -4h1m14 10h1m4 -5h1m1 2h1m-21 -4h1m2 -11h1m0 10h1m-7 1h1m3 -1h1m-22 5h1m26 16h1m-17 -9h1m1 -18h1m6 -4h1m-11 15h1m0 -11h1m-1 -4h1m10 8h1m-8 9h1m-6 -1h1m26 -18h1m-20 15h1m2 -16h1m10 21h1m-3 -14h1m-9 15h1m-20 -44h1m20 6h1m-16 -7h1m16 3h1m-11 4h1m-7 3h1m8 -1h1m16 -11h1m-29 -1h1m6 4h1m-14 5h1m-7 -8h1m21 -5h1m-7 12h1m6 -1h1m-10 -5h1m-8 5h1m5 -12h1m81 34h1m-27 14h1m1 -58h1m15 73h1m-23 -76h1" stroke="#000" stroke-width="1.0" fill="none" opacity="0.86"/>
<path d="M465 2065.5h1m5 0h1m-3 3h1m1 -11h1m-12 1h1m6 5h1m-1 4h1m-10 -19h1m11 20h1m-5 3h1m7 -1h1m-4 -2h1m-4 -1h1m-7 3h1m6 -11h1m-2 -1h1m-1 7h1m-1 5h1m0 3h1m4 -11h1m-9 -12h1m1 11h1m-3 6h1m4 -8h1m-2 3h1m4 -8h1m-14 31h1m3 -12h1m3 -17h1m2 -3h1m-3 -3h1m-4 16h1m1 -9h1m3 -7h1m-10 34h1m6 -20h1m-8 -2h1m3 -8h1m-2 6h1m-3 14h1m-2 10h1m0 -20h1m3 10h1m-5 -8h1m5 -8h1m-4 -12h1m1 22h1m-10 -21h1m0 23h1m1 12h1m3 -19h1m-5 -1h1m4 -7h1m2 6h1m-7 5h1m-6 11h1m3 -4h1m0 -7h1m-4 8h1m-1 -3h1m-5 -2h1m-3 2h1m8 -9h1m-2 0h1m-2 8h1m4 -7h1m-6 11h1m-4 3h1m8 6h1m2 -22h1m-5 1h1m-11 13h1m14 -18h1m-7 11h1m0 5h1m-1 -24h1m-3 16h1m-1 -13h1m-3 1h1m5 7h1m-11 0h1m2 -5h1m4 4h1m-5 7h1m2 -13h1m0 22h1m-3 -19h1m1 10h1m-4 -11h1m4 14h1m-8 5h1m7 -9h1m-5 0h1m-3 -1h1m6 0h1m-9 8h1m2 1h1m-1 -24h1m1 6h1m-3 10h1m-9 12h1m2 -7h1m8 -5h1m-8 2h1m5 -21h1m-11 18h1m9 -3h1m-6 19h1m-9 -30h1m6 12h1m4 -8h1m-11 18h1m0 -18h1m9 11h1m-3 4h1m-1 -14h1m-7 18h1m1 -9h1m1 -3h1m-3 4h1m0 14h1m-2 -21h1m4 20h1m-12 -13h1m4 -3h1m2 -9h1m-2 11h1m-4 1h1m6 4h1m-6 -11h1m8 -2h1m-14 12h1m1 -3h1m2 -5h1m0 -3h1m-2 2h1m2 3h1m-9 3h1m2 -5h1m-1 3h1m-2 5h1m-3 12h1m3 -11h1m-1 -6h1m-2 -3h1m4 -2h1m-4 -3h1m-3 12h1m-2 -3h1m5 -13h1m-3 -2h1m-5 17h1m1 -4h1m-1 -9h1m-4 14h1m7 -10h1m-5 -3h1m1 -7h1m-3 1h1m2 20h1m-4 -7h1m0 8h1m-5 -5h1m4 0h1m-5 -7h1m3 9h1m-3 -16h1m2 11h1m-6 18h1m-4 -5h1m8 -11h1m-5 -7h1m3 7h1m-4 -1h1m-1 5h1m-5 13h1m3 -31h1m-3 13h1m5 -10h1m-6 18h1m-2 -1h1m7 9h1m-11 -30h1m-2 9h1m10 11h1m-2 -1h1m-9 9h1m1 -12h1m1 -3h1m3 7h1m-6 -3h1m-2 -3h1m0 9h1m-2 6h1m2 -11h1m-7 -2h1m-3 3h1m-1 -2h1m5 7h1m-8 -1h1m6 -6h1m1 5h1m-7 -3h1m-1 -7h1m-1 -1h1m2 8h1m-1 -5h1m4 8h1m-6 -2h1m4 -8h1m-6 -5h1m0 12h1m-5 2h1m2 -17h1m2 -3h1m2 11h1m-7 -3h1m4 -5h1m-1 17h1m-4 -4h1m-4 7h1m-1 -9h1m-1 0h1m-2 6h1m2 -15h1m-3 6h1m-5 9h1m-2 -13h1m7 8h1m-5 -10h1m-6 17h1m11 -14h1m-7 15h1m3 -16h1m-4 -11h1m-1 18h1m-7 -12h1m8 4h1m4 8h1m-8 3h1m-5 -3h1m6 -6h1m-6 11h1m3 -5h1m1 -3h1m-4 -4h1m-1 16h1m-1 4h1m-2 -19h1m-3 4h1m4 -11h1m-9 24h1m-2 -12h1m5 2h1m1 0h1m1 13h1m-2 -8h1m-7 -10h1m-2 -10h1m1 12h1m1 -9h1m0 16h1m-12 -18h1m7 0h1m0 4h1m-4 21h1m5 -10h1m-5 5h1m-2 1h1m8 -15h1m-8 4h1m-7 2h1m7 2h1m-4 14h1m-6 -4h1m11 -4h1m-4 3h1m-3 -15h1m2 -5h1m-13 4h1m4 2h1m5 -2h1m-6 -1h1m2 16h1m-7 4h1m0 -17h1m5 9h1m0 -3h1m-6 3h1m-6 0h1m11 -15h1m-7 11h1m3 7h1m-4 -15h1m-2 6h1m-3 15h1m0 -4h1m2 -14h1m2 5h1m-3 6h1m-6 -6h1m-1 2h1m7 7h1m-3 6h1m-5 -1h1m-1 -3h1m-1 -17h1m-2 2h1m-6 18h1m4 -11h1m0 -12h1m5 5h1m-3 12h1m-4 -4h1m3 7h1m-12 -21h1m-2 2h1m5 4h1m1 4h1m3 -4h1m-1 8h1m-4 4h1m0 -17h1m-6 9h1m5 -7h1m-11 7h1m9 -1h1m-12 19h1m7 -12h1m-2 -13h1m1 1h1m-6 13h1m-2 1h1m5 -9h1m1 -4h1m-9 7h1m5 -5h1m-5 -1h1m1 14h1m-5 -13h1m-2 11h1m4 -4h1m-1 -18h1m1 11h1m-4 10h1m-7 7h1m9 -1h1m-5 -7h1m1 -18h1m-4 24h1m2 -12h1m7 -7h1m-9 4h1m-6 0h1m1 3h1m0 5h1m-1 3h1m2 -6h1m-2 -10h1m0 2h1m-1 5h1m-3 -10h1m-5 15h1m-3 -12h1m2 0h1m-3 2h1m-1 1h1m4 6h1m1 -5h1m-1 13h1m-1 -1h1m5 -2h1m-9 -9h1m-2 17h1m1 -17h1m3 7h1m-3 -12h1m-8 11h1m0 -8h1m3 13h1m-1 -7h1m3 -3h1m-8 -5h1m5 2h1m3 16h1m-9 -5h1m-1 -8h1m3 4h1m-1 -7h1m-2 21h1m-3 -16h1m1 -6h1m-3 -1h1m8 9h1m-11 7h1m-1 -1h1m4 -22h1m-6 8h1m6 -3h1m-10 4h1m-2 5h1m9 -18h1m-8 22h1m1 8h1m5 -8h1m-10 -4h1m3 0h1m-7 -2h1m-2 0h1m1 1h1m3 9h1m-9 -8h1m8 -10h1m1 7h1m-5 -10h1m-3 10h1m-3 16h1m7 -13h1m-5 -5h1m-2 7h1m-7 -1h1m5 -9h1m-3 13h1m2 -17h1m-1 2h1m6 11h1m-13 8h1m6 -3h1m-4 -4h1m5 -2h1m-3 0h1m-1 9h1m-2 -7h1m-9 8h1m3 -16h1m4 0h1m-4 1h1m-4 4h1m4 4h1m-1 -14h1m-7 11h1m-3 -14h1m4 7h1m2 3h1m-5 10h1m-1 -9h1m5 -17h1m-6 21h1m1 -6h1m-3 -5h1m-7 4h1m6 11h1m0 9h1m-3 6h1m-1 -3h1m3 -23h1m-1 2h1m0 3h1m-5 -3h1m-2 -5h1m2 14h1m0 -18h1m-4 5h1m-1 2h1m-2 10h1m3 -2h1m-4 0h1m-2 13h1m-5 -13h1m-1 2h1m10 -5h1m-7 -3h1m4 1h1m4 -10h1m-7 11h1m-5 4h1m3 2h1m2 -15h1m-8 6h1m2 8h1m-5 -3h1m-3 -12h1m5 10h1m-4 7h1m2 -10h1m-3 -7h1m-5 14h1m2 -3h1m1 -5h1m-2 -8h1m-1 24h1m-1 -16h1m3 1h1m-1 6h1m-4 -4h1m-11 -7h1m5 -3h1m9 8h1m-10 5h1m-4 13h1m1 -7h1m6 -18h1m-1 6h1m-9 -2h1m2 7h1m-2 12h1m1 -12h1m-4 8h1m4 -24h1m-5 19h1m-4 0h1m0 7h1m-1 0h1m2 -3h1m-3 -6h1m0 11h1m7 -21h1m-7 19h1m0 -16h1m-1 -4h1m1 7h1m1 0h1m-5 6h1m-9 -1h1m7 -9h1m-4 8h1m1 -9h1m-7 -6h1m5 -6h1m-4 19h1m2 24h1m0 -15h1m2 -17h1m-6 14h1m-3 0h1m-2 4h1m8 -13h1m-4 12h1m-5 -5h1m5 9h1m-7 -14h1m1 6h1m-7 -14h1m1 14h1m6 -8h1m-3 1h1m-6 3h1m-5 -1h1m4 -10h1m6 9h1m-6 -4h1m0 -7h1m1 20h1m0 -14h1m-3 20h1m-5 -18h1m-1 2h1m-1 10h1m3 -2h1m3 -3h1m-7 -14h1m-3 19h1m-3 -2h1m6 3h1m2 -3h1m-5 -5h1m2 -13h1m-8 13h1m7 -9h1m-8 28h1m-1 -28h1m-1 6h1m3 0h1m-3 -1h1m0 -3h1m0 -3h1m-9 25h1m-1 -23h1m6 7h1m3 4h1m-1 -5h1m-5 8h1m-6 10h1m3 -29h1m-5 2h1m0 8h1m10 -2h1m-16 8h1m8 -1h1m-1 -11h1m-5 35h1m-1 -15h1m9 -12h1m-13 5h1m7 -12h1m-1 10h1m-7 -5h1m-5 13h1m7 6h1m-9 -9h1m3 -18h1m-5 32h1m4 -23h1m4 -4h1m-2 5h1m-5 14h1m0 -38h1m-1 29h1m0 7h1m-3 -19h1m2 18h1m2 -18h1m-12 5h1m4 20h1m-4 -21h1m7 -11h1m1 14h1m-11 8h1m6 -25h1m-8 27h1m-1 -9h1m1 -1h1m0 -6h1m-2 2h1m-1 13h1m2 -13h1m-1 12h1m-3 -8h1m2 1h1m-5 4h1m-2 -3h1m1 14h1m-2 -12h1m3 8h1m-6 0h1m-2 -5h1m5 -10h1m-1 -8h1m-5 8h1m-4 11h1m2 -8h1m4 2h1m-7 14h1m-2 -15h1m4 14h1m-4 -17h1m1 19h1m2 -21h1m-3 3h1m-2 22h1m1 -12h1m0 -15h1m-8 8h1m1 9h1m-1 4h1m-1 -18h1m7 25h1m-14 -13h1m8 -3h1m-4 4h1m-2 -16h1m-4 -2h1m3 8h1m-5 3h1m1 -10h1m4 10h1m-3 1h1m3 0h1m-8 -3h1m7 1h1m-13 6h1m3 10h1m1 -9h1m-3 -18h1m2 -2h1m2 1h1m-2 17h1m2 -14h1m-8 2h1m2 12h1m-3 -5h1m-4 -4h1m7 3h1m-10 18h1m4 -10h1m0 -5h1m-3 9h1m-3 -10h1m0 0h1m1 -2h1m-2 0h1m-5 -2h1m4 10h1m2 -20h1m-4 6h1m4 4h1m-8 0h1m-2 7h1m-1 -16h1m5 -3h1m-6 9h1m-6 2h1m8 -1h1m-3 8h1m0 -13h1m-4 14h1m0 1h1m-1 -2h1m-4 9h1m5 -14h1m-9 22h1m2 -36h1m3 21h1m-5 -2h1m0 -4h1m6 8h1m-8 -8h1m3 5h1m-3 -12h1m0 27h1m2 -16h1m-4 -15h1m-4 21h1m-2 -10h1m-2 -1h1m3 0h1m-1 -2h1m-8 2h1m2 17h1m4 -16h1m1 11h1m-10 -16h1m2 17h1m5 -16h1m-3 4h1m-10 -5h1m8 -8h1m-3 12h1m-2 4h1m2 10h1m-1 -14h1m-4 25h1m5 -21h1m-1 0h1m-2 -1h1m2 -13h1m-6 1h1m0 4h1m0 -2h1m-8 22h1m7 -14h1m-7 -8h1m6 -6h1m-8 13h1m5 5h1m16 -44h1m-14 15h1m-16 11h1m-3 7h1m4 -3h1m19 2h1m-30 25h1m25 -31h1m-13 12h1m-4 -7h1m6 12h1m5 -8h1m-7 25h1m-4 -56h1m-12 31h1m10 -1h1m0 -3h1m5 10h1m0 -4h1m0 -11h1m-2 29h1m-9 -24h1m-5 6h1m14 5h1m-33 -17h1m9 16h1m12 -22h1m-18 36h1m18 -27h1m-16 -14h1m4 29h1m2 -13h1m5 7h1m-25 -7h1m10 7h1m11 -12h1m-29 22h1m21 -14h1m2 -10h1m-4 22h1m7 -22h1m-3 19h1m-19 -14h1m25 0h1m-3 7h1m-3 -13h1m0 22h1m9 -8h1m-23 -11h1m-4 19h1m16 -31h1m-23 5h1m10 -10h1m-6 28h1m18 9h1m-13 -7h1m-7 -7h1m8 8h1m-16 -13h1m6 1h1m16 -4h1m10 8h1m-19 -10h1m0 10h1m15 2h1m-21 9h1m-11 13h1m9 -26h1m9 1h1m-11 1h1m-11 11h1m-2 -5h1m2 0h1m19 1h1m-18 1h1m-3 10h1m-12 -8h1m16 12h1m12 -3h1m-17 -18h1m3 24h1m-1 -14h1m12 -1h1m-10 8h1m-7 -14h1m14 5h1m-13 -6h1m-26 -12h1m20 25h1m-14 -26h1m21 16h1m-8 7h1m-6 -4h1m0 -5h1m2 -15h1m2 8h1m9 21h1m-17 -7h1m-3 -13h1m15 -7h1m0 8h1m-15 5h1m-19 5h1m13 -7h1m-5 -1h1m26 -9h1m-31 18h1m8 -9h1m4 11h1m-9 -15h1m-5 28h1m1 -25h1m-5 7h1m13 7h1m-7 -18h1m6 25h1m-8 -27h1m13 -2h1m-30 4h1m26 13h1m-17 11h1m-8 -11h1m15 10h1m-11 -24h1m29 -4h1m-13 29h1m-17 -12h1m12 17h1m-29 -23h1m9 -1h1m12 -6h1m-7 4h1m14 26h1m-19 -17h1m19 0h1m-16 -8h1m15 3h1m-13 -7h1m-5 -3h1m3 28h1m-8 -42h1m11 2h1m-11 33h1m0 -15h1m-11 14h1m21 -6h1m-17 -5h1m8 -10h1m5 -9h1m-20 46h1m18 -18h1m-17 -33h1m2 39h1m1 -13h1m1 0h1m2 -10h1m8 13h1m-12 -11h1m3 14h1m-6 7h1m3 -3h1m-3 -24h1m-7 23h1m9 -5h1m-13 2h1m5 -29h1m-8 8h1m26 18h1m-30 -9h1m15 30h1m-4 -23h1m6 7h1m-24 -27h1m-8 12h1m28 -10h1m-5 21h1m-6 -16h1m-1 8h1m-6 13h1m4 7h1m2 -22h1m-2 -3h1m-11 0h1m9 6h1m-1 -17h1m-14 17h1m22 6h1m-4 -19h1m-15 0h1m16 40h1m-5 -33h1m-17 11h1m1 -4h1m11 25h1m-16 -30h1m1 31h1m7 -30h1m-6 15h1m-4 -22h1m5 14h1m-13 -10h1m31 -5h1m-23 24h1m1 -13h1m1 -13h1m-8 -2h1m15 5h1m-19 23h1m14 -24h1m10 26h1m-14 -29h1m1 9h1m1 35h1m-5 -9h1m7 -17h1m-16 -6h1m-1 0h1m5 31h1m-3 -47h1m4 2h1m-13 37h1m-5 -18h1m3 11h1m-4 -15h1m0 7h1m12 -9h1m-17 12h1m0 -27h1m10 29h1m7 -24h1m-21 6h1m13 23h1m1 3h1m11 -26h1m-12 -22h1m6 43h1m-8 11h1m0 -21h1m-13 6h1m4 -20h1m-14 18h1m11 -2h1m11 11h1m-24 -29h1m17 43h1m5 -4h1m-3 -25h1m3 3h1m-12 7h1m2 -18h1m-4 5h1m4 21h1m4 -2h1m-6 -7h1m-5 -12h1m27 0h1m-35 1h1m28 -1h1m-10 12h1m-7 -5h1m-9 10h1m-1 -35h1m23 29h1m-11 3h1m-15 -28h1m9 27h1m-15 -19h1m12 27h1m5 -10h1m11 -2h1m-27 -2h1m-2 4h1m31 -13h1m-17 15h1m-16 10h1m21 -17h1m-21 -4h1m13 13h1m-5 -15h1m-9 6h1m2 -13h1m9 -4h1m6 19h1m-21 4h1m-7 -1h1m5 11h1m15 -7h1m-32 15h1m20 -24h1m3 2h1m-11 2h1m-1 -4h1m14 14h1m-5 -10h1m-3 -11h1m2 9h1m-3 -13h1m-3 4h1m-11 17h1m15 -16h1m-9 4h1m-3 1h1m-2 8h1m3 -1h1m-5 -9h1m-17 -33h1m2 13h1m-7 -11h1m1 -2h1m1 2h1m5 10h1m-4 -4h1m-18 -11h1m15 20h1m6 -5h1m-10 -5h1m15 -5h1m1 5h1m7 1h1m-12 -2h1m4 10h1m-8 -9h1m64 38h1m-14 -32h1m-2 30h1m-8 -19h1m7 21h1" stroke="#000" stroke-width="1.0" fill="none" opacity="0.86"/>
<path d="M515.6 1914.2L515.6 2116.2" stroke="#000" stroke-width="2.2" fill="none" />
<path d="M417.9 2035.9L629.6 2035.9" stroke="#000" stroke-width="2.0" fill="none" />
<text x="426.5" y="1942.4" font-size="18.2" textLength="25.2" lengthAdjust="spacingAndGlyphs">1.5</text>
<text x="611.5" y="1942.4" font-size="18.2" text-anchor="end" textLength="25.8" lengthAdjust="spacingAndGlyphs">0.0</text>
<text x="426.5" y="2098.6" font-size="18.2" textLength="36.6" lengthAdjust="spacingAndGlyphs">98.3</text>
<text x="611.5" y="2098.6" font-size="18.2" text-anchor="end" textLength="25.8" lengthAdjust="spacingAndGlyphs">0.1</text>
<rect x="665.1" y="1914.2" width="206.7" height="201" fill="#fff" stroke="#000" stroke-width="1.1"/>
<path d="M665.1 1933.8h-5.4M665.1 1981.5h-5.4M665.1 2035.9h-5.4M665.1 2102.6h-5.4" stroke="#000" stroke-width="2.7" fill="none"/>
<rect x="659.5" y="2063.7" width="5.6" height="10" fill="#000"/>
<path d="M665.1 2019.5h-2.6M665.1 2009.9h-2.6M665.1 2003.1h-2.6M665.1 1993.6h-2.6M665.1 1989.9h-2.6M665.1 1986.8h-2.6M665.1 1984h-2.6M665.1 1967.1h-2.6M665.1 1958.7h-2.6M665.1 1952.8h-2.6M665.1 1944.4h-2.6M665.1 1941.2h-2.6M665.1 1938.4h-2.6M665.1 1936h-2.6M665.1 1919.4h-2.6M665.1 2059.7h-2.6M665.1 2055.8h-2.6M665.1 2047.8h-2.6M665.1 2043.8h-2.6M665.1 2039.9h-2.6M665.1 2077.8h-2.6M665.1 2082h-2.6M665.1 2090.2h-2.6M665.1 2094.3h-2.6M665.1 2098.5h-2.6M665.1 2110h-2.6" stroke="#000" stroke-width="1.3" fill="none"/>
<path d="M665.1 1997.9h-3.8M665.1 1948.2h-3.8M665.1 2051.8h-3.8M665.1 2086.1h-3.8" stroke="#000" stroke-width="2" fill="none"/>
<text x="655.5" y="1937.4" font-size="7.1" text-anchor="end" fill="#222">10<tspan dy="-4.2">5</tspan></text>
<text x="655.5" y="1985.1" font-size="7.1" text-anchor="end" fill="#222">10<tspan dy="-4.2">4</tspan></text>
<text x="655.5" y="2039.5" font-size="7.1" text-anchor="end" fill="#222">10<tspan dy="-4.2">3</tspan></text>
<text x="652.1" y="2071.5" font-size="7.1" text-anchor="end" fill="#222">0</text>
<text x="655.5" y="2106.2" font-size="7.1" text-anchor="end" fill="#222">-10<tspan dy="-4.2">3</tspan></text>
<rect x="704.6" y="2115.2" width="18.4" height="3.2" fill="#000"/>
<path d="M706.3 2115.2v5.3M710.5 2115.2v5.3M714.6 2115.2v5.3M721.3 2115.2v5.3M757.9 2115.2v5.3M808.3 2115.2v5.3M851.3 2115.2v5.3" stroke="#000" stroke-width="3.3" fill="none"/>
<path d="M680.9 2115.2v3.8M740.9 2115.2v3.8M793.1 2115.2v3.8M838.4 2115.2v3.8" stroke="#000" stroke-width="2.3" fill="none"/>
<path d="M673 2115.2v2.3M675.9 2115.2v2.3M686.6 2115.2v2.3M691.6 2115.2v2.3M698.8 2115.2v2.3M726 2115.2v2.3M730.1 2115.2v2.3M736.6 2115.2v2.3M745.2 2115.2v2.3M748.8 2115.2v2.3M751.6 2115.2v2.3M753.8 2115.2v2.3M773.1 2115.2v2.3M781.9 2115.2v2.3M788.2 2115.2v2.3M797.1 2115.2v2.3M800.5 2115.2v2.3M803.4 2115.2v2.3M806 2115.2v2.3M821.2 2115.2v2.3M828.8 2115.2v2.3M834.2 2115.2v2.3M841.8 2115.2v2.3M844.6 2115.2v2.3M847.1 2115.2v2.3M849.3 2115.2v2.3M864.2 2115.2v2.3" stroke="#000" stroke-width="1.4" fill="none"/>
<text x="712.2" y="2132.5" font-size="7.1" text-anchor="middle" fill="#222">0</text>
<text x="758.6" y="2133" font-size="7.1" fill="#222">10<tspan dy="-5" font-size="7.1">3</tspan></text>
<text x="808.4" y="2133" font-size="7.1" fill="#222">10<tspan dy="-5" font-size="7.1">4</tspan></text>
<text x="851.8" y="2133" font-size="7.1" fill="#222">10<tspan dy="-5" font-size="7.1">5</tspan></text>
<path d="M708 2055.5h1m-7 13h1m1 -8h1m5 -5h1m-2 23h1m-4 -3h1m4 -11h1m-7 -1h1m-7 1h1m2 -10h1m4 16h1m7 3h1m-10 -25h1m4 14h1m0 5h1m1 -8h1m1 5h1m-1 13h1m-10 -6h1m3 -15h1m3 -8h1m1 19h1m-8 -6h1m3 8h1m-6 -8h1m-4 -5h1m3 1h1m-3 17h1m7 -8h1m-4 6h1m4 -14h1m-12 1h1m6 14h1m0 -17h1m-11 14h1m-3 -7h1m3 0h1m-1 -2h1m-5 20h1m2 -15h1m-2 6h1m4 -8h1m5 -6h1m-14 -3h1m5 15h1m-3 2h1m4 -20h1m-3 6h1m1 -5h1m5 -8h1m-19 18h1m4 -5h1m3 23h1m2 -7h1m-13 -8h1m10 -11h1m-3 10h1m7 2h1m-11 9h1m1 -16h1m-4 12h1m5 -14h1m-7 9h1m11 -7h1m-5 -11h1m-6 29h1m0 -12h1m-10 -11h1m-3 12h1m11 15h1m2 -14h1m-5 -10h1m-2 2h1m-3 10h1m-2 -4h1m1 -13h1m7 -3h1m1 21h1m-12 -6h1m4 -1h1m-5 3h1m8 -10h1m-6 1h1m-10 0h1m1 11h1m8 1h1m-13 -19h1m5 19h1m-2 -11h1m10 3h1m-10 21h1m-7 -20h1m-1 7h1m5 -6h1m-5 2h1m3 -3h1m0 12h1m1 -13h1m-4 -12h1m1 17h1m-8 -2h1m11 -8h1m3 11h1m-14 0h1m9 -7h1m-10 -7h1m4 25h1m-3 -9h1m-4 -4h1m-5 -5h1m7 17h1m4 3h1m-9 -17h1m-5 -4h1m12 -8h1m-13 14h1m4 -9h1m-6 -4h1m-7 5h1m7 6h1m-1 -10h1m4 7h1m-3 2h1m0 0h1m-5 -7h1m-2 22h1m-3 -15h1m1 0h1m-4 -5h1m9 0h1m-6 5h1m-9 5h1m8 -8h1m4 -11h1m-13 31h1m3 -16h1m-1 0h1m14 -12h1m-21 17h1m1 3h1m2 13h1m-1 -20h1m14 -15h1m-22 18h1m7 -10h1m2 13h1m0 -9h1m4 -1h1m-10 -3h1m-5 15h1m-8 -10h1m13 16h1m-4 -21h1m0 -4h1m-6 9h1m5 4h1m-2 3h1m-5 -12h1m7 8h1m-7 18h1m-6 -16h1m8 -8h1m-7 1h1m-6 5h1m1 -8h1m-2 22h1m12 -5h1m-15 -9h1m13 -14h1m-11 -5h1m15 1h1m-14 -5h1m-1 24h1m1 11h1m-1 -14h1m-9 16h1m6 -22h1m0 -8h1m-3 12h1m3 -1h1m-1 -15h1m3 18h1m1 -4h1m-9 7h1m-6 7h1m-1 -2h1m-2 -13h1m-2 10h1m1 -3h1m5 9h1m-2 -8h1m2 6h1m-4 -11h1m-2 6h1m2 -5h1m-9 3h1m4 -3h1m4 5h1m-7 7h1m6 -5h1m-5 -11h1m-1 -4h1m-7 19h1m8 -34h1m-2 24h1m-8 13h1m0 -21h1m-4 12h1m3 -6h1m4 -4h1m0 -11h1m-13 18h1m8 -2h1m-1 7h1m-3 -2h1m5 -24h1m4 24h1m-9 2h1m0 -2h1m2 -19h1m-8 12h1m-6 10h1m3 -2h1m4 -17h1m-10 11h1m13 -1h1m-9 6h1m-7 -8h1m0 5h1m11 -13h1m-4 8h1m-11 -3h1m7 9h1m3 -8h1m-8 3h1m-4 -3h1m4 7h1m1 -3h1m7 -5h1m-10 0h1m-4 9h1m-5 -3h1m4 13h1m9 -12h1m-12 2h1m-2 1h1m0 -14h1m-5 23h1m-4 -8h1m2 -14h1m4 -1h1m2 15h1m-4 6h1m3 -23h1m-8 25h1m4 -19h1m0 16h1m1 -14h1m-2 10h1m-11 -6h1m1 0h1m-1 -6h1m5 15h1m-9 -19h1m-1 -12h1m-2 25h1m1 2h1m8 3h1m-10 -12h1m4 -8h1m-5 9h1m9 20h1m-4 3h1m-5 -9h1m-3 -18h1m5 -12h1m-13 24h1m6 -9h1m5 7h1m-4 -5h1m-3 5h1m-1 7h1m3 -24h1m6 9h1m-2 5h1m-5 7h1m-6 -13h1m-10 -4h1m14 14h1m-10 -8h1m2 -2h1m-3 6h1m2 -8h1m2 27h1m-6 -26h1m2 6h1m-4 -4h1m0 8h1m-14 5h1m15 -5h1m-15 -2h1m8 -11h1m2 15h1m1 4h1m-2 -14h1m-9 0h1m6 6h1m1 -1h1m-8 9h1m9 -8h1m-9 -30h1m-5 17h1m9 15h1m-4 1h1m0 -12h1m-8 11h1m13 2h1m-7 -4h1m-9 -8h1m-2 6h1m3 -3h1m-9 7h1m12 -10h1m-13 19h1m4 -9h1m3 -6h1m-3 -1h1m11 24h1m-13 -28h1m4 -4h1m-5 7h1m-3 16h1m4 -17h1m-3 1h1m1 5h1m1 1h1m-10 3h1m2 -2h1m4 -9h1m-2 15h1m-9 -16h1m5 -10h1m4 25h1m-5 1h1m-16 -8h1m18 16h1m4 -16h1m-11 12h1m-15 -9h1m16 3h1m-12 -8h1m8 8h1m1 -8h1m0 17h1m7 3h1m-19 -10h1m2 -9h1m-4 10h1m9 -6h1m-6 13h1m0 -9h1m-7 0h1m4 -1h1m6 -5h1m-2 14h1m-4 -35h1m-5 11h1m-4 21h1m7 -3h1m-3 -7h1m-9 -17h1m2 6h1m-3 8h1m-1 -1h1m-4 7h1m9 -6h1m-8 0h1m-6 -2h1m7 5h1m7 7h1m-9 -5h1m-1 -16h1m-4 -9h1m4 23h1m4 -1h1m-6 2h1m0 -6h1m-14 -6h1m9 8h1m-2 7h1m1 -4h1m4 -4h1m-9 11h1m10 -11h1m-5 19h1m5 -23h1m-12 20h1m-4 -8h1m-2 -3h1m-4 2h1m6 1h1m4 -1h1m4 -15h1m-2 14h1m-13 12h1m7 -21h1m-12 6h1m3 -12h1m9 14h1m2 -13h1m-20 10h1m19 -16h1m-8 4h1m-1 7h1m-4 7h1m-3 -17h1m-3 21h1m1 -2h1m3 -6h1m-10 11h1m0 -15h1m11 4h1m-4 6h1m4 -14h1m-4 13h1m-2 -13h1m-3 4h1m-9 -3h1m7 13h1m-1 0h1m-2 -14h1m-1 21h1m-1 -20h1m-3 9h1m2 -11h1m-2 18h1m-14 3h1m10 5h1m3 -16h1m-6 10h1m-3 -5h1m-12 -1h1m5 -6h1m14 6h1m-4 5h1m-9 -3h1m4 -17h1m5 16h1m-6 -24h1m-2 -2h1m-10 10h1m1 35h1m10 -13h1m-7 -23h1m-6 9h1m8 10h1m-10 -16h1m3 18h1m2 15h1m-2 -25h1m3 -18h1m1 9h1m-11 -1h1m8 30h1m-1 -6h1m-2 -15h1m2 9h1m-1 -2h1m-8 0h1m-2 -12h1m2 18h1m-5 -5h1m-2 8h1m4 -12h1m3 -12h1m-12 6h1m1 -9h1m11 -3h1m-15 20h1m8 -8h1m6 12h1m-29 4h1m11 -16h1m3 7h1m-1 17h1m-1 -21h1m4 7h1m-5 -3h1m-4 -10h1m11 0h1m-8 4h1m-8 0h1m13 1h1m-5 6h1m-6 -10h1m8 8h1m-7 -12h1m-7 21h1m-4 3h1m4 -24h1m1 29h1m-1 -8h1m-7 -9h1m0 0h1m3 -2h1m3 13h1m-2 -17h1m4 9h1m-13 -3h1m10 -12h1m-11 12h1m3 -5h1m-2 13h1m-5 -6h1m9 -14h1m-2 16h1m-10 -6h1m2 0h1m6 10h1m-7 -2h1m3 -4h1m4 9h1m-11 -7h1m6 -13h1m-6 11h1m0 -7h1m-12 -12h1m6 9h1m10 -2h1m-10 4h1m4 15h1m-1 -23h1m2 -2h1m-4 10h1m2 -19h1m-12 24h1m-2 9h1m9 -11h1m-5 -3h1m-7 -2h1m4 3h1m2 18h1m-6 -15h1m6 13h1m1 -22h1m0 4h1m-8 23h1m4 -28h1m-17 17h1m7 -15h1m-5 -12h1m1 28h1m3 -4h1m4 -7h1m-5 16h1m-3 -20h1m1 7h1m3 -4h1m-3 -5h1m5 23h1m-14 -2h1m-2 -18h1m4 11h1m-8 0h1m5 2h1m-1 -1h1m-2 -11h1m4 22h1m5 -19h1m-6 7h1m6 -19h1m-10 13h1m-12 2h1m3 12h1m5 -3h1m-5 2h1m9 -19h1m-2 4h1m-9 -7h1m-4 16h1m2 -5h1m3 -7h1m-3 -4h1m3 7h1m-5 -1h1m-13 16h1m10 -8h1m3 0h1m5 -4h1m-8 -3h1m0 -3h1m1 10h1m-10 -7h1m2 -11h1m-2 19h1m12 18h1m-7 -25h1m-4 -4h1m-5 -11h1m11 22h1m-5 -4h1m-21 1h1m17 1h1m-12 -2h1m2 3h1m-3 -6h1m10 -8h1m-12 30h1m3 -14h1m-1 -14h1m-6 11h1m7 0h1m1 8h1m2 0h1m-11 -13h1m1 4h1m-5 0h1m2 -7h1m6 13h1m-5 -28h1m-2 19h1m5 -2h1m-3 -4h1m-4 12h1m0 7h1m-2 9h1m-8 -11h1m12 -13h1m-3 -2h1m-11 21h1m14 -11h1m-10 -9h1m6 6h1m1 5h1m-11 5h1m5 -10h1m1 -3h1m-7 -9h1m1 16h1m5 -12h1m-12 4h1m9 -3h1m-9 -5h1m1 12h1m-3 -3h1m-7 11h1m2 -11h1m3 15h1m-8 -4h1m13 5h1m-10 -24h1m1 4h1m-7 7h1m4 -9h1m-4 26h1m5 -21h1m-7 3h1m-7 -4h1m10 -9h1m-3 3h1m-1 -4h1m-4 7h1m6 4h1m-5 -5h1m2 20h1m-3 1h1m4 -2h1m-3 -18h1m5 -12h1m-14 11h1m4 15h1m2 -4h1m-2 -14h1m1 7h1m-6 -6h1m-5 -6h1m6 13h1m1 -1h1m-11 33h1m4 -13h1m-5 -2h1m5 -20h1m-1 -1h1m-11 8h1m7 -9h1m-4 21h1m6 -8h1m-3 -5h1m-2 -2h1m-6 11h1m1 -10h1m-5 3h1m7 -15h1m2 0h1m-5 15h1m-7 6h1m2 -15h1m5 18h1m-8 -8h1m4 -4h1m0 -10h1m-6 12h1m5 4h1m-4 -16h1m1 5h1m-4 21h1m-5 -23h1m13 -4h1m-10 11h1m4 6h1m-3 -14h1m-4 -13h1m0 37h1m-1 -14h1m3 -15h1m-7 5h1m-4 14h1m1 0h1m-1 -4h1m-7 -9h1m1 -6h1m0 18h1m11 -9h1m-9 5h1m-4 2h1m2 -4h1m-1 4h1m0 -5h1m-1 12h1m-2 8h1m6 -9h1m-13 -1h1m5 11h1m0 -37h1m-7 28h1m-2 5h1m4 7h1m-2 -21h1m7 5h1m-3 -6h1m-8 -4h1m-5 -2h1m4 2h1m-4 -1h1m-5 5h1m5 12h1m-2 -14h1m10 2h1m-11 1h1m-8 1h1m5 -2h1m3 -8h1m-6 12h1m2 -5h1m2 14h1m1 -20h1m-8 5h1m10 -8h1m-10 9h1m3 13h1m-8 -3h1m-2 -9h1m0 2h1m4 -10h1m9 15h1m-8 0h1m-8 -5h1m-3 9h1m2 -9h1m-4 -1h1m8 3h1m-8 -7h1m5 2h1m-4 11h1m-4 8h1m3 -5h1m2 -20h1m-2 7h1m0 11h1m2 -8h1m-8 3h1m2 -4h1m-4 0h1m-1 -2h1m-13 2h1m9 0h1m-2 6h1m3 -9h1m0 16h1m-5 -6h1m0 -7h1m3 -17h1m-1 7h1m-8 0h1m5 21h1m-3 -26h1m-4 23h1m-10 -18h1m8 13h1m-2 3h1m13 -9h1m-12 -12h1m-4 15h1m3 -7h1m6 0h1m-13 6h1m4 -8h1m-5 20h1m3 -28h1m2 3h1m-10 15h1m7 6h1m-3 -9h1m5 -9h1m-1 23h1m0 -17h1m-11 13h1m-3 -11h1m5 4h1m3 -12h1m-5 -2h1m-3 10h1m-1 1h1m0 2h1m0 -11h1m-1 4h1m-12 -2h1m12 9h1m-11 -16h1m2 10h1m3 9h1m4 -5h1m-9 13h1m-3 -23h1m10 13h1m-13 -4h1m8 6h1m-11 2h1m14 -9h1m-13 6h1m3 8h1m-6 -16h1m1 20h1m-5 -24h1m0 6h1m-7 -2h1m16 14h1m-8 -13h1m-3 -11h1m8 25h1m-12 2h1m5 -31h1m6 20h1m-4 13h1m2 -31h1m-26 5h1m18 -16h1m18 24h1m-33 -23h1m24 32h1m3 -14h1m-4 -3h1m-35 -11h1m14 9h1m13 10h1m-4 10h1m24 -28h1m-48 4h1m41 24h1m-23 -17h1m4 0h1m-3 31h1m14 -30h1m-17 7h1m-16 0h1m22 -18h1m-6 -3h1m-22 21h1m1 -6h1m8 10h1m1 -3h1m15 10h1m3 0h1m-17 -16h1m3 -9h1m-20 5h1m16 17h1m-5 -24h1m18 22h1m-9 -4h1m7 -24h1m-19 47h1m11 -32h1m-17 14h1m30 -9h1m-34 14h1m16 -16h1m-14 26h1m8 -10h1m-8 -13h1m-17 10h1m5 -23h1m-3 -5h1m14 8h1m-9 8h1m-11 -14h1m23 21h1m4 -12h1m-2 -24h1m-5 43h1m-18 7h1m4 -1h1m8 -31h1m-6 -15h1m7 -4h1m-10 22h1m18 -27h1m-3 35h1m-24 3h1m-5 24h1m22 -23h1m-12 -6h1m23 10h1m-46 -6h1m32 -1h1m-2 2h1m-11 -28h1m17 -10h1m-6 25h1m3 -1h1m-33 17h1m25 1h1m-11 -10h1m-7 18h1m-8 -27h1m14 21h1m-4 -32h1m15 45h1m-7 -11h1m5 -17h1m-25 9h1m-25 5h1m15 -16h1m12 7h1m-14 -3h1m16 11h1m-21 -25h1m18 29h1m9 -23h1m-28 22h1m18 1h1m11 1h1m-36 -11h1m19 11h1m-18 17h1m9 -55h1m-1 25h1m18 20h1m-13 -45h1m-4 23h1m11 -2h1m1 19h1m-27 4h1m26 2h1m-27 2h1m19 -14h1m-6 -15h1m-5 15h1m0 -25h1m-5 13h1m15 -22h1m-20 16h1m7 34h1m-2 -16h1m18 9h1m-12 -23h1m-9 0h1m-2 -15h1m8 5h1m1 14h1m-25 -4h1m8 -1h1m21 7h1m-45 -7h1m33 32h1m-2 2h1m-20 -51h1m30 16h1m-42 13h1m3 23h1m29 -6h1m-5 -7h1m-13 -7h1m3 11h1m-5 -35h1m-21 0h1m21 11h1m22 15h1m-23 1h1m13 0h1m3 17h1m-14 -34h1m17 10h1m-15 -25h1m5 17h1m-12 8h1m-3 5h1m5 -2h1m4 8h1m0 9h1m6 -27h1m-35 -14h1m4 31h1m13 0h1m-4 -13h1m-6 24h1m5 -30h1m4 3h1m-11 -5h1m10 -30h1m1 58h1m-14 -19h1m14 -4h1m-5 2h1m-9 -12h1m17 8h1m-11 10h1m-32 -26h1m15 12h1m27 9h1m-5 -10h1m-24 8h1m-4 -2h1m31 -21h1m-24 37h1m25 -10h1m-22 -25h1m-17 13h1m-9 -17h1m7 33h1m24 23h1m-9 -46h1m22 13h1m-45 3h1m31 -3h1m-10 -2h1m2 -1h1m-21 -9h1m4 26h1m-6 -2h1m0 -25h1m-6 -5h1m17 14h1m19 -5h1m-30 14h1m7 8h1m-28 -2h1m28 -2h1m-9 -3h1m20 -9h1m-32 30h1m24 -29h1m-1 14h1m-11 -6h1m12 -13h1m-33 14h1m-3 -22h1m20 5h1m-11 17h1m-1 -8h1m-8 -4h1m20 8h1m-31 17h1m26 -6h1m-6 -18h1m7 -5h1m-5 22h1m-10 -10h1m0 1h1m-4 -13h1m19 2h1m-19 12h1m1 3h1m25 -14h1m-27 -2h1m30 6h1m-25 17h1m5 15h1m10 -35h1m-7 0h1m-1 6h1m8 -3h1m-19 15h1m0 -40h1m5 -1h1m-10 27h1m-18 6h1m14 -8h1m-22 13h1m25 -1h1m18 10h1m-43 13h1m27 -12h1m6 -26h1m-14 5h1m9 -7h1m-19 15h1m15 -51h1m-29 48h1m28 13h1m-17 -24h1m-22 1h1m14 42h1m6 -38h1m2 -4h1m0 -1h1m-12 11h1m7 0h1m7 -1h1m-11 -24h1m23 19h1m-23 7h1m10 9h1m-14 -13h1m-7 -14h1m-6 -15h1m0 17h1m16 30h1m11 -7h1m-25 -7h1m11 11h1m-2 2h1m-30 -7h1m7 -3h1m26 8h1m-32 -14h1m21 -5h1m17 27h1m-24 -11h1m-4 -1h1m-1 -27h1m14 28h1m-12 -26h1m10 20h1m-1 -4h1m-9 -9h1m-12 -10h1m26 5h1m-22 11h1m-7 13h1m-2 13h1m30 -21h1m-33 17h1m21 -12h1m-6 -14h1m-4 21h1m-1 0h1m-9 -15h1m12 -4h1m-3 3h1m1 0h1m-13 -9h1m21 16h1m-23 -13h1m-8 13h1m-5 4h1m-7 -16h1m35 9h1m5 9h1m11 13h1m-37 -20h1m3 22h1m4 -18h1m-28 8h1m24 -10h1m10 -21h1m-15 17h1m-19 -1h1m5 -11h1m17 4h1m-32 57h1m37 -63h1m-18 38h1m-9 -35h1m9 4h1m-12 0h1m36 21h1m-13 -33h1m-27 10h1m16 -18h1m9 24h1m4 3h1m-30 12h1m14 -4h1m-2 -12h1m11 2h1m-8 11h1m-18 -29h1m-18 19h1m23 22h1m-14 -30h1m34 12h1m-33 -5h1m-13 -3h1m26 15h1m4 -32h1m-8 39h1m-16 -6h1m3 -51h1m1 37h1m-4 25h1m10 -28h1m-5 -6h1m5 -17h1m13 21h1m-6 2h1m-9 -1h1m3 -12h1m-14 19h1m9 -4h1m-10 -5h1m30 4h1m-13 9h1m-27 0h1m20 -1h1m-2 -6h1m8 7h1m-33 18h1m4 -15h1m9 -7h1m-7 21h1m-4 -17h1m21 -13h1m-40 24h1m33 -9h1m-8 -5h1m-9 2h1m13 -2h1m17 -22h1m-14 30h1m-8 -11h1m2 -24h1m-3 30h1m5 -4h1m-21 6h1m21 -6h1m-16 -4h1m4 9h1m18 -10h1m-32 -7h1m29 16h1m20 5h1m-37 -18h1m14 13h1m1 11h1m5 1h1m-21 -8h1m46 -13h1m-32 -4h1m-8 25h1m-3 -20h1m-2 -8h1m6 2h1m7 30h1m15 -30h1m-23 20h1m-28 -5h1m20 3h1m33 -19h1m-42 4h1m-11 23h1m34 -13h1m-41 13h1m30 -15h1m-16 6h1m24 7h1m-34 -33h1m43 32h1m-33 -4h1m-10 -8h1m-5 20h1m6 -21h1m7 14h1m0 -31h1m7 14h1m-28 23h1m13 -22h1m-15 -8h1m-7 12h1m4 -14h1m10 -1h1m33 18h1m-13 15h1m-16 -11h1m5 -16h1m10 -4h1m-25 17h1m19 -3h1m-15 -9h1m5 20h1m-9 -13h1m0 12h1m6 -32h1m-15 23h1m6 -22h1m-6 31h1m31 -2h1m-18 -21h1m-11 11h1m18 19h1m-15 -24h1m2 21h1m0 -6h1m-7 -31h1m20 36h1m-20 -10h1m19 -11h1m-47 -3h1m52 6h1m-14 -3h1m-31 9h1m10 1h1m0 -11h1m16 12h1m-51 -8h1m17 -34h1m25 47h1m-33 -27h1m34 43h1m14 -8h1m-38 -20h1m13 -18h1m2 12h1m1 11h1m-21 -15h1m-2 -4h1m28 4h1m-12 19h1m-10 0h1m-9 -4h1m4 -30h1m-18 15h1m-2 3h1m10 4h1m-19 3h1m37 -25h1m-33 20h1m35 -2h1m-25 -10h1m12 36h1m6 -12h1m1 0h1m-15 -11h1m0 34h1m4 -22h1m-5 -3h1m1 22h1m-6 -21h1m4 -4h1m-6 -7h1m-2 29h1m-8 -8h1m8 -24h1m-15 16h1m25 -5h1m-4 21h1m-13 -21h1m8 15h1m11 -38h1m14 26h1m-51 -17h1m8 5h1m39 12h1m-17 13h1m-14 -14h1m-7 -11h1m6 0h1m31 15h1m1 -12h1m-29 12h1m-29 -54h1m17 13h1m-4 16h1m-12 -5h1m0 -8h1m14 5h1m-16 -9h1m7 -7h1m9 8h1m-12 -1h1m7 5h1m-32 -10h1m24 3h1m-2 17h1m-20 -24h1m11 14h1m-6 -7h1m3 6h1m2 -4h1m0 -6h1m0 6h1m-15 0h1m8 9h1m13 -22h1m-16 25h1m-1 -9h1m-1 0h1m0 -5h1m7 1h1m0 4h1m-5 3h1m-10 -22h1m-14 20h1m22 -7h1m-1 8h1m56 42h1m5 -20h1m-11 1h1m15 4h1m-28 -18h1m7 13h1m-10 -14h1m11 -36h1m14 5h1m7 28h1m-24 24h1m9 2h1" stroke="#000" stroke-width="1.0" fill="none" opacity="0.86"/>
<path d="M710 2074.5h1m-5 -5h1m0 3h1m-1 -8h1m7 -9h1m-2 -19h1m-7 29h1m3 -1h1m-3 8h1m-8 -16h1m10 -4h1m2 18h1m-11 -2h1m-3 -4h1m6 -1h1m-5 -8h1m2 10h1m-5 10h1m2 -11h1m0 -2h1m1 -8h1m-3 3h1m-3 6h1m7 -12h1m-5 9h1m-8 12h1m12 -22h1m-6 4h1m-1 21h1m-7 2h1m-3 -4h1m-3 -8h1m8 9h1m0 -20h1m-2 -6h1m-5 21h1m-1 -2h1m0 -2h1m-7 3h1m10 -17h1m-2 1h1m-1 13h1m-3 8h1m-4 -23h1m2 18h1m0 6h1m-8 -7h1m4 4h1m-2 -4h1m6 -14h1m-8 13h1m-1 -13h1m-3 4h1m-3 13h1m0 -8h1m4 4h1m1 -9h1m-5 4h1m-7 4h1m17 1h1m-16 -1h1m3 -13h1m1 2h1m-8 25h1m-1 -7h1m8 0h1m-10 -10h1m10 -7h1m-10 20h1m-6 -25h1m18 18h1m-8 -1h1m-2 9h1m-4 -5h1m-4 -17h1m1 7h1m-5 6h1m10 -12h1m0 3h1m-6 0h1m0 7h1m-9 4h1m-2 8h1m3 -3h1m-1 5h1m-2 -11h1m-3 -11h1m7 19h1m-10 -21h1m3 5h1m-6 14h1m14 -12h1m-14 -2h1m2 7h1m0 8h1m5 -12h1m-9 0h1m-2 -7h1m0 -1h1m-1 4h1m3 -1h1m4 2h1m-4 11h1m1 -13h1m-3 12h1m1 8h1m-11 -6h1m2 10h1m6 -28h1m-5 9h1m-5 -9h1m1 25h1m-7 -11h1m15 -3h1m-10 -16h1m-4 17h1m0 8h1m6 -20h1m-15 -7h1m-4 20h1m8 -4h1m-3 6h1m-2 -6h1m4 -2h1m-9 1h1m7 12h1m-10 -10h1m11 6h1m2 2h1m-8 -2h1m8 10h1m-4 -20h1m-16 8h1m3 -11h1m3 5h1m1 3h1m-3 7h1m7 2h1m-11 -9h1m1 -19h1m1 17h1m-4 2h1m2 3h1m-4 8h1m-10 -3h1m9 -8h1m-8 -11h1m-4 3h1m20 8h1m-9 10h1m-4 9h1m1 0h1m2 -41h1m-3 26h1m0 7h1m-2 -15h1m-1 -6h1m-5 25h1m9 -15h1m-11 -16h1m1 14h1m-7 5h1m-1 8h1m3 -27h1m6 4h1m-10 22h1m9 -8h1m-6 -13h1m-3 20h1m-3 -11h1m4 9h1m-4 -6h1m2 -9h1m-9 15h1m-4 -7h1m5 7h1m-11 -25h1m21 10h1m-14 -2h1m5 3h1m-3 7h1m3 7h1m3 -19h1m4 4h1m-10 2h1m-3 2h1m-5 7h1m7 4h1m-10 4h1m1 -11h1m4 1h1m-5 6h1m0 -3h1m-6 8h1m0 -13h1m3 8h1m0 2h1m0 -12h1m-6 12h1m-10 -1h1m13 -8h1m-3 1h1m3 -5h1m-8 6h1m3 8h1m-9 -15h1m5 1h1m-9 9h1m-1 -4h1m11 -8h1m-4 18h1m1 -15h1m3 2h1m-14 1h1m11 -12h1m-2 3h1m-9 20h1m0 -19h1m-10 19h1m23 -14h1m-24 8h1m6 19h1m3 -37h1m-6 28h1m1 -7h1m1 -17h1m5 14h1m-5 -15h1m-3 10h1m-8 -4h1m9 1h1m4 8h1m-9 8h1m5 -11h1m-10 -9h1m0 4h1m-7 17h1m6 1h1m-4 -14h1m4 3h1m-18 11h1m16 -22h1m2 5h1m-1 -7h1m-7 9h1m9 -6h1m-7 -5h1m0 8h1m-4 1h1m-4 7h1m3 6h1m-1 -18h1m-15 25h1m10 -26h1m1 13h1m7 -10h1m-6 -3h1m-7 9h1m8 -8h1m-1 -5h1m2 16h1m-16 -11h1m6 -12h1m-9 10h1m-3 24h1m10 -26h1m-5 24h1m3 -8h1m0 -2h1m-5 -10h1m-3 11h1m8 -1h1m5 -12h1m-20 -1h1m3 5h1m-1 3h1m8 -5h1m-1 -14h1m-10 23h1m7 -11h1m-15 16h1m21 -18h1m-12 5h1m-2 0h1m-1 8h1m-2 -4h1m3 -5h1m-8 3h1m7 -1h1m-7 -6h1m-2 12h1m2 2h1m-3 -2h1m4 11h1m-8 -20h1m0 18h1m-7 -4h1m11 1h1m1 -6h1m-5 10h1m-2 1h1m-1 -20h1m13 7h1m-19 -2h1m9 -9h1m0 15h1m-3 -9h1m-10 9h1m-1 2h1m-2 -10h1m-2 4h1m8 -9h1m-3 13h1m-8 -9h1m13 6h1m-7 -5h1m6 -3h1m-17 0h1m8 -13h1m-9 22h1m17 -1h1m-12 -6h1m-8 8h1m6 8h1m5 -6h1m-14 -2h1m12 -10h1m-17 7h1m6 1h1m7 3h1m-3 -15h1m-6 -5h1m-12 14h1m18 16h1m-2 -13h1m-4 -4h1m-4 2h1m10 -6h1m-5 0h1m-11 8h1m8 3h1m-4 -17h1m-7 8h1m8 11h1m-8 2h1m-9 -1h1m10 -17h1m0 9h1m-4 0h1m-2 8h1m-7 -16h1m12 14h1m-10 6h1m2 3h1m-6 -6h1m2 3h1m-8 1h1m15 -13h1m-3 -4h1m-11 10h1m8 2h1m-10 3h1m-1 -10h1m-1 5h1m6 -7h1m0 17h1m-8 -19h1m5 -2h1m-5 1h1m-1 19h1m2 -9h1m-3 -2h1m-5 -1h1m2 -5h1m6 12h1m-5 6h1m-1 -22h1m2 5h1m-13 2h1m2 -7h1m6 -8h1m3 28h1m2 -7h1m-11 -18h1m-13 16h1m15 -5h1m-11 3h1m5 6h1m-2 -21h1m-2 24h1m5 3h1m-10 -9h1m19 -8h1m-18 -4h1m2 9h1m7 2h1m-3 9h1m-9 -13h1m6 6h1m-6 6h1m2 -5h1m-3 -22h1m-4 17h1m10 -8h1m-9 -6h1m-7 1h1m2 6h1m-2 1h1m1 -10h1m-5 16h1m3 4h1m-2 -29h1m-2 14h1m3 -4h1m7 19h1m-15 -7h1m4 9h1m5 5h1m-8 -2h1m-5 -9h1m2 -4h1m2 10h1m0 -11h1m-2 23h1m2 -21h1m-12 -14h1m3 8h1m1 14h1m9 -10h1m-4 9h1m-8 2h1m9 -5h1m-1 -14h1m-14 10h1m3 -5h1m-5 16h1m-2 -18h1m10 9h1m-5 -6h1m-11 23h1m17 -11h1m-11 1h1m3 -23h1m-14 17h1m7 -3h1m13 -17h1m-9 7h1m-3 12h1m1 7h1m-11 -19h1m8 15h1m-1 -7h1m-5 27h1m-5 -13h1m-3 -10h1m5 -14h1m5 26h1m-3 -16h1m-6 -6h1m-2 20h1m10 -18h1m-12 5h1m-1 6h1m3 -10h1m-7 11h1m-6 -18h1m14 18h1m-15 -10h1m12 -4h1m-1 3h1m-8 -3h1m0 18h1m-1 -9h1m-1 -6h1m-5 -6h1m4 9h1m-2 12h1m0 2h1m0 -3h1m6 -28h1m-10 25h1m-4 -8h1m8 21h1m-10 -25h1m7 7h1m3 1h1m-13 7h1m3 -9h1m-1 8h1m-2 -2h1m3 7h1m-1 -8h1m-7 3h1m-1 -10h1m3 3h1m1 -10h1m-2 15h1m1 -21h1m-8 28h1m0 -25h1m0 -3h1m-5 32h1m7 -23h1m-7 18h1m-3 -13h1m8 -10h1m-8 17h1m8 7h1m-5 -18h1m-8 -6h1m3 8h1m10 -8h1m-16 -6h1m1 19h1m0 -17h1m0 12h1m-1 8h1m0 -21h1m-7 12h1m13 -2h1m-13 15h1m1 -15h1m1 14h1m8 -1h1m-10 -20h1m1 11h1m-5 -5h1m-3 0h1m-4 20h1m3 -22h1m-4 9h1m7 -2h1m2 3h1m-5 -1h1m-7 -4h1m0 20h1m17 -9h1m-15 -17h1m1 2h1m2 10h1m-12 5h1m4 5h1m0 -11h1m-6 -10h1m5 4h1m-9 19h1m5 -17h1m-9 11h1m10 -6h1m-8 0h1m-5 5h1m-2 -5h1m10 -19h1m-1 21h1m-5 7h1m0 -5h1m-5 -4h1m1 -9h1m9 3h1m-6 7h1m-4 -4h1m-2 -8h1m4 13h1m-11 -4h1m-1 -5h1m9 4h1m-13 13h1m17 -21h1m-6 13h1m-9 1h1m2 -14h1m11 13h1m-14 -12h1m7 4h1m-9 22h1m0 -14h1m0 -10h1m-2 10h1m-1 -6h1m2 4h1m-4 -6h1m-3 13h1m6 -14h1m1 -9h1m-3 19h1m-4 10h1m2 -15h1m2 3h1m-6 5h1m1 -32h1m0 39h1m-12 -23h1m3 23h1m-6 -6h1m5 -9h1m-7 21h1m15 -35h1m-17 21h1m-1 1h1m4 8h1m-4 -12h1m7 -10h1m0 -6h1m-3 23h1m-5 -8h1m-7 -3h1m3 5h1m6 -2h1m-11 -18h1m2 17h1m2 5h1m-6 -9h1m3 5h1m5 -6h1m-9 4h1m3 6h1m-4 -8h1m7 -2h1m-9 21h1m-6 -12h1m17 3h1m-7 -6h1m-5 -15h1m1 19h1m-5 -15h1m11 9h1m-9 0h1m-4 1h1m3 -3h1m5 -10h1m-4 -4h1m-9 17h1m-5 -12h1m-3 14h1m7 -10h1m-1 5h1m-2 2h1m-6 11h1m8 -15h1m6 1h1m-8 -12h1m6 20h1m-7 -3h1m-6 -1h1m9 -7h1m-2 24h1m-5 -14h1m-7 3h1m9 -15h1m-7 9h1m5 14h1m-8 -20h1m-3 7h1m2 -3h1m-5 2h1m-4 -2h1m5 12h1m-2 -13h1m-10 18h1m9 -11h1m-1 -6h1m3 3h1m0 -10h1m-3 0h1m-8 2h1m6 20h1m-11 -10h1m0 -8h1m15 -2h1m-8 11h1m-9 -1h1m-1 -12h1m-2 18h1m-5 4h1m7 -9h1m-6 8h1m6 -18h1m2 10h1m-7 -3h1m-1 -5h1m2 -2h1m-6 10h1m-2 -4h1m8 -9h1m-7 13h1m2 3h1m-4 -2h1m1 -17h1m8 6h1m-16 24h1m4 -10h1m3 -15h1m-9 -1h1m3 6h1m4 2h1m-10 -1h1m6 -17h1m-11 26h1m4 -14h1m1 -7h1m7 21h1m-5 -10h1m2 -9h1m-9 13h1m-2 -5h1m6 10h1m-8 -7h1m4 -19h1m-2 27h1m-4 -19h1m-4 1h1m11 11h1m-4 -16h1m2 35h1m-9 -32h1m7 3h1m-12 4h1m13 -11h1m-4 20h1m-8 -17h1m-8 11h1m6 5h1m-10 2h1m8 -14h1m0 22h1m-7 -9h1m2 -14h1m-1 2h1m1 14h1m3 -7h1m-1 -5h1m-6 10h1m4 12h1m-8 -18h1m11 5h1m-4 -12h1m-6 19h1m-3 -37h1m-1 34h1m-2 -10h1m0 12h1m5 -7h1m-14 11h1m11 -27h1m0 20h1m-4 -4h1m-5 -5h1m1 -12h1m-2 7h1m0 11h1m-5 -11h1m10 10h1m1 -11h1m-19 15h1m7 -9h1m-5 10h1m7 -16h1m-4 1h1m2 4h1m-7 14h1m6 -7h1m-6 -9h1m1 -2h1m-12 12h1m12 -4h1m-11 -8h1m7 9h1m-6 3h1m-1 -5h1m5 -9h1m-5 6h1m7 -3h1m-8 16h1m-2 6h1m4 -23h1m-1 5h1m-7 5h1m4 13h1m4 -16h1m-11 2h1m8 -5h1m-4 15h1m3 -14h1m-2 9h1m-5 -7h1m-13 -10h1m2 13h1m9 5h1m-6 -1h1m9 -11h1m-12 3h1m3 1h1m0 5h1m-4 1h1m5 -1h1m-6 -6h1m-2 -1h1m6 -1h1m-14 8h1m4 -18h1m-7 11h1m10 5h1m3 -4h1m-5 -1h1m-6 13h1m3 -25h1m-1 12h1m-5 4h1m-1 -5h1m5 -7h1m-7 4h1m4 10h1m0 -16h1m-7 11h1m3 -4h1m-1 -10h1m-3 21h1m1 -13h1m-16 13h1m13 -8h1m-1 5h1m-3 -2h1m9 -7h1m0 -1h1m-7 -7h1m0 18h1m-9 -4h1m3 0h1m-11 5h1m7 -2h1m-2 -14h1m8 13h1m-1 13h1m-5 -23h1m-10 2h1m7 12h1m-3 -9h1m2 5h1m6 15h1m-7 -24h1m-1 5h1m-2 3h1m-4 -4h1m2 12h1m-2 4h1m-2 -7h1m-7 2h1m3 -10h1m4 12h1m-7 -6h1m11 -22h1m-15 -2h1m40 15h1m-23 -12h1m-19 -6h1m19 24h1m-2 1h1m17 -2h1m-17 0h1m-34 -20h1m27 -12h1m-7 20h1m-2 18h1m-4 -19h1m8 22h1m9 -30h1m-19 22h1m7 4h1m-11 2h1m-8 -9h1m2 -20h1m18 10h1m-16 -9h1m-5 1h1m12 6h1m-15 17h1m0 -4h1m-3 3h1m6 -20h1m23 22h1m-14 -17h1m3 -2h1m-26 27h1m-3 1h1m21 -30h1m-7 27h1m11 -17h1m-31 0h1m-5 2h1m26 8h1m-6 2h1m17 -8h1m-17 -16h1m2 26h1m2 -42h1m-3 30h1m-10 -29h1m-4 0h1m31 19h1m-19 10h1m-1 -9h1m-2 1h1m-1 -17h1m-18 20h1m14 -7h1m-6 -8h1m12 5h1m-19 9h1m2 -1h1m9 4h1m-46 -3h1m44 -7h1m1 21h1m7 -26h1m-41 25h1m15 -3h1m9 13h1m-15 -2h1m2 11h1m4 4h1m8 -37h1m-25 -8h1m31 1h1m-28 18h1m-2 -18h1m-25 -12h1m43 -18h1m3 55h1m-16 -10h1m-21 12h1m22 -16h1m-12 22h1m-1 -47h1m-18 2h1m26 20h1m-5 13h1m10 -16h1m4 4h1m-23 -2h1m4 -17h1m9 24h1m12 -1h1m-24 -3h1m1 -9h1m0 -7h1m-12 9h1m21 -5h1m-4 12h1m-20 8h1m7 2h1m8 -24h1m-2 9h1m21 9h1m-19 -5h1m-1 19h1m-7 -10h1m-2 11h1m7 -22h1m-12 15h1m5 -5h1m-6 -17h1m0 12h1m-16 4h1m14 -16h1m4 58h1m-16 -59h1m3 -13h1m11 34h1m-5 -10h1m-6 2h1m10 -14h1m-16 36h1m13 -8h1m-11 -17h1m23 16h1m4 -26h1m-40 51h1m14 -47h1m-32 33h1m15 -23h1m-9 2h1m-20 -6h1m39 7h1m12 -14h1m-12 30h1m-3 -8h1m-9 1h1m-16 -18h1m5 25h1m24 -30h1m6 22h1m-15 -16h1m8 -16h1m-5 22h1m-11 6h1m5 -1h1m0 -2h1m9 24h1m-16 -52h1m17 42h1m-17 -31h1m-23 42h1m18 -17h1m7 -36h1m-23 25h1m49 -22h1m-30 14h1m-5 9h1m0 3h1m-17 -3h1m23 10h1m-9 -11h1m11 2h1m-8 -6h1m2 0h1m-9 -17h1m-9 7h1m8 -4h1m-8 6h1m-8 20h1m6 -14h1m6 7h1m-7 -1h1m17 -3h1m-11 -10h1m-5 22h1m-11 -40h1m12 48h1m-2 -7h1m6 -16h1m-11 -1h1m-5 -11h1m-14 15h1m11 -18h1m2 18h1m-3 11h1m8 8h1m7 -22h1m0 16h1m8 -13h1m-17 -3h1m20 10h1m-30 -6h1m-13 -12h1m13 -6h1m5 11h1m-13 21h1m17 -14h1m-8 -5h1m4 11h1m-19 5h1m8 -4h1m-6 -4h1m0 16h1m17 -1h1m-29 -15h1m11 10h1m-6 -21h1m12 26h1m-29 -2h1m37 -11h1m-29 -4h1m-7 13h1m24 -18h1m-15 2h1m29 4h1m-50 4h1m33 -15h1m-11 10h1m20 8h1m-9 17h1m-19 -20h1m16 -9h1m-12 9h1m-4 -2h1m19 12h1m-23 -8h1m3 10h1m-13 -31h1m3 10h1m6 -18h1m-13 35h1m-4 -6h1m22 1h1m-17 15h1m12 -41h1m-5 35h1m-9 -7h1m9 -15h1m14 6h1m-27 -8h1m2 5h1m18 -6h1m-19 -7h1m-4 -5h1m-4 38h1m10 6h1m-1 -11h1m8 -39h1m-16 47h1m15 -17h1m-10 4h1m8 -8h1m-27 9h1m20 -15h1m36 -9h1m-36 34h1m-2 -16h1m1 -18h1m18 10h1m-31 4h1m11 -12h1m-11 -5h1m3 -1h1m-9 18h1m12 8h1m-25 14h1m38 2h1m-5 -17h1m-19 6h1m-2 -15h1m12 10h1m-14 -14h1m3 12h1m11 -17h1m3 -10h1m-6 4h1m8 10h1m-13 -2h1m10 4h1m-36 -6h1m-5 -7h1m35 37h1m-39 -17h1m15 -6h1m31 10h1m-21 -8h1m6 -5h1m-18 32h1m16 -39h1m-40 37h1m25 -24h1m6 -31h1m3 18h1m-3 17h1m-11 -18h1m5 -13h1m7 24h1m-12 -5h1m15 18h1m-16 -13h1m13 -13h1m-2 31h1m-27 2h1m10 -12h1m13 -8h1m-25 -18h1m-16 21h1m19 4h1m10 -21h1m-16 12h1m9 6h1m2 6h1m15 7h1m-39 1h1m17 -19h1m7 3h1m-21 3h1m24 3h1m-30 -16h1m14 6h1m-13 0h1m18 -3h1m-4 -1h1m-2 15h1m-21 -7h1m14 8h1m15 -20h1m-41 -9h1m5 35h1m20 -15h1m16 4h1m-40 15h1m29 -45h1m-2 25h1m26 13h1m-35 -29h1m9 26h1m-7 -39h1m0 32h1m-4 16h1m-5 -4h1m-19 -18h1m8 2h1m-4 3h1m-12 20h1m25 0h1m5 -29h1m-13 -2h1m4 26h1m6 -18h1m-12 4h1m-9 -2h1m-4 -5h1m13 19h1m3 -30h1m-10 33h1m16 -9h1m-21 -12h1m0 27h1m10 -26h1m20 9h1m-6 6h1m-17 -3h1m-16 -26h1m19 17h1m-13 -7h1m5 -4h1m3 18h1m-13 -14h1m-11 13h1m22 -4h1m8 -15h1m-27 38h1m-18 -42h1m37 12h1m-3 26h1m-14 1h1m-16 -7h1m14 -10h1m0 -14h1m7 30h1m16 -26h1m-2 22h1m-27 -12h1m11 21h1m-15 -31h1m8 3h1m-3 3h1m-3 -4h1m25 30h1m-27 -36h1m-3 20h1m3 -25h1m-3 0h1m8 9h1m11 8h1m-36 26h1m4 -7h1m-8 -24h1m11 30h1m55 -2h1m-27 1h1m-9 -23h1m-5 4h1m-6 -9h1m26 6h1m-30 -13h1m20 25h1m-12 -1h1m9 -23h1m-16 18h1m7 -19h1m1 9h1m-9 0h1m8 -2h1m4 15h1m-25 -18h1m12 15h1m21 1h1m-7 7h1m-38 -21h1m6 28h1m32 -32h1m-12 5h1m1 11h1m7 -11h1m-36 5h1m30 21h1m10 -19h1m-26 -8h1m4 2h1m-5 10h1m-7 2h1m4 -26h1m-6 27h1m23 -3h1m-23 -8h1m5 20h1m12 -9h1m-21 -19h1m4 5h1m-12 18h1m22 0h1m12 -5h1m-18 10h1m-7 -10h1m9 -13h1m-17 18h1m-35 21h1m38 -43h1m-15 32h1m24 -26h1m-8 -10h1m-7 1h1m-19 8h1m-1 17h1m7 -17h1m10 -9h1m5 7h1m-19 23h1m7 -2h1m21 -16h1m2 5h1m-48 8h1m22 -16h1m22 18h1m1 1h1m-21 -4h1m-10 -19h1m17 -9h1m-22 17h1m42 6h1m-25 -20h1m0 16h1m-7 -2h1m-7 13h1m16 -26h1m-15 7h1m-20 -2h1m31 -8h1m-40 -18h1m6 37h1m9 1h1m24 -6h1m-42 10h1m23 6h1m25 -20h1m-3 10h1m-28 -16h1m-10 9h1m8 -9h1m16 9h1m-25 24h1m4 -20h1m5 1h1m1 -3h1m-31 -2h1m37 -5h1m-4 6h1m16 10h1m-30 -3h1m18 -12h1m-23 34h1m-20 -34h1m-4 16h1m27 -11h1m-3 3h1m28 -5h1m-20 22h1m-9 -4h1m-4 -11h1m13 33h1m22 -36h1m-15 5h1m-12 -17h1m-1 6h1m-4 -16h1m10 14h1m-36 12h1m35 -4h1m-22 4h1m-22 -22h1m13 34h1m26 -25h1m-11 18h1m-21 -14h1m-3 -19h1m29 13h1m-17 18h1m-26 -34h1m1 -12h1m-4 1h1m6 6h1m-13 5h1m9 3h1m13 1h1m-13 0h1m18 -3h1m-19 -2h1m-1 -11h1m10 22h1m-10 -22h1m-8 9h1m-6 3h1m13 -8h1m4 3h1m-17 8h1m16 -10h1m-4 -3h1m-32 7h1m31 -6h1m0 2h1m-22 -1h1m17 -2h1m26 15h1m-20 -8h1m-6 -5h1m-18 8h1m-1 -1h1m-11 -8h1m35 -7h1m-7 20h1m-5 -19h1m-13 16h1m60 0h1m6 21h1m-4 5h1m15 -17h1m-37 13h1m31 -2h1m-11 14h1m-5 -58h1m-5 54h1m18 -49h1m-4 63h1m-14 -15h1" stroke="#000" stroke-width="1.0" fill="none" opacity="0.86"/>
<path d="M757.8 1914.2L757.8 2116.2" stroke="#000" stroke-width="2.2" fill="none" />
<path d="M660.1 2035.9L871.8 2035.9" stroke="#000" stroke-width="2.0" fill="none" />
<text x="668.7" y="1942.4" font-size="18.2" textLength="25.2" lengthAdjust="spacingAndGlyphs">2.7</text>
<text x="853.7" y="1942.4" font-size="18.2" text-anchor="end" textLength="25.8" lengthAdjust="spacingAndGlyphs">0.3</text>
<text x="668.7" y="2098.6" font-size="18.2" textLength="36.6" lengthAdjust="spacingAndGlyphs">96.1</text>
<text x="853.7" y="2098.6" font-size="18.2" text-anchor="end" textLength="25.8" lengthAdjust="spacingAndGlyphs">0.8</text>
<rect x="904.6" y="1914.2" width="206.7" height="201" fill="#fff" stroke="#000" stroke-width="1.1"/>
<path d="M904.6 1933.8h-5.4M904.6 1981.5h-5.4M904.6 2035.9h-5.4M904.6 2102.6h-5.4" stroke="#000" stroke-width="2.7" fill="none"/>
<rect x="899" y="2063.7" width="5.6" height="10" fill="#000"/>
<path d="M904.6 2019.5h-2.6M904.6 2009.9h-2.6M904.6 2003.1h-2.6M904.6 1993.6h-2.6M904.6 1989.9h-2.6M904.6 1986.8h-2.6M904.6 1984h-2.6M904.6 1967.1h-2.6M904.6 1958.7h-2.6M904.6 1952.8h-2.6M904.6 1944.4h-2.6M904.6 1941.2h-2.6M904.6 1938.4h-2.6M904.6 1936h-2.6M904.6 1919.4h-2.6M904.6 2059.7h-2.6M904.6 2055.8h-2.6M904.6 2047.8h-2.6M904.6 2043.8h-2.6M904.6 2039.9h-2.6M904.6 2077.8h-2.6M904.6 2082h-2.6M904.6 2090.2h-2.6M904.6 2094.3h-2.6M904.6 2098.5h-2.6M904.6 2110h-2.6" stroke="#000" stroke-width="1.3" fill="none"/>
<path d="M904.6 1997.9h-3.8M904.6 1948.2h-3.8M904.6 2051.8h-3.8M904.6 2086.1h-3.8" stroke="#000" stroke-width="2" fill="none"/>
<text x="895" y="1937.4" font-size="7.1" text-anchor="end" fill="#222">10<tspan dy="-4.2">5</tspan></text>
<text x="895" y="1985.1" font-size="7.1" text-anchor="end" fill="#222">10<tspan dy="-4.2">4</tspan></text>
<text x="895" y="2039.5" font-size="7.1" text-anchor="end" fill="#222">10<tspan dy="-4.2">3</tspan></text>
<text x="891.6" y="2071.5" font-size="7.1" text-anchor="end" fill="#222">0</text>
<text x="895" y="2106.2" font-size="7.1" text-anchor="end" fill="#222">-10<tspan dy="-4.2">3</tspan></text>
<rect x="944.1" y="2115.2" width="18.4" height="3.2" fill="#000"/>
<path d="M945.8 2115.2v5.3M950 2115.2v5.3M954.1 2115.2v5.3M960.8 2115.2v5.3M997.4 2115.2v5.3M1047.8 2115.2v5.3M1090.8 2115.2v5.3" stroke="#000" stroke-width="3.3" fill="none"/>
<path d="M920.4 2115.2v3.8M980.4 2115.2v3.8M1032.6 2115.2v3.8M1077.9 2115.2v3.8" stroke="#000" stroke-width="2.3" fill="none"/>
<path d="M912.5 2115.2v2.3M915.4 2115.2v2.3M926.1 2115.2v2.3M931.1 2115.2v2.3M938.3 2115.2v2.3M965.5 2115.2v2.3M969.6 2115.2v2.3M976.1 2115.2v2.3M984.7 2115.2v2.3M988.3 2115.2v2.3M991.1 2115.2v2.3M993.3 2115.2v2.3M1012.6 2115.2v2.3M1021.4 2115.2v2.3M1027.7 2115.2v2.3M1036.6 2115.2v2.3M1040 2115.2v2.3M1042.9 2115.2v2.3M1045.5 2115.2v2.3M1060.7 2115.2v2.3M1068.3 2115.2v2.3M1073.7 2115.2v2.3M1081.3 2115.2v2.3M1084.1 2115.2v2.3M1086.6 2115.2v2.3M1088.8 2115.2v2.3M1103.7 2115.2v2.3" stroke="#000" stroke-width="1.4" fill="none"/>
<text x="951.7" y="2132.5" font-size="7.1" text-anchor="middle" fill="#222">0</text>
<text x="998.1" y="2133" font-size="7.1" fill="#222">10<tspan dy="-5" font-size="7.1">3</tspan></text>
<text x="1047.9" y="2133" font-size="7.1" fill="#222">10<tspan dy="-5" font-size="7.1">4</tspan></text>
<text x="1091.3" y="2133" font-size="7.1" fill="#222">10<tspan dy="-5" font-size="7.1">5</tspan></text>
<path d="M952 2071.5h1m8 -4h1m-13 0h1m0 -12h1m-8 6h1m5 -17h1m-4 1h1m6 14h1m-8 -11h1m2 -5h1m4 19h1m-14 8h1m9 -13h1m-5 15h1m2 -5h1m2 -5h1m0 -15h1m-10 27h1m4 -12h1m8 9h1m-15 -2h1m0 -20h1m6 14h1m-10 -4h1m5 -20h1m-7 29h1m4 -5h1m1 12h1m3 -17h1m-1 -14h1m-4 24h1m-4 -5h1m10 -18h1m-13 23h1m-5 -11h1m-4 13h1m12 -8h1m-8 -1h1m-6 12h1m-4 -17h1m4 7h1m9 -22h1m-5 10h1m-7 21h1m4 -11h1m-2 16h1m2 -12h1m0 -13h1m-6 2h1m-4 -2h1m12 11h1m-2 -2h1m-11 -12h1m-9 1h1m6 12h1m10 -4h1m-8 1h1m-1 -4h1m-5 1h1m-1 16h1m10 -8h1m-5 -12h1m-2 17h1m-3 11h1m0 -12h1m-1 -12h1m-3 18h1m1 -18h1m-7 8h1m-1 -5h1m-4 5h1m8 -21h1m5 17h1m-10 -10h1m-5 25h1m9 -17h1m14 14h1m-17 -5h1m2 -12h1m-5 11h1m-6 -3h1m7 5h1m-3 -19h1m-6 11h1m8 6h1m-4 -7h1m-2 -14h1m-9 24h1m-3 -11h1m5 2h1m-1 2h1m1 -2h1m-2 -9h1m2 -3h1m2 11h1m-2 -5h1m-9 -1h1m5 8h1m3 8h1m-6 19h1m-2 -35h1m-3 10h1m-2 -6h1m3 -1h1m-3 4h1m3 -7h1m-7 5h1m-5 9h1m2 -9h1m8 15h1m-7 -26h1m4 14h1m-5 0h1m0 -5h1m3 -15h1m0 33h1m-5 -4h1m0 -13h1m1 -2h1m-7 -5h1m-5 10h1m4 13h1m1 3h1m1 -9h1m-7 -8h1m4 -8h1m8 9h1m-17 9h1m8 -18h1m-8 26h1m5 -16h1m2 10h1m-14 4h1m8 -10h1m-2 -1h1m6 5h1m-5 -5h1m-10 -15h1m3 19h1m-2 -15h1m-9 9h1m19 -1h1m-17 -1h1m-9 4h1m8 0h1m5 6h1m-1 -20h1m2 18h1m-3 7h1m-5 -13h1m0 6h1m2 -27h1m-10 36h1m11 -18h1m-5 -9h1m-4 -1h1m-2 15h1m8 -6h1m-6 5h1m-6 20h1m1 -24h1m0 -14h1m-2 6h1m9 0h1m-9 14h1m-4 -14h1m3 10h1m-4 10h1m7 -7h1m-14 4h1m6 -3h1m12 -12h1m-19 9h1m12 -15h1m-9 16h1m3 8h1m-1 -14h1m-9 -4h1m-2 8h1m3 -11h1m-1 13h1m-11 2h1m10 -2h1m4 1h1m-5 4h1m-3 3h1m2 2h1m-6 -5h1m-3 -12h1m4 3h1m-7 -6h1m-4 8h1m12 -12h1m-7 5h1m3 6h1m-1 7h1m-10 -15h1m5 -11h1m-3 8h1m-2 17h1m6 -6h1m-15 -2h1m14 4h1m0 7h1m3 -9h1m-18 -10h1m4 10h1m-8 4h1m10 -13h1m-6 12h1m2 -22h1m2 26h1m-6 -9h1m8 -1h1m0 16h1m0 -13h1m-8 -4h1m-5 10h1m0 -27h1m-3 23h1m6 -6h1m-9 2h1m1 1h1m2 11h1m0 0h1m-3 19h1m-4 -25h1m9 -2h1m-3 -3h1m-15 -14h1m3 29h1m9 -6h1m-14 9h1m15 -15h1m1 -3h1m-6 4h1m-3 1h1m-7 -2h1m0 0h1m1 -17h1m-7 36h1m6 -24h1m0 14h1m-4 -15h1m8 -14h1m-19 34h1m10 -15h1m-9 3h1m6 -2h1m4 11h1m2 -3h1m-14 -3h1m2 -10h1m-6 -1h1m9 17h1m-8 -21h1m9 17h1m-9 -28h1m4 21h1m-1 -3h1m4 -10h1m-6 20h1m7 -21h1m-10 9h1m-8 13h1m2 -14h1m-5 8h1m-1 2h1m12 -1h1m-11 -17h1m0 12h1m9 4h1m-6 1h1m6 -3h1m3 -5h1m-10 11h1m-13 7h1m15 -3h1m-13 9h1m3 -24h1m-4 9h1m0 21h1m5 -32h1m-4 -12h1m-4 28h1m-8 -15h1m4 -5h1m5 0h1m-5 22h1m-6 -8h1m7 7h1m-2 -8h1m9 -5h1m-15 5h1m-2 -11h1m6 18h1m2 -20h1m0 8h1m-5 3h1m-10 7h1m4 -17h1m-4 9h1m13 -6h1m-13 3h1m-11 12h1m15 -20h1m-1 22h1m-7 -12h1m-2 2h1m6 -4h1m-6 2h1m6 -3h1m0 -1h1m-8 2h1m-10 26h1m10 -27h1m-4 25h1m-1 -16h1m2 -15h1m6 -2h1m-3 9h1m-7 8h1m1 -4h1m-2 16h1m-7 -17h1m15 -19h1m-3 -5h1m-6 23h1m-7 14h1m-6 -15h1m1 3h1m5 13h1m-1 -13h1m8 4h1m-21 -9h1m9 8h1m6 -24h1m0 24h1m-3 -4h1m-7 -10h1m-4 26h1m8 -20h1m-4 17h1m-14 -13h1m5 6h1m-3 -5h1m6 0h1m1 -17h1m-2 8h1m-4 19h1m-4 -18h1m4 16h1m-7 -5h1m-10 1h1m10 -3h1m9 9h1m-12 -18h1m5 9h1m-11 -16h1m6 31h1m2 -27h1m5 9h1m-10 -9h1m5 24h1m-7 -16h1m-7 16h1m3 -26h1m9 -2h1m-10 13h1m-3 0h1m3 10h1m-4 -12h1m6 1h1m-6 3h1m0 2h1m-10 -9h1m5 -9h1m2 12h1m-1 -1h1m-3 8h1m5 9h1m-11 0h1m-5 -24h1m6 12h1m1 3h1m2 -2h1m4 -10h1m-3 -8h1m-11 32h1m2 -9h1m13 -19h1m-9 3h1m-7 -1h1m2 19h1m-4 -16h1m11 21h1m-18 -2h1m11 -17h1m-4 14h1m-12 11h1m1 -18h1m9 -8h1m-4 12h1m-7 5h1m13 -24h1m0 19h1m-9 -13h1m-11 20h1m14 -30h1m-5 4h1m-6 8h1m2 4h1m3 -7h1m-11 9h1m4 6h1m4 -22h1m-12 19h1m5 -6h1m-6 10h1m13 -28h1m-15 32h1m14 -24h1m-17 14h1m12 -4h1m-13 5h1m2 6h1m6 -22h1m-2 14h1m-3 7h1m1 -13h1m-5 13h1m-4 -1h1m0 -17h1m8 9h1m-5 8h1m-10 16h1m1 -26h1m4 3h1m-4 7h1m3 5h1m-3 -16h1m-1 -4h1m-2 -1h1m4 17h1m6 -19h1m-13 27h1m2 0h1m-2 -16h1m-3 2h1m-5 25h1m1 -20h1m-3 5h1m4 1h1m2 -15h1m4 10h1m-10 -14h1m2 -15h1m-8 33h1m3 6h1m5 -6h1m-1 -8h1m-14 -4h1m4 -1h1m2 -13h1m7 24h1m-12 -9h1m1 0h1m0 -2h1m-9 13h1m0 0h1m8 -6h1m-2 4h1m-2 -24h1m0 8h1m-3 5h1m5 15h1m-3 -14h1m-12 7h1m16 -1h1m-10 -19h1m5 23h1m-7 -20h1m-3 18h1m5 0h1m0 -20h1m-7 32h1m0 -26h1m1 6h1m-11 22h1m-1 -27h1m7 6h1m-6 7h1m8 -7h1m-4 7h1m-2 -5h1m7 -6h1m-18 1h1m14 4h1m-3 -13h1m4 7h1m-8 9h1m0 -18h1m-5 17h1m-4 -1h1m13 -19h1m-14 16h1m5 9h1m-8 -14h1m6 9h1m-6 -8h1m-1 2h1m8 2h1m-5 7h1m-5 -4h1m1 7h1m1 -15h1m-4 9h1m-7 -11h1m10 19h1m-8 -5h1m2 -2h1m-1 -3h1m-7 -3h1m7 1h1m4 -17h1m-6 31h1m1 -16h1m-8 1h1m-2 7h1m7 -14h1m-3 2h1m-5 8h1m1 -1h1m-5 2h1m-1 -14h1m3 12h1m0 16h1m2 -29h1m-11 0h1m4 6h1m2 18h1m-5 -22h1m5 -6h1m-1 26h1m-2 -2h1m-8 -5h1m2 -3h1m0 17h1m2 -14h1m0 -3h1m-6 7h1m3 1h1m-8 20h1m2 -43h1m-1 25h1m-2 -12h1m-3 -22h1m8 7h1m-7 5h1m-7 7h1m1 7h1m-9 -3h1m19 -5h1m-13 15h1m-9 -11h1m7 -4h1m1 20h1m2 -6h1m-8 -5h1m8 -20h1m-8 2h1m0 32h1m-7 -9h1m9 -14h1m-5 -5h1m13 16h1m-18 7h1m6 -2h1m6 2h1m-15 -11h1m-1 17h1m8 5h1m1 -1h1m-1 -42h1m-12 23h1m-3 -20h1m13 6h1m-6 5h1m2 10h1m2 -10h1m-2 13h1m-7 -4h1m1 -8h1m0 17h1m-5 -4h1m-3 -7h1m3 -17h1m-4 14h1m14 3h1m-11 5h1m-8 -11h1m4 -7h1m-5 10h1m8 9h1m-12 14h1m10 -9h1m-6 -19h1m4 17h1m-2 -16h1m-10 12h1m5 3h1m-6 -18h1m-11 17h1m-4 -8h1m19 20h1m-6 -10h1m8 2h1m-17 0h1m7 -16h1m4 20h1m-3 -1h1m-3 -12h1m1 7h1m0 -10h1m1 1h1m-10 12h1m1 -13h1m-2 -9h1m0 0h1m1 2h1m-9 -9h1m-5 31h1m8 -30h1m7 25h1m-6 -2h1m3 0h1m-19 9h1m10 -2h1m2 -17h1m7 6h1m-4 -7h1m-9 2h1m-7 4h1m5 -6h1m-6 1h1m2 19h1m6 -32h1m1 0h1m0 4h1m1 25h1m-18 -2h1m-4 -5h1m14 -8h1m1 6h1m-3 -16h1m-5 23h1m1 -14h1m-3 5h1m1 -7h1m2 3h1m-7 3h1m2 4h1m3 -21h1m0 11h1m-3 5h1m-8 0h1m-4 -11h1m5 11h1m7 -8h1m-9 15h1m7 -5h1m-12 8h1m9 -13h1m-10 9h1m6 -7h1m-13 6h1m7 -24h1m0 23h1m1 -5h1m-7 9h1m8 -13h1m-17 10h1m1 -2h1m-1 -11h1m11 10h1m-1 -15h1m-13 5h1m11 1h1m7 -7h1m-7 3h1m-3 -3h1m-10 -5h1m5 15h1m-9 6h1m4 -3h1m3 -2h1m4 10h1m-13 12h1m4 -13h1m6 2h1m1 -6h1m-13 13h1m8 -6h1m-9 -1h1m2 0h1m-2 -5h1m-3 -17h1m4 6h1m-1 15h1m6 1h1m-10 -8h1m-1 -5h1m-6 14h1m-1 -10h1m-2 -3h1m-3 12h1m6 2h1m-3 8h1m6 -30h1m-5 9h1m-4 9h1m3 -11h1m-3 21h1m-4 -10h1m3 -18h1m4 21h1m-6 -7h1m-2 9h1m-6 -17h1m5 15h1m2 -11h1m-11 3h1m6 21h1m-11 -25h1m16 11h1m-13 -6h1m0 12h1m1 -12h1m4 1h1m-5 -2h1m-6 -11h1m3 1h1m-2 13h1m-3 3h1m1 2h1m-4 3h1m15 -14h1m-19 3h1m0 3h1m9 -23h1m-2 14h1m-7 17h1m4 -1h1m-14 -20h1m11 10h1m-2 2h1m3 -8h1m-8 13h1m11 -8h1m-8 -12h1m5 12h1m-8 -5h1m-10 24h1m12 -23h1m0 16h1m-5 -14h1m-7 22h1m1 -36h1m-3 17h1m5 -25h1m-6 27h1m0 -14h1m8 7h1m-7 3h1m-6 -2h1m2 12h1m2 -10h1m-5 21h1m-4 -22h1m-1 -2h1m-2 4h1m-1 0h1m9 -12h1m-6 10h1m0 -4h1m-8 14h1m7 -9h1m-3 -7h1m-1 -11h1m2 33h1m-4 -16h1m-3 1h1m6 2h1m-8 8h1m7 10h1m-5 -15h1m4 1h1m-7 9h1m9 -15h1m-16 -7h1m9 8h1m-3 4h1m-6 -7h1m-2 6h1m2 1h1m3 -3h1m-5 -6h1m-4 6h1m1 10h1m0 -8h1m-9 4h1m10 -2h1m0 8h1m3 -2h1m-3 -22h1m-5 11h1m-4 2h1m2 -5h1m1 -13h1m-7 11h1m-2 17h1m0 -5h1m-2 -6h1m-1 7h1m-2 -5h1m5 -1h1m-2 10h1m5 -11h1m-12 -4h1m3 5h1m-1 4h1m-3 -23h1m11 9h1m-10 7h1m-2 -10h1m0 4h1m0 11h1m-8 -5h1m-3 14h1m2 -28h1m9 15h1m-11 -3h1m5 9h1m-8 0h1m6 -18h1m-6 10h1m-4 7h1m1 -2h1m14 8h1m-19 -22h1m7 -8h1m-12 26h1m8 -14h1m-4 10h1m-7 -11h1m14 12h1m-2 3h1m-8 -18h1m-9 17h1m11 -8h1m2 9h1m-15 1h1m1 2h1m6 -14h1m-3 -2h1m-7 19h1m6 3h1m3 -36h1m-3 11h1m-4 9h1m-1 10h1m5 -18h1m-7 3h1m5 22h1m-7 -6h1m-4 -24h1m-1 9h1m11 1h1m-1 3h1m-12 6h1m4 2h1m2 -6h1m-1 -10h1m-3 9h1m-12 -3h1m7 -1h1m-6 12h1m0 -9h1m-7 -10h1m14 20h1m-7 -30h1m6 14h1m-13 10h1m12 17h1m-3 -15h1m0 -7h1m-9 15h1m-1 -32h1m1 16h1m-9 18h1m15 -16h1m-9 6h1m1 -6h1m4 16h1m-7 -12h1m-9 0h1m18 0h1m-8 -2h1m-12 21h1m8 -27h1m-2 -1h1m3 12h1m-6 2h1m-4 -14h1m5 6h1m-9 4h1m2 -17h1m-2 26h1m1 -12h1m-4 6h1m4 -27h1m-1 37h1m-6 -14h1m-1 -17h1m12 18h1m-3 0h1m-7 3h1m-3 5h1m5 -25h1m-5 5h1m-4 17h1m0 -15h1m2 4h1m0 -17h1m-3 17h1m1 11h1m-12 -25h1m6 -6h1m7 32h1m-15 -4h1m2 19h1m-1 -33h1m1 12h1m4 0h1m5 -10h1m-11 -19h1m2 29h1m-9 -5h1m1 11h1m-7 -9h1m3 22h1m-1 -13h1m4 7h1m-9 -25h1m13 9h1m-5 2h1m7 -2h1m-4 -2h1m-2 -1h1m-6 10h1m-6 -31h1m12 27h1m-4 -17h1m-10 5h1m3 -5h1m-6 17h1m21 -3h1m-25 2h1m12 -4h1m-4 8h1m-4 -16h1m3 7h1m-4 2h1m0 -7h1m5 -5h1m-9 9h1m2 5h1m-2 -30h1m-5 17h1m1 23h1m5 -35h1m-3 20h1m-3 -8h1m8 14h1m-4 -14h1m-2 -7h1m-13 27h1m1 -13h1m1 -9h1m3 12h1m-7 5h1m12 -15h1m-11 16h1m-2 4h1m1 -4h1m-10 0h1m0 -8h1m-2 10h1m0 -9h1m3 11h1m21 -24h1m6 -7h1m1 22h1m-16 -15h1m4 37h1m1 -18h1m-33 -12h1m19 7h1m-10 -12h1m-2 5h1m24 16h1m-2 -18h1m-18 7h1m-21 -12h1m15 26h1m5 -29h1m-8 14h1m-4 -16h1m4 25h1m15 -3h1m-9 -24h1m-33 18h1m-2 -9h1m18 -18h1m-2 28h1m8 0h1m-16 4h1m-4 4h1m25 7h1m14 -62h1m-20 44h1m-1 -23h1m3 10h1m-13 18h1m9 -2h1m-22 -10h1m26 9h1m4 -13h1m-9 23h1m-15 -13h1m-22 -3h1m22 2h1m-5 -12h1m10 13h1m12 28h1m-17 -37h1m13 -1h1m-16 24h1m-12 -11h1m19 13h1m-21 -26h1m4 25h1m-17 17h1m41 -31h1m-8 -4h1m-14 -5h1m14 0h1m-5 -2h1m5 19h1m-14 -24h1m-17 22h1m25 -19h1m-10 -7h1m-12 9h1m-4 2h1m15 16h1m-12 -8h1m-4 9h1m14 -36h1m-14 22h1m28 -14h1m-22 27h1m-10 -6h1m9 -14h1m-7 -10h1m3 33h1m18 -13h1m-30 21h1m1 -21h1m20 -5h1m-13 21h1m22 -10h1m-21 12h1m7 -25h1m-28 -3h1m-5 19h1m5 0h1m3 -8h1m18 -4h1m-30 12h1m32 10h1m-44 -2h1m27 -5h1m-25 -2h1m37 -6h1m-12 5h1m-28 -8h1m36 -2h1m-22 -6h1m9 2h1m3 -5h1m-19 4h1m29 5h1m-35 0h1m40 22h1m-46 -18h1m19 -3h1m-2 9h1m-18 -25h1m27 24h1m9 4h1m-19 14h1m20 -29h1m-36 25h1m36 -43h1m-15 10h1m-24 27h1m-14 3h1m30 10h1m8 -20h1m-30 -33h1m32 32h1m-13 -6h1m18 10h1m-13 -15h1m5 9h1m-43 -11h1m34 14h1m0 -12h1m-16 25h1m-17 -15h1m21 -24h1m-9 25h1m-25 33h1m26 -63h1m15 17h1m-27 -8h1m-1 7h1m11 -4h1m17 27h1m-4 9h1m-33 -27h1m18 12h1m6 0h1m-15 -12h1m21 -7h1m-56 21h1m36 -44h1m-12 32h1m19 -13h1m-14 12h1m8 16h1m-7 -1h1m-7 1h1m19 11h1m-24 -30h1m-5 13h1m29 -7h1m-2 20h1m-7 -3h1m-25 9h1m16 -24h1m-22 -5h1m20 3h1m-14 -18h1m11 1h1m0 20h1m-14 -19h1m0 22h1m22 -9h1m-23 18h1m22 -14h1m-10 29h1m2 -14h1m-12 -24h1m-8 17h1m5 8h1m29 -12h1m-19 -7h1m10 26h1m-8 -39h1m-1 11h1m19 3h1m-29 -1h1m13 -11h1m-16 30h1m-1 -44h1m3 35h1m-18 -18h1m-2 16h1m-8 -12h1m33 -24h1m5 14h1m-24 17h1m20 -10h1m-42 18h1m36 -24h1m-5 15h1m-10 -14h1m-7 13h1m-1 -25h1m36 22h1m-52 7h1m5 -13h1m2 -1h1m2 13h1m-9 -2h1m2 16h1m11 -18h1m1 -2h1m1 8h1m-13 -9h1m-15 -8h1m19 41h1m-26 -31h1m19 -9h1m18 -3h1m-11 -9h1m1 10h1m8 24h1m-3 -5h1m-12 -7h1m9 6h1m-24 -2h1m4 0h1m27 3h1m-23 -35h1m5 31h1m-4 -3h1m-1 -21h1m-12 31h1m17 -6h1m-22 -12h1m30 3h1m-39 5h1m39 26h1m-14 -24h1m-3 1h1m5 28h1m-12 -31h1m-2 -14h1m-6 0h1m-12 3h1m15 4h1m-29 14h1m5 -9h1m6 25h1m28 -23h1m-30 -25h1m9 15h1m12 -17h1m-11 62h1m13 -50h1m-7 4h1m2 12h1m-5 12h1m10 2h1m5 -20h1m-2 18h1m-56 -34h1m42 15h1m-13 -14h1m-27 33h1m50 -10h1m-33 7h1m12 -1h1m21 -38h1m-19 32h1m-13 3h1m18 -13h1m-28 -5h1m11 33h1m15 -18h1m-21 -22h1m9 40h1m-22 -9h1m-3 -17h1m23 14h1m2 -5h1m1 -14h1m-19 4h1m18 -1h1m-22 -1h1m10 -18h1m2 12h1m9 24h1m-29 6h1m26 8h1m8 -14h1m-46 7h1m20 -25h1m-18 -4h1m27 -19h1m-30 19h1m14 -4h1m-9 19h1m6 14h1m8 -1h1m-3 -11h1m-13 6h1m13 -10h1m-13 -20h1m24 56h1m-8 -28h1m-9 -17h1m-5 17h1m22 -45h1m-26 39h1m12 0h1m-16 -3h1m-12 6h1m14 -33h1m-19 15h1m-4 10h1m30 -14h1m-32 19h1m3 -8h1m29 3h1m-8 4h1m1 22h1m-37 -28h1m39 8h1m-13 9h1m-13 -12h1m29 19h1m-20 -24h1m4 -2h1m-7 -11h1m8 3h1m19 8h1m-19 -35h1m3 48h1m0 18h1m-25 -36h1m0 -6h1m24 5h1m-19 18h1m-2 6h1m9 -33h1m-29 23h1m58 4h1m-23 -27h1m-3 28h1m5 3h1m-13 7h1m-5 -1h1m-37 17h1m25 -27h1m-13 10h1m25 -16h1m-11 -3h1m-25 -1h1m7 3h1m23 -2h1m11 -3h1m-39 14h1m32 -8h1m-14 -12h1m-8 31h1m4 -16h1m20 10h1m-12 -30h1m-12 37h1m3 -41h1m22 14h1m-16 20h1m5 -20h1m-11 27h1m-16 -11h1m9 -28h1m-5 55h1m2 -42h1m-2 5h1m2 -8h1m-11 12h1m26 -31h1m-32 48h1m-23 -49h1m35 44h1m27 -14h1m-21 -9h1m-11 3h1m16 -10h1m-39 28h1m56 -17h1m-31 18h1m-6 -1h1m5 -35h1m-14 20h1m28 17h1m-33 -18h1m36 14h1m-6 -22h1m-21 18h1m-21 -17h1m23 16h1m-12 1h1m-1 12h1m-9 -13h1m26 1h1m-29 -23h1m19 20h1m-29 5h1m54 -1h1m-44 -12h1m29 6h1m-9 2h1m-21 10h1m-22 -22h1m30 1h1m-25 36h1m19 -15h1m11 -14h1m-31 12h1m-9 14h1m37 -61h1m5 13h1m-3 14h1m-37 -6h1m20 22h1m-17 -11h1m3 5h1m-8 -16h1m28 15h1m10 -13h1m-4 0h1m-34 21h1m22 -29h1m-7 -7h1m-1 20h1m-16 2h1m23 -7h1m-18 0h1m13 5h1m1 -4h1m0 -9h1m-37 8h1m24 14h1m11 7h1m-21 -13h1m4 27h1m-1 -20h1m0 -10h1m7 30h1m-30 -27h1m18 -11h1m-17 6h1m16 -14h1m-12 9h1m-3 40h1m33 -28h1m-8 -2h1m25 -11h1m-33 12h1m4 3h1m3 -3h1m-12 36h1m17 -49h1m-10 32h1m16 27h1m-21 -19h1m26 -4h1m0 -20h1m-5 -3h1m-19 -11h1m36 2h1m-29 16h1m-18 2h1m27 11h1m-6 -17h1m-12 15h1m-28 -11h1m19 -4h1m54 22h1m-64 -8h1m-3 -29h1m28 22h1m-28 -6h1m27 -3h1m-16 23h1m15 -17h1m-27 -8h1m24 7h1m-10 -15h1m27 7h1m-22 -1h1m-18 14h1m31 0h1m-19 4h1m14 -32h1m-21 28h1m20 -5h1m-25 -8h1m15 17h1m7 -10h1m1 7h1m-30 5h1m-20 -19h1m14 16h1m10 6h1m-21 -14h1m26 -12h1m-30 27h1m24 -10h1m21 6h1m-32 2h1m17 -4h1m-12 -3h1m-11 -15h1m24 12h1m-44 -14h1m39 4h1m-19 1h1m-5 12h1m14 -8h1m-17 -3h1m7 9h1m-9 -15h1m-9 1h1m15 9h1m-12 7h1m8 -6h1m-1 11h1m6 -11h1m8 -12h1m-13 20h1m16 -12h1m-13 2h1m-17 6h1m37 -1h1m-23 -14h1m-38 -1h1m13 6h1m22 -12h1m3 21h1m-20 -17h1m7 15h1m8 22h1m-27 -26h1m38 -5h1m-9 21h1m-7 -11h1m-18 14h1m2 -25h1m-1 5h1m20 9h1m-28 -9h1m40 23h1m-36 -10h1m25 -9h1m-8 -6h1m-18 12h1m-1 -11h1m-3 13h1m-5 8h1m-9 -10h1m12 -6h1m12 -7h1m-25 -12h1m13 5h1m21 -9h1m-38 20h1m35 21h1m-32 -6h1m18 -13h1m-13 -7h1m8 -6h1m-15 18h1m-10 -6h1m28 -6h1m-8 15h1m0 -3h1m-5 7h1m19 -21h1m-13 -1h1m-34 17h1m-3 -22h1m5 13h1m15 17h1m-36 -35h1m33 14h1m8 -4h1m11 35h1m-33 -29h1m23 26h1m-31 -36h1m42 11h1m-6 16h1m8 -18h1m-41 21h1m14 -25h1m12 29h1m-6 -22h1m6 -4h1m-10 21h1m2 -14h1m-6 10h1m-17 -5h1m4 -9h1m15 18h1m-42 -47h1m5 -4h1m11 -3h1m12 10h1m-7 -6h1m6 12h1m-29 -25h1m-3 19h1m0 -3h1m19 13h1m-17 -14h1m-4 3h1m-17 -8h1m26 7h1m1 6h1m-20 -8h1m22 15h1m-6 -13h1m-9 -1h1m-8 -2h1m22 -4h1m5 5h1m-37 12h1m6 -8h1m7 -3h1m-3 1h1m-10 -12h1m19 8h1m8 7h1m-33 -7h1m-4 1h1m24 3h1m-19 -2h1m42 11h1m-23 -26h1m46 64h1m1 -8h1m3 -15h1m-21 3h1m7 9h1m28 -1h1m-29 8h1m-16 -7h1m17 -11h1m0 10h1m-1 20h1m16 -24h1m13 -52h1m-9 6h1m-31 45h1m6 -50h1m4 26h1" stroke="#000" stroke-width="1.0" fill="none" opacity="0.86"/>
<path d="M949 2071.5h1m8 -10h1m-12 4h1m-3 -3h1m4 -10h1m4 8h1m-7 13h1m5 -19h1m-11 4h1m1 -7h1m6 7h1m-3 3h1m7 -17h1m-6 18h1m-6 -1h1m-5 -3h1m-1 16h1m-1 -2h1m2 -5h1m2 -2h1m1 -8h1m-2 1h1m-1 3h1m2 -14h1m-4 9h1m-13 11h1m-1 25h1m2 -28h1m0 13h1m12 -7h1m-10 -22h1m-2 10h1m-3 26h1m-1 -17h1m4 10h1m-8 -12h1m7 -15h1m1 10h1m-7 6h1m5 9h1m-13 -26h1m-2 4h1m-1 3h1m9 14h1m-6 -37h1m3 32h1m-7 5h1m11 -9h1m-10 -8h1m11 16h1m-8 -21h1m-3 -4h1m-3 31h1m0 -35h1m-1 27h1m6 1h1m-11 -16h1m9 3h1m-15 7h1m13 0h1m0 -27h1m-7 14h1m-9 13h1m6 7h1m2 -2h1m1 -4h1m6 -18h1m-13 8h1m-15 17h1m11 -6h1m8 -6h1m-12 -6h1m12 -16h1m-7 26h1m-6 2h1m-6 0h1m13 -13h1m-6 -4h1m1 24h1m-7 -18h1m5 11h1m-10 5h1m1 -6h1m-1 -10h1m2 8h1m-5 10h1m-7 -20h1m8 12h1m13 -23h1m-17 13h1m-3 24h1m13 -10h1m-9 -5h1m1 -16h1m-12 12h1m2 0h1m1 -8h1m-2 17h1m7 -4h1m5 23h1m-6 -37h1m3 12h1m-8 2h1m-1 -6h1m-9 11h1m-2 16h1m6 -24h1m0 -1h1m3 2h1m4 1h1m-7 10h1m-1 -13h1m-8 5h1m1 9h1m-3 -17h1m-1 5h1m1 -9h1m-2 0h1m6 11h1m1 -2h1m-4 -9h1m0 -11h1m-9 29h1m-1 2h1m-3 -10h1m12 7h1m-7 -5h1m2 -17h1m-5 11h1m-2 2h1m3 17h1m-2 -17h1m-9 17h1m-6 6h1m17 -23h1m-9 8h1m1 -6h1m2 5h1m-10 -6h1m6 1h1m-6 15h1m1 -17h1m4 16h1m-17 -15h1m10 1h1m3 -18h1m-5 15h1m-2 -1h1m1 12h1m2 -8h1m-9 5h1m-4 8h1m10 -6h1m-6 -14h1m6 5h1m-11 -6h1m3 26h1m9 -26h1m-17 15h1m10 -18h1m2 20h1m-14 3h1m-1 0h1m4 -6h1m1 -11h1m-5 -6h1m0 8h1m10 -18h1m-8 17h1m4 -8h1m-15 3h1m6 -2h1m-1 31h1m-3 -24h1m6 -16h1m-6 32h1m-3 -6h1m-1 -13h1m-2 10h1m14 3h1m-13 -3h1m5 16h1m2 -23h1m-9 -1h1m-12 5h1m7 -13h1m-1 11h1m0 6h1m1 -12h1m-1 -1h1m-2 10h1m-1 6h1m-3 -31h1m12 21h1m-10 5h1m0 -5h1m-3 17h1m10 -22h1m-11 20h1m3 -12h1m-15 -6h1m10 -6h1m0 4h1m-10 17h1m2 -6h1m1 -3h1m-4 10h1m-4 -25h1m6 10h1m-4 2h1m7 8h1m-6 -14h1m-13 14h1m12 7h1m-2 -12h1m12 -12h1m-12 2h1m-1 18h1m-5 -23h1m3 16h1m-6 10h1m12 11h1m-14 -19h1m-8 -3h1m11 -2h1m-8 8h1m5 -20h1m-7 3h1m14 9h1m-8 8h1m-2 -6h1m-14 1h1m-2 -23h1m16 43h1m-6 -23h1m-7 8h1m7 -14h1m7 1h1m-7 17h1m-8 -4h1m-6 5h1m-1 4h1m6 -21h1m-4 14h1m4 -18h1m-7 18h1m-8 -9h1m9 -18h1m-4 31h1m12 -26h1m-16 5h1m10 20h1m-6 -15h1m4 12h1m-4 -16h1m3 -15h1m-3 23h1m-11 -22h1m11 22h1m-3 4h1m-9 -5h1m1 -3h1m-1 -15h1m-2 30h1m2 -10h1m1 3h1m-10 -6h1m14 10h1m-10 -7h1m-5 -8h1m5 13h1m1 4h1m-7 -17h1m5 0h1m4 5h1m-8 12h1m1 0h1m-7 -2h1m-2 -26h1m2 12h1m-3 4h1m-5 3h1m-5 4h1m7 -6h1m5 1h1m-10 7h1m5 -11h1m-11 9h1m5 -5h1m2 -2h1m-4 -2h1m-6 15h1m14 -11h1m-6 4h1m-1 -13h1m7 -1h1m-7 4h1m-1 -3h1m-4 -2h1m-9 22h1m1 -7h1m11 -2h1m-11 2h1m5 8h1m2 -6h1m-12 -2h1m6 -8h1m-3 4h1m-6 -14h1m6 23h1m-11 -1h1m9 -2h1m8 18h1m-13 -22h1m-4 -8h1m-2 9h1m-8 8h1m12 -18h1m-5 19h1m3 -25h1m-3 15h1m-8 5h1m2 7h1m10 -21h1m-8 26h1m3 -18h1m-6 -10h1m1 7h1m1 -1h1m-8 17h1m10 -21h1m-7 19h1m-5 21h1m3 -31h1m-2 7h1m2 1h1m-6 -8h1m7 -8h1m3 -5h1m-13 -2h1m5 12h1m-1 2h1m-11 10h1m10 -8h1m-5 1h1m-1 -6h1m1 7h1m-4 -2h1m6 -10h1m-3 7h1m1 18h1m-5 -27h1m3 0h1m-4 14h1m5 -15h1m-5 11h1m-2 -4h1m-5 -4h1m-1 10h1m-8 -1h1m5 -1h1m-2 -5h1m1 22h1m-9 -25h1m6 16h1m-6 4h1m11 -9h1m-2 -4h1m1 5h1m-8 -3h1m6 -7h1m-13 0h1m3 2h1m6 1h1m-15 -1h1m2 6h1m9 -10h1m-8 9h1m-3 -1h1m4 0h1m-5 -13h1m0 21h1m2 -19h1m-1 11h1m-5 -4h1m5 -4h1m-6 -5h1m7 22h1m-7 -3h1m2 5h1m0 0h1m3 -5h1m-8 -16h1m6 7h1m0 -5h1m-8 14h1m-2 -20h1m0 -3h1m-10 0h1m10 20h1m-4 -2h1m1 0h1m-11 18h1m10 -28h1m5 -3h1m-10 2h1m-10 23h1m10 -26h1m-2 5h1m-8 5h1m4 -2h1m2 12h1m7 -15h1m-16 3h1m5 -6h1m-6 -3h1m3 2h1m6 6h1m-6 18h1m-2 -21h1m-7 21h1m6 -28h1m2 3h1m-14 23h1m6 -7h1m4 -1h1m-2 -6h1m-4 8h1m-4 -4h1m8 1h1m-11 -3h1m9 -2h1m-12 -9h1m0 16h1m0 0h1m-10 -14h1m11 12h1m-1 -20h1m-5 26h1m1 -15h1m-1 22h1m-8 -1h1m13 -28h1m-5 13h1m0 5h1m2 5h1m-5 -5h1m-7 -1h1m5 9h1m-4 -14h1m1 10h1m6 -7h1m-10 -8h1m4 19h1m-11 -19h1m0 2h1m-8 3h1m17 11h1m-6 -2h1m-4 -12h1m9 21h1m0 -16h1m-8 4h1m6 -13h1m-13 -5h1m1 11h1m0 10h1m-2 -5h1m4 -14h1m3 20h1m-3 -17h1m-11 8h1m2 25h1m4 -36h1m-7 14h1m6 -14h1m-7 8h1m4 22h1m-6 -22h1m6 -10h1m-6 24h1m-4 -25h1m4 15h1m6 -3h1m-6 -6h1m-3 16h1m-9 2h1m2 -12h1m1 -5h1m-10 19h1m4 -3h1m10 -15h1m-5 8h1m-5 -3h1m7 2h1m-10 -3h1m2 8h1m-8 15h1m0 -13h1m13 -1h1m-3 -4h1m-7 -23h1m-1 6h1m-8 15h1m5 -6h1m1 9h1m2 -26h1m-9 26h1m7 -5h1m-12 13h1m6 -1h1m6 0h1m-13 -1h1m8 -21h1m-6 6h1m2 23h1m3 -37h1m-4 22h1m-6 -4h1m1 13h1m-10 -16h1m11 7h1m-9 -16h1m2 -1h1m2 20h1m-1 -2h1m-4 -2h1m-3 -2h1m-2 -3h1m1 3h1m3 0h1m-3 10h1m-2 -9h1m2 0h1m-1 15h1m3 -27h1m-8 29h1m-4 -17h1m6 -4h1m0 16h1m-2 -10h1m-6 0h1m-5 -16h1m8 15h1m3 -7h1m3 -1h1m-9 14h1m-10 -5h1m-2 2h1m5 -24h1m-5 21h1m-3 8h1m6 -16h1m-6 -9h1m6 20h1m-2 -13h1m-11 10h1m2 -1h1m6 18h1m-6 -29h1m7 15h1m0 -5h1m-3 -4h1m2 -5h1m-17 15h1m9 -17h1m-4 7h1m0 16h1m1 -12h1m-1 17h1m11 -20h1m-1 7h1m-6 18h1m1 -8h1m-12 -19h1m10 -2h1m-9 8h1m3 -5h1m-5 25h1m-6 -23h1m1 7h1m0 5h1m-6 17h1m4 -33h1m-1 25h1m10 -18h1m-13 10h1m-3 -13h1m14 -8h1m-14 -6h1m-4 12h1m4 4h1m9 -6h1m-10 5h1m7 -10h1m-13 3h1m0 13h1m7 2h1m3 -10h1m-12 11h1m9 5h1m-13 -11h1m1 9h1m9 -23h1m-10 22h1m-7 -4h1m12 11h1m-3 -18h1m-15 2h1m10 -19h1m3 11h1m-12 19h1m-1 -4h1m4 -9h1m-9 6h1m9 -8h1m-2 17h1m-4 -22h1m-4 13h1m6 -6h1m-3 -4h1m4 -4h1m-4 1h1m-4 4h1m-7 2h1m15 -1h1m-6 6h1m-10 -1h1m7 -11h1m-8 6h1m-3 9h1m10 7h1m-13 -13h1m5 13h1m-1 -14h1m-6 4h1m-9 -13h1m18 6h1m0 -4h1m-8 13h1m-2 -11h1m5 21h1m-2 -28h1m-4 34h1m-4 -27h1m3 11h1m-1 -13h1m-13 2h1m8 22h1m4 -13h1m1 -24h1m-6 20h1m-3 -7h1m10 22h1m-3 -19h1m-4 4h1m-6 -1h1m6 2h1m-7 -14h1m-3 13h1m5 12h1m-2 -5h1m-6 -9h1m-2 34h1m0 -35h1m-3 24h1m7 -22h1m-5 9h1m-3 -8h1m-7 6h1m14 5h1m-16 4h1m3 -9h1m14 1h1m-6 -19h1m-4 13h1m-3 10h1m4 -14h1m-10 12h1m-5 -20h1m11 7h1m-8 16h1m-7 -3h1m8 -17h1m5 -2h1m-15 12h1m11 8h1m-11 0h1m6 6h1m0 -5h1m-10 -15h1m8 3h1m-1 -9h1m-5 16h1m1 -2h1m11 7h1m-22 -7h1m9 4h1m-3 -14h1m-4 30h1m-2 -26h1m3 2h1m4 4h1m-8 7h1m-2 -17h1m10 9h1m-8 -12h1m2 25h1m-6 -9h1m-7 10h1m12 -14h1m-7 -14h1m0 23h1m-1 -8h1m-4 -11h1m-6 -2h1m15 18h1m-7 -6h1m-6 7h1m3 -21h1m1 3h1m-17 12h1m18 3h1m-9 -3h1m0 12h1m3 -28h1m-2 -2h1m-6 14h1m-1 2h1m0 -8h1m-1 11h1m-4 -1h1m-1 5h1m-5 -3h1m0 -3h1m7 5h1m-7 -4h1m6 -6h1m9 -5h1m-20 -3h1m14 19h1m-11 19h1m1 -25h1m-7 6h1m10 -18h1m-5 18h1m-1 -3h1m-7 5h1m8 -17h1m-1 20h1m8 -12h1m-17 -10h1m-4 8h1m10 5h1m-6 -13h1m-9 32h1m12 -14h1m-7 5h1m-13 -7h1m8 -9h1m8 -5h1m4 0h1m-17 -10h1m7 26h1m5 -5h1m-3 -1h1m-5 -17h1m-5 2h1m1 27h1m-6 -4h1m5 -1h1m-1 0h1m-7 -7h1m9 6h1m0 -12h1m-17 5h1m13 1h1m-8 3h1m5 -10h1m-10 -4h1m15 3h1m-2 -11h1m-13 3h1m11 7h1m-20 5h1m8 -13h1m-1 19h1m-3 -5h1m2 -3h1m-2 3h1m-5 -7h1m7 16h1m-4 -5h1m4 11h1m-14 -11h1m9 -5h1m2 -8h1m-9 11h1m-3 -1h1m11 -6h1m-2 19h1m-9 -9h1m1 12h1m1 -17h1m-4 22h1m-1 -2h1m-2 -35h1m3 9h1m2 8h1m3 11h1m-10 -19h1m-4 8h1m-3 1h1m-4 -9h1m8 8h1m0 14h1m0 -5h1m2 -10h1m-11 9h1m13 -20h1m-4 -6h1m0 29h1m-14 -8h1m-1 -10h1m-8 6h1m14 6h1m-6 1h1m-3 -1h1m-1 -5h1m-7 -1h1m15 -15h1m-8 11h1m9 -1h1m-5 -1h1m-6 0h1m2 5h1m-3 5h1m-5 -15h1m0 7h1m1 3h1m0 5h1m3 -3h1m-6 -5h1m-9 3h1m9 12h1m5 -27h1m-15 28h1m13 -12h1m-17 -3h1m4 -11h1m10 18h1m-13 2h1m3 -20h1m-1 10h1m-1 14h1m5 -3h1m-12 -6h1m12 -5h1m-4 20h1m-11 -32h1m7 0h1m-7 6h1m1 17h1m2 0h1m-10 0h1m4 -13h1m1 -1h1m-2 6h1m4 -7h1m-8 9h1m-2 5h1m7 -18h1m-7 10h1m2 -1h1m3 -15h1m1 22h1m-14 -21h1m12 36h1m-8 -32h1m2 18h1m-8 -11h1m0 17h1m2 -8h1m0 -5h1m-12 6h1m4 1h1m9 -4h1m-11 11h1m10 -6h1m-10 2h1m-1 4h1m8 -20h1m-3 -3h1m5 18h1m-27 1h1m18 -13h1m-5 -4h1m2 8h1m0 0h1m-12 9h1m3 -2h1m8 -23h1m-12 16h1m1 2h1m7 -4h1m-3 13h1m1 -5h1m-3 -9h1m-2 -1h1m2 -1h1m-5 15h1m14 -15h1m-17 10h1m-1 -8h1m0 1h1m-5 20h1m3 -6h1m-8 0h1m1 -11h1m1 -7h1m5 -2h1m-3 12h1m1 -16h1m-4 5h1m-1 2h1m0 -5h1m3 19h1m-8 3h1m2 1h1m-7 -4h1m4 0h1m-4 2h1m2 -13h1m6 11h1m-13 -5h1m8 -12h1m-5 7h1m2 17h1m-7 -18h1m8 -1h1m-9 7h1m-10 -5h1m7 -5h1m-1 -9h1m5 5h1m1 9h1m-4 2h1m-10 -3h1m10 17h1m-1 -4h1m-10 0h1m2 -3h1m3 -14h1m-11 11h1m6 -5h1m-2 -1h1m4 -10h1m-1 9h1m-10 21h1m6 -22h1m-3 11h1m4 -15h1m-4 2h1m4 12h1m-10 -21h1m-1 -6h1m2 43h1m-2 -17h1m1 -3h1m-8 -1h1m16 6h1m-16 -2h1m14 -6h1m-12 -1h1m4 7h1m-11 -4h1m7 -1h1m-9 -14h1m8 22h1m3 -1h1m-3 -13h1m-11 7h1m1 2h1m5 -4h1m3 9h1m-5 5h1m0 -23h1m-1 1h1m-16 18h1m5 -22h1m1 8h1m8 -6h1m-7 20h1m-9 4h1m4 -27h1m3 20h1m-12 10h1m0 -20h1m10 12h1m-7 -5h1m31 -5h1m-22 -5h1m-17 33h1m29 -18h1m-15 -31h1m-11 -1h1m47 15h1m-37 -12h1m19 6h1m-30 1h1m14 14h1m5 10h1m-9 -15h1m-10 6h1m-18 -24h1m22 27h1m-19 -4h1m-1 0h1m8 17h1m-1 -21h1m15 -4h1m-34 -3h1m6 29h1m44 -17h1m-19 0h1m-44 17h1m36 -31h1m-23 -4h1m10 11h1m-7 18h1m28 -38h1m-16 -3h1m-12 46h1m-3 -14h1m-1 -13h1m7 15h1m19 -5h1m-50 -13h1m27 -4h1m-15 -4h1m3 27h1m1 -6h1m4 -13h1m27 -3h1m4 15h1m-16 -6h1m-3 -9h1m-18 6h1m-28 -2h1m35 14h1m-18 -20h1m23 -19h1m-21 2h1m7 28h1m4 4h1m-23 -11h1m3 27h1m3 -17h1m29 0h1m-24 8h1m18 -11h1m-33 -1h1m32 -3h1m-22 -7h1m-16 28h1m32 19h1m-6 -21h1m-6 -15h1m-10 17h1m-14 -16h1m-2 -11h1m6 4h1m33 28h1m-41 -40h1m21 14h1m7 25h1m-24 -18h1m9 -23h1m3 22h1m7 -2h1m-19 10h1m20 -18h1m16 3h1m-37 25h1m18 -27h1m-38 9h1m-2 4h1m17 -14h1m-10 9h1m9 -6h1m16 3h1m0 17h1m-28 -34h1m27 -10h1m-14 2h1m-20 36h1m26 -18h1m-5 1h1m1 -9h1m-14 28h1m-23 -16h1m30 -10h1m14 12h1m-15 5h1m-20 -15h1m8 4h1m-8 16h1m9 -6h1m-17 2h1m5 1h1m20 -1h1m7 8h1m-31 0h1m5 -16h1m16 -4h1m11 -5h1m-20 4h1m27 2h1m-20 5h1m-12 -16h1m10 16h1m-13 5h1m-27 -5h1m44 27h1m-14 -16h1m-6 5h1m2 -21h1m25 -7h1m-40 2h1m8 22h1m23 1h1m-24 -7h1m-20 -16h1m4 0h1m2 20h1m6 16h1m3 -36h1m-12 31h1m3 -31h1m15 21h1m-40 -1h1m33 -23h1m-12 26h1m17 -10h1m-20 -17h1m-7 35h1m13 -7h1m14 -18h1m-2 1h1m-33 16h1m39 -4h1m-2 -12h1m-32 10h1m19 -21h1m-22 -15h1m25 38h1m8 -4h1m-49 -11h1m6 25h1m13 -16h1m23 -6h1m-23 21h1m10 -30h1m-14 35h1m28 -34h1m-13 15h1m-8 8h1m0 -23h1m-3 2h1m-1 -8h1m-9 9h1m10 11h1m-13 7h1m16 -15h1m14 -17h1m-32 -6h1m0 38h1m13 0h1m-1 -20h1m-10 11h1m12 -6h1m-9 30h1m-16 -29h1m47 -6h1m-21 -10h1m-34 27h1m11 -5h1m13 -13h1m-7 23h1m2 -19h1m16 17h1m-49 -13h1m44 15h1m-27 -9h1m-31 1h1m0 33h1m10 -27h1m48 -5h1m-31 49h1m-15 -33h1m8 4h1m27 -31h1m-10 12h1m-4 10h1m-10 12h1m0 -29h1m15 -8h1m-16 35h1m-21 -13h1m1 -26h1m22 29h1m-27 -7h1m-2 -8h1m4 -5h1m10 16h1m31 19h1m-30 -24h1m-6 8h1m19 -22h1m-24 11h1m0 -16h1m-4 -8h1m14 17h1m-35 29h1m16 -40h1m12 18h1m17 1h1m-12 -6h1m16 16h1m-24 3h1m-1 4h1m-22 -25h1m17 -23h1m2 19h1m-26 -23h1m26 49h1m-6 9h1m-12 -16h1m-9 -3h1m23 7h1m-22 -5h1m31 -9h1m-10 10h1m4 2h1m-20 -17h1m2 -22h1m-35 22h1m44 12h1m-22 -22h1m4 14h1m-3 3h1m7 1h1m21 -12h1m-30 13h1m15 12h1m-4 -13h1m-3 1h1m-4 -11h1m23 30h1m-37 -21h1m33 -27h1m-20 39h1m1 -28h1m-16 0h1m11 38h1m13 -33h1m-13 17h1m-5 -28h1m-26 16h1m34 3h1m-4 19h1m-7 -22h1m-4 -25h1m20 48h1m-35 -48h1m3 27h1m27 21h1m-24 -30h1m-6 30h1m20 -11h1m5 -20h1m7 23h1m-32 -14h1m5 -16h1m-15 31h1m9 -12h1m-19 -7h1m24 2h1m22 24h1m-23 22h1m-13 -21h1m-3 -18h1m14 13h1m-9 -54h1m14 53h1m-22 -35h1m1 27h1m6 15h1m20 -26h1m-30 11h1m10 -10h1m12 39h1m-9 -20h1m13 -14h1m-4 0h1m-4 -2h1m-23 13h1m26 16h1m-1 -31h1m-24 35h1m-2 -17h1m1 -29h1m-6 29h1m15 1h1m2 -15h1m-2 17h1m11 -22h1m-26 5h1m25 -15h1m-30 10h1m-16 20h1m31 -34h1m-36 19h1m41 4h1m0 -12h1m-20 30h1m-11 -6h1m-1 -3h1m26 -5h1m-13 14h1m-17 -36h1m8 1h1m22 2h1m-25 12h1m-1 3h1m12 -10h1m-25 1h1m25 33h1m-23 -32h1m12 3h1m-5 16h1m6 3h1m-15 3h1m-6 -12h1m29 -14h1m-10 24h1m12 -17h1m-19 34h1m-19 -29h1m13 -21h1m1 7h1m-4 -1h1m25 13h1m-31 -9h1m0 -12h1m20 19h1m-41 -3h1m39 0h1m-24 -17h1m-3 9h1m9 5h1m6 -1h1m-30 11h1m33 5h1m-8 -10h1m8 -15h1m5 27h1m-19 -10h1m6 -16h1m-12 5h1m20 3h1m10 -4h1m-25 0h1m-12 0h1m6 -3h1m14 -15h1m-4 25h1m-30 -13h1m27 3h1m-13 5h1m32 22h1m-30 -3h1m-10 -7h1m-14 -9h1m20 -10h1m12 7h1m-20 16h1m4 -8h1m22 21h1m-34 -30h1m1 16h1m-8 -6h1m61 -39h1m-59 33h1m16 -22h1m-20 34h1m2 8h1m-4 -10h1m2 1h1m21 -2h1m-21 5h1m14 9h1m-37 -6h1m23 -9h1m1 17h1m-21 -37h1m26 19h1m-8 -9h1m-2 -33h1m-14 21h1m-7 25h1m31 -22h1m-14 35h1m-25 -16h1m23 -9h1m-1 5h1m-12 5h1m19 -13h1m14 21h1m-32 23h1m15 -49h1m23 2h1m-37 -1h1m-15 -3h1m31 -5h1m-14 40h1m-22 -40h1m14 0h1m-6 8h1m-3 25h1m22 -26h1m-12 21h1m12 -8h1m-19 -34h1m17 50h1m-12 -18h1m3 20h1m5 -23h1m10 4h1m-20 -13h1m1 5h1m5 39h1m-19 -26h1m11 -21h1m-1 10h1m24 45h1m-31 -43h1m-19 -12h1m18 10h1m26 8h1m-1 5h1m-20 -16h1m38 47h1m-43 -38h1m22 -6h1m-19 2h1m-3 2h1m11 5h1m-2 -17h1m-14 28h1m16 2h1m-10 -13h1m9 -3h1m6 0h1m2 15h1m-17 -34h1m11 6h1m10 19h1m-24 3h1m-4 -10h1m28 -11h1m-28 1h1m26 20h1m-30 -25h1m4 26h1m5 -13h1m2 17h1m-10 -2h1m-14 -5h1m13 2h1m-15 0h1m13 1h1m1 -21h1m24 3h1m-52 4h1m27 11h1m-29 -18h1m28 -5h1m12 24h1m-24 -26h1m-6 31h1m40 -3h1m-17 17h1m-3 -28h1m-23 4h1m19 3h1m23 15h1m-17 -17h1m-21 -22h1m-20 16h1m10 -8h1m5 11h1m-15 3h1m20 10h1m1 -2h1m-11 -10h1m21 11h1m-11 -13h1m21 18h1m-36 -24h1m-22 13h1m-1 1h1m40 -14h1m-30 25h1m2 -3h1m5 -9h1m-24 7h1m36 -8h1m-17 -4h1m-12 -4h1m15 5h1m-10 -2h1m-20 -15h1m11 27h1m-19 3h1m11 -22h1m39 2h1m-3 20h1m-32 -3h1m6 -9h1m16 7h1m-24 -5h1m13 12h1m1 -6h1m-33 -1h1m31 -13h1m-9 8h1m4 0h1m-7 -12h1m27 17h1m-21 -1h1m-23 -13h1m0 7h1m28 5h1m-27 4h1m-4 -10h1m25 3h1m-37 5h1m7 7h1m26 -20h1m-13 20h1m4 -30h1m-11 1h1m15 15h1m13 -4h1m-36 20h1m-5 -4h1m40 -12h1m-38 -16h1m-5 31h1m11 -26h1m-9 1h1m28 -3h1m-9 -23h1m11 39h1m-32 3h1m17 -38h1m5 39h1m10 -1h1m-31 3h1m28 1h1m-20 -39h1m2 32h1m4 -12h1m-28 14h1m28 -19h1m9 14h1m-18 9h1m30 -31h1m-34 3h1m5 21h1m-13 14h1m-3 -42h1m16 26h1m-23 3h1m24 -11h1m5 -18h1m-17 35h1m-13 -22h1m8 22h1m23 -14h1m-38 4h1m-13 -16h1m52 24h1m-6 -6h1m-24 -6h1m-17 -10h1m29 22h1m-42 -33h1m-27 -15h1m30 0h1m-3 11h1m-4 4h1m11 -2h1m13 -9h1m-20 6h1m10 -12h1m-21 10h1m-1 17h1m1 -20h1m10 -3h1m1 6h1m-2 7h1m-26 -8h1m16 10h1m27 -14h1m-12 11h1m-29 7h1m-10 -18h1m31 -10h1m-9 18h1m10 -6h1m-2 -4h1m-4 11h1m-5 -1h1m7 -8h1m0 -5h1m-45 12h1m40 -3h1m-2 -4h1m0 3h1m-12 -16h1m-15 13h1m35 3h1m34 20h1m-1 9h1m2 21h1m-10 -1h1m10 -24h1m-1 -15h1m-1 17h1m-13 2h1m20 13h1m-22 -22h1m-8 3h1m2 14h1m15 -58h1m1 36h1m13 7h1m-11 -22h1m10 24h1" stroke="#000" stroke-width="1.0" fill="none" opacity="0.86"/>
<path d="M997.3 1914.2L997.3 2116.2" stroke="#000" stroke-width="2.2" fill="none" />
<path d="M899.6 2035.9L1111.3 2035.9" stroke="#000" stroke-width="2.0" fill="none" />
<text x="908.2" y="1942.4" font-size="18.2" textLength="25.2" lengthAdjust="spacingAndGlyphs">2.1</text>
<text x="1093.2" y="1942.4" font-size="18.2" text-anchor="end" textLength="25.8" lengthAdjust="spacingAndGlyphs">0.2</text>
<text x="908.2" y="2098.6" font-size="18.2" textLength="36.6" lengthAdjust="spacingAndGlyphs">96.3</text>
<text x="1093.2" y="2098.6" font-size="18.2" text-anchor="end" textLength="25.8" lengthAdjust="spacingAndGlyphs">1.3</text>
</svg>
</body></html>
